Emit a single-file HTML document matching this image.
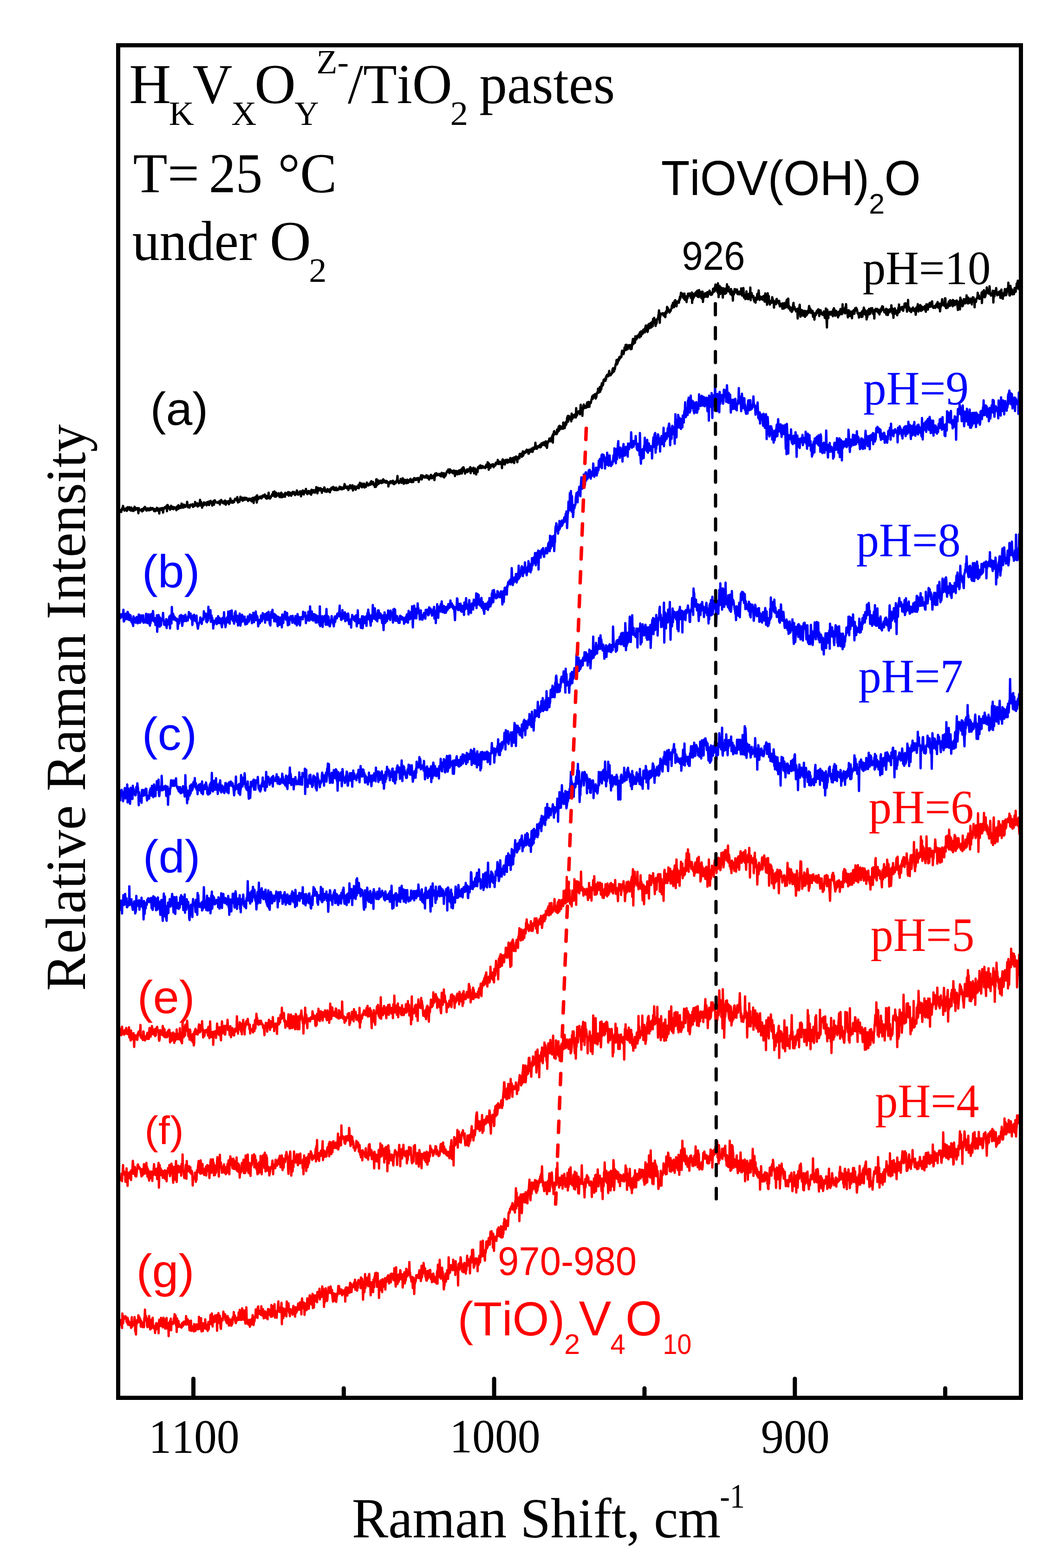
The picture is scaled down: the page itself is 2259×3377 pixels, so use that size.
<!DOCTYPE html>
<html><head><meta charset="utf-8"><title>Raman spectra</title>
<style>html,body{margin:0;padding:0;background:#ffffff;}svg{display:block;}</style></head>
<body>
<svg xmlns="http://www.w3.org/2000/svg" width="2259" height="3377" viewBox="0 0 2259 3377">
<path d="M259.0 1100.6 259.8 1098.5 260.5 1100.3 261.2 1102.7 262.0 1097.6 262.8 1098.5 263.5 1093.7 264.2 1095.1 265.0 1089.6 265.8 1094.1 266.5 1095.1 267.2 1096.4 268.0 1099.8 268.8 1098.0 269.5 1096.2 270.2 1095.8 271.0 1094.9 271.8 1097.0 272.5 1095.1 273.2 1100.3 274.0 1095.1 274.8 1092.3 275.5 1095.1 276.2 1094.0 277.0 1096.9 277.8 1096.5 278.5 1092.2 279.2 1097.9 280.0 1094.9 280.8 1096.8 281.5 1099.5 282.2 1098.2 283.0 1093.0 283.8 1096.1 284.5 1099.9 285.2 1100.0 286.0 1097.0 286.8 1097.0 287.5 1100.6 288.2 1094.7 289.0 1096.4 289.8 1091.5 290.5 1093.2 291.2 1094.6 292.0 1098.2 292.8 1095.7 293.5 1094.3 294.2 1095.8 295.0 1096.3 295.8 1094.7 296.5 1094.6 297.2 1095.4 298.0 1105.4 298.8 1094.2 299.5 1097.7 300.2 1099.0 301.0 1098.8 301.8 1098.8 302.5 1098.4 303.2 1099.4 304.0 1099.1 304.8 1096.7 305.5 1096.3 306.2 1101.4 307.0 1097.5 307.8 1097.1 308.5 1099.8 309.2 1097.2 310.0 1093.8 310.8 1095.1 311.5 1094.8 312.2 1091.8 313.0 1093.8 313.8 1097.2 314.5 1095.3 315.2 1099.7 316.0 1098.7 316.8 1095.5 317.5 1094.9 318.2 1096.0 319.0 1099.0 319.8 1095.4 320.5 1096.3 321.2 1096.8 322.0 1099.0 322.8 1096.6 323.5 1093.9 324.2 1093.8 325.0 1097.7 325.8 1096.1 326.5 1097.0 327.2 1097.0 328.0 1094.2 328.8 1095.7 329.5 1096.9 330.2 1095.2 331.0 1097.3 331.8 1100.7 332.5 1096.3 333.2 1097.0 334.0 1101.1 334.8 1099.5 335.5 1098.9 336.2 1099.1 337.0 1095.6 337.8 1093.7 338.5 1099.7 339.2 1094.9 340.0 1095.0 340.8 1096.3 341.5 1097.0 342.2 1099.3 343.0 1106.0 343.8 1095.6 344.5 1095.3 345.2 1095.9 346.0 1097.9 346.8 1094.9 347.5 1094.5 348.2 1096.2 349.0 1098.7 349.8 1097.2 350.5 1094.1 351.2 1104.0 352.0 1097.8 352.8 1095.6 353.5 1095.2 354.2 1094.0 355.0 1092.2 355.8 1094.0 356.5 1094.6 357.2 1092.7 358.0 1094.3 358.8 1089.0 359.5 1100.9 360.2 1094.2 361.0 1087.4 361.8 1090.3 362.5 1093.7 363.2 1094.4 364.0 1091.9 364.8 1094.1 365.5 1093.4 366.2 1097.9 367.0 1093.9 367.8 1095.3 368.5 1089.2 369.2 1094.9 370.0 1095.5 370.8 1095.7 371.5 1093.8 372.2 1091.7 373.0 1096.3 373.8 1096.6 374.5 1094.9 375.2 1092.4 376.0 1093.7 376.8 1092.8 377.5 1095.0 378.2 1094.1 379.0 1093.5 379.8 1098.9 380.5 1096.9 381.2 1091.0 382.0 1093.7 382.8 1096.3 383.5 1094.1 384.2 1088.1 385.0 1095.6 385.8 1091.4 386.5 1091.3 387.2 1090.2 388.0 1092.1 388.8 1093.1 389.5 1093.9 390.2 1091.7 391.0 1084.5 391.8 1089.0 392.5 1086.6 393.2 1092.2 394.0 1093.4 394.8 1088.5 395.5 1086.7 396.2 1086.9 397.0 1089.1 397.8 1092.1 398.5 1091.3 399.2 1091.3 400.0 1088.2 400.8 1090.7 401.5 1087.9 402.2 1089.0 403.0 1080.7 403.8 1087.5 404.5 1089.8 405.2 1092.6 406.0 1088.2 406.8 1090.4 407.5 1089.1 408.2 1093.3 409.0 1087.7 409.8 1089.0 410.5 1086.9 411.2 1087.7 412.0 1087.1 412.8 1088.6 413.5 1089.1 414.2 1088.8 415.0 1085.8 415.8 1091.8 416.5 1087.1 417.2 1088.0 418.0 1088.1 418.8 1089.7 419.5 1089.1 420.2 1081.0 421.0 1088.8 421.8 1086.8 422.5 1087.2 423.2 1087.2 424.0 1086.3 424.8 1083.9 425.5 1091.0 426.2 1086.9 427.0 1089.6 427.8 1089.3 428.5 1084.9 429.2 1088.3 430.0 1083.2 430.8 1076.6 431.5 1085.6 432.2 1088.7 433.0 1080.9 433.8 1085.0 434.5 1084.6 435.2 1093.4 436.0 1088.6 436.8 1086.6 437.5 1086.5 438.2 1088.9 439.0 1082.1 439.8 1082.8 440.5 1086.8 441.2 1084.0 442.0 1082.8 442.8 1083.3 443.5 1086.3 444.2 1083.3 445.0 1088.5 445.8 1081.7 446.5 1084.2 447.2 1081.1 448.0 1081.3 448.8 1081.3 449.5 1080.5 450.2 1087.7 451.0 1084.0 451.8 1080.1 452.5 1080.4 453.2 1078.7 454.0 1083.1 454.8 1080.2 455.5 1084.4 456.2 1084.3 457.0 1088.9 457.8 1080.4 458.5 1080.9 459.2 1079.8 460.0 1083.3 460.8 1087.0 461.5 1077.8 462.2 1079.5 463.0 1077.7 463.8 1081.8 464.5 1082.1 465.2 1082.1 466.0 1081.5 466.8 1082.3 467.5 1082.2 468.2 1083.0 469.0 1082.9 469.8 1083.0 470.5 1080.3 471.2 1082.1 472.0 1081.1 472.8 1082.7 473.5 1086.6 474.2 1078.6 475.0 1077.8 475.8 1080.4 476.5 1076.8 477.2 1079.9 478.0 1082.2 478.8 1079.8 479.5 1079.9 480.2 1083.4 481.0 1080.8 481.8 1082.9 482.5 1084.6 483.2 1079.4 484.0 1081.6 484.8 1078.1 485.5 1081.5 486.2 1087.1 487.0 1082.1 487.8 1083.6 488.5 1083.3 489.2 1079.9 490.0 1083.1 490.8 1082.1 491.5 1081.4 492.2 1079.4 493.0 1086.0 493.8 1080.2 494.5 1082.4 495.2 1082.4 496.0 1073.4 496.8 1079.2 497.5 1080.8 498.2 1082.3 499.0 1081.7 499.8 1078.6 500.5 1080.4 501.2 1082.9 502.0 1081.4 502.8 1079.5 503.5 1081.2 504.2 1081.3 505.0 1076.5 505.8 1076.0 506.5 1074.0 507.2 1074.2 508.0 1074.9 508.8 1075.9 509.5 1074.3 510.2 1078.3 511.0 1070.6 511.8 1075.4 512.5 1082.3 513.2 1076.9 514.0 1076.7 514.8 1078.8 515.5 1080.7 516.2 1077.2 517.0 1074.8 517.8 1069.8 518.5 1076.1 519.2 1074.3 520.0 1072.0 520.8 1075.6 521.5 1075.6 522.2 1078.4 523.0 1071.9 523.8 1077.7 524.5 1072.4 525.2 1075.3 526.0 1076.7 526.8 1076.1 527.5 1071.7 528.2 1073.1 529.0 1075.1 529.8 1075.9 530.5 1074.4 531.2 1072.6 532.0 1075.3 532.8 1075.3 533.5 1075.9 534.2 1078.9 535.0 1076.2 535.8 1074.4 536.5 1073.9 537.2 1076.7 538.0 1076.7 538.8 1076.2 539.5 1077.4 540.2 1074.1 541.0 1075.0 541.8 1079.8 542.5 1075.5 543.2 1075.2 544.0 1072.4 544.8 1079.9 545.5 1075.0 546.2 1083.2 547.0 1071.8 547.8 1072.7 548.5 1074.6 549.2 1072.7 550.0 1071.3 550.8 1069.5 551.5 1076.9 552.2 1076.8 553.0 1082.4 553.8 1066.7 554.5 1076.7 555.2 1071.1 556.0 1072.5 556.8 1074.5 557.5 1071.1 558.2 1071.3 559.0 1070.2 559.8 1071.0 560.5 1069.3 561.2 1072.5 562.0 1072.0 562.8 1073.5 563.5 1072.5 564.2 1068.5 565.0 1071.0 565.8 1068.2 566.5 1066.9 567.2 1068.2 568.0 1067.2 568.8 1069.6 569.5 1068.2 570.2 1065.0 571.0 1069.8 571.8 1069.8 572.5 1072.9 573.2 1073.3 574.0 1068.1 574.8 1074.1 575.5 1070.5 576.2 1070.1 577.0 1072.0 577.8 1067.4 578.5 1061.1 579.2 1072.9 580.0 1072.2 580.8 1073.5 581.5 1073.7 582.2 1072.9 583.0 1071.2 583.8 1069.4 584.5 1067.7 585.2 1068.1 586.0 1064.5 586.8 1066.6 587.5 1067.3 588.2 1059.7 589.0 1066.0 589.8 1068.0 590.5 1059.9 591.2 1058.5 592.0 1069.7 592.8 1067.4 593.5 1066.1 594.2 1069.8 595.0 1061.2 595.8 1068.0 596.5 1066.5 597.2 1065.5 598.0 1065.7 598.8 1066.9 599.5 1067.0 600.2 1062.3 601.0 1069.1 601.8 1063.8 602.5 1070.5 603.2 1064.6 604.0 1068.4 604.8 1070.6 605.5 1061.1 606.2 1061.7 607.0 1070.9 607.8 1066.4 608.5 1070.3 609.2 1064.9 610.0 1065.3 610.8 1068.7 611.5 1069.2 612.2 1064.3 613.0 1065.9 613.8 1069.9 614.5 1061.2 615.2 1062.2 616.0 1065.3 616.8 1064.0 617.5 1063.4 618.2 1062.3 619.0 1065.0 619.8 1062.5 620.5 1059.7 621.2 1066.7 622.0 1067.5 622.8 1065.7 623.5 1060.5 624.2 1063.9 625.0 1061.3 625.8 1064.5 626.5 1063.0 627.2 1067.8 628.0 1064.5 628.8 1064.6 629.5 1060.3 630.2 1059.5 631.0 1061.3 631.8 1062.6 632.5 1063.2 633.2 1059.6 634.0 1064.9 634.8 1060.7 635.5 1066.2 636.2 1062.8 637.0 1063.7 637.8 1061.0 638.5 1062.0 639.2 1056.2 640.0 1058.2 640.8 1064.9 641.5 1061.7 642.2 1061.2 643.0 1065.2 643.8 1061.1 644.5 1060.2 645.2 1061.6 646.0 1058.3 646.8 1060.0 647.5 1058.0 648.2 1068.9 649.0 1062.4 649.8 1062.5 650.5 1064.0 651.2 1063.5 652.0 1056.2 652.8 1059.5 653.5 1062.0 654.2 1065.0 655.0 1058.8 655.8 1057.7 656.5 1058.3 657.2 1060.1 658.0 1058.3 658.8 1053.0 659.5 1061.2 660.2 1059.9 661.0 1060.6 661.8 1064.2 662.5 1059.4 663.2 1061.2 664.0 1057.6 664.8 1057.5 665.5 1059.9 666.2 1062.8 667.0 1058.7 667.8 1059.9 668.5 1058.0 669.2 1063.1 670.0 1065.5 670.8 1054.7 671.5 1060.6 672.2 1060.6 673.0 1060.5 673.8 1060.9 674.5 1055.5 675.2 1057.6 676.0 1058.4 676.8 1056.2 677.5 1058.7 678.2 1061.2 679.0 1056.1 679.8 1054.8 680.5 1057.8 681.2 1049.1 682.0 1056.3 682.8 1052.0 683.5 1062.5 684.2 1058.6 685.0 1050.7 685.8 1054.8 686.5 1053.6 687.2 1056.3 688.0 1053.7 688.8 1054.1 689.5 1051.3 690.2 1055.9 691.0 1054.5 691.8 1052.6 692.5 1058.4 693.2 1061.3 694.0 1053.5 694.8 1056.4 695.5 1057.2 696.2 1054.7 697.0 1055.3 697.8 1054.2 698.5 1049.6 699.2 1051.3 700.0 1058.4 700.8 1057.0 701.5 1057.0 702.2 1056.3 703.0 1059.2 703.8 1055.6 704.5 1056.3 705.2 1053.3 706.0 1054.6 706.8 1058.4 707.5 1058.1 708.2 1056.4 709.0 1055.0 709.8 1053.8 710.5 1060.3 711.2 1054.9 712.0 1056.2 712.8 1055.0 713.5 1050.9 714.2 1052.6 715.0 1050.0 715.8 1052.3 716.5 1053.0 717.2 1051.9 718.0 1048.6 718.8 1054.7 719.5 1055.1 720.2 1052.1 721.0 1050.9 721.8 1055.6 722.5 1051.8 723.2 1054.4 724.0 1050.1 724.8 1054.5 725.5 1055.6 726.2 1052.8 727.0 1055.5 727.8 1054.8 728.5 1053.3 729.2 1054.1 730.0 1051.2 730.8 1050.4 731.5 1048.1 732.2 1049.2 733.0 1053.2 733.8 1049.4 734.5 1049.4 735.2 1050.2 736.0 1054.0 736.8 1052.4 737.5 1050.0 738.2 1053.0 739.0 1050.9 739.8 1049.7 740.5 1052.7 741.2 1048.6 742.0 1042.6 742.8 1048.1 743.5 1045.7 744.2 1049.3 745.0 1050.5 745.8 1050.7 746.5 1051.5 747.2 1050.2 748.0 1048.2 748.8 1049.4 749.5 1048.0 750.2 1055.5 751.0 1051.2 751.8 1051.4 752.5 1047.3 753.2 1048.3 754.0 1045.0 754.8 1046.1 755.5 1051.6 756.2 1048.6 757.0 1049.2 757.8 1048.2 758.5 1050.5 759.2 1045.1 760.0 1056.4 760.8 1051.9 761.5 1048.5 762.2 1049.9 763.0 1050.2 763.8 1047.3 764.5 1052.7 765.2 1052.5 766.0 1054.6 766.8 1051.5 767.5 1048.0 768.2 1049.1 769.0 1049.2 769.8 1048.9 770.5 1050.9 771.2 1048.5 772.0 1044.5 772.8 1051.4 773.5 1047.0 774.2 1045.0 775.0 1039.8 775.8 1041.5 776.5 1042.3 777.2 1047.2 778.0 1045.3 778.8 1041.3 779.5 1049.6 780.2 1045.6 781.0 1042.2 781.8 1043.1 782.5 1047.3 783.2 1045.5 784.0 1041.6 784.8 1049.9 785.5 1044.7 786.2 1043.9 787.0 1048.4 787.8 1048.7 788.5 1045.9 789.2 1044.5 790.0 1039.3 790.8 1044.2 791.5 1042.6 792.2 1043.1 793.0 1045.7 793.8 1044.5 794.5 1044.8 795.2 1041.9 796.0 1043.8 796.8 1042.9 797.5 1043.9 798.2 1038.2 799.0 1043.3 799.8 1036.3 800.5 1041.9 801.2 1040.6 802.0 1041.5 802.8 1042.4 803.5 1037.9 804.2 1044.3 805.0 1041.8 805.8 1045.2 806.5 1044.0 807.2 1048.9 808.0 1046.2 808.8 1040.7 809.5 1048.5 810.2 1032.6 811.0 1032.2 811.8 1044.9 812.5 1042.3 813.2 1041.8 814.0 1042.7 814.8 1034.7 815.5 1039.6 816.2 1041.4 817.0 1037.9 817.8 1037.9 818.5 1039.6 819.2 1037.5 820.0 1035.0 820.8 1038.4 821.5 1040.4 822.2 1039.7 823.0 1036.4 823.8 1039.5 824.5 1036.0 825.2 1032.2 826.0 1037.2 826.8 1034.2 827.5 1038.4 828.2 1038.6 829.0 1037.6 829.8 1035.9 830.5 1037.7 831.2 1039.6 832.0 1035.8 832.8 1035.9 833.5 1038.2 834.2 1037.7 835.0 1039.7 835.8 1039.8 836.5 1047.8 837.2 1040.6 838.0 1041.8 838.8 1038.3 839.5 1041.0 840.2 1040.2 841.0 1036.2 841.8 1039.1 842.5 1038.6 843.2 1038.4 844.0 1036.8 844.8 1040.8 845.5 1037.9 846.2 1035.3 847.0 1039.4 847.8 1042.2 848.5 1042.7 849.2 1042.2 850.0 1037.7 850.8 1040.8 851.5 1037.9 852.2 1040.6 853.0 1036.4 853.8 1036.0 854.5 1034.6 855.2 1032.9 856.0 1025.1 856.8 1038.1 857.5 1036.8 858.2 1036.1 859.0 1040.6 859.8 1037.7 860.5 1037.8 861.2 1035.7 862.0 1038.7 862.8 1031.6 863.5 1032.3 864.2 1034.2 865.0 1039.8 865.8 1036.8 866.5 1037.5 867.2 1030.0 868.0 1031.9 868.8 1035.0 869.5 1042.0 870.2 1039.4 871.0 1036.1 871.8 1033.2 872.5 1039.9 873.2 1037.1 874.0 1038.1 874.8 1034.6 875.5 1040.8 876.2 1039.2 877.0 1033.0 877.8 1036.4 878.5 1040.0 879.2 1037.4 880.0 1034.4 880.8 1036.2 881.5 1036.5 882.2 1034.5 883.0 1037.6 883.8 1031.3 884.5 1034.8 885.2 1036.0 886.0 1034.9 886.8 1038.5 887.5 1036.3 888.2 1037.0 889.0 1032.5 889.8 1038.1 890.5 1035.5 891.2 1031.8 892.0 1029.5 892.8 1032.4 893.5 1032.3 894.2 1030.9 895.0 1033.8 895.8 1032.5 896.5 1030.2 897.2 1033.4 898.0 1032.2 898.8 1030.7 899.5 1029.7 900.2 1029.6 901.0 1031.4 901.8 1038.1 902.5 1031.2 903.2 1033.0 904.0 1031.6 904.8 1028.9 905.5 1027.2 906.2 1026.5 907.0 1023.6 907.8 1032.6 908.5 1032.0 909.2 1025.5 910.0 1023.9 910.8 1025.5 911.5 1026.5 912.2 1027.8 913.0 1025.5 913.8 1027.1 914.5 1026.5 915.2 1028.7 916.0 1026.6 916.8 1027.0 917.5 1025.0 918.2 1023.6 919.0 1026.8 919.8 1029.1 920.5 1027.6 921.2 1024.6 922.0 1030.0 922.8 1028.7 923.5 1029.9 924.2 1032.8 925.0 1028.4 925.8 1030.2 926.5 1024.7 927.2 1026.8 928.0 1022.7 928.8 1023.8 929.5 1027.6 930.2 1030.1 931.0 1026.2 931.8 1025.2 932.5 1025.3 933.2 1026.3 934.0 1025.6 934.8 1023.2 935.5 1034.1 936.2 1028.3 937.0 1020.1 937.8 1023.8 938.5 1022.4 939.2 1024.2 940.0 1019.1 940.8 1021.5 941.5 1023.1 942.2 1022.5 943.0 1023.3 943.8 1023.0 944.5 1023.1 945.2 1020.9 946.0 1022.7 946.8 1020.8 947.5 1024.5 948.2 1024.0 949.0 1020.9 949.8 1026.0 950.5 1025.3 951.2 1018.3 952.0 1019.6 952.8 1020.8 953.5 1021.6 954.2 1026.3 955.0 1026.5 955.8 1019.0 956.5 1028.2 957.2 1020.7 958.0 1021.9 958.8 1025.2 959.5 1021.6 960.2 1023.1 961.0 1018.9 961.8 1016.8 962.5 1017.3 963.2 1014.3 964.0 1015.9 964.8 1014.9 965.5 1011.0 966.2 1015.3 967.0 1011.5 967.8 1019.1 968.5 1013.5 969.2 1010.9 970.0 1013.2 970.8 1014.8 971.5 1016.3 972.2 1015.2 973.0 1013.8 973.8 1018.0 974.5 1015.4 975.2 1014.6 976.0 1019.3 976.8 1018.6 977.5 1013.3 978.2 1015.7 979.0 1017.6 979.8 1025.3 980.5 1016.3 981.2 1017.2 982.0 1014.3 982.8 1014.9 983.5 1014.7 984.2 1020.1 985.0 1021.7 985.8 1014.9 986.5 1020.4 987.2 1018.9 988.0 1013.5 988.8 1017.3 989.5 1020.9 990.2 1015.8 991.0 1012.2 991.8 1013.8 992.5 1016.7 993.2 1019.4 994.0 1010.7 994.8 1019.6 995.5 1008.4 996.2 1015.3 997.0 1010.8 997.8 1006.2 998.5 1007.1 999.2 1009.9 1000.0 1015.1 1000.8 1014.8 1001.5 1019.9 1002.2 1014.7 1003.0 1013.4 1003.8 1015.8 1004.5 1013.0 1005.2 1016.8 1006.0 1010.7 1006.8 1016.5 1007.5 1011.1 1008.2 1015.4 1009.0 1011.6 1009.8 1013.1 1010.5 1010.9 1011.2 1008.7 1012.0 1009.0 1012.8 1006.1 1013.5 1019.1 1014.2 1007.7 1015.0 1010.7 1015.8 1013.9 1016.5 1012.7 1017.2 1014.4 1018.0 1011.2 1018.8 1012.7 1019.5 1007.3 1020.2 1009.7 1021.0 1019.5 1021.8 1014.9 1022.5 1010.5 1023.2 1009.0 1024.0 1012.6 1024.8 1014.4 1025.5 1021.7 1026.2 1012.1 1027.0 1015.0 1027.8 1014.2 1028.5 1016.7 1029.2 1006.5 1030.0 1008.8 1030.8 1008.6 1031.5 1006.1 1032.2 1003.9 1033.0 1006.2 1033.8 1007.9 1034.5 1002.3 1035.2 1003.6 1036.0 1005.1 1036.8 1008.2 1037.5 1005.2 1038.2 1003.5 1039.0 1004.2 1039.8 1006.7 1040.5 1004.4 1041.2 1007.4 1042.0 1005.7 1042.8 1005.6 1043.5 1006.2 1044.2 1005.7 1045.0 1008.2 1045.8 1004.2 1046.5 1002.9 1047.2 1000.9 1048.0 1005.8 1048.8 1001.1 1049.5 1004.9 1050.2 995.4 1051.0 998.2 1051.8 1002.2 1052.5 1011.7 1053.2 998.5 1054.0 1003.9 1054.8 1002.6 1055.5 1006.5 1056.2 1007.5 1057.0 1002.1 1057.8 1001.4 1058.5 1000.8 1059.2 1003.6 1060.0 1002.1 1060.8 1000.2 1061.5 1001.8 1062.2 999.9 1063.0 1006.2 1063.8 1002.2 1064.5 1003.5 1065.2 1000.9 1066.0 1002.8 1066.8 1002.4 1067.5 996.8 1068.2 998.7 1069.0 998.0 1069.8 996.0 1070.5 998.9 1071.2 997.3 1072.0 990.4 1072.8 998.8 1073.5 994.4 1074.2 999.4 1075.0 995.2 1075.8 996.5 1076.5 994.4 1077.2 998.9 1078.0 997.3 1078.8 995.9 1079.5 998.7 1080.2 997.2 1081.0 1008.1 1081.8 991.0 1082.5 989.4 1083.2 991.6 1084.0 991.0 1084.8 999.6 1085.5 993.1 1086.2 996.3 1087.0 1000.4 1087.8 998.6 1088.5 990.7 1089.2 992.9 1090.0 992.9 1090.8 993.0 1091.5 995.0 1092.2 990.0 1093.0 996.8 1093.8 992.9 1094.5 994.5 1095.2 993.1 1096.0 990.6 1096.8 995.1 1097.5 994.4 1098.2 992.5 1099.0 986.4 1099.8 992.8 1100.5 988.8 1101.2 995.7 1102.0 987.8 1102.8 989.6 1103.5 986.9 1104.2 994.7 1105.0 987.8 1105.8 990.2 1106.5 985.4 1107.2 997.3 1108.0 989.1 1108.8 990.4 1109.5 984.2 1110.2 987.3 1111.0 983.2 1111.8 986.5 1112.5 984.0 1113.2 988.6 1114.0 995.5 1114.8 987.8 1115.5 986.0 1116.2 985.8 1117.0 985.4 1117.8 982.0 1118.5 987.2 1119.2 977.5 1120.0 982.0 1120.8 981.4 1121.5 981.8 1122.2 977.3 1123.0 977.3 1123.8 983.7 1124.5 979.9 1125.2 975.9 1126.0 972.0 1126.8 981.2 1127.5 977.8 1128.2 977.1 1129.0 974.3 1129.8 973.6 1130.5 975.4 1131.2 972.6 1132.0 971.5 1132.8 974.1 1133.5 970.7 1134.2 968.5 1135.0 970.9 1135.8 969.4 1136.5 972.5 1137.2 969.5 1138.0 977.2 1138.8 976.9 1139.5 971.3 1140.2 968.3 1141.0 973.2 1141.8 970.9 1142.5 972.1 1143.2 971.7 1144.0 972.8 1144.8 965.9 1145.5 970.6 1146.2 970.2 1147.0 973.1 1147.8 968.1 1148.5 964.0 1149.2 967.7 1150.0 964.7 1150.8 967.1 1151.5 966.0 1152.2 963.0 1153.0 953.5 1153.8 964.6 1154.5 965.9 1155.2 964.7 1156.0 966.6 1156.8 961.3 1157.5 965.0 1158.2 961.9 1159.0 961.6 1159.8 960.6 1160.5 960.9 1161.2 960.2 1162.0 962.9 1162.8 958.1 1163.5 963.5 1164.2 961.3 1165.0 962.4 1165.8 955.1 1166.5 956.9 1167.2 959.0 1168.0 958.6 1168.8 953.7 1169.5 957.1 1170.2 953.0 1171.0 955.3 1171.8 956.9 1172.5 958.9 1173.2 952.1 1174.0 951.6 1174.8 957.3 1175.5 950.5 1176.2 961.3 1177.0 952.3 1177.8 964.7 1178.5 959.4 1179.2 952.6 1180.0 950.6 1180.8 952.6 1181.5 949.8 1182.2 949.6 1183.0 944.4 1183.8 947.2 1184.5 946.6 1185.2 944.2 1186.0 950.4 1186.8 944.3 1187.5 942.9 1188.2 941.7 1189.0 943.0 1189.8 937.5 1190.5 953.3 1191.2 934.9 1192.0 937.5 1192.8 930.0 1193.5 928.5 1194.2 933.7 1195.0 935.1 1195.8 933.9 1196.5 933.2 1197.2 933.5 1198.0 932.1 1198.8 935.0 1199.5 925.3 1200.2 931.9 1201.0 930.1 1201.8 927.1 1202.5 923.0 1203.2 918.9 1204.0 927.5 1204.8 916.9 1205.5 923.3 1206.2 920.7 1207.0 917.8 1207.8 923.9 1208.5 920.0 1209.2 920.3 1210.0 919.7 1210.8 920.3 1211.5 918.9 1212.2 923.6 1213.0 910.0 1213.8 916.8 1214.5 919.1 1215.2 915.7 1216.0 922.3 1216.8 915.8 1217.5 916.7 1218.2 909.3 1219.0 915.0 1219.8 912.5 1220.5 908.1 1221.2 900.8 1222.0 898.4 1222.8 895.8 1223.5 908.0 1224.2 898.9 1225.0 895.8 1225.8 900.3 1226.5 902.6 1227.2 897.6 1228.0 899.0 1228.8 901.6 1229.5 900.3 1230.2 907.4 1231.0 890.8 1231.8 897.4 1232.5 902.2 1233.2 896.9 1234.0 897.2 1234.8 899.1 1235.5 894.2 1236.2 893.3 1237.0 894.2 1237.8 898.4 1238.5 893.5 1239.2 892.1 1240.0 899.2 1240.8 879.0 1241.5 891.4 1242.2 895.4 1243.0 892.4 1243.8 890.3 1244.5 889.1 1245.2 886.6 1246.0 887.2 1246.8 885.5 1247.5 887.5 1248.2 886.4 1249.0 892.3 1249.8 883.1 1250.5 871.7 1251.2 878.4 1252.0 885.2 1252.8 888.5 1253.5 880.4 1254.2 895.7 1255.0 877.9 1255.8 881.5 1256.5 872.6 1257.2 871.3 1258.0 878.9 1258.8 877.5 1259.5 875.1 1260.2 878.1 1261.0 877.6 1261.8 878.3 1262.5 873.5 1263.2 875.1 1264.0 868.7 1264.8 866.5 1265.5 867.4 1266.2 876.7 1267.0 869.5 1267.8 865.6 1268.5 866.8 1269.2 876.3 1270.0 868.0 1270.8 869.0 1271.5 867.9 1272.2 868.0 1273.0 864.0 1273.8 860.2 1274.5 858.7 1275.2 854.1 1276.0 852.9 1276.8 859.0 1277.5 854.1 1278.2 851.0 1279.0 854.2 1279.8 855.1 1280.5 855.7 1281.2 849.0 1282.0 848.6 1282.8 858.4 1283.5 853.1 1284.2 855.6 1285.0 848.8 1285.8 846.9 1286.5 844.6 1287.2 846.5 1288.0 836.9 1288.8 845.7 1289.5 837.9 1290.2 841.0 1291.0 844.6 1291.8 833.4 1292.5 843.7 1293.2 837.6 1294.0 832.3 1294.8 838.7 1295.5 828.2 1296.2 825.3 1297.0 831.5 1297.8 827.9 1298.5 829.2 1299.2 823.6 1300.0 817.8 1300.8 819.0 1301.5 817.1 1302.2 817.2 1303.0 816.6 1303.8 820.4 1304.5 813.0 1305.2 816.5 1306.0 809.4 1306.8 809.7 1307.5 807.2 1308.2 807.6 1309.0 806.7 1309.8 810.5 1310.5 807.3 1311.2 803.2 1312.0 798.7 1312.8 808.6 1313.5 806.5 1314.2 805.5 1315.0 808.2 1315.8 806.6 1316.5 805.6 1317.2 804.6 1318.0 803.8 1318.8 797.7 1319.5 794.4 1320.2 793.1 1321.0 801.2 1321.8 799.1 1322.5 799.8 1323.2 792.6 1324.0 795.3 1324.8 790.0 1325.5 786.1 1326.2 783.6 1327.0 784.5 1327.8 775.2 1328.5 784.9 1329.2 779.7 1330.0 782.3 1330.8 773.9 1331.5 777.8 1332.2 776.5 1333.0 775.3 1333.8 769.0 1334.5 768.5 1335.2 772.0 1336.0 769.7 1336.8 769.9 1337.5 769.0 1338.2 768.9 1339.0 758.6 1339.8 755.3 1340.5 758.6 1341.2 760.5 1342.0 758.9 1342.8 762.7 1343.5 759.0 1344.2 756.2 1345.0 748.5 1345.8 754.0 1346.5 753.8 1347.2 743.0 1348.0 750.2 1348.8 753.6 1349.5 742.6 1350.2 749.7 1351.0 744.9 1351.8 752.1 1352.5 749.1 1353.2 746.4 1354.0 743.9 1354.8 743.1 1355.5 747.3 1356.2 748.3 1357.0 744.7 1357.8 752.0 1358.5 743.2 1359.2 747.2 1360.0 751.9 1360.8 746.3 1361.5 739.1 1362.2 736.0 1363.0 730.1 1363.8 741.2 1364.5 737.2 1365.2 730.9 1366.0 729.7 1366.8 735.4 1367.5 738.1 1368.2 724.2 1369.0 724.6 1369.8 729.0 1370.5 730.8 1371.2 728.6 1372.0 728.3 1372.8 723.0 1373.5 725.8 1374.2 724.3 1375.0 721.8 1375.8 720.1 1376.5 724.3 1377.2 726.9 1378.0 715.7 1378.8 715.8 1379.5 723.1 1380.2 724.3 1381.0 713.6 1381.8 720.6 1382.5 719.3 1383.2 714.9 1384.0 718.7 1384.8 714.2 1385.5 709.9 1386.2 713.2 1387.0 713.8 1387.8 708.7 1388.5 716.0 1389.2 712.8 1390.0 704.1 1390.8 701.0 1391.5 707.9 1392.2 707.2 1393.0 706.4 1393.8 713.2 1394.5 715.0 1395.2 712.0 1396.0 699.3 1396.8 708.2 1397.5 702.8 1398.2 697.2 1399.0 700.4 1399.8 705.7 1400.5 701.5 1401.2 706.0 1402.0 695.1 1402.8 700.4 1403.5 704.1 1404.2 699.2 1405.0 692.5 1405.8 702.5 1406.5 686.7 1407.2 687.9 1408.0 692.7 1408.8 684.5 1409.5 687.2 1410.2 695.5 1411.0 689.7 1411.8 702.1 1412.5 690.8 1413.2 697.7 1414.0 695.9 1414.8 687.7 1415.5 687.7 1416.2 685.6 1417.0 686.9 1417.8 679.6 1418.5 675.1 1419.2 668.5 1420.0 683.0 1420.8 695.2 1421.5 676.1 1422.2 681.3 1423.0 675.3 1423.8 677.0 1424.5 676.2 1425.2 676.1 1426.0 675.2 1426.8 676.3 1427.5 674.6 1428.2 677.6 1429.0 679.6 1429.8 676.9 1430.5 674.7 1431.2 679.3 1432.0 682.0 1432.8 683.1 1433.5 672.3 1434.2 674.3 1435.0 670.0 1435.8 674.3 1436.5 661.1 1437.2 668.0 1438.0 670.1 1438.8 664.1 1439.5 669.6 1440.2 670.0 1441.0 669.8 1441.8 673.1 1442.5 671.7 1443.2 668.4 1444.0 669.9 1444.8 666.9 1445.5 664.9 1446.2 664.3 1447.0 657.7 1447.8 662.6 1448.5 656.5 1449.2 652.3 1450.0 652.7 1450.8 658.7 1451.5 661.7 1452.2 650.9 1453.0 647.5 1453.8 651.7 1454.5 646.6 1455.2 650.5 1456.0 658.8 1456.8 659.7 1457.5 653.7 1458.2 650.5 1459.0 649.9 1459.8 649.0 1460.5 650.9 1461.2 650.9 1462.0 652.0 1462.8 645.0 1463.5 646.6 1464.2 639.2 1465.0 643.2 1465.8 636.8 1466.5 630.4 1467.2 636.9 1468.0 636.5 1468.8 632.3 1469.5 632.8 1470.2 636.8 1471.0 641.0 1471.8 632.9 1472.5 643.0 1473.2 640.6 1474.0 632.3 1474.8 645.8 1475.5 643.3 1476.2 644.6 1477.0 639.2 1477.8 638.5 1478.5 650.7 1479.2 638.4 1480.0 639.6 1480.8 642.1 1481.5 632.6 1482.2 635.2 1483.0 636.8 1483.8 632.4 1484.5 636.7 1485.2 631.9 1486.0 637.5 1486.8 635.1 1487.5 641.3 1488.2 637.5 1489.0 633.4 1489.8 630.0 1490.5 652.4 1491.2 635.8 1492.0 645.2 1492.8 637.4 1493.5 635.9 1494.2 640.7 1495.0 632.2 1495.8 635.3 1496.5 632.5 1497.2 634.1 1498.0 630.2 1498.8 636.9 1499.5 628.5 1500.2 633.7 1501.0 629.9 1501.8 626.0 1502.5 639.1 1503.2 637.9 1504.0 631.1 1504.8 639.7 1505.5 624.8 1506.2 632.6 1507.0 628.4 1507.8 632.4 1508.5 635.0 1509.2 630.0 1510.0 641.7 1510.8 628.4 1511.5 631.9 1512.2 643.7 1513.0 628.0 1513.8 650.3 1514.5 639.4 1515.2 637.9 1516.0 640.3 1516.8 635.7 1517.5 635.1 1518.2 631.7 1519.0 638.9 1519.8 636.2 1520.5 631.0 1521.2 637.0 1522.0 632.9 1522.8 639.2 1523.5 628.9 1524.2 639.3 1525.0 633.0 1525.8 634.0 1526.5 631.6 1527.2 628.3 1528.0 625.9 1528.8 627.9 1529.5 630.3 1530.2 632.7 1531.0 635.2 1531.8 633.1 1532.5 631.4 1533.2 634.2 1534.0 632.2 1534.8 630.4 1535.5 622.1 1536.2 625.7 1537.0 623.6 1537.8 621.1 1538.5 628.2 1539.2 619.1 1540.0 618.7 1540.8 612.7 1541.5 620.2 1542.2 625.5 1543.0 620.3 1543.8 621.3 1544.5 625.5 1545.2 629.7 1546.0 610.2 1546.8 624.1 1547.5 640.1 1548.2 629.5 1549.0 626.6 1549.8 616.0 1550.5 629.2 1551.2 633.0 1552.0 631.7 1552.8 619.4 1553.5 619.6 1554.2 626.7 1555.0 624.8 1555.8 627.2 1556.5 640.9 1557.2 633.3 1558.0 620.7 1558.8 626.6 1559.5 625.0 1560.2 627.2 1561.0 630.7 1561.8 632.7 1562.5 628.1 1563.2 621.2 1564.0 630.9 1564.8 625.7 1565.5 612.3 1566.2 618.6 1567.0 626.3 1567.8 623.4 1568.5 626.1 1569.2 617.8 1570.0 628.3 1570.8 627.5 1571.5 623.6 1572.2 626.8 1573.0 633.5 1573.8 628.0 1574.5 622.5 1575.2 626.5 1576.0 635.8 1576.8 627.5 1577.5 630.9 1578.2 647.4 1579.0 633.5 1579.8 634.2 1580.5 634.0 1581.2 630.2 1582.0 622.6 1582.8 627.9 1583.5 624.5 1584.2 623.5 1585.0 629.8 1585.8 625.9 1586.5 624.3 1587.2 623.6 1588.0 632.8 1588.8 627.1 1589.5 633.7 1590.2 631.2 1591.0 633.0 1591.8 633.7 1592.5 634.0 1593.2 633.3 1594.0 627.4 1594.8 627.7 1595.5 631.0 1596.2 621.0 1597.0 628.2 1597.8 636.4 1598.5 636.4 1599.2 631.7 1600.0 632.6 1600.8 620.3 1601.5 629.6 1602.2 641.1 1603.0 636.7 1603.8 637.0 1604.5 639.1 1605.2 644.3 1606.0 637.9 1606.8 633.4 1607.5 627.6 1608.2 636.2 1609.0 641.2 1609.8 643.8 1610.5 642.8 1611.2 644.2 1612.0 635.1 1612.8 632.9 1613.5 636.7 1614.2 637.1 1615.0 642.8 1615.8 619.2 1616.5 646.6 1617.2 636.0 1618.0 632.2 1618.8 631.3 1619.5 638.2 1620.2 639.6 1621.0 639.2 1621.8 637.3 1622.5 637.8 1623.2 645.8 1624.0 646.1 1624.8 649.6 1625.5 644.6 1626.2 642.5 1627.0 651.8 1627.8 641.0 1628.5 641.0 1629.2 646.1 1630.0 640.0 1630.8 633.0 1631.5 644.5 1632.2 640.0 1633.0 635.3 1633.8 625.5 1634.5 634.8 1635.2 640.1 1636.0 645.9 1636.8 638.6 1637.5 644.2 1638.2 643.5 1639.0 639.5 1639.8 640.3 1640.5 639.6 1641.2 643.7 1642.0 645.4 1642.8 642.7 1643.5 642.7 1644.2 637.3 1645.0 646.0 1645.8 646.0 1646.5 649.5 1647.2 645.7 1648.0 632.1 1648.8 644.4 1649.5 649.8 1650.2 649.8 1651.0 648.0 1651.8 656.2 1652.5 647.9 1653.2 631.5 1654.0 641.4 1654.8 646.4 1655.5 637.5 1656.2 649.4 1657.0 651.8 1657.8 655.9 1658.5 649.3 1659.2 648.1 1660.0 649.4 1660.8 651.5 1661.5 652.1 1662.2 651.0 1663.0 640.1 1663.8 644.8 1664.5 645.6 1665.2 647.1 1666.0 650.2 1666.8 662.5 1667.5 649.0 1668.2 651.3 1669.0 650.6 1669.8 648.8 1670.5 653.4 1671.2 655.0 1672.0 644.5 1672.8 643.8 1673.5 647.8 1674.2 649.0 1675.0 651.1 1675.8 651.4 1676.5 650.2 1677.2 654.0 1678.0 648.0 1678.8 657.2 1679.5 659.8 1680.2 658.5 1681.0 654.8 1681.8 658.0 1682.5 655.6 1683.2 654.2 1684.0 657.0 1684.8 664.8 1685.5 661.8 1686.2 653.0 1687.0 662.8 1687.8 664.6 1688.5 657.3 1689.2 661.8 1690.0 662.0 1690.8 652.2 1691.5 662.7 1692.2 653.0 1693.0 655.9 1693.8 647.7 1694.5 645.5 1695.2 654.4 1696.0 661.1 1696.8 658.6 1697.5 643.1 1698.2 664.4 1699.0 658.4 1699.8 661.1 1700.5 661.1 1701.2 661.5 1702.0 668.7 1702.8 662.5 1703.5 662.8 1704.2 669.8 1705.0 671.7 1705.8 666.4 1706.5 669.4 1707.2 662.1 1708.0 656.8 1708.8 652.3 1709.5 661.9 1710.2 664.3 1711.0 661.0 1711.8 666.9 1712.5 667.1 1713.2 667.9 1714.0 670.6 1714.8 666.0 1715.5 666.9 1716.2 666.4 1717.0 665.7 1717.8 686.1 1718.5 674.9 1719.2 664.0 1720.0 672.2 1720.8 671.8 1721.5 661.5 1722.2 656.3 1723.0 671.4 1723.8 682.1 1724.5 671.1 1725.2 667.5 1726.0 670.4 1726.8 670.8 1727.5 668.2 1728.2 679.6 1729.0 674.9 1729.8 675.1 1730.5 679.7 1731.2 669.9 1732.0 672.3 1732.8 669.5 1733.5 682.5 1734.2 677.5 1735.0 670.2 1735.8 672.2 1736.5 679.3 1737.2 677.4 1738.0 677.3 1738.8 674.7 1739.5 669.4 1740.2 668.9 1741.0 673.9 1741.8 663.5 1742.5 659.0 1743.2 664.2 1744.0 672.7 1744.8 664.4 1745.5 668.4 1746.2 667.5 1747.0 674.1 1747.8 668.6 1748.5 672.9 1749.2 675.1 1750.0 669.8 1750.8 682.2 1751.5 674.7 1752.2 674.3 1753.0 678.0 1753.8 688.4 1754.5 681.0 1755.2 680.2 1756.0 676.0 1756.8 673.8 1757.5 677.7 1758.2 672.8 1759.0 669.7 1759.8 669.3 1760.5 673.3 1761.2 668.1 1762.0 666.3 1762.8 668.3 1763.5 666.8 1764.2 680.7 1765.0 672.9 1765.8 671.4 1766.5 670.6 1767.2 668.2 1768.0 673.5 1768.8 672.9 1769.5 677.1 1770.2 674.9 1771.0 677.2 1771.8 677.6 1772.5 678.5 1773.2 678.5 1774.0 670.8 1774.8 677.0 1775.5 676.3 1776.2 684.8 1777.0 681.6 1777.8 679.8 1778.5 664.4 1779.2 685.9 1780.0 688.9 1780.8 705.3 1781.5 667.0 1782.2 670.4 1783.0 674.9 1783.8 685.2 1784.5 674.3 1785.2 674.9 1786.0 675.4 1786.8 672.4 1787.5 671.6 1788.2 674.7 1789.0 677.6 1789.8 673.0 1790.5 675.1 1791.2 671.4 1792.0 674.2 1792.8 674.5 1793.5 681.0 1794.2 667.0 1795.0 671.9 1795.8 663.7 1796.5 679.1 1797.2 667.0 1798.0 673.7 1798.8 680.0 1799.5 679.8 1800.2 674.4 1801.0 669.6 1801.8 677.3 1802.5 673.1 1803.2 675.2 1804.0 676.4 1804.8 683.4 1805.5 672.2 1806.2 672.3 1807.0 679.3 1807.8 670.1 1808.5 670.1 1809.2 672.8 1810.0 665.4 1810.8 670.6 1811.5 676.6 1812.2 666.8 1813.0 676.4 1813.8 676.0 1814.5 655.2 1815.2 671.0 1816.0 667.3 1816.8 671.2 1817.5 665.1 1818.2 670.7 1819.0 673.8 1819.8 674.9 1820.5 662.0 1821.2 663.5 1822.0 655.0 1822.8 671.2 1823.5 671.4 1824.2 674.4 1825.0 674.6 1825.8 683.5 1826.5 671.5 1827.2 668.1 1828.0 668.9 1828.8 669.2 1829.5 676.1 1830.2 680.7 1831.0 678.9 1831.8 671.2 1832.5 675.2 1833.2 680.3 1834.0 680.7 1834.8 685.4 1835.5 670.6 1836.2 673.6 1837.0 676.3 1837.8 671.7 1838.5 668.1 1839.2 671.6 1840.0 675.8 1840.8 668.7 1841.5 663.9 1842.2 667.2 1843.0 668.8 1843.8 663.0 1844.5 665.8 1845.2 665.7 1846.0 668.8 1846.8 674.9 1847.5 674.1 1848.2 675.0 1849.0 678.1 1849.8 683.9 1850.5 679.5 1851.2 674.6 1852.0 674.0 1852.8 674.6 1853.5 674.2 1854.2 673.9 1855.0 682.8 1855.8 678.6 1856.5 670.4 1857.2 682.2 1858.0 674.7 1858.8 667.7 1859.5 676.4 1860.2 662.5 1861.0 669.5 1861.8 666.5 1862.5 675.3 1863.2 668.7 1864.0 678.3 1864.8 670.6 1865.5 675.5 1866.2 688.1 1867.0 677.7 1867.8 683.1 1868.5 668.8 1869.2 672.8 1870.0 670.4 1870.8 669.7 1871.5 665.2 1872.2 677.1 1873.0 675.4 1873.8 672.0 1874.5 675.2 1875.2 664.0 1876.0 665.2 1876.8 668.5 1877.5 665.5 1878.2 663.5 1879.0 669.5 1879.8 672.2 1880.5 676.4 1881.2 670.9 1882.0 670.0 1882.8 686.1 1883.5 667.5 1884.2 668.9 1885.0 668.2 1885.8 665.2 1886.5 668.7 1887.2 666.0 1888.0 670.6 1888.8 665.3 1889.5 670.1 1890.2 666.1 1891.0 672.3 1891.8 674.1 1892.5 673.8 1893.2 673.1 1894.0 677.4 1894.8 667.1 1895.5 668.2 1896.2 671.8 1897.0 670.6 1897.8 665.3 1898.5 662.6 1899.2 667.9 1900.0 659.5 1900.8 661.6 1901.5 660.5 1902.2 665.4 1903.0 666.5 1903.8 668.7 1904.5 672.6 1905.2 672.5 1906.0 669.2 1906.8 668.1 1907.5 674.8 1908.2 665.0 1909.0 678.0 1909.8 676.1 1910.5 676.9 1911.2 666.4 1912.0 678.4 1912.8 671.1 1913.5 667.7 1914.2 668.8 1915.0 671.2 1915.8 672.5 1916.5 666.1 1917.2 669.6 1918.0 668.2 1918.8 670.2 1919.5 657.6 1920.2 662.7 1921.0 664.0 1921.8 675.0 1922.5 674.1 1923.2 672.0 1924.0 684.5 1924.8 668.9 1925.5 665.2 1926.2 666.0 1927.0 664.2 1927.8 674.7 1928.5 675.3 1929.2 670.0 1930.0 669.0 1930.8 670.5 1931.5 672.0 1932.2 678.9 1933.0 670.3 1933.8 674.1 1934.5 663.5 1935.2 671.9 1936.0 655.8 1936.8 672.0 1937.5 663.4 1938.2 667.8 1939.0 663.9 1939.8 663.5 1940.5 666.8 1941.2 661.5 1942.0 662.0 1942.8 665.1 1943.5 666.6 1944.2 660.7 1945.0 669.4 1945.8 663.7 1946.5 661.2 1947.2 662.4 1948.0 653.9 1948.8 659.5 1949.5 654.8 1950.2 653.1 1951.0 661.9 1951.8 661.9 1952.5 665.9 1953.2 671.2 1954.0 665.1 1954.8 662.8 1955.5 646.0 1956.2 666.8 1957.0 666.2 1957.8 661.8 1958.5 663.4 1959.2 669.8 1960.0 670.0 1960.8 667.2 1961.5 667.0 1962.2 672.2 1963.0 665.0 1963.8 667.5 1964.5 667.1 1965.2 666.0 1966.0 662.2 1966.8 669.0 1967.5 669.4 1968.2 667.0 1969.0 665.7 1969.8 665.2 1970.5 668.0 1971.2 670.1 1972.0 678.0 1972.8 670.7 1973.5 662.1 1974.2 666.6 1975.0 665.3 1975.8 660.3 1976.5 655.1 1977.2 668.1 1978.0 670.9 1978.8 658.3 1979.5 663.0 1980.2 665.9 1981.0 666.0 1981.8 657.0 1982.5 660.0 1983.2 669.6 1984.0 659.2 1984.8 663.1 1985.5 667.1 1986.2 667.8 1987.0 663.7 1987.8 661.5 1988.5 662.9 1989.2 663.2 1990.0 663.8 1990.8 665.9 1991.5 659.2 1992.2 664.0 1993.0 669.2 1993.8 671.3 1994.5 660.4 1995.2 655.2 1996.0 666.4 1996.8 660.5 1997.5 655.9 1998.2 666.7 1999.0 656.9 1999.8 661.2 2000.5 655.9 2001.2 654.9 2002.0 652.6 2002.8 661.1 2003.5 652.3 2004.2 656.9 2005.0 657.4 2005.8 659.5 2006.5 653.3 2007.2 649.0 2008.0 657.3 2008.8 661.7 2009.5 661.1 2010.2 663.1 2011.0 662.7 2011.8 661.3 2012.5 659.4 2013.2 659.3 2014.0 663.1 2014.8 657.5 2015.5 659.2 2016.2 658.9 2017.0 654.3 2017.8 661.0 2018.5 656.5 2019.2 650.4 2020.0 661.8 2020.8 662.6 2021.5 654.2 2022.2 658.0 2023.0 654.0 2023.8 665.2 2024.5 670.6 2025.2 659.4 2026.0 660.8 2026.8 659.0 2027.5 653.6 2028.2 650.3 2029.0 644.4 2029.8 652.7 2030.5 653.7 2031.2 657.3 2032.0 654.8 2032.8 651.9 2033.5 653.5 2034.2 659.2 2035.0 642.5 2035.8 642.5 2036.5 655.6 2037.2 663.6 2038.0 656.6 2038.8 659.9 2039.5 662.6 2040.2 663.1 2041.0 661.9 2041.8 653.7 2042.5 656.1 2043.2 649.5 2044.0 654.0 2044.8 652.8 2045.5 658.9 2046.2 646.6 2047.0 651.5 2047.8 650.5 2048.5 649.4 2049.2 648.3 2050.0 650.3 2050.8 658.4 2051.5 659.5 2052.2 645.9 2053.0 650.2 2053.8 654.2 2054.5 654.7 2055.2 648.2 2056.0 657.2 2056.8 654.4 2057.5 654.4 2058.2 648.2 2059.0 653.3 2059.8 651.3 2060.5 647.1 2061.2 654.7 2062.0 660.7 2062.8 667.4 2063.5 662.0 2064.2 650.7 2065.0 655.5 2065.8 657.9 2066.5 648.3 2067.2 666.3 2068.0 640.9 2068.8 651.3 2069.5 644.8 2070.2 650.1 2071.0 649.1 2071.8 648.9 2072.5 659.8 2073.2 651.6 2074.0 657.8 2074.8 650.6 2075.5 644.2 2076.2 646.4 2077.0 652.8 2077.8 646.1 2078.5 644.6 2079.2 653.4 2080.0 644.5 2080.8 651.2 2081.5 636.0 2082.2 649.8 2083.0 640.3 2083.8 642.8 2084.5 653.7 2085.2 641.0 2086.0 648.3 2086.8 645.3 2087.5 652.3 2088.2 649.1 2089.0 645.4 2089.8 651.2 2090.5 643.0 2091.2 643.9 2092.0 645.9 2092.8 655.5 2093.5 644.7 2094.2 644.2 2095.0 640.1 2095.8 644.0 2096.5 640.7 2097.2 646.1 2098.0 644.5 2098.8 661.8 2099.5 647.8 2100.2 650.1 2101.0 646.8 2101.8 650.2 2102.5 645.4 2103.2 641.9 2104.0 642.3 2104.8 642.3 2105.5 630.4 2106.2 640.7 2107.0 637.6 2107.8 635.9 2108.5 642.6 2109.2 643.7 2110.0 641.4 2110.8 643.0 2111.5 642.0 2112.2 641.6 2113.0 641.9 2113.8 630.5 2114.5 652.7 2115.2 642.3 2116.0 627.7 2116.8 639.8 2117.5 635.8 2118.2 637.5 2119.0 625.1 2119.8 636.4 2120.5 640.3 2121.2 639.8 2122.0 637.4 2122.8 633.8 2123.5 628.3 2124.2 631.6 2125.0 618.9 2125.8 625.1 2126.5 630.8 2127.2 630.7 2128.0 628.2 2128.8 629.0 2129.5 632.5 2130.2 630.3 2131.0 616.5 2131.8 628.5 2132.5 631.4 2133.2 635.0 2134.0 636.6 2134.8 634.6 2135.5 633.8 2136.2 635.6 2137.0 635.6 2137.8 626.2 2138.5 627.1 2139.2 651.6 2140.0 626.4 2140.8 631.6 2141.5 638.4 2142.2 628.5 2143.0 633.0 2143.8 626.0 2144.5 631.4 2145.2 620.5 2146.0 626.8 2146.8 632.1 2147.5 636.0 2148.2 633.4 2149.0 631.2 2149.8 632.5 2150.5 629.3 2151.2 631.4 2152.0 635.0 2152.8 627.6 2153.5 628.5 2154.2 641.4 2155.0 628.0 2155.8 627.9 2156.5 623.7 2157.2 641.6 2158.0 637.4 2158.8 631.3 2159.5 643.6 2160.2 633.6 2161.0 638.0 2161.8 636.7 2162.5 636.1 2163.2 628.2 2164.0 622.6 2164.8 626.3 2165.5 623.8 2166.2 635.9 2167.0 634.9 2167.8 631.2 2168.5 622.1 2169.2 627.8 2170.0 625.3 2170.8 624.1 2171.5 608.7 2172.2 626.1 2173.0 627.6 2173.8 635.9 2174.5 636.7 2175.2 631.4 2176.0 615.6 2176.8 625.2 2177.5 633.0 2178.2 621.9 2179.0 633.7 2179.8 626.8 2180.5 634.1 2181.2 625.2 2182.0 631.5 2182.8 633.1 2183.5 633.4 2184.2 625.6 2185.0 620.3 2185.8 620.4 2186.5 623.0 2187.2 628.6 2188.0 620.5 2188.8 618.9 2189.5 610.8 2190.2 618.1 2191.0 610.0 2191.8 604.4 2192.5 613.9 2193.2 622.3 2194.0 621.9 2194.8 617.7 2195.5 617.6" stroke="#000000" stroke-width="5.0" fill="none" stroke-linejoin="round"/>
<path d="M259.0 1333.3 259.8 1322.9 260.5 1326.6 261.2 1323.6 262.0 1323.1 262.8 1324.9 263.5 1322.2 264.2 1329.5 265.0 1326.2 265.8 1313.3 266.5 1338.4 267.2 1338.2 268.0 1333.1 268.8 1328.5 269.5 1323.3 270.2 1333.4 271.0 1321.6 271.8 1324.3 272.5 1330.1 273.2 1330.8 274.0 1333.7 274.8 1317.8 275.5 1318.9 276.2 1333.9 277.0 1323.9 277.8 1323.1 278.5 1335.5 279.2 1325.5 280.0 1329.3 280.8 1324.9 281.5 1327.0 282.2 1334.0 283.0 1339.4 283.8 1334.3 284.5 1339.1 285.2 1343.3 286.0 1340.1 286.8 1348.2 287.5 1327.4 288.2 1333.1 289.0 1340.0 289.8 1335.6 290.5 1336.0 291.2 1331.6 292.0 1341.1 292.8 1337.5 293.5 1334.8 294.2 1328.8 295.0 1335.7 295.8 1334.5 296.5 1342.5 297.2 1339.7 298.0 1338.8 298.8 1323.5 299.5 1324.1 300.2 1337.7 301.0 1341.3 301.8 1340.6 302.5 1340.4 303.2 1326.0 304.0 1325.5 304.8 1331.6 305.5 1332.7 306.2 1335.3 307.0 1334.9 307.8 1338.6 308.5 1325.3 309.2 1341.3 310.0 1340.2 310.8 1335.0 311.5 1334.5 312.2 1335.2 313.0 1334.1 313.8 1340.7 314.5 1321.9 315.2 1322.1 316.0 1323.2 316.8 1340.8 317.5 1341.7 318.2 1323.4 319.0 1339.4 319.8 1342.4 320.5 1323.0 321.2 1334.4 322.0 1336.5 322.8 1347.4 323.5 1334.6 324.2 1342.0 325.0 1329.8 325.8 1322.3 326.5 1330.9 327.2 1336.5 328.0 1329.1 328.8 1324.6 329.5 1315.9 330.2 1322.9 331.0 1337.1 331.8 1334.3 332.5 1339.1 333.2 1331.3 334.0 1338.2 334.8 1346.3 335.5 1338.8 336.2 1344.1 337.0 1344.0 337.8 1325.3 338.5 1360.7 339.2 1343.2 340.0 1335.5 340.8 1337.8 341.5 1324.6 342.2 1336.5 343.0 1338.1 343.8 1349.8 344.5 1329.7 345.2 1341.1 346.0 1347.0 346.8 1346.9 347.5 1335.9 348.2 1336.1 349.0 1333.3 349.8 1332.8 350.5 1328.7 351.2 1320.0 352.0 1336.4 352.8 1336.5 353.5 1345.5 354.2 1340.7 355.0 1341.3 355.8 1345.6 356.5 1347.0 357.2 1344.8 358.0 1333.2 358.8 1352.7 359.5 1345.6 360.2 1340.6 361.0 1341.6 361.8 1345.0 362.5 1335.3 363.2 1334.8 364.0 1331.8 364.8 1327.9 365.5 1331.6 366.2 1353.5 367.0 1325.6 367.8 1326.6 368.5 1325.5 369.2 1342.8 370.0 1307.2 370.8 1321.8 371.5 1333.7 372.2 1329.3 373.0 1321.9 373.8 1331.2 374.5 1334.2 375.2 1327.5 376.0 1328.4 376.8 1335.1 377.5 1334.8 378.2 1331.4 379.0 1335.6 379.8 1337.1 380.5 1332.3 381.2 1336.2 382.0 1333.8 382.8 1354.4 383.5 1344.1 384.2 1341.0 385.0 1342.7 385.8 1342.8 386.5 1330.4 387.2 1326.3 388.0 1336.5 388.8 1325.9 389.5 1330.3 390.2 1324.5 391.0 1334.5 391.8 1340.1 392.5 1348.1 393.2 1340.9 394.0 1331.2 394.8 1326.6 395.5 1331.0 396.2 1338.1 397.0 1327.0 397.8 1335.6 398.5 1328.6 399.2 1324.0 400.0 1332.5 400.8 1337.7 401.5 1334.7 402.2 1331.4 403.0 1331.1 403.8 1330.0 404.5 1336.2 405.2 1326.9 406.0 1329.1 406.8 1318.3 407.5 1324.0 408.2 1322.8 409.0 1329.5 409.8 1325.2 410.5 1321.5 411.2 1332.2 412.0 1333.4 412.8 1330.9 413.5 1327.4 414.2 1346.1 415.0 1336.9 415.8 1325.8 416.5 1327.7 417.2 1324.7 418.0 1324.2 418.8 1336.2 419.5 1332.5 420.2 1335.0 421.0 1337.8 421.8 1331.5 422.5 1332.0 423.2 1325.7 424.0 1342.1 424.8 1344.1 425.5 1349.8 426.2 1354.0 427.0 1348.3 427.8 1345.2 428.5 1341.9 429.2 1341.5 430.0 1340.6 430.8 1335.6 431.5 1329.8 432.2 1333.7 433.0 1339.2 433.8 1337.6 434.5 1343.8 435.2 1336.5 436.0 1333.0 436.8 1333.2 437.5 1330.8 438.2 1334.6 439.0 1316.5 439.8 1323.2 440.5 1329.1 441.2 1323.0 442.0 1329.3 442.8 1322.5 443.5 1321.7 444.2 1338.7 445.0 1326.1 445.8 1340.2 446.5 1336.6 447.2 1332.6 448.0 1336.5 448.8 1306.8 449.5 1330.8 450.2 1325.2 451.0 1325.3 451.8 1320.1 452.5 1331.2 453.2 1314.1 454.0 1339.3 454.8 1327.6 455.5 1325.7 456.2 1333.4 457.0 1330.3 457.8 1337.5 458.5 1335.9 459.2 1353.7 460.0 1336.9 460.8 1345.5 461.5 1342.1 462.2 1337.6 463.0 1338.3 463.8 1338.1 464.5 1334.6 465.2 1334.1 466.0 1331.6 466.8 1344.3 467.5 1335.1 468.2 1340.3 469.0 1337.3 469.8 1327.0 470.5 1341.7 471.2 1336.4 472.0 1330.4 472.8 1339.8 473.5 1342.1 474.2 1339.1 475.0 1332.4 475.8 1332.6 476.5 1338.8 477.2 1347.6 478.0 1350.9 478.8 1338.0 479.5 1330.8 480.2 1341.0 481.0 1337.9 481.8 1338.1 482.5 1318.5 483.2 1332.6 484.0 1343.8 484.8 1338.2 485.5 1350.9 486.2 1346.9 487.0 1333.0 487.8 1340.7 488.5 1333.2 489.2 1329.5 490.0 1338.0 490.8 1340.1 491.5 1317.1 492.2 1337.9 493.0 1321.4 493.8 1332.2 494.5 1343.3 495.2 1329.7 496.0 1315.9 496.8 1333.7 497.5 1330.0 498.2 1317.0 499.0 1314.7 499.8 1331.5 500.5 1327.7 501.2 1337.0 502.0 1332.3 502.8 1328.1 503.5 1338.4 504.2 1343.3 505.0 1333.5 505.8 1320.1 506.5 1321.4 507.2 1316.5 508.0 1331.4 508.8 1335.7 509.5 1335.9 510.2 1339.5 511.0 1325.9 511.8 1335.2 512.5 1347.2 513.2 1342.9 514.0 1327.1 514.8 1338.6 515.5 1338.5 516.2 1321.4 517.0 1335.2 517.8 1347.5 518.5 1340.3 519.2 1341.2 520.0 1334.6 520.8 1338.3 521.5 1324.1 522.2 1338.6 523.0 1331.0 523.8 1328.3 524.5 1337.3 525.2 1328.0 526.0 1334.0 526.8 1328.1 527.5 1341.8 528.2 1345.0 529.0 1340.4 529.8 1334.8 530.5 1343.9 531.2 1334.3 532.0 1343.5 532.8 1341.0 533.5 1327.4 534.2 1334.1 535.0 1331.4 535.8 1339.0 536.5 1336.0 537.2 1331.5 538.0 1323.2 538.8 1333.1 539.5 1333.3 540.2 1324.4 541.0 1329.4 541.8 1329.5 542.5 1342.2 543.2 1339.6 544.0 1330.1 544.8 1328.8 545.5 1319.8 546.2 1328.5 547.0 1340.1 547.8 1325.3 548.5 1333.6 549.2 1320.7 550.0 1335.5 550.8 1317.1 551.5 1326.9 552.2 1325.1 553.0 1335.7 553.8 1327.0 554.5 1329.4 555.2 1335.4 556.0 1348.9 556.8 1343.9 557.5 1340.2 558.2 1336.6 559.0 1335.5 559.8 1342.2 560.5 1337.9 561.2 1337.9 562.0 1325.8 562.8 1332.9 563.5 1338.1 564.2 1337.5 565.0 1333.3 565.8 1320.4 566.5 1330.7 567.2 1331.8 568.0 1330.2 568.8 1328.0 569.5 1322.9 570.2 1325.1 571.0 1341.0 571.8 1322.8 572.5 1329.0 573.2 1332.3 574.0 1322.3 574.8 1320.1 575.5 1332.6 576.2 1335.3 577.0 1328.1 577.8 1330.2 578.5 1317.6 579.2 1327.7 580.0 1332.6 580.8 1343.7 581.5 1325.0 582.2 1347.2 583.0 1330.2 583.8 1328.7 584.5 1317.7 585.2 1330.3 586.0 1323.7 586.8 1313.2 587.5 1330.3 588.2 1324.5 589.0 1327.8 589.8 1324.1 590.5 1338.1 591.2 1322.2 592.0 1334.4 592.8 1331.5 593.5 1324.7 594.2 1338.6 595.0 1326.3 595.8 1331.7 596.5 1327.6 597.2 1339.8 598.0 1348.6 598.8 1333.7 599.5 1328.5 600.2 1336.0 601.0 1331.8 601.8 1345.8 602.5 1331.7 603.2 1333.6 604.0 1330.0 604.8 1342.0 605.5 1339.7 606.2 1338.5 607.0 1351.2 607.8 1323.5 608.5 1334.5 609.2 1336.6 610.0 1341.9 610.8 1330.6 611.5 1324.4 612.2 1328.2 613.0 1321.8 613.8 1317.5 614.5 1319.5 615.2 1329.4 616.0 1334.8 616.8 1327.2 617.5 1333.6 618.2 1320.1 619.0 1334.9 619.8 1346.7 620.5 1329.1 621.2 1345.6 622.0 1338.9 622.8 1345.1 623.5 1332.3 624.2 1334.6 625.0 1335.3 625.8 1326.9 626.5 1330.6 627.2 1333.6 628.0 1327.5 628.8 1329.0 629.5 1341.3 630.2 1326.2 631.0 1340.5 631.8 1335.6 632.5 1332.8 633.2 1338.0 634.0 1334.1 634.8 1334.4 635.5 1343.0 636.2 1326.8 637.0 1332.6 637.8 1337.9 638.5 1344.3 639.2 1346.8 640.0 1333.5 640.8 1322.6 641.5 1330.9 642.2 1335.5 643.0 1334.7 643.8 1343.6 644.5 1329.0 645.2 1332.0 646.0 1347.1 646.8 1339.3 647.5 1332.6 648.2 1331.7 649.0 1328.9 649.8 1328.8 650.5 1331.4 651.2 1328.8 652.0 1333.8 652.8 1317.4 653.5 1323.4 654.2 1325.3 655.0 1322.9 655.8 1327.8 656.5 1327.2 657.2 1319.3 658.0 1329.6 658.8 1342.0 659.5 1332.6 660.2 1326.6 661.0 1329.7 661.8 1326.4 662.5 1331.9 663.2 1336.1 664.0 1317.6 664.8 1332.5 665.5 1327.5 666.2 1336.7 667.0 1328.6 667.8 1306.1 668.5 1326.7 669.2 1318.4 670.0 1322.9 670.8 1334.7 671.5 1316.8 672.2 1325.1 673.0 1322.2 673.8 1328.9 674.5 1336.7 675.2 1323.0 676.0 1327.0 676.8 1322.6 677.5 1331.2 678.2 1323.5 679.0 1333.9 679.8 1340.6 680.5 1330.8 681.2 1325.0 682.0 1340.9 682.8 1340.4 683.5 1336.9 684.2 1337.3 685.0 1327.3 685.8 1338.1 686.5 1336.5 687.2 1335.9 688.0 1345.1 688.8 1305.9 689.5 1348.5 690.2 1336.1 691.0 1343.4 691.8 1335.6 692.5 1340.8 693.2 1339.2 694.0 1327.1 694.8 1350.2 695.5 1336.9 696.2 1339.6 697.0 1334.6 697.8 1334.1 698.5 1333.6 699.2 1326.3 700.0 1334.0 700.8 1334.7 701.5 1345.7 702.2 1333.0 703.0 1311.6 703.8 1332.9 704.5 1338.3 705.2 1338.8 706.0 1345.6 706.8 1327.2 707.5 1328.7 708.2 1338.3 709.0 1336.5 709.8 1349.1 710.5 1348.8 711.2 1344.2 712.0 1338.8 712.8 1336.1 713.5 1334.2 714.2 1326.7 715.0 1334.8 715.8 1335.4 716.5 1335.6 717.2 1343.3 718.0 1341.6 718.8 1348.9 719.5 1342.5 720.2 1331.8 721.0 1327.8 721.8 1339.5 722.5 1332.6 723.2 1327.2 724.0 1331.6 724.8 1328.6 725.5 1331.9 726.2 1321.9 727.0 1328.5 727.8 1327.4 728.5 1326.8 729.2 1319.4 730.0 1322.8 730.8 1316.7 731.5 1304.3 732.2 1327.2 733.0 1328.6 733.8 1328.1 734.5 1334.2 735.2 1335.2 736.0 1324.7 736.8 1325.2 737.5 1314.1 738.2 1330.3 739.0 1332.1 739.8 1322.6 740.5 1328.0 741.2 1326.5 742.0 1325.7 742.8 1318.8 743.5 1338.0 744.2 1332.5 745.0 1331.7 745.8 1326.1 746.5 1323.1 747.2 1336.1 748.0 1324.8 748.8 1335.8 749.5 1321.3 750.2 1324.5 751.0 1337.7 751.8 1344.3 752.5 1341.8 753.2 1335.7 754.0 1334.7 754.8 1338.3 755.5 1333.9 756.2 1351.6 757.0 1332.3 757.8 1331.3 758.5 1324.4 759.2 1331.1 760.0 1328.8 760.8 1330.9 761.5 1328.6 762.2 1335.2 763.0 1327.7 763.8 1329.2 764.5 1337.7 765.2 1333.7 766.0 1328.1 766.8 1325.2 767.5 1333.2 768.2 1349.0 769.0 1338.0 769.8 1332.8 770.5 1314.6 771.2 1335.7 772.0 1342.2 772.8 1333.3 773.5 1339.8 774.2 1336.9 775.0 1336.7 775.8 1333.9 776.5 1341.7 777.2 1352.3 778.0 1341.9 778.8 1336.5 779.5 1327.3 780.2 1335.0 781.0 1353.1 781.8 1344.8 782.5 1327.5 783.2 1334.4 784.0 1334.9 784.8 1339.1 785.5 1342.0 786.2 1333.0 787.0 1338.9 787.8 1327.8 788.5 1329.2 789.2 1348.1 790.0 1330.0 790.8 1324.8 791.5 1320.0 792.2 1324.8 793.0 1313.0 793.8 1333.6 794.5 1320.8 795.2 1327.0 796.0 1333.2 796.8 1337.0 797.5 1339.9 798.2 1347.5 799.0 1332.1 799.8 1325.3 800.5 1338.3 801.2 1330.0 802.0 1332.6 802.8 1303.1 803.5 1313.9 804.2 1323.5 805.0 1319.7 805.8 1332.6 806.5 1322.1 807.2 1310.1 808.0 1327.3 808.8 1322.3 809.5 1335.1 810.2 1326.1 811.0 1327.6 811.8 1326.0 812.5 1338.2 813.2 1318.4 814.0 1314.6 814.8 1320.6 815.5 1314.5 816.2 1331.1 817.0 1330.2 817.8 1322.4 818.5 1320.7 819.2 1330.8 820.0 1322.6 820.8 1330.6 821.5 1333.6 822.2 1331.1 823.0 1342.1 823.8 1339.1 824.5 1325.5 825.2 1339.1 826.0 1357.1 826.8 1335.0 827.5 1340.8 828.2 1318.8 829.0 1334.3 829.8 1341.5 830.5 1336.4 831.2 1339.1 832.0 1334.5 832.8 1324.8 833.5 1337.6 834.2 1329.6 835.0 1329.9 835.8 1314.8 836.5 1317.9 837.2 1329.4 838.0 1326.1 838.8 1332.5 839.5 1324.8 840.2 1335.3 841.0 1314.9 841.8 1320.8 842.5 1323.3 843.2 1319.2 844.0 1323.7 844.8 1324.8 845.5 1327.6 846.2 1340.8 847.0 1312.7 847.8 1316.5 848.5 1321.6 849.2 1311.2 850.0 1331.5 850.8 1313.1 851.5 1337.1 852.2 1329.3 853.0 1332.2 853.8 1326.5 854.5 1337.0 855.2 1327.1 856.0 1335.1 856.8 1332.4 857.5 1332.7 858.2 1341.4 859.0 1339.7 859.8 1334.4 860.5 1341.6 861.2 1327.2 862.0 1326.1 862.8 1326.7 863.5 1327.6 864.2 1332.2 865.0 1333.8 865.8 1334.3 866.5 1328.9 867.2 1330.4 868.0 1330.9 868.8 1331.1 869.5 1332.0 870.2 1343.4 871.0 1338.8 871.8 1337.9 872.5 1340.2 873.2 1329.4 874.0 1334.7 874.8 1330.3 875.5 1326.1 876.2 1323.3 877.0 1339.9 877.8 1328.6 878.5 1341.1 879.2 1329.2 880.0 1315.4 880.8 1330.3 881.5 1327.4 882.2 1329.0 883.0 1333.8 883.8 1326.2 884.5 1330.5 885.2 1317.7 886.0 1320.0 886.8 1331.8 887.5 1305.7 888.2 1318.3 889.0 1351.3 889.8 1326.8 890.5 1327.1 891.2 1332.3 892.0 1304.5 892.8 1326.3 893.5 1315.8 894.2 1331.3 895.0 1311.3 895.8 1315.9 896.5 1331.8 897.2 1322.1 898.0 1315.1 898.8 1311.7 899.5 1299.5 900.2 1314.5 901.0 1309.9 901.8 1321.1 902.5 1317.9 903.2 1319.7 904.0 1334.2 904.8 1322.9 905.5 1324.8 906.2 1314.6 907.0 1331.8 907.8 1325.0 908.5 1329.0 909.2 1334.8 910.0 1334.2 910.8 1329.0 911.5 1324.3 912.2 1324.6 913.0 1320.1 913.8 1326.7 914.5 1320.8 915.2 1328.8 916.0 1332.4 916.8 1313.6 917.5 1314.7 918.2 1321.7 919.0 1313.4 919.8 1314.4 920.5 1313.1 921.2 1317.1 922.0 1325.2 922.8 1317.6 923.5 1323.9 924.2 1307.9 925.0 1320.4 925.8 1316.8 926.5 1315.4 927.2 1310.6 928.0 1314.0 928.8 1316.4 929.5 1316.4 930.2 1325.9 931.0 1318.5 931.8 1319.9 932.5 1319.5 933.2 1311.6 934.0 1314.0 934.8 1307.1 935.5 1332.3 936.2 1315.0 937.0 1318.1 937.8 1318.7 938.5 1341.9 939.2 1325.6 940.0 1317.2 940.8 1316.1 941.5 1301.2 942.2 1311.5 943.0 1310.3 943.8 1330.7 944.5 1310.7 945.2 1317.3 946.0 1306.4 946.8 1315.6 947.5 1307.2 948.2 1317.2 949.0 1301.2 949.8 1302.1 950.5 1306.3 951.2 1295.3 952.0 1305.6 952.8 1318.3 953.5 1317.7 954.2 1311.7 955.0 1317.0 955.8 1304.9 956.5 1317.3 957.2 1319.9 958.0 1306.9 958.8 1318.8 959.5 1309.4 960.2 1319.8 961.0 1312.1 961.8 1315.6 962.5 1306.5 963.2 1310.4 964.0 1313.4 964.8 1308.6 965.5 1301.1 966.2 1309.7 967.0 1303.6 967.8 1309.3 968.5 1305.8 969.2 1302.9 970.0 1293.2 970.8 1302.9 971.5 1304.4 972.2 1306.7 973.0 1299.8 973.8 1305.7 974.5 1302.4 975.2 1309.6 976.0 1311.1 976.8 1306.4 977.5 1306.3 978.2 1314.6 979.0 1322.8 979.8 1335.6 980.5 1315.1 981.2 1311.4 982.0 1310.1 982.8 1305.9 983.5 1304.8 984.2 1288.7 985.0 1289.8 985.8 1307.8 986.5 1313.9 987.2 1307.7 988.0 1309.5 988.8 1313.4 989.5 1300.8 990.2 1302.4 991.0 1306.2 991.8 1300.1 992.5 1315.7 993.2 1304.6 994.0 1317.6 994.8 1307.6 995.5 1314.6 996.2 1304.7 997.0 1311.0 997.8 1305.8 998.5 1316.6 999.2 1324.4 1000.0 1297.8 1000.8 1313.1 1001.5 1312.2 1002.2 1302.9 1003.0 1297.2 1003.8 1288.3 1004.5 1308.9 1005.2 1307.2 1006.0 1310.7 1006.8 1301.9 1007.5 1308.2 1008.2 1304.0 1009.0 1323.3 1009.8 1307.3 1010.5 1292.6 1011.2 1299.3 1012.0 1310.9 1012.8 1305.6 1013.5 1312.5 1014.2 1320.0 1015.0 1304.8 1015.8 1310.9 1016.5 1299.6 1017.2 1299.5 1018.0 1311.1 1018.8 1312.7 1019.5 1306.0 1020.2 1291.6 1021.0 1300.8 1021.8 1296.0 1022.5 1299.4 1023.2 1293.0 1024.0 1303.7 1024.8 1299.2 1025.5 1278.0 1026.2 1309.8 1027.0 1283.1 1027.8 1281.5 1028.5 1279.4 1029.2 1287.7 1030.0 1301.9 1030.8 1281.3 1031.5 1298.8 1032.2 1290.9 1033.0 1302.3 1033.8 1302.5 1034.5 1304.9 1035.2 1297.0 1036.0 1292.0 1036.8 1287.7 1037.5 1308.8 1038.2 1296.4 1039.0 1309.9 1039.8 1296.7 1040.5 1302.1 1041.2 1314.9 1042.0 1311.0 1042.8 1322.0 1043.5 1306.6 1044.2 1300.8 1045.0 1302.5 1045.8 1303.3 1046.5 1300.4 1047.2 1311.3 1048.0 1302.7 1048.8 1300.3 1049.5 1300.5 1050.2 1298.4 1051.0 1313.5 1051.8 1295.6 1052.5 1308.2 1053.2 1305.9 1054.0 1288.0 1054.8 1294.8 1055.5 1298.3 1056.2 1306.0 1057.0 1289.6 1057.8 1301.1 1058.5 1295.1 1059.2 1278.2 1060.0 1289.2 1060.8 1272.1 1061.5 1288.5 1062.2 1297.1 1063.0 1286.4 1063.8 1270.8 1064.5 1276.3 1065.2 1282.6 1066.0 1279.8 1066.8 1283.3 1067.5 1282.5 1068.2 1288.5 1069.0 1286.1 1069.8 1286.9 1070.5 1287.3 1071.2 1273.1 1072.0 1276.7 1072.8 1274.9 1073.5 1285.1 1074.2 1282.8 1075.0 1283.8 1075.8 1282.4 1076.5 1286.6 1077.2 1278.3 1078.0 1282.4 1078.8 1273.5 1079.5 1276.0 1080.2 1274.3 1081.0 1283.4 1081.8 1302.0 1082.5 1283.9 1083.2 1279.0 1084.0 1273.3 1084.8 1296.5 1085.5 1284.1 1086.2 1276.3 1087.0 1265.7 1087.8 1280.7 1088.5 1268.0 1089.2 1272.1 1090.0 1279.8 1090.8 1264.9 1091.5 1280.5 1092.2 1262.0 1093.0 1263.7 1093.8 1257.8 1094.5 1253.6 1095.2 1256.9 1096.0 1257.2 1096.8 1253.4 1097.5 1249.8 1098.2 1256.3 1099.0 1258.8 1099.8 1247.4 1100.5 1252.2 1101.2 1253.9 1102.0 1223.5 1102.8 1240.6 1103.5 1246.8 1104.2 1260.0 1105.0 1256.4 1105.8 1248.9 1106.5 1254.4 1107.2 1244.0 1108.0 1252.0 1108.8 1244.1 1109.5 1245.8 1110.2 1247.0 1111.0 1236.3 1111.8 1240.9 1112.5 1254.5 1113.2 1250.3 1114.0 1249.4 1114.8 1248.8 1115.5 1234.3 1116.2 1240.7 1117.0 1218.3 1117.8 1245.8 1118.5 1233.9 1119.2 1230.3 1120.0 1242.0 1120.8 1234.3 1121.5 1235.5 1122.2 1230.8 1123.0 1221.9 1123.8 1219.7 1124.5 1231.9 1125.2 1232.9 1126.0 1240.7 1126.8 1222.7 1127.5 1230.8 1128.2 1234.6 1129.0 1230.8 1129.8 1222.5 1130.5 1211.3 1131.2 1225.9 1132.0 1231.8 1132.8 1224.2 1133.5 1232.5 1134.2 1239.0 1135.0 1229.0 1135.8 1224.0 1136.5 1220.6 1137.2 1231.1 1138.0 1208.5 1138.8 1217.5 1139.5 1213.2 1140.2 1221.1 1141.0 1219.0 1141.8 1222.2 1142.5 1232.7 1143.2 1216.0 1144.0 1228.2 1144.8 1224.3 1145.5 1202.2 1146.2 1207.0 1147.0 1217.8 1147.8 1209.1 1148.5 1204.0 1149.2 1200.6 1150.0 1200.1 1150.8 1212.3 1151.5 1205.8 1152.2 1191.0 1153.0 1214.4 1153.8 1217.3 1154.5 1210.4 1155.2 1196.5 1156.0 1211.5 1156.8 1190.2 1157.5 1211.3 1158.2 1200.3 1159.0 1185.8 1159.8 1226.6 1160.5 1198.3 1161.2 1192.9 1162.0 1187.0 1162.8 1198.3 1163.5 1187.9 1164.2 1201.0 1165.0 1191.4 1165.8 1192.6 1166.5 1183.7 1167.2 1187.5 1168.0 1187.6 1168.8 1183.4 1169.5 1180.5 1170.2 1190.5 1171.0 1197.3 1171.8 1199.3 1172.5 1189.2 1173.2 1190.3 1174.0 1190.1 1174.8 1188.3 1175.5 1180.6 1176.2 1187.1 1177.0 1191.8 1177.8 1189.2 1178.5 1191.3 1179.2 1184.7 1180.0 1176.9 1180.8 1170.5 1181.5 1181.9 1182.2 1167.9 1183.0 1172.0 1183.8 1187.1 1184.5 1153.8 1185.2 1165.1 1186.0 1181.0 1186.8 1160.2 1187.5 1167.5 1188.2 1158.6 1189.0 1155.4 1189.8 1175.7 1190.5 1162.7 1191.2 1161.2 1192.0 1159.2 1192.8 1154.1 1193.5 1187.0 1194.2 1168.6 1195.0 1168.4 1195.8 1144.8 1196.5 1133.9 1197.2 1139.7 1198.0 1126.9 1198.8 1129.4 1199.5 1143.4 1200.2 1134.3 1201.0 1139.8 1201.8 1149.3 1202.5 1136.3 1203.2 1141.7 1204.0 1141.0 1204.8 1122.0 1205.5 1139.0 1206.2 1133.1 1207.0 1132.2 1207.8 1133.1 1208.5 1129.9 1209.2 1133.3 1210.0 1121.0 1210.8 1131.4 1211.5 1128.6 1212.2 1124.0 1213.0 1126.2 1213.8 1120.2 1214.5 1117.4 1215.2 1114.4 1216.0 1123.9 1216.8 1118.7 1217.5 1114.3 1218.2 1106.6 1219.0 1116.6 1219.8 1101.4 1220.5 1110.5 1221.2 1137.3 1222.0 1120.3 1222.8 1103.5 1223.5 1104.4 1224.2 1080.5 1225.0 1090.2 1225.8 1082.4 1226.5 1099.1 1227.2 1062.1 1228.0 1093.8 1228.8 1075.9 1229.5 1057.5 1230.2 1081.6 1231.0 1102.0 1231.8 1068.5 1232.5 1093.2 1233.2 1093.2 1234.0 1113.5 1234.8 1105.6 1235.5 1088.1 1236.2 1092.8 1237.0 1094.7 1237.8 1087.3 1238.5 1088.6 1239.2 1086.1 1240.0 1071.2 1240.8 1066.6 1241.5 1061.8 1242.2 1070.7 1243.0 1068.6 1243.8 1081.8 1244.5 1059.7 1245.2 1062.7 1246.0 1058.2 1246.8 1056.1 1247.5 1048.4 1248.2 1057.8 1249.0 1063.4 1249.8 1068.8 1250.5 1050.1 1251.2 1039.7 1252.0 1027.9 1252.8 1043.9 1253.5 1041.2 1254.2 1052.5 1255.0 1030.9 1255.8 1038.3 1256.5 1034.7 1257.2 1021.9 1258.0 1047.5 1258.8 1032.4 1259.5 1045.2 1260.2 1036.7 1261.0 1018.0 1261.8 1017.1 1262.5 1034.9 1263.2 1023.1 1264.0 1020.9 1264.8 1021.5 1265.5 1031.0 1266.2 1023.9 1267.0 1020.6 1267.8 1013.4 1268.5 1012.6 1269.2 1023.8 1270.0 1011.8 1270.8 1028.4 1271.5 1019.8 1272.2 1030.9 1273.0 1016.0 1273.8 1019.5 1274.5 1025.4 1275.2 1017.3 1276.0 1017.1 1276.8 1017.3 1277.5 998.3 1278.2 1010.1 1279.0 1020.1 1279.8 1027.0 1280.5 1019.1 1281.2 1014.9 1282.0 1016.5 1282.8 1014.2 1283.5 1007.3 1284.2 1023.0 1285.0 1024.0 1285.8 1012.1 1286.5 1018.8 1287.2 1007.1 1288.0 1011.5 1288.8 1012.8 1289.5 992.2 1290.2 1001.1 1291.0 1006.6 1291.8 988.6 1292.5 996.5 1293.2 996.1 1294.0 996.8 1294.8 989.9 1295.5 980.1 1296.2 1008.3 1297.0 978.5 1297.8 986.2 1298.5 985.4 1299.2 983.6 1300.0 979.7 1300.8 984.9 1301.5 993.8 1302.2 994.1 1303.0 1009.0 1303.8 985.7 1304.5 992.0 1305.2 990.9 1306.0 994.5 1306.8 1000.7 1307.5 975.0 1308.2 981.4 1309.0 987.1 1309.8 983.8 1310.5 1003.2 1311.2 983.9 1312.0 983.1 1312.8 980.9 1313.5 990.6 1314.2 994.8 1315.0 999.8 1315.8 1003.8 1316.5 1002.3 1317.2 1001.1 1318.0 997.8 1318.8 999.6 1319.5 992.5 1320.2 993.6 1321.0 981.0 1321.8 993.5 1322.5 988.5 1323.2 965.4 1324.0 980.5 1324.8 972.8 1325.5 984.7 1326.2 997.8 1327.0 967.1 1327.8 973.5 1328.5 989.4 1329.2 978.8 1330.0 966.2 1330.8 956.4 1331.5 950.0 1332.2 979.4 1333.0 972.7 1333.8 967.9 1334.5 986.2 1335.2 975.6 1336.0 963.9 1336.8 978.6 1337.5 980.7 1338.2 981.8 1339.0 978.2 1339.8 978.8 1340.5 994.2 1341.2 967.4 1342.0 961.8 1342.8 956.3 1343.5 976.3 1344.2 981.5 1345.0 975.6 1345.8 965.7 1346.5 980.6 1347.2 966.0 1348.0 962.4 1348.8 966.8 1349.5 964.0 1350.2 965.9 1351.0 963.7 1351.8 983.5 1352.5 955.3 1353.2 961.1 1354.0 957.2 1354.8 967.5 1355.5 958.3 1356.2 962.1 1357.0 954.5 1357.8 954.2 1358.5 962.3 1359.2 931.1 1360.0 953.6 1360.8 964.3 1361.5 961.3 1362.2 963.2 1363.0 960.9 1363.8 949.7 1364.5 961.7 1365.2 952.4 1366.0 950.2 1366.8 949.8 1367.5 953.8 1368.2 956.0 1369.0 939.1 1369.8 951.8 1370.5 954.8 1371.2 964.7 1372.0 968.3 1372.8 960.0 1373.5 970.0 1374.2 956.0 1375.0 964.6 1375.8 969.2 1376.5 961.2 1377.2 980.3 1378.0 932.5 1378.8 962.0 1379.5 988.2 1380.2 998.7 1381.0 972.3 1381.8 973.0 1382.5 988.5 1383.2 971.3 1384.0 967.3 1384.8 979.4 1385.5 981.8 1386.2 986.6 1387.0 960.5 1387.8 969.5 1388.5 942.8 1389.2 966.7 1390.0 956.2 1390.8 961.4 1391.5 968.2 1392.2 964.1 1393.0 972.1 1393.8 947.3 1394.5 968.1 1395.2 975.0 1396.0 970.9 1396.8 969.9 1397.5 955.1 1398.2 960.2 1399.0 962.3 1399.8 970.5 1400.5 963.3 1401.2 961.5 1402.0 960.9 1402.8 968.4 1403.5 964.2 1404.2 987.3 1405.0 964.8 1405.8 963.8 1406.5 949.4 1407.2 942.0 1408.0 954.3 1408.8 951.3 1409.5 935.3 1410.2 963.0 1411.0 932.4 1411.8 975.0 1412.5 949.1 1413.2 966.6 1414.0 944.8 1414.8 954.3 1415.5 958.0 1416.2 940.6 1417.0 935.4 1417.8 938.5 1418.5 952.8 1419.2 942.7 1420.0 951.5 1420.8 951.6 1421.5 972.4 1422.2 946.6 1423.0 956.1 1423.8 949.8 1424.5 939.1 1425.2 956.7 1426.0 941.0 1426.8 951.3 1427.5 946.8 1428.2 950.4 1429.0 921.3 1429.8 961.0 1430.5 936.4 1431.2 936.5 1432.0 950.1 1432.8 933.7 1433.5 947.2 1434.2 944.6 1435.0 932.7 1435.8 944.8 1436.5 936.9 1437.2 933.1 1438.0 922.5 1438.8 939.7 1439.5 921.7 1440.2 916.2 1441.0 912.2 1441.8 919.0 1442.5 933.8 1443.2 959.0 1444.0 936.9 1444.8 929.5 1445.5 925.1 1446.2 945.1 1447.0 923.3 1447.8 916.9 1448.5 934.7 1449.2 920.8 1450.0 935.0 1450.8 930.8 1451.5 920.0 1452.2 925.3 1453.0 955.8 1453.8 921.6 1454.5 892.0 1455.2 914.2 1456.0 904.0 1456.8 942.0 1457.5 908.2 1458.2 909.3 1459.0 918.5 1459.8 917.2 1460.5 893.5 1461.2 907.7 1462.0 921.1 1462.8 910.0 1463.5 899.7 1464.2 906.0 1465.0 914.0 1465.8 911.2 1466.5 923.8 1467.2 902.6 1468.0 908.2 1468.8 909.1 1469.5 920.4 1470.2 894.9 1471.0 901.6 1471.8 896.6 1472.5 910.0 1473.2 893.0 1474.0 884.8 1474.8 887.6 1475.5 866.6 1476.2 885.5 1477.0 898.3 1477.8 888.9 1478.5 882.7 1479.2 892.7 1480.0 879.2 1480.8 893.9 1481.5 862.2 1482.2 880.5 1483.0 856.6 1483.8 867.5 1484.5 881.7 1485.2 888.4 1486.0 884.5 1486.8 885.5 1487.5 852.1 1488.2 876.5 1489.0 861.6 1489.8 878.7 1490.5 869.3 1491.2 869.9 1492.0 879.2 1492.8 864.5 1493.5 885.2 1494.2 885.1 1495.0 890.1 1495.8 885.6 1496.5 888.4 1497.2 867.8 1498.0 878.3 1498.8 876.6 1499.5 865.9 1500.2 875.8 1501.0 889.1 1501.8 885.0 1502.5 880.0 1503.2 877.5 1504.0 881.0 1504.8 869.8 1505.5 849.2 1506.2 860.3 1507.0 866.7 1507.8 856.4 1508.5 866.5 1509.2 874.4 1510.0 868.3 1510.8 852.5 1511.5 866.8 1512.2 853.2 1513.0 854.6 1513.8 873.5 1514.5 866.5 1515.2 859.4 1516.0 855.2 1516.8 857.3 1517.5 875.1 1518.2 866.5 1519.0 859.3 1519.8 863.6 1520.5 867.6 1521.2 856.4 1522.0 868.6 1522.8 874.6 1523.5 885.7 1524.2 869.9 1525.0 868.2 1525.8 856.6 1526.5 906.0 1527.2 852.1 1528.0 857.1 1528.8 864.8 1529.5 856.8 1530.2 861.4 1531.0 871.1 1531.8 876.9 1532.5 846.5 1533.2 870.5 1534.0 900.2 1534.8 852.2 1535.5 856.3 1536.2 874.4 1537.0 851.0 1537.8 856.2 1538.5 859.4 1539.2 852.8 1540.0 829.9 1540.8 858.4 1541.5 850.4 1542.2 865.5 1543.0 868.6 1543.8 885.4 1544.5 870.9 1545.2 848.5 1546.0 868.6 1546.8 879.8 1547.5 874.9 1548.2 884.8 1549.0 887.9 1549.8 843.9 1550.5 865.3 1551.2 869.6 1552.0 852.5 1552.8 860.0 1553.5 853.1 1554.2 850.7 1555.0 863.7 1555.8 862.9 1556.5 859.5 1557.2 869.5 1558.0 863.3 1558.8 839.3 1559.5 839.7 1560.2 854.8 1561.0 846.4 1561.8 850.0 1562.5 840.2 1563.2 842.2 1564.0 865.6 1564.8 847.9 1565.5 829.7 1566.2 844.2 1567.0 852.6 1567.8 854.6 1568.5 867.6 1569.2 845.9 1570.0 861.3 1570.8 856.7 1571.5 859.6 1572.2 849.8 1573.0 863.7 1573.8 888.6 1574.5 871.6 1575.2 867.2 1576.0 862.0 1576.8 881.0 1577.5 861.1 1578.2 874.0 1579.0 880.6 1579.8 875.2 1580.5 869.3 1581.2 860.6 1582.0 879.8 1582.8 860.3 1583.5 859.0 1584.2 881.4 1585.0 871.2 1585.8 872.8 1586.5 883.8 1587.2 869.1 1588.0 871.2 1588.8 869.1 1589.5 861.3 1590.2 869.5 1591.0 835.8 1591.8 867.1 1592.5 865.7 1593.2 854.3 1594.0 866.6 1594.8 862.3 1595.5 873.0 1596.2 885.6 1597.0 857.2 1597.8 848.1 1598.5 866.2 1599.2 878.9 1600.0 864.0 1600.8 857.5 1601.5 868.4 1602.2 861.2 1603.0 857.8 1603.8 882.5 1604.5 871.5 1605.2 880.5 1606.0 888.7 1606.8 891.1 1607.5 887.9 1608.2 877.0 1609.0 885.9 1609.8 890.6 1610.5 869.3 1611.2 862.5 1612.0 862.1 1612.8 869.8 1613.5 883.6 1614.2 868.6 1615.0 879.3 1615.8 861.8 1616.5 882.2 1617.2 874.7 1618.0 876.2 1618.8 872.7 1619.5 880.2 1620.2 875.8 1621.0 877.0 1621.8 866.5 1622.5 853.8 1623.2 868.5 1624.0 874.8 1624.8 871.9 1625.5 873.7 1626.2 877.4 1627.0 893.2 1627.8 888.1 1628.5 883.9 1629.2 884.5 1630.0 879.3 1630.8 872.6 1631.5 866.8 1632.2 884.5 1633.0 900.4 1633.8 892.2 1634.5 899.5 1635.2 903.5 1636.0 887.9 1636.8 912.2 1637.5 891.8 1638.2 901.5 1639.0 902.6 1639.8 899.6 1640.5 903.4 1641.2 893.0 1642.0 898.6 1642.8 912.0 1643.5 917.0 1644.2 890.9 1645.0 904.3 1645.8 895.3 1646.5 913.4 1647.2 921.6 1648.0 902.5 1648.8 920.6 1649.5 892.0 1650.2 899.3 1651.0 945.7 1651.8 909.1 1652.5 901.9 1653.2 898.3 1654.0 911.5 1654.8 925.8 1655.5 935.3 1656.2 930.6 1657.0 940.0 1657.8 935.3 1658.5 931.9 1659.2 917.9 1660.0 925.7 1660.8 918.2 1661.5 929.8 1662.2 923.2 1663.0 946.6 1663.8 936.6 1664.5 941.6 1665.2 934.0 1666.0 953.4 1666.8 947.0 1667.5 927.7 1668.2 948.0 1669.0 936.4 1669.8 933.0 1670.5 941.0 1671.2 927.4 1672.0 921.9 1672.8 914.4 1673.5 921.4 1674.2 939.2 1675.0 915.0 1675.8 902.7 1676.5 919.1 1677.2 929.2 1678.0 920.4 1678.8 920.2 1679.5 925.5 1680.2 920.1 1681.0 913.7 1681.8 933.7 1682.5 921.4 1683.2 940.9 1684.0 928.3 1684.8 918.3 1685.5 916.2 1686.2 918.4 1687.0 935.0 1687.8 921.5 1688.5 934.7 1689.2 930.6 1690.0 927.0 1690.8 915.1 1691.5 941.5 1692.2 966.8 1693.0 927.5 1693.8 978.3 1694.5 913.0 1695.2 927.7 1696.0 940.3 1696.8 943.5 1697.5 976.8 1698.2 937.4 1699.0 937.2 1699.8 940.6 1700.5 945.1 1701.2 938.4 1702.0 937.0 1702.8 946.3 1703.5 924.7 1704.2 943.7 1705.0 953.1 1705.8 954.0 1706.5 945.6 1707.2 956.6 1708.0 939.6 1708.8 948.4 1709.5 938.2 1710.2 949.2 1711.0 954.5 1711.8 941.8 1712.5 953.7 1713.2 930.8 1714.0 946.6 1714.8 950.1 1715.5 983.9 1716.2 956.8 1717.0 938.0 1717.8 951.2 1718.5 949.1 1719.2 961.7 1720.0 950.3 1720.8 954.1 1721.5 945.0 1722.2 965.0 1723.0 946.6 1723.8 950.6 1724.5 953.2 1725.2 948.5 1726.0 943.0 1726.8 949.5 1727.5 950.1 1728.2 936.6 1729.0 958.7 1729.8 951.0 1730.5 952.8 1731.2 943.6 1732.0 949.1 1732.8 943.1 1733.5 948.0 1734.2 952.7 1735.0 929.8 1735.8 946.9 1736.5 956.3 1737.2 947.6 1738.0 966.4 1738.8 956.1 1739.5 934.0 1740.2 950.8 1741.0 959.5 1741.8 941.7 1742.5 939.9 1743.2 937.1 1744.0 956.2 1744.8 960.5 1745.5 949.9 1746.2 970.5 1747.0 957.3 1747.8 965.8 1748.5 983.3 1749.2 975.6 1750.0 979.1 1750.8 968.1 1751.5 957.7 1752.2 951.3 1753.0 958.1 1753.8 974.4 1754.5 944.4 1755.2 946.0 1756.0 944.0 1756.8 947.0 1757.5 954.8 1758.2 946.5 1759.0 940.5 1759.8 952.1 1760.5 955.3 1761.2 946.6 1762.0 958.0 1762.8 937.6 1763.5 959.8 1764.2 947.1 1765.0 947.9 1765.8 940.1 1766.5 972.9 1767.2 935.6 1768.0 940.9 1768.8 968.8 1769.5 970.7 1770.2 970.9 1771.0 975.9 1771.8 965.0 1772.5 965.1 1773.2 954.4 1774.0 953.6 1774.8 961.1 1775.5 975.2 1776.2 969.1 1777.0 957.1 1777.8 959.1 1778.5 963.5 1779.2 927.3 1780.0 960.5 1780.8 969.6 1781.5 957.5 1782.2 973.6 1783.0 985.3 1783.8 966.6 1784.5 958.1 1785.2 972.7 1786.0 969.2 1786.8 954.1 1787.5 972.9 1788.2 972.8 1789.0 964.5 1789.8 964.6 1790.5 962.1 1791.2 972.4 1792.0 967.1 1792.8 969.3 1793.5 965.2 1794.2 987.7 1795.0 981.5 1795.8 983.9 1796.5 956.3 1797.2 953.6 1798.0 969.2 1798.8 953.9 1799.5 954.8 1800.2 964.0 1801.0 968.6 1801.8 957.3 1802.5 943.6 1803.2 961.3 1804.0 958.4 1804.8 948.0 1805.5 975.2 1806.2 965.7 1807.0 958.3 1807.8 943.9 1808.5 984.5 1809.2 956.4 1810.0 949.9 1810.8 947.3 1811.5 957.9 1812.2 951.7 1813.0 991.6 1813.8 953.7 1814.5 950.8 1815.2 964.7 1816.0 954.9 1816.8 951.1 1817.5 961.8 1818.2 951.5 1819.0 953.4 1819.8 952.8 1820.5 949.9 1821.2 961.3 1822.0 945.6 1822.8 956.9 1823.5 962.9 1824.2 952.9 1825.0 947.7 1825.8 949.1 1826.5 958.8 1827.2 925.5 1828.0 936.0 1828.8 950.6 1829.5 961.2 1830.2 973.4 1831.0 946.6 1831.8 952.0 1832.5 960.7 1833.2 961.3 1834.0 956.0 1834.8 954.9 1835.5 950.8 1836.2 943.4 1837.0 936.3 1837.8 950.6 1838.5 958.5 1839.2 952.7 1840.0 946.8 1840.8 937.6 1841.5 957.5 1842.2 950.2 1843.0 949.3 1843.8 956.3 1844.5 945.2 1845.2 928.7 1846.0 942.8 1846.8 951.9 1847.5 940.0 1848.2 941.8 1849.0 942.8 1849.8 951.6 1850.5 957.0 1851.2 958.4 1852.0 967.2 1852.8 965.6 1853.5 952.7 1854.2 949.0 1855.0 943.9 1855.8 959.7 1856.5 959.5 1857.2 945.3 1858.0 966.9 1858.8 958.3 1859.5 949.7 1860.2 963.5 1861.0 948.1 1861.8 954.7 1862.5 965.8 1863.2 941.9 1864.0 927.8 1864.8 957.2 1865.5 937.5 1866.2 939.6 1867.0 943.3 1867.8 940.7 1868.5 960.8 1869.2 949.4 1870.0 939.8 1870.8 944.2 1871.5 939.5 1872.2 954.9 1873.0 967.6 1873.8 938.8 1874.5 937.8 1875.2 945.5 1876.0 941.7 1876.8 940.1 1877.5 936.1 1878.2 948.0 1879.0 938.0 1879.8 932.8 1880.5 956.7 1881.2 933.2 1882.0 946.1 1882.8 947.3 1883.5 940.5 1884.2 951.0 1885.0 944.8 1885.8 946.1 1886.5 932.8 1887.2 921.9 1888.0 926.6 1888.8 930.2 1889.5 919.3 1890.2 925.0 1891.0 925.2 1891.8 922.3 1892.5 931.8 1893.2 930.2 1894.0 923.6 1894.8 933.2 1895.5 941.4 1896.2 925.6 1897.0 947.3 1897.8 940.2 1898.5 933.2 1899.2 942.7 1900.0 941.1 1900.8 945.4 1901.5 936.1 1902.2 935.0 1903.0 941.6 1903.8 932.0 1904.5 933.6 1905.2 953.7 1906.0 946.5 1906.8 939.0 1907.5 939.5 1908.2 949.2 1909.0 945.7 1909.8 943.5 1910.5 953.5 1911.2 940.5 1912.0 946.7 1912.8 928.6 1913.5 936.6 1914.2 927.1 1915.0 931.0 1915.8 930.6 1916.5 921.0 1917.2 922.0 1918.0 947.0 1918.8 912.6 1919.5 931.3 1920.2 932.5 1921.0 932.8 1921.8 927.2 1922.5 937.0 1923.2 927.4 1924.0 939.5 1924.8 927.1 1925.5 933.1 1926.2 927.3 1927.0 927.5 1927.8 924.4 1928.5 931.0 1929.2 931.4 1930.0 928.9 1930.8 930.4 1931.5 931.7 1932.2 927.6 1933.0 952.8 1933.8 921.3 1934.5 930.3 1935.2 933.1 1936.0 935.0 1936.8 920.3 1937.5 917.8 1938.2 930.7 1939.0 921.3 1939.8 929.0 1940.5 926.0 1941.2 933.0 1942.0 938.7 1942.8 926.0 1943.5 944.5 1944.2 930.2 1945.0 927.8 1945.8 933.8 1946.5 920.7 1947.2 929.2 1948.0 920.6 1948.8 918.6 1949.5 927.4 1950.2 939.3 1951.0 917.7 1951.8 928.9 1952.5 921.5 1953.2 922.5 1954.0 934.5 1954.8 930.6 1955.5 927.0 1956.2 908.3 1957.0 921.3 1957.8 926.3 1958.5 931.2 1959.2 915.1 1960.0 924.2 1960.8 935.9 1961.5 945.4 1962.2 924.4 1963.0 917.2 1963.8 934.5 1964.5 937.5 1965.2 923.9 1966.0 930.3 1966.8 935.7 1967.5 914.7 1968.2 924.0 1969.0 908.8 1969.8 930.9 1970.5 933.9 1971.2 938.6 1972.0 928.7 1972.8 919.8 1973.5 920.6 1974.2 929.6 1975.0 919.4 1975.8 915.7 1976.5 934.2 1977.2 935.5 1978.0 914.5 1978.8 929.6 1979.5 918.4 1980.2 922.4 1981.0 926.0 1981.8 928.7 1982.5 932.5 1983.2 921.9 1984.0 937.0 1984.8 940.0 1985.5 900.3 1986.2 917.0 1987.0 946.5 1987.8 922.4 1988.5 911.9 1989.2 926.8 1990.0 918.7 1990.8 925.0 1991.5 919.2 1992.2 914.5 1993.0 908.6 1993.8 915.6 1994.5 930.2 1995.2 923.9 1996.0 905.7 1996.8 918.6 1997.5 909.2 1998.2 902.3 1999.0 915.7 1999.8 918.0 2000.5 926.1 2001.2 901.7 2002.0 897.9 2002.8 903.6 2003.5 904.5 2004.2 932.7 2005.0 931.3 2005.8 919.1 2006.5 931.7 2007.2 913.0 2008.0 906.1 2008.8 919.3 2009.5 906.1 2010.2 938.3 2011.0 918.1 2011.8 916.2 2012.5 931.0 2013.2 922.4 2014.0 924.6 2014.8 916.4 2015.5 926.0 2016.2 920.1 2017.0 932.3 2017.8 933.8 2018.5 921.0 2019.2 923.7 2020.0 930.5 2020.8 918.9 2021.5 912.9 2022.2 922.6 2023.0 922.0 2023.8 903.2 2024.5 909.0 2025.2 920.4 2026.0 901.9 2026.8 909.4 2027.5 922.3 2028.2 925.5 2029.0 921.0 2029.8 898.3 2030.5 920.3 2031.2 919.6 2032.0 923.7 2032.8 916.5 2033.5 915.2 2034.2 938.0 2035.0 915.3 2035.8 939.4 2036.5 920.0 2037.2 912.9 2038.0 915.8 2038.8 927.3 2039.5 885.8 2040.2 898.3 2041.0 903.6 2041.8 892.1 2042.5 888.3 2043.2 895.5 2044.0 909.3 2044.8 909.8 2045.5 898.8 2046.2 899.9 2047.0 899.0 2047.8 884.9 2048.5 908.6 2049.2 912.4 2050.0 913.3 2050.8 904.5 2051.5 922.6 2052.2 907.4 2053.0 915.7 2053.8 919.6 2054.5 918.9 2055.2 906.2 2056.0 896.4 2056.8 903.3 2057.5 903.7 2058.2 906.9 2059.0 947.1 2059.8 902.2 2060.5 905.8 2061.2 897.4 2062.0 907.4 2062.8 881.1 2063.5 888.4 2064.2 891.7 2065.0 888.8 2065.8 881.8 2066.5 871.6 2067.2 873.6 2068.0 878.8 2068.8 893.0 2069.5 889.3 2070.2 887.2 2071.0 907.2 2071.8 877.6 2072.5 897.8 2073.2 873.3 2074.0 896.2 2074.8 884.9 2075.5 898.8 2076.2 917.9 2077.0 908.5 2077.8 894.4 2078.5 886.8 2079.2 903.0 2080.0 904.9 2080.8 907.1 2081.5 898.6 2082.2 880.5 2083.0 887.2 2083.8 907.9 2084.5 900.9 2085.2 915.1 2086.0 891.8 2086.8 890.0 2087.5 900.5 2088.2 882.1 2089.0 921.1 2089.8 889.4 2090.5 911.9 2091.2 921.4 2092.0 916.1 2092.8 890.1 2093.5 916.7 2094.2 892.8 2095.0 889.3 2095.8 906.1 2096.5 912.1 2097.2 898.7 2098.0 901.7 2098.8 888.9 2099.5 898.1 2100.2 907.3 2101.0 908.3 2101.8 919.7 2102.5 888.8 2103.2 892.8 2104.0 911.4 2104.8 892.0 2105.5 896.4 2106.2 905.6 2107.0 901.1 2107.8 894.0 2108.5 907.0 2109.2 911.1 2110.0 914.7 2110.8 910.9 2111.5 886.5 2112.2 894.5 2113.0 885.0 2113.8 898.2 2114.5 902.8 2115.2 894.5 2116.0 895.6 2116.8 877.8 2117.5 883.9 2118.2 862.3 2119.0 893.9 2119.8 894.1 2120.5 884.1 2121.2 889.0 2122.0 873.2 2122.8 882.4 2123.5 873.5 2124.2 893.8 2125.0 875.7 2125.8 897.6 2126.5 881.6 2127.2 881.0 2128.0 883.0 2128.8 892.2 2129.5 907.3 2130.2 883.3 2131.0 878.4 2131.8 886.2 2132.5 901.8 2133.2 895.7 2134.0 884.7 2134.8 888.0 2135.5 872.9 2136.2 885.9 2137.0 887.9 2137.8 861.2 2138.5 888.5 2139.2 864.8 2140.0 862.5 2140.8 884.6 2141.5 897.5 2142.2 888.5 2143.0 881.3 2143.8 877.6 2144.5 874.9 2145.2 885.0 2146.0 884.6 2146.8 881.5 2147.5 878.7 2148.2 881.2 2149.0 888.3 2149.8 901.1 2150.5 862.6 2151.2 887.8 2152.0 879.6 2152.8 874.3 2153.5 873.4 2154.2 886.3 2155.0 895.1 2155.8 855.7 2156.5 881.8 2157.2 876.2 2158.0 878.5 2158.8 884.9 2159.5 878.4 2160.2 862.6 2161.0 871.7 2161.8 867.1 2162.5 892.4 2163.2 870.9 2164.0 866.9 2164.8 863.7 2165.5 874.8 2166.2 874.1 2167.0 880.8 2167.8 884.6 2168.5 875.9 2169.2 878.0 2170.0 873.5 2170.8 853.3 2171.5 848.5 2172.2 869.9 2173.0 844.4 2173.8 841.1 2174.5 860.5 2175.2 847.8 2176.0 860.4 2176.8 847.0 2177.5 871.0 2178.2 856.9 2179.0 848.5 2179.8 862.3 2180.5 879.6 2181.2 870.7 2182.0 866.4 2182.8 866.2 2183.5 873.1 2184.2 856.5 2185.0 856.2 2185.8 885.3 2186.5 862.9 2187.2 858.0 2188.0 870.6 2188.8 861.3 2189.5 866.2 2190.2 868.3 2191.0 866.8 2191.8 863.7 2192.5 861.7 2193.2 891.5 2194.0 845.4 2194.8 849.7 2195.5 847.8" stroke="#0000ff" stroke-width="5.0" fill="none" stroke-linejoin="round"/>
<path d="M259.0 1725.7 259.8 1704.2 260.5 1704.1 261.2 1703.0 262.0 1701.0 262.8 1711.5 263.5 1707.9 264.2 1706.2 265.0 1725.5 265.8 1719.1 266.5 1709.4 267.2 1711.2 268.0 1703.2 268.8 1697.2 269.5 1713.8 270.2 1719.4 271.0 1712.8 271.8 1705.4 272.5 1713.1 273.2 1711.3 274.0 1689.5 274.8 1728.3 275.5 1706.9 276.2 1698.0 277.0 1715.6 277.8 1705.0 278.5 1716.5 279.2 1705.9 280.0 1731.2 280.8 1714.8 281.5 1696.7 282.2 1720.5 283.0 1710.4 283.8 1718.4 284.5 1710.3 285.2 1720.8 286.0 1692.2 286.8 1711.4 287.5 1698.2 288.2 1703.6 289.0 1705.0 289.8 1707.9 290.5 1704.3 291.2 1712.9 292.0 1712.7 292.8 1707.3 293.5 1695.1 294.2 1700.1 295.0 1700.9 295.8 1686.9 296.5 1694.2 297.2 1697.6 298.0 1706.6 298.8 1734.2 299.5 1706.0 300.2 1712.7 301.0 1723.2 301.8 1723.2 302.5 1724.5 303.2 1720.9 304.0 1719.0 304.8 1729.0 305.5 1702.3 306.2 1701.3 307.0 1712.2 307.8 1707.9 308.5 1701.4 309.2 1713.8 310.0 1704.7 310.8 1702.1 311.5 1712.4 312.2 1706.9 313.0 1704.9 313.8 1698.5 314.5 1703.0 315.2 1699.0 316.0 1716.9 316.8 1723.9 317.5 1718.8 318.2 1720.0 319.0 1718.3 319.8 1713.8 320.5 1716.6 321.2 1720.1 322.0 1705.7 322.8 1701.9 323.5 1704.4 324.2 1697.9 325.0 1700.5 325.8 1705.5 326.5 1713.9 327.2 1692.5 328.0 1698.0 328.8 1701.5 329.5 1699.3 330.2 1716.9 331.0 1700.9 331.8 1689.5 332.5 1696.1 333.2 1698.7 334.0 1712.0 334.8 1714.6 335.5 1696.2 336.2 1701.6 337.0 1701.5 337.8 1682.6 338.5 1683.8 339.2 1690.6 340.0 1690.0 340.8 1686.3 341.5 1679.1 342.2 1710.1 343.0 1714.6 343.8 1706.2 344.5 1694.4 345.2 1698.8 346.0 1694.1 346.8 1698.5 347.5 1702.0 348.2 1670.8 349.0 1692.1 349.8 1699.9 350.5 1702.0 351.2 1693.7 352.0 1694.2 352.8 1697.4 353.5 1697.4 354.2 1694.8 355.0 1700.2 355.8 1692.4 356.5 1692.2 357.2 1695.9 358.0 1714.3 358.8 1711.9 359.5 1705.7 360.2 1704.4 361.0 1694.1 361.8 1733.3 362.5 1712.3 363.2 1706.6 364.0 1700.6 364.8 1699.4 365.5 1710.6 366.2 1698.3 367.0 1698.1 367.8 1689.4 368.5 1680.4 369.2 1684.6 370.0 1685.1 370.8 1689.2 371.5 1681.1 372.2 1692.6 373.0 1686.8 373.8 1684.1 374.5 1681.0 375.2 1692.6 376.0 1685.8 376.8 1690.0 377.5 1681.0 378.2 1688.8 379.0 1676.2 379.8 1691.8 380.5 1692.8 381.2 1695.6 382.0 1695.8 382.8 1699.2 383.5 1694.6 384.2 1701.1 385.0 1704.3 385.8 1698.7 386.5 1704.4 387.2 1705.5 388.0 1694.9 388.8 1708.4 389.5 1698.9 390.2 1707.9 391.0 1700.5 391.8 1705.7 392.5 1706.6 393.2 1701.2 394.0 1693.2 394.8 1706.0 395.5 1698.3 396.2 1700.4 397.0 1708.4 397.8 1715.5 398.5 1712.7 399.2 1669.4 400.0 1698.4 400.8 1695.4 401.5 1705.6 402.2 1712.3 403.0 1730.0 403.8 1702.5 404.5 1717.6 405.2 1721.8 406.0 1703.7 406.8 1710.8 407.5 1706.6 408.2 1713.6 409.0 1692.6 409.8 1701.5 410.5 1709.0 411.2 1694.7 412.0 1689.4 412.8 1698.5 413.5 1702.7 414.2 1691.7 415.0 1699.5 415.8 1689.7 416.5 1684.7 417.2 1683.5 418.0 1684.1 418.8 1693.3 419.5 1675.7 420.2 1692.6 421.0 1696.0 421.8 1686.7 422.5 1693.0 423.2 1700.2 424.0 1696.0 424.8 1695.9 425.5 1710.4 426.2 1695.1 427.0 1696.6 427.8 1690.9 428.5 1689.8 429.2 1698.6 430.0 1689.7 430.8 1702.5 431.5 1688.5 432.2 1692.2 433.0 1696.6 433.8 1707.9 434.5 1698.9 435.2 1683.1 436.0 1703.9 436.8 1710.6 437.5 1704.9 438.2 1693.1 439.0 1695.6 439.8 1696.7 440.5 1697.5 441.2 1690.1 442.0 1699.6 442.8 1693.0 443.5 1685.2 444.2 1688.5 445.0 1692.1 445.8 1694.9 446.5 1709.2 447.2 1706.3 448.0 1711.2 448.8 1707.6 449.5 1703.1 450.2 1710.3 451.0 1698.2 451.8 1689.6 452.5 1708.3 453.2 1692.0 454.0 1685.4 454.8 1697.9 455.5 1694.1 456.2 1664.5 457.0 1689.1 457.8 1703.4 458.5 1704.4 459.2 1696.9 460.0 1690.2 460.8 1685.9 461.5 1681.5 462.2 1691.2 463.0 1701.1 463.8 1693.7 464.5 1689.9 465.2 1676.0 466.0 1700.2 466.8 1688.0 467.5 1696.6 468.2 1697.2 469.0 1709.9 469.8 1691.6 470.5 1699.4 471.2 1693.1 472.0 1689.8 472.8 1685.9 473.5 1700.8 474.2 1680.5 475.0 1704.1 475.8 1694.5 476.5 1706.7 477.2 1691.7 478.0 1691.7 478.8 1699.6 479.5 1693.7 480.2 1696.5 481.0 1700.0 481.8 1706.0 482.5 1698.4 483.2 1708.0 484.0 1702.9 484.8 1692.4 485.5 1686.5 486.2 1686.3 487.0 1701.1 487.8 1701.2 488.5 1699.7 489.2 1706.1 490.0 1688.5 490.8 1690.4 491.5 1691.1 492.2 1708.5 493.0 1684.9 493.8 1692.0 494.5 1692.5 495.2 1689.4 496.0 1689.8 496.8 1682.9 497.5 1684.7 498.2 1691.3 499.0 1685.5 499.8 1692.9 500.5 1690.2 501.2 1687.4 502.0 1695.0 502.8 1697.5 503.5 1704.9 504.2 1712.9 505.0 1700.6 505.8 1693.3 506.5 1701.2 507.2 1696.7 508.0 1672.5 508.8 1698.8 509.5 1697.5 510.2 1698.6 511.0 1699.1 511.8 1691.5 512.5 1699.6 513.2 1697.0 514.0 1708.6 514.8 1688.4 515.5 1697.5 516.2 1697.2 517.0 1711.9 517.8 1701.6 518.5 1699.4 519.2 1669.2 520.0 1693.9 520.8 1683.2 521.5 1674.5 522.2 1694.1 523.0 1686.6 523.8 1677.6 524.5 1677.6 525.2 1688.3 526.0 1675.3 526.8 1665.2 527.5 1674.7 528.2 1686.4 529.0 1695.5 529.8 1697.5 530.5 1691.1 531.2 1701.1 532.0 1701.2 532.8 1696.4 533.5 1683.0 534.2 1699.5 535.0 1706.1 535.8 1720.3 536.5 1707.8 537.2 1695.2 538.0 1710.0 538.8 1718.6 539.5 1704.5 540.2 1683.9 541.0 1695.5 541.8 1692.0 542.5 1685.5 543.2 1689.9 544.0 1682.4 544.8 1690.9 545.5 1692.2 546.2 1679.1 547.0 1700.7 547.8 1687.7 548.5 1680.2 549.2 1696.7 550.0 1700.8 550.8 1687.8 551.5 1683.1 552.2 1684.4 553.0 1680.4 553.8 1685.1 554.5 1682.9 555.2 1673.3 556.0 1686.2 556.8 1697.1 557.5 1699.1 558.2 1694.0 559.0 1702.4 559.8 1692.2 560.5 1704.6 561.2 1701.5 562.0 1700.0 562.8 1693.0 563.5 1688.8 564.2 1686.4 565.0 1687.0 565.8 1674.4 566.5 1693.4 567.2 1688.2 568.0 1687.8 568.8 1683.3 569.5 1683.5 570.2 1700.3 571.0 1702.8 571.8 1694.2 572.5 1688.2 573.2 1662.5 574.0 1680.2 574.8 1694.7 575.5 1680.5 576.2 1683.6 577.0 1684.2 577.8 1672.9 578.5 1676.2 579.2 1680.8 580.0 1678.7 580.8 1690.3 581.5 1682.9 582.2 1686.7 583.0 1681.2 583.8 1676.3 584.5 1679.6 585.2 1674.0 586.0 1684.2 586.8 1684.4 587.5 1693.9 588.2 1671.2 589.0 1679.2 589.8 1679.8 590.5 1681.0 591.2 1680.6 592.0 1681.0 592.8 1682.2 593.5 1681.8 594.2 1674.0 595.0 1680.4 595.8 1667.4 596.5 1681.2 597.2 1683.0 598.0 1687.6 598.8 1683.6 599.5 1673.8 600.2 1678.7 601.0 1678.7 601.8 1688.8 602.5 1684.4 603.2 1682.3 604.0 1687.8 604.8 1677.7 605.5 1685.4 606.2 1684.6 607.0 1679.0 607.8 1666.3 608.5 1677.8 609.2 1672.7 610.0 1686.6 610.8 1678.8 611.5 1686.0 612.2 1681.3 613.0 1689.1 613.8 1686.3 614.5 1691.4 615.2 1678.1 616.0 1670.6 616.8 1675.0 617.5 1694.9 618.2 1682.4 619.0 1699.4 619.8 1678.4 620.5 1672.6 621.2 1679.7 622.0 1670.3 622.8 1686.5 623.5 1669.3 624.2 1653.0 625.0 1673.6 625.8 1666.3 626.5 1672.8 627.2 1690.7 628.0 1684.4 628.8 1679.8 629.5 1685.1 630.2 1685.0 631.0 1677.7 631.8 1679.3 632.5 1700.1 633.2 1678.2 634.0 1691.4 634.8 1677.2 635.5 1687.1 636.2 1673.5 637.0 1683.5 637.8 1681.5 638.5 1683.9 639.2 1688.9 640.0 1688.1 640.8 1684.4 641.5 1687.1 642.2 1688.6 643.0 1677.9 643.8 1688.5 644.5 1663.6 645.2 1689.2 646.0 1677.6 646.8 1689.2 647.5 1680.8 648.2 1682.0 649.0 1675.8 649.8 1672.8 650.5 1690.1 651.2 1664.7 652.0 1666.1 652.8 1670.5 653.5 1668.8 654.2 1667.3 655.0 1670.5 655.8 1673.6 656.5 1655.5 657.2 1710.0 658.0 1662.5 658.8 1668.3 659.5 1657.9 660.2 1688.9 661.0 1685.7 661.8 1679.4 662.5 1694.9 663.2 1683.0 664.0 1681.7 664.8 1683.6 665.5 1684.9 666.2 1670.1 667.0 1671.8 667.8 1687.7 668.5 1668.6 669.2 1680.2 670.0 1678.2 670.8 1684.6 671.5 1685.7 672.2 1694.8 673.0 1683.7 673.8 1692.1 674.5 1673.4 675.2 1670.2 676.0 1675.6 676.8 1674.2 677.5 1672.8 678.2 1674.1 679.0 1681.9 679.8 1696.2 680.5 1698.2 681.2 1695.5 682.0 1702.3 682.8 1691.0 683.5 1665.8 684.2 1673.4 685.0 1676.1 685.8 1678.4 686.5 1684.1 687.2 1682.2 688.0 1686.6 688.8 1695.6 689.5 1688.5 690.2 1685.0 691.0 1687.0 691.8 1680.6 692.5 1683.9 693.2 1669.5 694.0 1663.9 694.8 1673.8 695.5 1672.8 696.2 1669.5 697.0 1676.2 697.8 1692.1 698.5 1670.7 699.2 1671.4 700.0 1672.3 700.8 1673.9 701.5 1667.7 702.2 1664.0 703.0 1683.5 703.8 1674.7 704.5 1655.7 705.2 1662.5 706.0 1644.6 706.8 1660.9 707.5 1663.0 708.2 1645.5 709.0 1668.5 709.8 1676.0 710.5 1686.2 711.2 1684.7 712.0 1675.2 712.8 1679.6 713.5 1673.1 714.2 1664.6 715.0 1673.1 715.8 1686.0 716.5 1686.0 717.2 1671.3 718.0 1669.2 718.8 1658.4 719.5 1674.6 720.2 1664.9 721.0 1667.4 721.8 1662.8 722.5 1676.6 723.2 1656.8 724.0 1666.5 724.8 1659.2 725.5 1681.7 726.2 1664.0 727.0 1703.0 727.8 1680.0 728.5 1663.0 729.2 1673.2 730.0 1666.3 730.8 1680.8 731.5 1680.5 732.2 1674.4 733.0 1680.6 733.8 1673.4 734.5 1663.4 735.2 1670.7 736.0 1693.5 736.8 1682.9 737.5 1656.3 738.2 1661.2 739.0 1673.2 739.8 1680.2 740.5 1677.9 741.2 1674.8 742.0 1677.5 742.8 1686.2 743.5 1678.2 744.2 1681.5 745.0 1670.8 745.8 1673.5 746.5 1661.7 747.2 1662.7 748.0 1680.5 748.8 1692.0 749.5 1691.8 750.2 1681.7 751.0 1672.0 751.8 1678.3 752.5 1673.9 753.2 1665.4 754.0 1669.6 754.8 1681.3 755.5 1666.4 756.2 1665.0 757.0 1668.7 757.8 1668.3 758.5 1694.3 759.2 1675.2 760.0 1675.8 760.8 1659.5 761.5 1675.5 762.2 1677.7 763.0 1666.3 763.8 1670.4 764.5 1670.6 765.2 1673.6 766.0 1672.5 766.8 1676.9 767.5 1680.5 768.2 1672.5 769.0 1670.9 769.8 1666.6 770.5 1674.5 771.2 1670.7 772.0 1658.0 772.8 1673.8 773.5 1675.5 774.2 1684.8 775.0 1666.4 775.8 1667.0 776.5 1649.7 777.2 1659.5 778.0 1661.4 778.8 1667.0 779.5 1672.5 780.2 1656.9 781.0 1669.8 781.8 1671.3 782.5 1657.6 783.2 1662.2 784.0 1667.1 784.8 1665.6 785.5 1676.9 786.2 1685.6 787.0 1669.9 787.8 1672.7 788.5 1675.0 789.2 1684.3 790.0 1675.0 790.8 1674.7 791.5 1679.9 792.2 1689.3 793.0 1679.5 793.8 1681.9 794.5 1663.9 795.2 1677.7 796.0 1674.7 796.8 1670.0 797.5 1683.6 798.2 1675.8 799.0 1682.0 799.8 1693.2 800.5 1683.2 801.2 1670.2 802.0 1670.0 802.8 1682.1 803.5 1671.4 804.2 1676.5 805.0 1677.6 805.8 1665.4 806.5 1680.2 807.2 1679.2 808.0 1678.2 808.8 1682.9 809.5 1653.3 810.2 1663.3 811.0 1661.3 811.8 1667.4 812.5 1662.5 813.2 1663.8 814.0 1669.5 814.8 1684.2 815.5 1661.4 816.2 1674.1 817.0 1665.2 817.8 1679.9 818.5 1677.7 819.2 1664.7 820.0 1678.8 820.8 1675.4 821.5 1669.4 822.2 1661.0 823.0 1668.0 823.8 1679.7 824.5 1686.5 825.2 1672.4 826.0 1676.9 826.8 1698.6 827.5 1687.2 828.2 1668.8 829.0 1677.4 829.8 1684.0 830.5 1662.4 831.2 1669.3 832.0 1677.1 832.8 1663.7 833.5 1651.5 834.2 1663.4 835.0 1657.3 835.8 1663.6 836.5 1657.3 837.2 1660.1 838.0 1672.1 838.8 1660.3 839.5 1680.6 840.2 1667.5 841.0 1674.2 841.8 1671.0 842.5 1665.2 843.2 1665.2 844.0 1664.5 844.8 1655.6 845.5 1655.4 846.2 1681.8 847.0 1668.3 847.8 1673.6 848.5 1671.9 849.2 1684.1 850.0 1662.1 850.8 1687.3 851.5 1676.3 852.2 1678.0 853.0 1679.6 853.8 1664.3 854.5 1653.8 855.2 1660.0 856.0 1648.5 856.8 1661.0 857.5 1661.6 858.2 1663.3 859.0 1654.1 859.8 1652.9 860.5 1666.5 861.2 1677.4 862.0 1674.2 862.8 1664.0 863.5 1665.5 864.2 1657.2 865.0 1637.7 865.8 1665.3 866.5 1682.3 867.2 1659.1 868.0 1668.4 868.8 1649.7 869.5 1662.3 870.2 1651.9 871.0 1660.0 871.8 1659.2 872.5 1668.6 873.2 1664.3 874.0 1672.7 874.8 1675.5 875.5 1673.1 876.2 1675.1 877.0 1667.3 877.8 1656.7 878.5 1658.8 879.2 1660.4 880.0 1646.7 880.8 1664.4 881.5 1660.4 882.2 1649.4 883.0 1668.5 883.8 1648.8 884.5 1668.3 885.2 1648.7 886.0 1664.4 886.8 1648.3 887.5 1662.4 888.2 1670.1 889.0 1683.6 889.8 1677.7 890.5 1676.6 891.2 1664.5 892.0 1665.4 892.8 1660.7 893.5 1660.6 894.2 1665.4 895.0 1675.1 895.8 1655.3 896.5 1664.2 897.2 1640.6 898.0 1651.5 898.8 1650.5 899.5 1652.5 900.2 1652.2 901.0 1653.1 901.8 1647.2 902.5 1644.3 903.2 1630.5 904.0 1650.6 904.8 1634.2 905.5 1639.3 906.2 1657.0 907.0 1650.1 907.8 1649.2 908.5 1654.6 909.2 1651.7 910.0 1651.9 910.8 1651.1 911.5 1647.1 912.2 1659.6 913.0 1638.7 913.8 1654.7 914.5 1660.5 915.2 1678.5 916.0 1653.1 916.8 1655.5 917.5 1670.6 918.2 1668.1 919.0 1656.9 919.8 1650.4 920.5 1664.9 921.2 1675.6 922.0 1663.0 922.8 1655.6 923.5 1665.4 924.2 1658.3 925.0 1662.0 925.8 1671.8 926.5 1655.6 927.2 1668.4 928.0 1650.5 928.8 1684.5 929.5 1662.4 930.2 1671.7 931.0 1676.4 931.8 1669.5 932.5 1646.1 933.2 1642.4 934.0 1650.9 934.8 1670.1 935.5 1649.2 936.2 1658.4 937.0 1650.2 937.8 1664.5 938.5 1670.8 939.2 1664.3 940.0 1671.4 940.8 1665.9 941.5 1668.3 942.2 1655.6 943.0 1657.4 943.8 1663.8 944.5 1660.2 945.2 1676.7 946.0 1650.0 946.8 1654.6 947.5 1654.6 948.2 1656.3 949.0 1634.2 949.8 1646.7 950.5 1651.8 951.2 1660.9 952.0 1661.1 952.8 1646.2 953.5 1651.7 954.2 1641.9 955.0 1647.4 955.8 1635.0 956.5 1645.2 957.2 1637.1 958.0 1662.8 958.8 1663.3 959.5 1643.4 960.2 1637.4 961.0 1639.4 961.8 1632.5 962.5 1628.1 963.2 1642.5 964.0 1662.0 964.8 1658.4 965.5 1652.6 966.2 1645.4 967.0 1627.8 967.8 1627.6 968.5 1653.2 969.2 1627.2 970.0 1648.9 970.8 1642.8 971.5 1646.8 972.2 1647.2 973.0 1648.7 973.8 1643.4 974.5 1639.8 975.2 1666.3 976.0 1637.9 976.8 1650.3 977.5 1666.6 978.2 1652.3 979.0 1640.0 979.8 1637.4 980.5 1647.0 981.2 1640.3 982.0 1647.5 982.8 1632.9 983.5 1628.8 984.2 1637.9 985.0 1647.1 985.8 1639.6 986.5 1636.6 987.2 1650.2 988.0 1639.5 988.8 1650.9 989.5 1647.2 990.2 1649.9 991.0 1635.6 991.8 1643.1 992.5 1629.9 993.2 1647.8 994.0 1640.6 994.8 1637.6 995.5 1632.9 996.2 1624.7 997.0 1644.3 997.8 1629.4 998.5 1625.2 999.2 1637.6 1000.0 1636.8 1000.8 1630.6 1001.5 1627.5 1002.2 1640.0 1003.0 1637.0 1003.8 1645.5 1004.5 1630.4 1005.2 1621.6 1006.0 1637.5 1006.8 1641.8 1007.5 1635.0 1008.2 1631.4 1009.0 1623.8 1009.8 1626.8 1010.5 1626.4 1011.2 1635.0 1012.0 1631.6 1012.8 1634.8 1013.5 1618.3 1014.2 1614.9 1015.0 1624.8 1015.8 1647.4 1016.5 1625.9 1017.2 1617.7 1018.0 1640.0 1018.8 1632.8 1019.5 1643.5 1020.2 1629.2 1021.0 1612.7 1021.8 1621.9 1022.5 1645.0 1023.2 1622.7 1024.0 1630.7 1024.8 1631.2 1025.5 1627.8 1026.2 1631.2 1027.0 1652.8 1027.8 1618.0 1028.5 1627.7 1029.2 1642.6 1030.0 1631.7 1030.8 1647.3 1031.5 1634.6 1032.2 1635.0 1033.0 1624.4 1033.8 1635.0 1034.5 1659.2 1035.2 1620.2 1036.0 1654.8 1036.8 1641.2 1037.5 1635.8 1038.2 1619.6 1039.0 1619.3 1039.8 1624.4 1040.5 1628.2 1041.2 1631.3 1042.0 1635.5 1042.8 1628.4 1043.5 1635.5 1044.2 1620.6 1045.0 1631.1 1045.8 1625.2 1046.5 1634.7 1047.2 1621.8 1048.0 1628.0 1048.8 1618.7 1049.5 1628.5 1050.2 1641.5 1051.0 1620.6 1051.8 1630.1 1052.5 1626.1 1053.2 1625.7 1054.0 1623.4 1054.8 1627.2 1055.5 1646.0 1056.2 1622.3 1057.0 1623.9 1057.8 1621.7 1058.5 1613.5 1059.2 1600.2 1060.0 1617.5 1060.8 1617.4 1061.5 1621.4 1062.2 1620.8 1063.0 1619.1 1063.8 1611.8 1064.5 1642.5 1065.2 1625.0 1066.0 1615.9 1066.8 1626.8 1067.5 1612.8 1068.2 1620.9 1069.0 1615.6 1069.8 1615.2 1070.5 1615.0 1071.2 1607.1 1072.0 1609.8 1072.8 1592.2 1073.5 1618.5 1074.2 1625.8 1075.0 1605.1 1075.8 1602.6 1076.5 1626.3 1077.2 1612.8 1078.0 1607.8 1078.8 1616.8 1079.5 1605.3 1080.2 1598.8 1081.0 1606.4 1081.8 1612.0 1082.5 1606.4 1083.2 1601.6 1084.0 1596.9 1084.8 1600.9 1085.5 1600.9 1086.2 1578.4 1087.0 1580.2 1087.8 1579.2 1088.5 1614.2 1089.2 1572.4 1090.0 1593.7 1090.8 1594.4 1091.5 1598.6 1092.2 1594.0 1093.0 1583.9 1093.8 1574.8 1094.5 1598.9 1095.2 1602.5 1096.0 1595.7 1096.8 1589.8 1097.5 1583.1 1098.2 1585.1 1099.0 1587.9 1099.8 1577.5 1100.5 1586.1 1101.2 1593.4 1102.0 1606.8 1102.8 1589.1 1103.5 1576.9 1104.2 1591.5 1105.0 1596.4 1105.8 1584.2 1106.5 1599.4 1107.2 1575.3 1108.0 1557.1 1108.8 1582.3 1109.5 1560.9 1110.2 1569.7 1111.0 1606.8 1111.8 1579.7 1112.5 1563.0 1113.2 1578.1 1114.0 1564.7 1114.8 1563.1 1115.5 1568.3 1116.2 1572.5 1117.0 1571.0 1117.8 1567.4 1118.5 1581.8 1119.2 1579.2 1120.0 1572.5 1120.8 1584.0 1121.5 1572.7 1122.2 1570.5 1123.0 1578.9 1123.8 1560.3 1124.5 1588.6 1125.2 1566.3 1126.0 1574.0 1126.8 1565.4 1127.5 1553.6 1128.2 1569.7 1129.0 1550.3 1129.8 1573.8 1130.5 1564.2 1131.2 1583.5 1132.0 1563.8 1132.8 1553.0 1133.5 1562.1 1134.2 1564.2 1135.0 1568.7 1135.8 1564.7 1136.5 1558.1 1137.2 1561.7 1138.0 1550.3 1138.8 1550.7 1139.5 1554.8 1140.2 1537.8 1141.0 1560.8 1141.8 1544.6 1142.5 1553.3 1143.2 1560.1 1144.0 1563.0 1144.8 1565.7 1145.5 1532.7 1146.2 1552.5 1147.0 1549.0 1147.8 1563.1 1148.5 1554.6 1149.2 1573.5 1150.0 1551.4 1150.8 1553.1 1151.5 1529.4 1152.2 1545.2 1153.0 1530.0 1153.8 1542.9 1154.5 1532.1 1155.2 1538.3 1156.0 1542.3 1156.8 1537.9 1157.5 1529.8 1158.2 1511.4 1159.0 1535.6 1159.8 1525.0 1160.5 1544.4 1161.2 1528.2 1162.0 1524.1 1162.8 1526.5 1163.5 1533.5 1164.2 1520.0 1165.0 1530.8 1165.8 1510.1 1166.5 1520.9 1167.2 1511.1 1168.0 1519.1 1168.8 1503.4 1169.5 1531.5 1170.2 1522.7 1171.0 1523.4 1171.8 1512.3 1172.5 1524.8 1173.2 1519.3 1174.0 1528.7 1174.8 1507.5 1175.5 1518.1 1176.2 1524.1 1177.0 1488.6 1177.8 1529.4 1178.5 1528.3 1179.2 1521.4 1180.0 1512.2 1180.8 1503.4 1181.5 1510.5 1182.2 1512.6 1183.0 1523.1 1183.8 1513.4 1184.5 1513.7 1185.2 1501.3 1186.0 1486.0 1186.8 1490.7 1187.5 1487.3 1188.2 1483.9 1189.0 1501.5 1189.8 1476.8 1190.5 1491.0 1191.2 1501.1 1192.0 1499.2 1192.8 1494.7 1193.5 1480.1 1194.2 1501.7 1195.0 1493.3 1195.8 1470.2 1196.5 1483.6 1197.2 1458.4 1198.0 1455.1 1198.8 1467.6 1199.5 1476.3 1200.2 1490.9 1201.0 1477.6 1201.8 1477.8 1202.5 1474.3 1203.2 1488.3 1204.0 1490.0 1204.8 1484.0 1205.5 1489.1 1206.2 1475.0 1207.0 1480.5 1207.8 1462.5 1208.5 1471.5 1209.2 1457.6 1210.0 1467.7 1210.8 1468.4 1211.5 1461.7 1212.2 1467.0 1213.0 1458.6 1213.8 1445.9 1214.5 1455.7 1215.2 1470.2 1216.0 1465.6 1216.8 1466.1 1217.5 1491.6 1218.2 1440.2 1219.0 1466.5 1219.8 1451.5 1220.5 1467.8 1221.2 1476.3 1222.0 1468.0 1222.8 1471.6 1223.5 1468.6 1224.2 1471.0 1225.0 1477.0 1225.8 1492.1 1226.5 1472.8 1227.2 1462.6 1228.0 1475.7 1228.8 1450.8 1229.5 1465.6 1230.2 1463.8 1231.0 1451.7 1231.8 1447.0 1232.5 1471.4 1233.2 1459.0 1234.0 1452.7 1234.8 1461.4 1235.5 1456.0 1236.2 1449.7 1237.0 1439.1 1237.8 1450.8 1238.5 1439.6 1239.2 1439.6 1240.0 1440.7 1240.8 1435.8 1241.5 1408.8 1242.2 1427.9 1243.0 1438.2 1243.8 1441.3 1244.5 1416.8 1245.2 1420.8 1246.0 1416.4 1246.8 1444.9 1247.5 1426.2 1248.2 1422.2 1249.0 1436.8 1249.8 1440.8 1250.5 1423.2 1251.2 1436.6 1252.0 1429.9 1252.8 1427.3 1253.5 1422.2 1254.2 1420.5 1255.0 1432.9 1255.8 1416.5 1256.5 1416.9 1257.2 1422.4 1258.0 1422.8 1258.8 1404.7 1259.5 1409.0 1260.2 1423.0 1261.0 1419.6 1261.8 1404.9 1262.5 1408.9 1263.2 1411.0 1264.0 1422.5 1264.8 1409.1 1265.5 1433.4 1266.2 1415.2 1267.0 1413.7 1267.8 1424.0 1268.5 1425.3 1269.2 1399.0 1270.0 1421.1 1270.8 1419.5 1271.5 1439.6 1272.2 1429.4 1273.0 1405.1 1273.8 1401.9 1274.5 1418.9 1275.2 1410.8 1276.0 1410.6 1276.8 1408.5 1277.5 1371.0 1278.2 1416.7 1279.0 1410.9 1279.8 1407.4 1280.5 1403.0 1281.2 1410.6 1282.0 1402.2 1282.8 1394.0 1283.5 1384.6 1284.2 1393.7 1285.0 1400.1 1285.8 1407.4 1286.5 1393.4 1287.2 1397.1 1288.0 1398.5 1288.8 1389.1 1289.5 1390.3 1290.2 1373.9 1291.0 1374.6 1291.8 1382.4 1292.5 1397.6 1293.2 1368.2 1294.0 1391.8 1294.8 1377.2 1295.5 1384.4 1296.2 1396.8 1297.0 1388.1 1297.8 1401.1 1298.5 1391.9 1299.2 1388.5 1300.0 1394.4 1300.8 1396.8 1301.5 1418.8 1302.2 1404.0 1303.0 1396.2 1303.8 1401.8 1304.5 1409.1 1305.2 1389.8 1306.0 1414.9 1306.8 1399.5 1307.5 1400.8 1308.2 1394.8 1309.0 1398.3 1309.8 1394.4 1310.5 1391.1 1311.2 1403.1 1312.0 1397.3 1312.8 1387.6 1313.5 1398.8 1314.2 1392.1 1315.0 1390.9 1315.8 1404.5 1316.5 1403.5 1317.2 1389.2 1318.0 1393.8 1318.8 1398.2 1319.5 1400.1 1320.2 1349.5 1321.0 1372.9 1321.8 1390.0 1322.5 1388.8 1323.2 1393.1 1324.0 1390.7 1324.8 1388.3 1325.5 1389.0 1326.2 1403.6 1327.0 1384.7 1327.8 1380.4 1328.5 1401.2 1329.2 1389.2 1330.0 1378.3 1330.8 1380.8 1331.5 1384.0 1332.2 1386.7 1333.0 1378.4 1333.8 1375.9 1334.5 1371.9 1335.2 1375.4 1336.0 1370.4 1336.8 1387.8 1337.5 1364.9 1338.2 1387.6 1339.0 1363.6 1339.8 1376.0 1340.5 1386.6 1341.2 1362.7 1342.0 1383.7 1342.8 1379.1 1343.5 1391.2 1344.2 1383.7 1345.0 1387.7 1345.8 1391.2 1346.5 1342.0 1347.2 1356.8 1348.0 1400.3 1348.8 1369.5 1349.5 1391.4 1350.2 1364.0 1351.0 1386.6 1351.8 1362.7 1352.5 1378.4 1353.2 1362.3 1354.0 1382.4 1354.8 1374.9 1355.5 1347.9 1356.2 1328.0 1357.0 1356.2 1357.8 1364.3 1358.5 1382.8 1359.2 1347.2 1360.0 1330.7 1360.8 1365.1 1361.5 1325.0 1362.2 1366.3 1363.0 1359.9 1363.8 1366.3 1364.5 1352.2 1365.2 1367.8 1366.0 1365.3 1366.8 1368.7 1367.5 1365.0 1368.2 1365.0 1369.0 1371.9 1369.8 1370.7 1370.5 1353.7 1371.2 1365.8 1372.0 1358.5 1372.8 1394.5 1373.5 1355.5 1374.2 1353.8 1375.0 1359.5 1375.8 1359.1 1376.5 1355.7 1377.2 1356.2 1378.0 1358.4 1378.8 1342.8 1379.5 1387.9 1380.2 1363.4 1381.0 1367.5 1381.8 1383.5 1382.5 1357.4 1383.2 1366.4 1384.0 1344.6 1384.8 1356.4 1385.5 1366.4 1386.2 1353.7 1387.0 1368.4 1387.8 1354.9 1388.5 1353.1 1389.2 1350.3 1390.0 1345.4 1390.8 1349.6 1391.5 1357.3 1392.2 1374.2 1393.0 1365.6 1393.8 1378.1 1394.5 1376.5 1395.2 1368.9 1396.0 1350.8 1396.8 1375.5 1397.5 1357.1 1398.2 1377.6 1399.0 1374.4 1399.8 1377.9 1400.5 1345.9 1401.2 1395.5 1402.0 1375.4 1402.8 1348.0 1403.5 1361.3 1404.2 1341.7 1405.0 1334.5 1405.8 1342.9 1406.5 1331.0 1407.2 1365.9 1408.0 1332.1 1408.8 1357.5 1409.5 1344.5 1410.2 1357.3 1411.0 1355.9 1411.8 1340.7 1412.5 1346.5 1413.2 1324.6 1414.0 1335.3 1414.8 1333.1 1415.5 1335.6 1416.2 1368.8 1417.0 1340.1 1417.8 1336.4 1418.5 1330.0 1419.2 1331.0 1420.0 1313.7 1420.8 1306.7 1421.5 1334.0 1422.2 1334.4 1423.0 1323.8 1423.8 1350.6 1424.5 1339.4 1425.2 1334.5 1426.0 1340.0 1426.8 1345.0 1427.5 1330.7 1428.2 1349.7 1429.0 1328.1 1429.8 1298.1 1430.5 1384.0 1431.2 1332.8 1432.0 1320.7 1432.8 1319.5 1433.5 1323.5 1434.2 1353.5 1435.0 1330.3 1435.8 1327.5 1436.5 1324.5 1437.2 1333.8 1438.0 1340.5 1438.8 1312.9 1439.5 1325.2 1440.2 1327.3 1441.0 1322.8 1441.8 1316.4 1442.5 1296.4 1443.2 1343.0 1444.0 1378.0 1444.8 1337.5 1445.5 1334.0 1446.2 1340.1 1447.0 1349.0 1447.8 1338.0 1448.5 1310.6 1449.2 1340.1 1450.0 1321.3 1450.8 1325.3 1451.5 1330.3 1452.2 1317.2 1453.0 1325.4 1453.8 1325.8 1454.5 1321.0 1455.2 1321.4 1456.0 1334.2 1456.8 1320.1 1457.5 1318.4 1458.2 1337.4 1459.0 1355.2 1459.8 1317.5 1460.5 1338.5 1461.2 1359.6 1462.0 1331.7 1462.8 1313.1 1463.5 1315.7 1464.2 1307.1 1465.0 1333.5 1465.8 1324.5 1466.5 1322.0 1467.2 1325.4 1468.0 1315.2 1468.8 1319.2 1469.5 1362.3 1470.2 1316.4 1471.0 1323.8 1471.8 1326.0 1472.5 1320.1 1473.2 1333.7 1474.0 1326.4 1474.8 1323.2 1475.5 1315.7 1476.2 1335.7 1477.0 1314.1 1477.8 1321.5 1478.5 1321.1 1479.2 1313.8 1480.0 1314.7 1480.8 1309.5 1481.5 1304.0 1482.2 1310.4 1483.0 1314.6 1483.8 1318.4 1484.5 1321.8 1485.2 1339.5 1486.0 1339.5 1486.8 1315.9 1487.5 1316.2 1488.2 1312.5 1489.0 1316.6 1489.8 1304.1 1490.5 1288.2 1491.2 1289.2 1492.0 1299.9 1492.8 1324.5 1493.5 1267.6 1494.2 1275.2 1495.0 1278.7 1495.8 1306.3 1496.5 1289.9 1497.2 1290.6 1498.0 1297.9 1498.8 1291.7 1499.5 1307.0 1500.2 1308.7 1501.0 1314.6 1501.8 1313.7 1502.5 1301.5 1503.2 1301.7 1504.0 1324.0 1504.8 1337.5 1505.5 1316.0 1506.2 1315.1 1507.0 1308.0 1507.8 1302.3 1508.5 1324.6 1509.2 1310.4 1510.0 1315.5 1510.8 1300.1 1511.5 1312.9 1512.2 1296.5 1513.0 1310.3 1513.8 1305.4 1514.5 1307.3 1515.2 1314.2 1516.0 1328.8 1516.8 1310.7 1517.5 1312.5 1518.2 1315.0 1519.0 1307.3 1519.8 1319.4 1520.5 1304.0 1521.2 1298.3 1522.0 1307.8 1522.8 1325.0 1523.5 1312.1 1524.2 1315.2 1525.0 1310.7 1525.8 1342.8 1526.5 1313.5 1527.2 1334.3 1528.0 1303.8 1528.8 1300.3 1529.5 1306.7 1530.2 1313.7 1531.0 1292.6 1531.8 1325.3 1532.5 1294.6 1533.2 1304.9 1534.0 1285.3 1534.8 1323.1 1535.5 1315.5 1536.2 1302.0 1537.0 1294.3 1537.8 1307.1 1538.5 1305.0 1539.2 1301.1 1540.0 1305.4 1540.8 1312.3 1541.5 1297.6 1542.2 1342.9 1543.0 1325.5 1543.8 1293.5 1544.5 1313.6 1545.2 1302.2 1546.0 1308.9 1546.8 1322.1 1547.5 1306.2 1548.2 1300.7 1549.0 1270.7 1549.8 1303.2 1550.5 1295.4 1551.2 1256.3 1552.0 1292.2 1552.8 1287.6 1553.5 1301.7 1554.2 1283.7 1555.0 1313.1 1555.8 1292.0 1556.5 1267.0 1557.2 1298.5 1558.0 1297.6 1558.8 1269.4 1559.5 1307.1 1560.2 1300.8 1561.0 1301.3 1561.8 1287.8 1562.5 1254.8 1563.2 1285.7 1564.0 1300.9 1564.8 1296.4 1565.5 1290.0 1566.2 1300.5 1567.0 1305.4 1567.8 1307.6 1568.5 1281.9 1569.2 1291.9 1570.0 1310.8 1570.8 1302.2 1571.5 1314.6 1572.2 1280.7 1573.0 1280.9 1573.8 1317.8 1574.5 1314.1 1575.2 1306.1 1576.0 1273.1 1576.8 1289.8 1577.5 1301.3 1578.2 1291.6 1579.0 1292.9 1579.8 1295.8 1580.5 1302.1 1581.2 1304.6 1582.0 1312.9 1582.8 1314.0 1583.5 1321.7 1584.2 1308.1 1585.0 1335.6 1585.8 1311.5 1586.5 1305.8 1587.2 1314.0 1588.0 1324.4 1588.8 1323.0 1589.5 1323.1 1590.2 1326.1 1591.0 1313.3 1591.8 1298.2 1592.5 1301.9 1593.2 1329.5 1594.0 1304.7 1594.8 1296.4 1595.5 1278.5 1596.2 1293.1 1597.0 1285.1 1597.8 1274.7 1598.5 1274.7 1599.2 1291.5 1600.0 1275.5 1600.8 1276.3 1601.5 1286.0 1602.2 1298.4 1603.0 1294.5 1603.8 1279.6 1604.5 1294.4 1605.2 1312.0 1606.0 1294.8 1606.8 1303.6 1607.5 1311.3 1608.2 1306.2 1609.0 1301.6 1609.8 1304.2 1610.5 1308.7 1611.2 1306.4 1612.0 1316.0 1612.8 1295.9 1613.5 1315.0 1614.2 1308.0 1615.0 1326.0 1615.8 1300.7 1616.5 1329.8 1617.2 1304.5 1618.0 1309.8 1618.8 1305.9 1619.5 1314.0 1620.2 1302.3 1621.0 1307.3 1621.8 1316.3 1622.5 1322.9 1623.2 1337.1 1624.0 1328.9 1624.8 1320.5 1625.5 1317.9 1626.2 1302.4 1627.0 1305.3 1627.8 1321.0 1628.5 1319.1 1629.2 1324.2 1630.0 1327.1 1630.8 1312.3 1631.5 1311.2 1632.2 1311.8 1633.0 1326.1 1633.8 1311.3 1634.5 1309.7 1635.2 1339.3 1636.0 1319.6 1636.8 1321.8 1637.5 1332.8 1638.2 1323.9 1639.0 1337.7 1639.8 1337.5 1640.5 1339.3 1641.2 1340.8 1642.0 1321.3 1642.8 1318.8 1643.5 1318.3 1644.2 1320.6 1645.0 1318.8 1645.8 1336.6 1646.5 1324.4 1647.2 1318.2 1648.0 1309.4 1648.8 1320.3 1649.5 1345.5 1650.2 1325.2 1651.0 1316.8 1651.8 1341.7 1652.5 1331.9 1653.2 1348.4 1654.0 1331.4 1654.8 1347.6 1655.5 1335.0 1656.2 1342.8 1657.0 1334.1 1657.8 1335.5 1658.5 1311.3 1659.2 1333.0 1660.0 1286.8 1660.8 1329.2 1661.5 1309.4 1662.2 1308.9 1663.0 1302.9 1663.8 1301.3 1664.5 1313.8 1665.2 1296.0 1666.0 1299.2 1666.8 1317.7 1667.5 1291.2 1668.2 1306.6 1669.0 1319.7 1669.8 1308.3 1670.5 1315.0 1671.2 1318.5 1672.0 1317.5 1672.8 1328.8 1673.5 1318.8 1674.2 1328.2 1675.0 1325.8 1675.8 1323.6 1676.5 1325.9 1677.2 1314.3 1678.0 1338.9 1678.8 1339.7 1679.5 1341.1 1680.2 1324.3 1681.0 1317.0 1681.8 1301.7 1682.5 1316.3 1683.2 1334.2 1684.0 1331.4 1684.8 1337.0 1685.5 1325.7 1686.2 1333.3 1687.0 1317.7 1687.8 1326.5 1688.5 1334.3 1689.2 1345.9 1690.0 1352.3 1690.8 1342.7 1691.5 1341.5 1692.2 1337.9 1693.0 1352.1 1693.8 1334.3 1694.5 1346.5 1695.2 1337.9 1696.0 1356.6 1696.8 1348.5 1697.5 1345.8 1698.2 1365.3 1699.0 1359.8 1699.8 1344.9 1700.5 1338.5 1701.2 1349.4 1702.0 1362.5 1702.8 1358.9 1703.5 1357.0 1704.2 1357.1 1705.0 1353.6 1705.8 1346.9 1706.5 1334.0 1707.2 1354.0 1708.0 1343.4 1708.8 1375.3 1709.5 1386.8 1710.2 1341.7 1711.0 1375.1 1711.8 1373.8 1712.5 1382.7 1713.2 1373.4 1714.0 1360.0 1714.8 1350.3 1715.5 1357.1 1716.2 1366.1 1717.0 1358.1 1717.8 1348.0 1718.5 1345.5 1719.2 1372.0 1720.0 1344.3 1720.8 1359.0 1721.5 1356.9 1722.2 1347.1 1723.0 1359.7 1723.8 1377.1 1724.5 1365.0 1725.2 1364.0 1726.0 1353.3 1726.8 1364.4 1727.5 1348.8 1728.2 1370.5 1729.0 1379.6 1729.8 1356.8 1730.5 1343.3 1731.2 1342.1 1732.0 1351.1 1732.8 1341.0 1733.5 1354.2 1734.2 1353.5 1735.0 1346.8 1735.8 1360.9 1736.5 1377.0 1737.2 1347.9 1738.0 1348.1 1738.8 1346.7 1739.5 1378.1 1740.2 1383.9 1741.0 1375.2 1741.8 1387.1 1742.5 1386.9 1743.2 1369.3 1744.0 1375.9 1744.8 1387.2 1745.5 1377.2 1746.2 1345.7 1747.0 1360.0 1747.8 1358.2 1748.5 1367.8 1749.2 1381.7 1750.0 1389.2 1750.8 1379.0 1751.5 1373.5 1752.2 1360.2 1753.0 1367.6 1753.8 1361.0 1754.5 1340.6 1755.2 1347.9 1756.0 1356.7 1756.8 1376.8 1757.5 1366.1 1758.2 1371.2 1759.0 1339.5 1759.8 1359.6 1760.5 1364.4 1761.2 1369.9 1762.0 1340.9 1762.8 1377.6 1763.5 1370.5 1764.2 1361.9 1765.0 1383.3 1765.8 1375.1 1766.5 1366.1 1767.2 1381.7 1768.0 1367.1 1768.8 1372.2 1769.5 1372.2 1770.2 1397.1 1771.0 1399.3 1771.8 1373.6 1772.5 1386.7 1773.2 1375.3 1774.0 1409.5 1774.8 1378.3 1775.5 1386.7 1776.2 1384.2 1777.0 1376.3 1777.8 1363.9 1778.5 1387.5 1779.2 1396.0 1780.0 1364.1 1780.8 1366.6 1781.5 1384.4 1782.2 1368.3 1783.0 1365.6 1783.8 1363.1 1784.5 1370.8 1785.2 1385.2 1786.0 1357.7 1786.8 1397.3 1787.5 1343.3 1788.2 1371.6 1789.0 1361.0 1789.8 1350.7 1790.5 1357.9 1791.2 1359.2 1792.0 1350.9 1792.8 1371.3 1793.5 1363.0 1794.2 1360.3 1795.0 1359.8 1795.8 1381.9 1796.5 1389.3 1797.2 1367.8 1798.0 1370.7 1798.8 1354.2 1799.5 1346.6 1800.2 1349.5 1801.0 1361.2 1801.8 1349.4 1802.5 1364.5 1803.2 1384.6 1804.0 1381.4 1804.8 1391.4 1805.5 1365.8 1806.2 1356.0 1807.0 1348.8 1807.8 1373.6 1808.5 1379.7 1809.2 1377.1 1810.0 1391.9 1810.8 1364.8 1811.5 1373.0 1812.2 1386.0 1813.0 1380.7 1813.8 1365.5 1814.5 1398.3 1815.2 1364.6 1816.0 1386.7 1816.8 1377.1 1817.5 1393.0 1818.2 1389.5 1819.0 1372.2 1819.8 1382.0 1820.5 1370.3 1821.2 1369.6 1822.0 1366.5 1822.8 1351.8 1823.5 1358.7 1824.2 1353.7 1825.0 1360.6 1825.8 1349.5 1826.5 1362.6 1827.2 1328.3 1828.0 1340.7 1828.8 1368.2 1829.5 1328.0 1830.2 1349.9 1831.0 1355.3 1831.8 1347.1 1832.5 1330.4 1833.2 1345.1 1834.0 1344.5 1834.8 1347.6 1835.5 1347.5 1836.2 1344.5 1837.0 1323.3 1837.8 1347.1 1838.5 1339.5 1839.2 1349.3 1840.0 1379.3 1840.8 1339.4 1841.5 1357.4 1842.2 1355.8 1843.0 1348.6 1843.8 1367.7 1844.5 1359.3 1845.2 1354.7 1846.0 1358.7 1846.8 1352.5 1847.5 1360.8 1848.2 1356.4 1849.0 1353.6 1849.8 1353.7 1850.5 1332.4 1851.2 1362.4 1852.0 1340.2 1852.8 1346.5 1853.5 1361.8 1854.2 1354.4 1855.0 1350.9 1855.8 1355.7 1856.5 1346.7 1857.2 1331.5 1858.0 1344.0 1858.8 1338.9 1859.5 1340.6 1860.2 1324.8 1861.0 1326.9 1861.8 1325.8 1862.5 1340.7 1863.2 1318.5 1864.0 1328.7 1864.8 1332.4 1865.5 1317.2 1866.2 1326.2 1867.0 1301.9 1867.8 1319.2 1868.5 1324.3 1869.2 1304.4 1870.0 1311.9 1870.8 1298.6 1871.5 1307.8 1872.2 1319.4 1873.0 1315.7 1873.8 1343.7 1874.5 1332.0 1875.2 1342.8 1876.0 1324.9 1876.8 1339.3 1877.5 1325.3 1878.2 1347.8 1879.0 1331.0 1879.8 1327.0 1880.5 1337.7 1881.2 1326.5 1882.0 1317.6 1882.8 1328.3 1883.5 1345.3 1884.2 1303.3 1885.0 1344.8 1885.8 1334.6 1886.5 1347.7 1887.2 1338.7 1888.0 1342.3 1888.8 1347.2 1889.5 1310.2 1890.2 1338.1 1891.0 1336.7 1891.8 1331.8 1892.5 1344.3 1893.2 1352.3 1894.0 1331.7 1894.8 1350.7 1895.5 1352.8 1896.2 1327.8 1897.0 1341.8 1897.8 1354.9 1898.5 1350.6 1899.2 1357.8 1900.0 1351.1 1900.8 1345.1 1901.5 1346.6 1902.2 1343.0 1903.0 1338.9 1903.8 1351.3 1904.5 1345.9 1905.2 1336.4 1906.0 1331.9 1906.8 1344.8 1907.5 1337.6 1908.2 1330.0 1909.0 1342.0 1909.8 1343.8 1910.5 1347.1 1911.2 1343.6 1912.0 1339.3 1912.8 1334.3 1913.5 1354.6 1914.2 1358.0 1915.0 1328.5 1915.8 1303.7 1916.5 1322.2 1917.2 1320.9 1918.0 1352.6 1918.8 1322.1 1919.5 1317.5 1920.2 1322.4 1921.0 1336.6 1921.8 1329.5 1922.5 1333.3 1923.2 1321.7 1924.0 1319.3 1924.8 1309.7 1925.5 1324.6 1926.2 1325.4 1927.0 1313.4 1927.8 1339.0 1928.5 1320.0 1929.2 1298.9 1930.0 1320.9 1930.8 1365.6 1931.5 1322.7 1932.2 1324.2 1933.0 1325.2 1933.8 1328.5 1934.5 1303.5 1935.2 1299.5 1936.0 1295.6 1936.8 1287.9 1937.5 1305.4 1938.2 1302.7 1939.0 1305.7 1939.8 1301.4 1940.5 1296.7 1941.2 1300.6 1942.0 1303.5 1942.8 1316.9 1943.5 1314.2 1944.2 1303.9 1945.0 1302.3 1945.8 1318.1 1946.5 1308.1 1947.2 1307.4 1948.0 1292.6 1948.8 1324.7 1949.5 1320.1 1950.2 1318.1 1951.0 1288.4 1951.8 1316.2 1952.5 1304.7 1953.2 1310.7 1954.0 1314.3 1954.8 1299.8 1955.5 1306.0 1956.2 1304.2 1957.0 1295.6 1957.8 1310.3 1958.5 1317.8 1959.2 1321.8 1960.0 1307.4 1960.8 1319.6 1961.5 1308.6 1962.2 1306.7 1963.0 1308.2 1963.8 1308.2 1964.5 1315.4 1965.2 1318.4 1966.0 1309.4 1966.8 1299.5 1967.5 1316.3 1968.2 1302.4 1969.0 1304.7 1969.8 1297.3 1970.5 1311.7 1971.2 1317.4 1972.0 1304.8 1972.8 1303.3 1973.5 1296.5 1974.2 1283.3 1975.0 1317.7 1975.8 1284.4 1976.5 1313.5 1977.2 1289.0 1978.0 1296.7 1978.8 1292.6 1979.5 1287.4 1980.2 1304.9 1981.0 1298.5 1981.8 1287.5 1982.5 1277.4 1983.2 1304.8 1984.0 1294.9 1984.8 1298.2 1985.5 1296.5 1986.2 1286.5 1987.0 1294.9 1987.8 1304.2 1988.5 1301.8 1989.2 1298.4 1990.0 1297.6 1990.8 1304.6 1991.5 1306.2 1992.2 1312.7 1993.0 1313.0 1993.8 1274.4 1994.5 1294.3 1995.2 1290.3 1996.0 1298.1 1996.8 1289.7 1997.5 1299.6 1998.2 1293.7 1999.0 1287.7 1999.8 1266.3 2000.5 1269.0 2001.2 1273.0 2002.0 1268.9 2002.8 1278.5 2003.5 1283.4 2004.2 1275.7 2005.0 1290.9 2005.8 1279.6 2006.5 1287.7 2007.2 1295.2 2008.0 1313.1 2008.8 1289.4 2009.5 1302.3 2010.2 1290.8 2011.0 1297.2 2011.8 1276.7 2012.5 1291.1 2013.2 1300.8 2014.0 1276.8 2014.8 1303.0 2015.5 1293.1 2016.2 1289.7 2017.0 1286.9 2017.8 1293.9 2018.5 1302.6 2019.2 1260.7 2020.0 1279.9 2020.8 1266.3 2021.5 1276.9 2022.2 1262.7 2023.0 1253.1 2023.8 1288.6 2024.5 1287.7 2025.2 1297.2 2026.0 1292.2 2026.8 1293.6 2027.5 1290.9 2028.2 1282.3 2029.0 1263.2 2029.8 1246.0 2030.5 1257.9 2031.2 1275.4 2032.0 1263.7 2032.8 1272.9 2033.5 1269.6 2034.2 1249.5 2035.0 1254.0 2035.8 1245.4 2036.5 1275.0 2037.2 1243.5 2038.0 1250.4 2038.8 1269.3 2039.5 1285.2 2040.2 1266.7 2041.0 1278.5 2041.8 1263.2 2042.5 1269.7 2043.2 1270.1 2044.0 1274.6 2044.8 1276.4 2045.5 1256.0 2046.2 1259.6 2047.0 1282.3 2047.8 1260.3 2048.5 1275.5 2049.2 1287.9 2050.0 1264.8 2050.8 1261.8 2051.5 1271.0 2052.2 1275.1 2053.0 1262.5 2053.8 1272.1 2054.5 1273.4 2055.2 1263.5 2056.0 1255.5 2056.8 1261.7 2057.5 1269.0 2058.2 1277.2 2059.0 1252.4 2059.8 1239.7 2060.5 1261.3 2061.2 1243.1 2062.0 1233.0 2062.8 1250.1 2063.5 1263.3 2064.2 1247.2 2065.0 1248.8 2065.8 1268.9 2066.5 1265.2 2067.2 1248.4 2068.0 1218.6 2068.8 1247.3 2069.5 1239.6 2070.2 1238.9 2071.0 1248.2 2071.8 1241.7 2072.5 1254.0 2073.2 1252.0 2074.0 1241.9 2074.8 1262.9 2075.5 1266.6 2076.2 1240.2 2077.0 1234.7 2077.8 1234.1 2078.5 1226.8 2079.2 1230.1 2080.0 1213.8 2080.8 1219.0 2081.5 1198.1 2082.2 1213.1 2083.0 1224.5 2083.8 1234.2 2084.5 1234.4 2085.2 1241.1 2086.0 1243.2 2086.8 1220.2 2087.5 1239.1 2088.2 1220.1 2089.0 1218.5 2089.8 1230.8 2090.5 1242.7 2091.2 1222.4 2092.0 1248.4 2092.8 1224.1 2093.5 1250.9 2094.2 1250.7 2095.0 1212.7 2095.8 1226.3 2096.5 1251.1 2097.2 1231.2 2098.0 1251.5 2098.8 1212.8 2099.5 1229.1 2100.2 1218.4 2101.0 1228.4 2101.8 1244.0 2102.5 1236.7 2103.2 1223.8 2104.0 1209.5 2104.8 1225.9 2105.5 1217.8 2106.2 1247.0 2107.0 1226.2 2107.8 1234.4 2108.5 1231.1 2109.2 1243.6 2110.0 1228.1 2110.8 1229.3 2111.5 1227.7 2112.2 1237.7 2113.0 1227.9 2113.8 1214.5 2114.5 1225.2 2115.2 1235.2 2116.0 1222.9 2116.8 1232.4 2117.5 1222.1 2118.2 1213.5 2119.0 1212.2 2119.8 1217.2 2120.5 1220.8 2121.2 1211.2 2122.0 1215.7 2122.8 1213.0 2123.5 1209.2 2124.2 1245.6 2125.0 1220.5 2125.8 1223.5 2126.5 1216.5 2127.2 1211.3 2128.0 1214.5 2128.8 1218.6 2129.5 1218.3 2130.2 1208.5 2131.0 1210.5 2131.8 1189.3 2132.5 1220.1 2133.2 1213.4 2134.0 1220.3 2134.8 1218.7 2135.5 1206.7 2136.2 1217.1 2137.0 1225.1 2137.8 1229.9 2138.5 1219.6 2139.2 1217.4 2140.0 1208.2 2140.8 1214.1 2141.5 1225.1 2142.2 1215.8 2143.0 1219.2 2143.8 1200.8 2144.5 1210.2 2145.2 1258.8 2146.0 1220.2 2146.8 1217.2 2147.5 1244.5 2148.2 1238.4 2149.0 1223.0 2149.8 1224.4 2150.5 1211.4 2151.2 1217.5 2152.0 1203.3 2152.8 1197.9 2153.5 1226.6 2154.2 1239.5 2155.0 1228.8 2155.8 1228.5 2156.5 1205.6 2157.2 1217.0 2158.0 1193.0 2158.8 1181.5 2159.5 1210.9 2160.2 1216.9 2161.0 1200.6 2161.8 1181.7 2162.5 1179.0 2163.2 1188.8 2164.0 1202.5 2164.8 1207.9 2165.5 1201.2 2166.2 1213.7 2167.0 1209.0 2167.8 1207.7 2168.5 1208.3 2169.2 1200.2 2170.0 1185.7 2170.8 1213.2 2171.5 1217.6 2172.2 1212.6 2173.0 1205.2 2173.8 1169.5 2174.5 1179.2 2175.2 1193.6 2176.0 1185.1 2176.8 1195.7 2177.5 1193.7 2178.2 1183.1 2179.0 1166.4 2179.8 1179.9 2180.5 1195.1 2181.2 1193.5 2182.0 1199.7 2182.8 1198.6 2183.5 1207.6 2184.2 1202.3 2185.0 1194.9 2185.8 1185.2 2186.5 1202.7 2187.2 1191.9 2188.0 1151.6 2188.8 1206.2 2189.5 1187.5 2190.2 1206.5 2191.0 1183.1 2191.8 1196.2 2192.5 1193.9 2193.2 1181.0 2194.0 1188.5 2194.8 1150.5 2195.5 1208.5" stroke="#0000ff" stroke-width="5.0" fill="none" stroke-linejoin="round"/>
<path d="M259.0 1940.5 259.8 1959.5 260.5 1939.4 261.2 1947.2 262.0 1944.5 262.8 1967.5 263.5 1940.4 264.2 1946.6 265.0 1943.3 265.8 1927.8 266.5 1940.3 267.2 1949.0 268.0 1936.9 268.8 1947.4 269.5 1925.2 270.2 1934.3 271.0 1935.9 271.8 1936.6 272.5 1934.8 273.2 1953.6 274.0 1953.9 274.8 1950.6 275.5 1949.6 276.2 1944.4 277.0 1941.9 277.8 1949.7 278.5 1908.8 279.2 1942.9 280.0 1941.0 280.8 1948.1 281.5 1938.2 282.2 1943.7 283.0 1936.7 283.8 1950.4 284.5 1946.0 285.2 1954.4 286.0 1959.5 286.8 1952.2 287.5 1947.4 288.2 1948.9 289.0 1941.3 289.8 1948.5 290.5 1949.6 291.2 1967.3 292.0 1964.5 292.8 1960.4 293.5 1929.4 294.2 1942.4 295.0 1945.5 295.8 1941.3 296.5 1948.9 297.2 1950.9 298.0 1940.9 298.8 1939.6 299.5 1939.0 300.2 1959.2 301.0 1948.7 301.8 1947.0 302.5 1951.8 303.2 1945.5 304.0 1951.9 304.8 1933.3 305.5 1945.1 306.2 1942.7 307.0 1945.7 307.8 1956.4 308.5 1949.6 309.2 1980.2 310.0 1940.4 310.8 1942.7 311.5 1968.3 312.2 1953.7 313.0 1955.3 313.8 1956.3 314.5 1945.3 315.2 1946.2 316.0 1948.8 316.8 1940.0 317.5 1937.2 318.2 1938.8 319.0 1934.8 319.8 1937.3 320.5 1935.1 321.2 1942.9 322.0 1940.5 322.8 1940.6 323.5 1942.8 324.2 1941.6 325.0 1934.0 325.8 1938.8 326.5 1955.5 327.2 1956.6 328.0 1933.8 328.8 1959.8 329.5 1952.5 330.2 1930.2 331.0 1939.7 331.8 1945.5 332.5 1939.2 333.2 1932.4 334.0 1949.5 334.8 1952.2 335.5 1947.2 336.2 1960.4 337.0 1935.6 337.8 1957.5 338.5 1959.2 339.2 1947.5 340.0 1932.8 340.8 1944.1 341.5 1945.0 342.2 1949.9 343.0 1942.1 343.8 1958.6 344.5 1956.6 345.2 1970.2 346.0 1968.2 346.8 1962.5 347.5 1938.3 348.2 1944.4 349.0 1943.5 349.8 1974.1 350.5 1983.2 351.2 1957.8 352.0 1942.1 352.8 1924.6 353.5 1960.2 354.2 1960.6 355.0 1930.4 355.8 1974.3 356.5 1950.3 357.2 1972.2 358.0 1979.0 358.8 1983.1 359.5 1961.8 360.2 1964.6 361.0 1967.1 361.8 1943.9 362.5 1966.6 363.2 1944.3 364.0 1947.1 364.8 1948.9 365.5 1936.5 366.2 1937.7 367.0 1952.6 367.8 1940.7 368.5 1946.1 369.2 1944.4 370.0 1932.3 370.8 1925.3 371.5 1939.9 372.2 1950.2 373.0 1954.4 373.8 1965.3 374.5 1939.2 375.2 1932.0 376.0 1937.5 376.8 1945.4 377.5 1968.5 378.2 1937.0 379.0 1936.5 379.8 1931.7 380.5 1943.0 381.2 1944.8 382.0 1955.9 382.8 1945.6 383.5 1950.2 384.2 1956.4 385.0 1957.4 385.8 1943.9 386.5 1949.6 387.2 1954.2 388.0 1933.0 388.8 1946.7 389.5 1930.6 390.2 1928.0 391.0 1946.9 391.8 1935.3 392.5 1930.9 393.2 1943.3 394.0 1939.8 394.8 1960.1 395.5 1957.8 396.2 1950.0 397.0 1943.3 397.8 1926.4 398.5 1965.8 399.2 1950.4 400.0 1949.1 400.8 1949.5 401.5 1958.7 402.2 1936.8 403.0 1946.7 403.8 1942.6 404.5 1946.3 405.2 1942.5 406.0 1953.2 406.8 1951.1 407.5 1977.0 408.2 1981.7 409.0 1969.6 409.8 1962.6 410.5 1959.7 411.2 1948.4 412.0 1961.2 412.8 1948.5 413.5 1951.9 414.2 1975.1 415.0 1946.1 415.8 1936.3 416.5 1946.7 417.2 1944.6 418.0 1946.9 418.8 1943.7 419.5 1949.6 420.2 1952.7 421.0 1964.2 421.8 1938.1 422.5 1949.7 423.2 1944.6 424.0 1956.0 424.8 1970.3 425.5 1923.2 426.2 1940.9 427.0 1927.8 427.8 1947.5 428.5 1952.5 429.2 1944.7 430.0 1950.9 430.8 1953.4 431.5 1950.5 432.2 1952.2 433.0 1949.5 433.8 1947.3 434.5 1943.1 435.2 1960.9 436.0 1959.8 436.8 1941.5 437.5 1956.3 438.2 1943.1 439.0 1910.8 439.8 1934.0 440.5 1942.5 441.2 1946.6 442.0 1952.7 442.8 1955.1 443.5 1946.5 444.2 1960.0 445.0 1951.2 445.8 1929.1 446.5 1960.4 447.2 1956.1 448.0 1961.0 448.8 1954.9 449.5 1934.5 450.2 1944.9 451.0 1959.4 451.8 1958.9 452.5 1939.6 453.2 1967.0 454.0 1958.2 454.8 1929.1 455.5 1942.7 456.2 1920.3 457.0 1956.7 457.8 1945.8 458.5 1929.5 459.2 1932.2 460.0 1939.1 460.8 1932.7 461.5 1943.0 462.2 1947.7 463.0 1943.4 463.8 1946.5 464.5 1946.2 465.2 1943.6 466.0 1938.1 466.8 1942.9 467.5 1942.6 468.2 1938.9 469.0 1940.2 469.8 1953.9 470.5 1932.5 471.2 1935.1 472.0 1943.1 472.8 1957.0 473.5 1948.9 474.2 1953.4 475.0 1952.0 475.8 1938.6 476.5 1923.7 477.2 1939.5 478.0 1955.5 478.8 1930.1 479.5 1931.9 480.2 1936.8 481.0 1925.2 481.8 1943.8 482.5 1937.3 483.2 1942.4 484.0 1942.3 484.8 1945.0 485.5 1933.9 486.2 1938.1 487.0 1942.5 487.8 1935.9 488.5 1947.8 489.2 1947.2 490.0 1944.2 490.8 1945.8 491.5 1929.6 492.2 1953.4 493.0 1944.4 493.8 1970.3 494.5 1936.8 495.2 1952.2 496.0 1958.4 496.8 1953.0 497.5 1948.3 498.2 1962.9 499.0 1937.0 499.8 1945.0 500.5 1944.0 501.2 1924.8 502.0 1936.2 502.8 1941.3 503.5 1929.5 504.2 1943.4 505.0 1954.6 505.8 1923.9 506.5 1947.0 507.2 1919.6 508.0 1924.5 508.8 1937.7 509.5 1941.4 510.2 1957.6 511.0 1942.7 511.8 1940.1 512.5 1944.8 513.2 1935.2 514.0 1947.1 514.8 1944.3 515.5 1943.4 516.2 1927.8 517.0 1957.0 517.8 1953.4 518.5 1964.8 519.2 1936.6 520.0 1949.7 520.8 1942.0 521.5 1944.7 522.2 1945.1 523.0 1940.4 523.8 1926.7 524.5 1937.9 525.2 1943.6 526.0 1951.9 526.8 1952.7 527.5 1941.6 528.2 1948.9 529.0 1943.2 529.8 1956.1 530.5 1938.0 531.2 1933.2 532.0 1939.9 532.8 1926.0 533.5 1897.7 534.2 1923.8 535.0 1927.7 535.8 1922.1 536.5 1936.3 537.2 1941.4 538.0 1931.7 538.8 1946.0 539.5 1936.3 540.2 1926.3 541.0 1920.4 541.8 1919.3 542.5 1941.6 543.2 1936.3 544.0 1920.9 544.8 1910.0 545.5 1928.6 546.2 1923.9 547.0 1931.8 547.8 1916.1 548.5 1920.0 549.2 1934.9 550.0 1940.1 550.8 1940.2 551.5 1942.6 552.2 1958.7 553.0 1941.4 553.8 1929.9 554.5 1921.0 555.2 1946.0 556.0 1926.5 556.8 1923.5 557.5 1901.0 558.2 1932.1 559.0 1916.1 559.8 1935.2 560.5 1944.5 561.2 1930.4 562.0 1918.6 562.8 1927.2 563.5 1912.9 564.2 1918.5 565.0 1927.7 565.8 1934.0 566.5 1927.7 567.2 1936.4 568.0 1934.2 568.8 1920.6 569.5 1927.0 570.2 1934.3 571.0 1936.5 571.8 1915.9 572.5 1931.4 573.2 1942.9 574.0 1926.0 574.8 1947.6 575.5 1937.0 576.2 1951.6 577.0 1938.4 577.8 1917.6 578.5 1953.7 579.2 1955.6 580.0 1945.8 580.8 1959.5 581.5 1941.9 582.2 1931.3 583.0 1921.0 583.8 1925.2 584.5 1925.2 585.2 1938.1 586.0 1945.5 586.8 1934.9 587.5 1936.1 588.2 1929.0 589.0 1930.2 589.8 1932.0 590.5 1940.7 591.2 1940.6 592.0 1938.9 592.8 1927.9 593.5 1928.4 594.2 1933.8 595.0 1920.0 595.8 1932.7 596.5 1926.3 597.2 1922.2 598.0 1954.3 598.8 1934.5 599.5 1931.4 600.2 1921.8 601.0 1941.3 601.8 1932.2 602.5 1931.3 603.2 1926.9 604.0 1921.0 604.8 1932.0 605.5 1933.2 606.2 1928.6 607.0 1928.5 607.8 1935.9 608.5 1946.8 609.2 1935.2 610.0 1943.3 610.8 1929.6 611.5 1926.0 612.2 1936.0 613.0 1921.6 613.8 1929.5 614.5 1938.8 615.2 1948.4 616.0 1938.5 616.8 1928.9 617.5 1944.8 618.2 1935.1 619.0 1926.2 619.8 1935.1 620.5 1943.1 621.2 1938.3 622.0 1940.6 622.8 1947.0 623.5 1942.1 624.2 1929.5 625.0 1947.2 625.8 1942.1 626.5 1932.7 627.2 1939.8 628.0 1924.3 628.8 1932.6 629.5 1919.8 630.2 1923.5 631.0 1934.2 631.8 1943.0 632.5 1937.3 633.2 1929.9 634.0 1923.3 634.8 1936.3 635.5 1953.6 636.2 1916.4 637.0 1927.1 637.8 1934.8 638.5 1946.5 639.2 1950.7 640.0 1936.4 640.8 1938.6 641.5 1932.1 642.2 1928.7 643.0 1937.0 643.8 1933.4 644.5 1922.9 645.2 1940.2 646.0 1932.5 646.8 1935.1 647.5 1928.5 648.2 1923.7 649.0 1933.9 649.8 1927.5 650.5 1927.3 651.2 1928.7 652.0 1910.7 652.8 1945.7 653.5 1934.9 654.2 1946.3 655.0 1933.0 655.8 1926.5 656.5 1936.2 657.2 1939.0 658.0 1949.8 658.8 1925.5 659.5 1930.9 660.2 1944.2 661.0 1935.1 661.8 1934.8 662.5 1930.3 663.2 1938.9 664.0 1937.8 664.8 1925.5 665.5 1945.4 666.2 1923.9 667.0 1935.4 667.8 1936.2 668.5 1944.5 669.2 1955.1 670.0 1956.6 670.8 1942.2 671.5 1938.7 672.2 1930.0 673.0 1948.9 673.8 1927.3 674.5 1925.3 675.2 1910.5 676.0 1929.3 676.8 1923.7 677.5 1913.9 678.2 1916.8 679.0 1928.5 679.8 1927.8 680.5 1920.6 681.2 1929.4 682.0 1921.6 682.8 1926.3 683.5 1944.6 684.2 1937.6 685.0 1948.4 685.8 1928.1 686.5 1928.0 687.2 1933.6 688.0 1928.1 688.8 1931.6 689.5 1934.4 690.2 1937.2 691.0 1910.2 691.8 1929.7 692.5 1941.4 693.2 1940.0 694.0 1943.0 694.8 1914.3 695.5 1939.7 696.2 1924.4 697.0 1927.8 697.8 1938.4 698.5 1934.9 699.2 1928.9 700.0 1925.4 700.8 1933.1 701.5 1928.7 702.2 1933.6 703.0 1920.1 703.8 1939.7 704.5 1927.8 705.2 1933.6 706.0 1936.4 706.8 1963.7 707.5 1950.4 708.2 1926.6 709.0 1939.1 709.8 1931.7 710.5 1917.2 711.2 1919.3 712.0 1935.6 712.8 1935.4 713.5 1932.8 714.2 1940.9 715.0 1929.1 715.8 1948.7 716.5 1928.4 717.2 1935.5 718.0 1925.6 718.8 1923.5 719.5 1920.8 720.2 1924.7 721.0 1916.9 721.8 1945.1 722.5 1929.8 723.2 1924.6 724.0 1939.7 724.8 1928.5 725.5 1926.9 726.2 1926.8 727.0 1946.2 727.8 1930.1 728.5 1949.1 729.2 1945.6 730.0 1943.8 730.8 1937.5 731.5 1936.1 732.2 1928.2 733.0 1933.7 733.8 1930.6 734.5 1946.1 735.2 1923.0 736.0 1930.0 736.8 1934.8 737.5 1929.1 738.2 1917.1 739.0 1931.5 739.8 1911.8 740.5 1924.9 741.2 1942.4 742.0 1946.5 742.8 1933.3 743.5 1930.7 744.2 1928.9 745.0 1939.1 745.8 1941.4 746.5 1949.2 747.2 1926.2 748.0 1940.7 748.8 1934.9 749.5 1924.3 750.2 1939.6 751.0 1943.5 751.8 1938.8 752.5 1902.6 753.2 1919.4 754.0 1928.7 754.8 1918.8 755.5 1933.7 756.2 1934.3 757.0 1914.8 757.8 1919.4 758.5 1949.3 759.2 1924.0 760.0 1935.8 760.8 1922.2 761.5 1920.0 762.2 1908.3 763.0 1918.1 763.8 1930.4 764.5 1918.7 765.2 1935.1 766.0 1935.9 766.8 1920.3 767.5 1894.6 768.2 1928.4 769.0 1891.6 769.8 1923.3 770.5 1906.9 771.2 1902.7 772.0 1912.8 772.8 1901.5 773.5 1913.4 774.2 1924.1 775.0 1916.9 775.8 1914.2 776.5 1930.3 777.2 1915.1 778.0 1927.7 778.8 1927.5 779.5 1925.3 780.2 1917.2 781.0 1923.4 781.8 1925.9 782.5 1936.3 783.2 1952.4 784.0 1959.3 784.8 1939.9 785.5 1939.9 786.2 1917.6 787.0 1954.2 787.8 1936.9 788.5 1935.5 789.2 1938.6 790.0 1929.3 790.8 1911.7 791.5 1919.9 792.2 1932.8 793.0 1934.0 793.8 1942.1 794.5 1932.8 795.2 1942.3 796.0 1921.4 796.8 1930.5 797.5 1918.8 798.2 1934.7 799.0 1944.9 799.8 1928.5 800.5 1943.6 801.2 1930.0 802.0 1926.3 802.8 1926.9 803.5 1921.1 804.2 1957.4 805.0 1915.0 805.8 1929.8 806.5 1920.2 807.2 1929.6 808.0 1925.1 808.8 1930.5 809.5 1930.5 810.2 1936.0 811.0 1931.1 811.8 1925.1 812.5 1920.4 813.2 1936.0 814.0 1930.7 814.8 1928.3 815.5 1936.4 816.2 1927.6 817.0 1913.4 817.8 1926.2 818.5 1931.4 819.2 1932.3 820.0 1925.5 820.8 1930.8 821.5 1922.1 822.2 1924.6 823.0 1918.3 823.8 1924.1 824.5 1926.6 825.2 1927.9 826.0 1924.4 826.8 1935.3 827.5 1937.1 828.2 1923.0 829.0 1939.2 829.8 1919.7 830.5 1924.4 831.2 1927.0 832.0 1936.2 832.8 1934.8 833.5 1934.7 834.2 1927.0 835.0 1930.6 835.8 1936.3 836.5 1926.8 837.2 1926.7 838.0 1923.2 838.8 1928.0 839.5 1942.3 840.2 1919.4 841.0 1923.1 841.8 1936.2 842.5 1932.6 843.2 1907.5 844.0 1933.3 844.8 1956.9 845.5 1938.8 846.2 1942.9 847.0 1955.7 847.8 1952.5 848.5 1927.9 849.2 1938.2 850.0 1931.4 850.8 1927.6 851.5 1924.3 852.2 1929.9 853.0 1923.7 853.8 1932.8 854.5 1950.6 855.2 1927.2 856.0 1936.0 856.8 1937.4 857.5 1941.1 858.2 1931.2 859.0 1925.9 859.8 1930.3 860.5 1911.9 861.2 1923.0 862.0 1942.6 862.8 1916.4 863.5 1921.4 864.2 1917.4 865.0 1907.8 865.8 1924.6 866.5 1935.0 867.2 1929.5 868.0 1920.7 868.8 1915.5 869.5 1941.8 870.2 1921.2 871.0 1934.6 871.8 1917.9 872.5 1937.0 873.2 1917.1 874.0 1944.1 874.8 1921.4 875.5 1919.9 876.2 1930.1 877.0 1917.1 877.8 1938.0 878.5 1936.6 879.2 1936.1 880.0 1941.6 880.8 1932.9 881.5 1939.6 882.2 1939.4 883.0 1933.4 883.8 1939.5 884.5 1933.7 885.2 1918.2 886.0 1918.1 886.8 1935.7 887.5 1925.9 888.2 1930.3 889.0 1928.0 889.8 1927.0 890.5 1923.3 891.2 1919.0 892.0 1939.1 892.8 1921.5 893.5 1932.0 894.2 1919.4 895.0 1923.1 895.8 1919.9 896.5 1934.4 897.2 1918.2 898.0 1926.9 898.8 1919.8 899.5 1922.2 900.2 1929.7 901.0 1905.0 901.8 1914.2 902.5 1921.3 903.2 1929.6 904.0 1924.6 904.8 1923.6 905.5 1937.8 906.2 1929.3 907.0 1937.2 907.8 1916.6 908.5 1915.4 909.2 1941.8 910.0 1941.2 910.8 1927.4 911.5 1943.6 912.2 1941.5 913.0 1945.4 913.8 1929.3 914.5 1923.5 915.2 1956.5 916.0 1921.8 916.8 1911.8 917.5 1919.3 918.2 1926.8 919.0 1923.5 919.8 1934.2 920.5 1924.6 921.2 1919.9 922.0 1922.7 922.8 1933.2 923.5 1925.0 924.2 1922.7 925.0 1915.9 925.8 1929.2 926.5 1943.7 927.2 1963.3 928.0 1909.5 928.8 1937.0 929.5 1946.6 930.2 1951.6 931.0 1929.7 931.8 1902.5 932.5 1929.1 933.2 1926.4 934.0 1917.5 934.8 1918.5 935.5 1921.0 936.2 1922.2 937.0 1928.7 937.8 1944.7 938.5 1909.4 939.2 1935.9 940.0 1937.6 940.8 1932.4 941.5 1925.3 942.2 1929.8 943.0 1927.0 943.8 1918.8 944.5 1919.9 945.2 1909.7 946.0 1921.3 946.8 1930.4 947.5 1909.1 948.2 1911.6 949.0 1923.0 949.8 1913.0 950.5 1924.0 951.2 1929.4 952.0 1918.0 952.8 1915.5 953.5 1920.9 954.2 1925.8 955.0 1918.2 955.8 1946.8 956.5 1931.5 957.2 1927.4 958.0 1924.3 958.8 1924.5 959.5 1927.2 960.2 1925.8 961.0 1914.7 961.8 1928.4 962.5 1926.1 963.2 1960.9 964.0 1912.3 964.8 1911.3 965.5 1912.5 966.2 1924.9 967.0 1940.8 967.8 1932.1 968.5 1929.2 969.2 1939.8 970.0 1943.8 970.8 1920.8 971.5 1915.9 972.2 1954.7 973.0 1924.1 973.8 1930.8 974.5 1935.4 975.2 1956.3 976.0 1945.4 976.8 1937.9 977.5 1935.7 978.2 1932.4 979.0 1934.4 979.8 1943.8 980.5 1923.8 981.2 1909.5 982.0 1916.0 982.8 1933.7 983.5 1926.8 984.2 1927.8 985.0 1928.6 985.8 1933.9 986.5 1924.2 987.2 1906.0 988.0 1914.0 988.8 1919.7 989.5 1930.7 990.2 1929.8 991.0 1919.3 991.8 1922.7 992.5 1930.0 993.2 1925.4 994.0 1915.1 994.8 1914.5 995.5 1921.6 996.2 1932.7 997.0 1921.4 997.8 1921.7 998.5 1910.7 999.2 1912.1 1000.0 1910.2 1000.8 1921.0 1001.5 1917.2 1002.2 1912.0 1003.0 1901.4 1003.8 1912.9 1004.5 1919.5 1005.2 1916.5 1006.0 1915.6 1006.8 1907.6 1007.5 1932.4 1008.2 1934.1 1009.0 1919.2 1009.8 1910.1 1010.5 1921.6 1011.2 1922.0 1012.0 1909.4 1012.8 1915.4 1013.5 1912.3 1014.2 1878.6 1015.0 1880.0 1015.8 1901.7 1016.5 1898.0 1017.2 1902.7 1018.0 1914.8 1018.8 1904.7 1019.5 1900.0 1020.2 1910.4 1021.0 1907.4 1021.8 1908.8 1022.5 1897.4 1023.2 1891.7 1024.0 1902.2 1024.8 1907.9 1025.5 1888.7 1026.2 1888.7 1027.0 1879.7 1027.8 1908.7 1028.5 1885.4 1029.2 1900.2 1030.0 1893.1 1030.8 1892.4 1031.5 1872.5 1032.2 1893.5 1033.0 1895.7 1033.8 1896.9 1034.5 1893.4 1035.2 1913.8 1036.0 1900.7 1036.8 1905.9 1037.5 1910.5 1038.2 1907.7 1039.0 1906.2 1039.8 1895.7 1040.5 1882.8 1041.2 1916.9 1042.0 1901.0 1042.8 1911.0 1043.5 1902.8 1044.2 1894.0 1045.0 1879.8 1045.8 1899.4 1046.5 1906.0 1047.2 1908.3 1048.0 1878.8 1048.8 1911.3 1049.5 1898.9 1050.2 1884.2 1051.0 1858.1 1051.8 1892.6 1052.5 1886.1 1053.2 1893.4 1054.0 1885.6 1054.8 1910.4 1055.5 1890.0 1056.2 1897.0 1057.0 1899.2 1057.8 1876.9 1058.5 1878.8 1059.2 1879.4 1060.0 1898.2 1060.8 1881.5 1061.5 1886.4 1062.2 1901.6 1063.0 1894.0 1063.8 1891.7 1064.5 1892.6 1065.2 1910.5 1066.0 1888.5 1066.8 1897.4 1067.5 1876.9 1068.2 1885.4 1069.0 1884.2 1069.8 1873.6 1070.5 1874.3 1071.2 1856.7 1072.0 1862.1 1072.8 1887.0 1073.5 1884.3 1074.2 1897.6 1075.0 1893.4 1075.8 1884.7 1076.5 1882.0 1077.2 1852.8 1078.0 1874.3 1078.8 1883.2 1079.5 1872.5 1080.2 1888.1 1081.0 1880.9 1081.8 1871.6 1082.5 1874.0 1083.2 1874.6 1084.0 1866.5 1084.8 1864.1 1085.5 1870.9 1086.2 1884.1 1087.0 1864.2 1087.8 1872.4 1088.5 1868.7 1089.2 1856.5 1090.0 1848.0 1090.8 1843.7 1091.5 1877.9 1092.2 1845.3 1093.0 1850.3 1093.8 1856.7 1094.5 1837.7 1095.2 1863.1 1096.0 1845.7 1096.8 1841.8 1097.5 1848.5 1098.2 1846.8 1099.0 1848.4 1099.8 1873.5 1100.5 1845.6 1101.2 1864.0 1102.0 1828.4 1102.8 1847.9 1103.5 1830.7 1104.2 1861.5 1105.0 1861.2 1105.8 1843.7 1106.5 1836.1 1107.2 1844.3 1108.0 1834.9 1108.8 1820.9 1109.5 1809.4 1110.2 1822.3 1111.0 1830.1 1111.8 1829.2 1112.5 1817.9 1113.2 1835.9 1114.0 1833.5 1114.8 1828.6 1115.5 1831.5 1116.2 1815.5 1117.0 1815.9 1117.8 1825.3 1118.5 1828.0 1119.2 1809.5 1120.0 1814.3 1120.8 1820.5 1121.5 1820.1 1122.2 1806.6 1123.0 1807.8 1123.8 1799.6 1124.5 1811.1 1125.2 1833.3 1126.0 1819.3 1126.8 1812.4 1127.5 1825.1 1128.2 1821.8 1129.0 1813.3 1129.8 1812.0 1130.5 1806.4 1131.2 1797.8 1132.0 1801.7 1132.8 1820.8 1133.5 1812.7 1134.2 1819.4 1135.0 1794.3 1135.8 1795.6 1136.5 1796.6 1137.2 1810.2 1138.0 1808.8 1138.8 1809.9 1139.5 1821.4 1140.2 1821.6 1141.0 1810.3 1141.8 1808.2 1142.5 1807.1 1143.2 1834.7 1144.0 1806.3 1144.8 1789.8 1145.5 1794.5 1146.2 1820.2 1147.0 1805.0 1147.8 1787.5 1148.5 1807.2 1149.2 1816.3 1150.0 1785.1 1150.8 1807.0 1151.5 1789.8 1152.2 1788.4 1153.0 1802.2 1153.8 1795.2 1154.5 1794.6 1155.2 1795.6 1156.0 1793.7 1156.8 1775.5 1157.5 1803.2 1158.2 1778.5 1159.0 1798.3 1159.8 1782.9 1160.5 1777.6 1161.2 1773.6 1162.0 1782.9 1162.8 1771.8 1163.5 1780.4 1164.2 1770.5 1165.0 1763.3 1165.8 1790.1 1166.5 1756.9 1167.2 1779.1 1168.0 1773.1 1168.8 1763.4 1169.5 1770.6 1170.2 1773.1 1171.0 1761.2 1171.8 1758.2 1172.5 1774.1 1173.2 1768.7 1174.0 1776.8 1174.8 1739.7 1175.5 1760.1 1176.2 1765.8 1177.0 1758.0 1177.8 1759.6 1178.5 1731.6 1179.2 1760.1 1180.0 1749.0 1180.8 1740.3 1181.5 1761.3 1182.2 1740.7 1183.0 1740.5 1183.8 1754.7 1184.5 1741.8 1185.2 1745.9 1186.0 1756.0 1186.8 1750.6 1187.5 1743.6 1188.2 1742.2 1189.0 1741.7 1189.8 1738.7 1190.5 1732.2 1191.2 1744.5 1192.0 1741.2 1192.8 1761.1 1193.5 1738.1 1194.2 1740.4 1195.0 1751.2 1195.8 1746.7 1196.5 1747.7 1197.2 1740.5 1198.0 1739.1 1198.8 1746.5 1199.5 1735.5 1200.2 1719.9 1201.0 1728.6 1201.8 1769.7 1202.5 1734.6 1203.2 1729.0 1204.0 1740.9 1204.8 1705.9 1205.5 1738.3 1206.2 1725.4 1207.0 1725.7 1207.8 1739.8 1208.5 1731.6 1209.2 1717.6 1210.0 1691.1 1210.8 1711.3 1211.5 1717.9 1212.2 1708.4 1213.0 1729.4 1213.8 1731.3 1214.5 1721.4 1215.2 1720.9 1216.0 1725.3 1216.8 1731.0 1217.5 1703.6 1218.2 1725.3 1219.0 1726.1 1219.8 1740.9 1220.5 1737.1 1221.2 1730.8 1222.0 1705.4 1222.8 1726.4 1223.5 1721.9 1224.2 1720.2 1225.0 1706.1 1225.8 1718.5 1226.5 1699.6 1227.2 1704.4 1228.0 1694.3 1228.8 1682.0 1229.5 1662.5 1230.2 1689.1 1231.0 1682.7 1231.8 1688.3 1232.5 1698.3 1233.2 1689.7 1234.0 1688.6 1234.8 1693.4 1235.5 1715.9 1236.2 1697.5 1237.0 1698.0 1237.8 1693.3 1238.5 1686.8 1239.2 1695.0 1240.0 1684.3 1240.8 1672.4 1241.5 1681.3 1242.2 1688.1 1243.0 1659.3 1243.8 1669.7 1244.5 1645.3 1245.2 1675.0 1246.0 1688.0 1246.8 1660.5 1247.5 1690.2 1248.2 1727.3 1249.0 1702.5 1249.8 1712.4 1250.5 1684.3 1251.2 1694.5 1252.0 1682.1 1252.8 1679.3 1253.5 1665.8 1254.2 1663.3 1255.0 1666.7 1255.8 1681.0 1256.5 1672.4 1257.2 1691.6 1258.0 1684.0 1258.8 1662.6 1259.5 1663.7 1260.2 1680.0 1261.0 1668.1 1261.8 1669.3 1262.5 1671.6 1263.2 1668.5 1264.0 1708.6 1264.8 1674.5 1265.5 1685.3 1266.2 1683.4 1267.0 1691.3 1267.8 1697.2 1268.5 1683.0 1269.2 1690.3 1270.0 1677.9 1270.8 1707.0 1271.5 1699.1 1272.2 1707.6 1273.0 1691.8 1273.8 1693.3 1274.5 1681.4 1275.2 1689.2 1276.0 1685.1 1276.8 1680.7 1277.5 1685.3 1278.2 1718.9 1279.0 1694.1 1279.8 1702.9 1280.5 1703.8 1281.2 1702.4 1282.0 1698.6 1282.8 1689.0 1283.5 1694.4 1284.2 1704.4 1285.0 1706.0 1285.8 1694.1 1286.5 1708.9 1287.2 1703.6 1288.0 1694.7 1288.8 1687.7 1289.5 1662.6 1290.2 1690.8 1291.0 1676.8 1291.8 1684.0 1292.5 1674.2 1293.2 1680.7 1294.0 1663.1 1294.8 1673.3 1295.5 1672.7 1296.2 1687.2 1297.0 1676.1 1297.8 1670.5 1298.5 1659.9 1299.2 1671.8 1300.0 1657.7 1300.8 1661.7 1301.5 1674.0 1302.2 1680.8 1303.0 1640.2 1303.8 1666.5 1304.5 1661.9 1305.2 1693.5 1306.0 1671.0 1306.8 1683.3 1307.5 1677.1 1308.2 1670.6 1309.0 1673.8 1309.8 1640.5 1310.5 1674.2 1311.2 1655.8 1312.0 1659.2 1312.8 1647.8 1313.5 1676.8 1314.2 1686.8 1315.0 1675.5 1315.8 1702.5 1316.5 1679.8 1317.2 1687.3 1318.0 1670.1 1318.8 1693.9 1319.5 1680.4 1320.2 1690.1 1321.0 1677.7 1321.8 1674.4 1322.5 1678.9 1323.2 1681.5 1324.0 1673.6 1324.8 1685.6 1325.5 1689.7 1326.2 1684.7 1327.0 1689.3 1327.8 1668.7 1328.5 1673.4 1329.2 1672.9 1330.0 1690.4 1330.8 1688.7 1331.5 1722.1 1332.2 1698.6 1333.0 1681.6 1333.8 1692.1 1334.5 1693.2 1335.2 1685.4 1336.0 1722.0 1336.8 1671.7 1337.5 1674.8 1338.2 1668.2 1339.0 1677.2 1339.8 1681.4 1340.5 1685.7 1341.2 1677.5 1342.0 1682.4 1342.8 1681.7 1343.5 1681.0 1344.2 1653.5 1345.0 1682.7 1345.8 1677.3 1346.5 1677.9 1347.2 1674.4 1348.0 1664.0 1348.8 1673.9 1349.5 1679.8 1350.2 1666.2 1351.0 1656.6 1351.8 1670.4 1352.5 1653.6 1353.2 1670.4 1354.0 1662.0 1354.8 1674.1 1355.5 1665.9 1356.2 1678.6 1357.0 1684.5 1357.8 1672.9 1358.5 1693.2 1359.2 1680.7 1360.0 1667.8 1360.8 1699.5 1361.5 1660.5 1362.2 1682.2 1363.0 1669.3 1363.8 1689.4 1364.5 1671.7 1365.2 1675.2 1366.0 1682.3 1366.8 1675.7 1367.5 1686.0 1368.2 1688.1 1369.0 1674.5 1369.8 1688.3 1370.5 1668.1 1371.2 1663.5 1372.0 1677.8 1372.8 1667.2 1373.5 1682.2 1374.2 1679.0 1375.0 1667.7 1375.8 1675.7 1376.5 1676.4 1377.2 1688.6 1378.0 1655.9 1378.8 1678.7 1379.5 1673.5 1380.2 1683.1 1381.0 1691.1 1381.8 1689.7 1382.5 1678.8 1383.2 1687.0 1384.0 1698.8 1384.8 1672.4 1385.5 1660.0 1386.2 1667.6 1387.0 1659.4 1387.8 1676.6 1388.5 1661.7 1389.2 1660.8 1390.0 1667.0 1390.8 1649.7 1391.5 1663.8 1392.2 1685.1 1393.0 1658.6 1393.8 1684.8 1394.5 1672.5 1395.2 1670.6 1396.0 1698.6 1396.8 1663.5 1397.5 1678.6 1398.2 1662.2 1399.0 1660.6 1399.8 1674.9 1400.5 1675.3 1401.2 1668.9 1402.0 1674.0 1402.8 1659.8 1403.5 1662.9 1404.2 1671.0 1405.0 1657.0 1405.8 1644.3 1406.5 1646.1 1407.2 1649.6 1408.0 1650.5 1408.8 1670.6 1409.5 1686.0 1410.2 1672.7 1411.0 1667.5 1411.8 1657.8 1412.5 1659.1 1413.2 1670.3 1414.0 1662.7 1414.8 1652.6 1415.5 1651.4 1416.2 1660.0 1417.0 1652.5 1417.8 1666.0 1418.5 1670.5 1419.2 1648.7 1420.0 1667.7 1420.8 1649.8 1421.5 1643.8 1422.2 1633.9 1423.0 1635.0 1423.8 1639.6 1424.5 1642.9 1425.2 1650.0 1426.0 1660.1 1426.8 1661.7 1427.5 1647.8 1428.2 1639.6 1429.0 1630.5 1429.8 1629.5 1430.5 1633.8 1431.2 1619.2 1432.0 1630.3 1432.8 1645.9 1433.5 1642.3 1434.2 1636.4 1435.0 1645.3 1435.8 1646.9 1436.5 1616.7 1437.2 1625.9 1438.0 1647.3 1438.8 1660.7 1439.5 1641.9 1440.2 1615.0 1441.0 1628.8 1441.8 1628.9 1442.5 1635.5 1443.2 1622.0 1444.0 1634.3 1444.8 1620.8 1445.5 1620.7 1446.2 1649.6 1447.0 1629.8 1447.8 1620.1 1448.5 1614.8 1449.2 1617.4 1450.0 1620.8 1450.8 1609.3 1451.5 1602.6 1452.2 1619.2 1453.0 1618.2 1453.8 1614.0 1454.5 1643.1 1455.2 1634.1 1456.0 1640.4 1456.8 1624.7 1457.5 1635.4 1458.2 1639.1 1459.0 1630.8 1459.8 1635.7 1460.5 1640.7 1461.2 1634.9 1462.0 1636.8 1462.8 1640.2 1463.5 1634.0 1464.2 1644.3 1465.0 1637.0 1465.8 1633.8 1466.5 1634.2 1467.2 1660.1 1468.0 1647.3 1468.8 1642.2 1469.5 1631.0 1470.2 1632.9 1471.0 1614.7 1471.8 1633.0 1472.5 1618.8 1473.2 1647.7 1474.0 1601.3 1474.8 1648.8 1475.5 1624.3 1476.2 1632.1 1477.0 1639.6 1477.8 1635.1 1478.5 1629.9 1479.2 1634.4 1480.0 1632.3 1480.8 1630.1 1481.5 1645.7 1482.2 1634.4 1483.0 1633.9 1483.8 1649.6 1484.5 1629.1 1485.2 1649.3 1486.0 1622.8 1486.8 1626.9 1487.5 1618.3 1488.2 1606.9 1489.0 1616.3 1489.8 1622.6 1490.5 1631.4 1491.2 1615.7 1492.0 1607.0 1492.8 1631.0 1493.5 1609.8 1494.2 1623.2 1495.0 1599.5 1495.8 1625.8 1496.5 1609.2 1497.2 1628.0 1498.0 1614.7 1498.8 1611.3 1499.5 1604.7 1500.2 1607.0 1501.0 1612.8 1501.8 1610.7 1502.5 1613.0 1503.2 1626.6 1504.0 1625.6 1504.8 1620.6 1505.5 1622.8 1506.2 1629.5 1507.0 1622.1 1507.8 1597.2 1508.5 1622.0 1509.2 1606.1 1510.0 1633.6 1510.8 1611.0 1511.5 1594.6 1512.2 1627.6 1513.0 1610.5 1513.8 1606.7 1514.5 1604.9 1515.2 1626.9 1516.0 1593.1 1516.8 1601.0 1517.5 1600.3 1518.2 1605.1 1519.0 1590.1 1519.8 1593.8 1520.5 1597.0 1521.2 1597.2 1522.0 1615.3 1522.8 1614.5 1523.5 1600.7 1524.2 1605.8 1525.0 1625.2 1525.8 1638.0 1526.5 1612.6 1527.2 1615.8 1528.0 1610.3 1528.8 1642.7 1529.5 1632.8 1530.2 1640.5 1531.0 1605.5 1531.8 1637.5 1532.5 1618.9 1533.2 1626.6 1534.0 1625.6 1534.8 1618.5 1535.5 1627.5 1536.2 1606.4 1537.0 1609.1 1537.8 1620.7 1538.5 1613.2 1539.2 1611.5 1540.0 1596.0 1540.8 1608.9 1541.5 1618.4 1542.2 1614.6 1543.0 1636.4 1543.8 1613.9 1544.5 1610.8 1545.2 1620.0 1546.0 1626.1 1546.8 1601.6 1547.5 1607.2 1548.2 1609.2 1549.0 1579.2 1549.8 1591.9 1550.5 1597.8 1551.2 1590.2 1552.0 1588.3 1552.8 1614.0 1553.5 1607.3 1554.2 1605.5 1555.0 1567.2 1555.8 1619.9 1556.5 1627.3 1557.2 1611.0 1558.0 1601.6 1558.8 1607.4 1559.5 1605.6 1560.2 1616.5 1561.0 1593.5 1561.8 1605.0 1562.5 1602.3 1563.2 1615.0 1564.0 1581.4 1564.8 1602.1 1565.5 1607.3 1566.2 1612.1 1567.0 1626.5 1567.8 1601.4 1568.5 1610.6 1569.2 1594.0 1570.0 1594.9 1570.8 1605.9 1571.5 1593.7 1572.2 1602.9 1573.0 1593.2 1573.8 1604.4 1574.5 1586.3 1575.2 1617.7 1576.0 1611.6 1576.8 1599.4 1577.5 1599.9 1578.2 1618.5 1579.0 1624.4 1579.8 1620.1 1580.5 1605.6 1581.2 1616.1 1582.0 1617.9 1582.8 1614.6 1583.5 1620.9 1584.2 1622.3 1585.0 1619.1 1585.8 1609.6 1586.5 1622.4 1587.2 1593.3 1588.0 1610.9 1588.8 1604.2 1589.5 1593.1 1590.2 1614.6 1591.0 1597.3 1591.8 1606.1 1592.5 1608.7 1593.2 1593.2 1594.0 1593.3 1594.8 1617.5 1595.5 1624.4 1596.2 1611.0 1597.0 1609.3 1597.8 1600.1 1598.5 1616.9 1599.2 1582.9 1600.0 1624.7 1600.8 1616.4 1601.5 1609.0 1602.2 1618.4 1603.0 1596.3 1603.8 1564.1 1604.5 1626.3 1605.2 1568.1 1606.0 1579.0 1606.8 1609.0 1607.5 1632.3 1608.2 1624.8 1609.0 1601.2 1609.8 1617.0 1610.5 1603.7 1611.2 1611.6 1612.0 1614.5 1612.8 1611.3 1613.5 1604.2 1614.2 1620.2 1615.0 1614.3 1615.8 1621.4 1616.5 1631.6 1617.2 1624.8 1618.0 1610.7 1618.8 1608.6 1619.5 1624.4 1620.2 1623.6 1621.0 1621.2 1621.8 1616.7 1622.5 1614.6 1623.2 1617.0 1624.0 1622.5 1624.8 1608.6 1625.5 1629.7 1626.2 1589.7 1627.0 1608.4 1627.8 1616.9 1628.5 1618.3 1629.2 1629.0 1630.0 1614.6 1630.8 1657.6 1631.5 1612.3 1632.2 1635.8 1633.0 1604.8 1633.8 1610.0 1634.5 1613.7 1635.2 1636.5 1636.0 1617.9 1636.8 1626.0 1637.5 1613.9 1638.2 1613.8 1639.0 1618.4 1639.8 1612.0 1640.5 1627.1 1641.2 1617.3 1642.0 1619.0 1642.8 1621.0 1643.5 1617.4 1644.2 1629.0 1645.0 1626.1 1645.8 1623.0 1646.5 1606.7 1647.2 1613.6 1648.0 1612.6 1648.8 1606.4 1649.5 1601.8 1650.2 1598.7 1651.0 1604.1 1651.8 1623.8 1652.5 1602.9 1653.2 1602.2 1654.0 1611.5 1654.8 1618.2 1655.5 1608.9 1656.2 1630.4 1657.0 1602.0 1657.8 1620.1 1658.5 1629.7 1659.2 1639.1 1660.0 1628.2 1660.8 1637.9 1661.5 1623.3 1662.2 1633.7 1663.0 1640.2 1663.8 1640.7 1664.5 1636.0 1665.2 1627.0 1666.0 1613.8 1666.8 1622.2 1667.5 1649.9 1668.2 1627.9 1669.0 1657.0 1669.8 1629.1 1670.5 1631.3 1671.2 1647.9 1672.0 1635.3 1672.8 1644.1 1673.5 1659.2 1674.2 1630.9 1675.0 1640.6 1675.8 1667.4 1676.5 1651.5 1677.2 1644.0 1678.0 1659.5 1678.8 1643.7 1679.5 1652.1 1680.2 1648.9 1681.0 1692.0 1681.8 1645.2 1682.5 1651.1 1683.2 1629.9 1684.0 1643.3 1684.8 1646.0 1685.5 1637.7 1686.2 1632.1 1687.0 1659.3 1687.8 1651.7 1688.5 1646.8 1689.2 1640.2 1690.0 1662.3 1690.8 1653.4 1691.5 1674.3 1692.2 1659.8 1693.0 1657.7 1693.8 1653.4 1694.5 1644.7 1695.2 1649.8 1696.0 1644.5 1696.8 1646.7 1697.5 1665.3 1698.2 1655.1 1699.0 1665.6 1699.8 1655.0 1700.5 1650.0 1701.2 1653.8 1702.0 1649.1 1702.8 1658.4 1703.5 1639.0 1704.2 1660.6 1705.0 1653.8 1705.8 1659.7 1706.5 1645.1 1707.2 1636.0 1708.0 1639.8 1708.8 1637.2 1709.5 1658.9 1710.2 1643.2 1711.0 1626.3 1711.8 1624.7 1712.5 1646.6 1713.2 1649.7 1714.0 1678.2 1714.8 1647.8 1715.5 1670.9 1716.2 1657.5 1717.0 1675.0 1717.8 1672.0 1718.5 1701.8 1719.2 1668.4 1720.0 1674.3 1720.8 1654.3 1721.5 1646.6 1722.2 1658.0 1723.0 1674.8 1723.8 1664.7 1724.5 1671.2 1725.2 1658.1 1726.0 1653.3 1726.8 1661.7 1727.5 1657.4 1728.2 1655.7 1729.0 1663.5 1729.8 1673.7 1730.5 1656.6 1731.2 1642.7 1732.0 1664.6 1732.8 1694.6 1733.5 1671.1 1734.2 1662.0 1735.0 1664.2 1735.8 1653.8 1736.5 1662.6 1737.2 1673.5 1738.0 1673.6 1738.8 1665.5 1739.5 1684.1 1740.2 1670.8 1741.0 1682.0 1741.8 1661.3 1742.5 1691.0 1743.2 1671.0 1744.0 1663.3 1744.8 1689.0 1745.5 1670.8 1746.2 1691.8 1747.0 1688.4 1747.8 1689.6 1748.5 1685.7 1749.2 1683.9 1750.0 1681.6 1750.8 1677.9 1751.5 1679.1 1752.2 1677.0 1753.0 1691.0 1753.8 1681.9 1754.5 1674.5 1755.2 1655.6 1756.0 1647.2 1756.8 1684.6 1757.5 1668.5 1758.2 1666.6 1759.0 1665.3 1759.8 1677.5 1760.5 1660.7 1761.2 1663.4 1762.0 1659.0 1762.8 1662.5 1763.5 1677.9 1764.2 1672.6 1765.0 1657.9 1765.8 1690.2 1766.5 1655.7 1767.2 1665.1 1768.0 1680.2 1768.8 1666.5 1769.5 1672.8 1770.2 1660.2 1771.0 1661.6 1771.8 1682.1 1772.5 1663.5 1773.2 1681.4 1774.0 1673.8 1774.8 1697.0 1775.5 1664.9 1776.2 1683.4 1777.0 1713.1 1777.8 1683.6 1778.5 1661.0 1779.2 1674.4 1780.0 1697.3 1780.8 1692.1 1781.5 1670.7 1782.2 1685.4 1783.0 1672.1 1783.8 1668.8 1784.5 1665.4 1785.2 1654.8 1786.0 1653.5 1786.8 1651.2 1787.5 1666.0 1788.2 1671.9 1789.0 1666.0 1789.8 1677.9 1790.5 1670.2 1791.2 1684.6 1792.0 1668.5 1792.8 1680.5 1793.5 1685.1 1794.2 1657.4 1795.0 1666.0 1795.8 1650.0 1796.5 1672.4 1797.2 1645.5 1798.0 1680.2 1798.8 1667.7 1799.5 1673.9 1800.2 1649.1 1801.0 1675.1 1801.8 1664.4 1802.5 1682.2 1803.2 1661.7 1804.0 1673.0 1804.8 1662.6 1805.5 1670.8 1806.2 1671.3 1807.0 1665.4 1807.8 1673.0 1808.5 1672.1 1809.2 1675.5 1810.0 1658.2 1810.8 1664.6 1811.5 1692.1 1812.2 1675.8 1813.0 1667.5 1813.8 1682.3 1814.5 1670.3 1815.2 1675.1 1816.0 1665.2 1816.8 1660.9 1817.5 1675.5 1818.2 1666.5 1819.0 1674.0 1819.8 1690.2 1820.5 1665.5 1821.2 1662.2 1822.0 1666.2 1822.8 1675.9 1823.5 1674.7 1824.2 1664.3 1825.0 1659.9 1825.8 1663.0 1826.5 1656.1 1827.2 1671.3 1828.0 1643.2 1828.8 1661.5 1829.5 1661.9 1830.2 1673.2 1831.0 1678.2 1831.8 1646.2 1832.5 1655.2 1833.2 1677.4 1834.0 1669.3 1834.8 1662.0 1835.5 1662.0 1836.2 1661.6 1837.0 1656.8 1837.8 1659.3 1838.5 1652.8 1839.2 1656.9 1840.0 1626.8 1840.8 1634.3 1841.5 1659.0 1842.2 1634.1 1843.0 1653.6 1843.8 1645.9 1844.5 1657.5 1845.2 1645.3 1846.0 1666.6 1846.8 1665.7 1847.5 1654.0 1848.2 1654.3 1849.0 1667.0 1849.8 1703.6 1850.5 1659.3 1851.2 1640.4 1852.0 1647.2 1852.8 1643.7 1853.5 1642.0 1854.2 1635.7 1855.0 1641.5 1855.8 1653.2 1856.5 1657.3 1857.2 1644.8 1858.0 1641.8 1858.8 1659.8 1859.5 1660.3 1860.2 1644.9 1861.0 1643.6 1861.8 1650.3 1862.5 1651.2 1863.2 1650.7 1864.0 1657.8 1864.8 1648.2 1865.5 1632.5 1866.2 1633.8 1867.0 1644.7 1867.8 1642.5 1868.5 1645.3 1869.2 1656.4 1870.0 1649.8 1870.8 1621.2 1871.5 1635.0 1872.2 1633.7 1873.0 1651.1 1873.8 1639.9 1874.5 1626.8 1875.2 1646.0 1876.0 1629.1 1876.8 1641.0 1877.5 1645.8 1878.2 1648.1 1879.0 1643.7 1879.8 1639.9 1880.5 1642.4 1881.2 1642.9 1882.0 1646.8 1882.8 1632.0 1883.5 1657.5 1884.2 1623.8 1885.0 1654.2 1885.8 1642.3 1886.5 1627.1 1887.2 1643.0 1888.0 1650.7 1888.8 1636.5 1889.5 1650.3 1890.2 1648.9 1891.0 1639.6 1891.8 1657.1 1892.5 1643.9 1893.2 1643.5 1894.0 1649.0 1894.8 1649.5 1895.5 1669.7 1896.2 1629.8 1897.0 1624.5 1897.8 1662.5 1898.5 1640.6 1899.2 1652.0 1900.0 1667.0 1900.8 1635.6 1901.5 1633.3 1902.2 1650.1 1903.0 1640.4 1903.8 1632.3 1904.5 1647.7 1905.2 1635.6 1906.0 1634.5 1906.8 1621.5 1907.5 1650.7 1908.2 1657.8 1909.0 1644.0 1909.8 1637.4 1910.5 1620.2 1911.2 1631.1 1912.0 1623.2 1912.8 1625.6 1913.5 1638.0 1914.2 1631.0 1915.0 1636.2 1915.8 1639.8 1916.5 1639.5 1917.2 1628.6 1918.0 1638.5 1918.8 1647.9 1919.5 1620.7 1920.2 1627.6 1921.0 1630.5 1921.8 1621.6 1922.5 1611.9 1923.2 1610.3 1924.0 1633.4 1924.8 1617.1 1925.5 1627.3 1926.2 1674.3 1927.0 1625.8 1927.8 1649.6 1928.5 1617.5 1929.2 1653.2 1930.0 1650.5 1930.8 1656.0 1931.5 1639.6 1932.2 1648.9 1933.0 1641.6 1933.8 1632.5 1934.5 1628.3 1935.2 1629.8 1936.0 1628.7 1936.8 1620.7 1937.5 1634.9 1938.2 1628.4 1939.0 1624.6 1939.8 1638.0 1940.5 1623.9 1941.2 1627.7 1942.0 1623.4 1942.8 1612.1 1943.5 1620.8 1944.2 1629.6 1945.0 1645.0 1945.8 1646.1 1946.5 1638.0 1947.2 1649.3 1948.0 1643.5 1948.8 1621.8 1949.5 1628.9 1950.2 1644.3 1951.0 1641.1 1951.8 1638.7 1952.5 1629.0 1953.2 1633.7 1954.0 1601.5 1954.8 1608.0 1955.5 1632.5 1956.2 1614.9 1957.0 1610.6 1957.8 1650.0 1958.5 1630.6 1959.2 1622.0 1960.0 1615.2 1960.8 1641.1 1961.5 1621.1 1962.2 1610.1 1963.0 1605.3 1963.8 1618.6 1964.5 1608.7 1965.2 1595.0 1966.0 1609.1 1966.8 1615.3 1967.5 1615.3 1968.2 1616.2 1969.0 1603.4 1969.8 1600.7 1970.5 1608.7 1971.2 1603.5 1972.0 1614.4 1972.8 1601.5 1973.5 1615.1 1974.2 1621.4 1975.0 1613.4 1975.8 1606.2 1976.5 1576.0 1977.2 1593.6 1978.0 1601.9 1978.8 1588.0 1979.5 1600.2 1980.2 1606.5 1981.0 1604.3 1981.8 1606.0 1982.5 1654.7 1983.2 1613.9 1984.0 1617.9 1984.8 1609.0 1985.5 1613.3 1986.2 1614.0 1987.0 1588.6 1987.8 1587.5 1988.5 1602.8 1989.2 1605.2 1990.0 1621.6 1990.8 1608.8 1991.5 1621.3 1992.2 1616.4 1993.0 1622.9 1993.8 1620.8 1994.5 1607.0 1995.2 1604.6 1996.0 1606.2 1996.8 1606.7 1997.5 1584.6 1998.2 1588.7 1999.0 1606.9 1999.8 1603.4 2000.5 1605.8 2001.2 1610.0 2002.0 1590.1 2002.8 1604.8 2003.5 1612.7 2004.2 1622.2 2005.0 1618.1 2005.8 1620.5 2006.5 1655.8 2007.2 1613.4 2008.0 1578.9 2008.8 1605.8 2009.5 1591.6 2010.2 1611.4 2011.0 1590.2 2011.8 1610.5 2012.5 1597.2 2013.2 1590.9 2014.0 1605.1 2014.8 1601.1 2015.5 1614.2 2016.2 1608.0 2017.0 1602.4 2017.8 1624.1 2018.5 1595.9 2019.2 1603.2 2020.0 1582.7 2020.8 1592.1 2021.5 1600.9 2022.2 1587.1 2023.0 1594.9 2023.8 1597.7 2024.5 1599.7 2025.2 1613.9 2026.0 1620.0 2026.8 1596.8 2027.5 1610.8 2028.2 1609.2 2029.0 1602.5 2029.8 1595.2 2030.5 1583.5 2031.2 1590.9 2032.0 1615.8 2032.8 1606.4 2033.5 1611.8 2034.2 1581.4 2035.0 1582.6 2035.8 1609.6 2036.5 1590.3 2037.2 1599.8 2038.0 1555.3 2038.8 1592.4 2039.5 1609.0 2040.2 1597.0 2041.0 1593.2 2041.8 1590.3 2042.5 1606.7 2043.2 1567.7 2044.0 1610.6 2044.8 1586.7 2045.5 1601.9 2046.2 1600.4 2047.0 1581.6 2047.8 1607.6 2048.5 1623.3 2049.2 1597.0 2050.0 1611.7 2050.8 1607.5 2051.5 1613.0 2052.2 1609.4 2053.0 1601.9 2053.8 1611.5 2054.5 1594.6 2055.2 1612.1 2056.0 1596.4 2056.8 1576.7 2057.5 1587.0 2058.2 1609.9 2059.0 1587.8 2059.8 1567.6 2060.5 1542.5 2061.2 1586.4 2062.0 1596.9 2062.8 1580.8 2063.5 1579.1 2064.2 1555.4 2065.0 1554.9 2065.8 1568.5 2066.5 1568.7 2067.2 1556.2 2068.0 1565.3 2068.8 1568.8 2069.5 1573.7 2070.2 1567.8 2071.0 1551.2 2071.8 1557.6 2072.5 1582.2 2073.2 1553.1 2074.0 1572.2 2074.8 1556.8 2075.5 1568.9 2076.2 1590.2 2077.0 1607.4 2077.8 1572.3 2078.5 1582.0 2079.2 1548.9 2080.0 1568.5 2080.8 1544.8 2081.5 1553.6 2082.2 1555.4 2083.0 1555.3 2083.8 1518.5 2084.5 1561.5 2085.2 1540.8 2086.0 1553.1 2086.8 1567.0 2087.5 1576.3 2088.2 1559.1 2089.0 1550.5 2089.8 1555.5 2090.5 1554.0 2091.2 1554.7 2092.0 1576.0 2092.8 1571.3 2093.5 1572.6 2094.2 1570.9 2095.0 1558.8 2095.8 1568.7 2096.5 1569.8 2097.2 1566.2 2098.0 1565.0 2098.8 1554.9 2099.5 1548.8 2100.2 1539.1 2101.0 1555.0 2101.8 1555.8 2102.5 1571.0 2103.2 1591.3 2104.0 1559.3 2104.8 1587.8 2105.5 1581.3 2106.2 1591.6 2107.0 1573.3 2107.8 1570.5 2108.5 1542.8 2109.2 1581.1 2110.0 1548.8 2110.8 1564.0 2111.5 1571.1 2112.2 1552.2 2113.0 1548.2 2113.8 1569.4 2114.5 1549.5 2115.2 1553.8 2116.0 1551.9 2116.8 1549.8 2117.5 1542.2 2118.2 1546.8 2119.0 1557.6 2119.8 1549.3 2120.5 1534.7 2121.2 1549.0 2122.0 1540.9 2122.8 1548.7 2123.5 1558.7 2124.2 1545.2 2125.0 1555.9 2125.8 1556.5 2126.5 1560.4 2127.2 1546.0 2128.0 1555.2 2128.8 1539.2 2129.5 1544.7 2130.2 1573.3 2131.0 1548.1 2131.8 1560.1 2132.5 1562.3 2133.2 1570.5 2134.0 1558.7 2134.8 1544.6 2135.5 1552.9 2136.2 1520.5 2137.0 1530.1 2137.8 1511.3 2138.5 1572.3 2139.2 1523.0 2140.0 1550.4 2140.8 1563.7 2141.5 1521.8 2142.2 1520.8 2143.0 1547.8 2143.8 1533.8 2144.5 1551.5 2145.2 1545.7 2146.0 1554.0 2146.8 1542.4 2147.5 1522.8 2148.2 1544.0 2149.0 1526.5 2149.8 1547.2 2150.5 1558.8 2151.2 1538.2 2152.0 1527.7 2152.8 1509.2 2153.5 1527.2 2154.2 1547.3 2155.0 1544.8 2155.8 1543.8 2156.5 1550.4 2157.2 1535.5 2158.0 1558.7 2158.8 1523.1 2159.5 1534.2 2160.2 1540.5 2161.0 1526.1 2161.8 1526.2 2162.5 1548.1 2163.2 1544.8 2164.0 1531.3 2164.8 1539.9 2165.5 1544.8 2166.2 1528.5 2167.0 1529.6 2167.8 1534.8 2168.5 1527.6 2169.2 1521.7 2170.0 1544.8 2170.8 1515.4 2171.5 1531.1 2172.2 1534.7 2173.0 1521.4 2173.8 1508.8 2174.5 1514.8 2175.2 1462.4 2176.0 1500.6 2176.8 1493.7 2177.5 1506.1 2178.2 1500.4 2179.0 1515.6 2179.8 1504.0 2180.5 1507.2 2181.2 1526.6 2182.0 1492.6 2182.8 1527.9 2183.5 1506.2 2184.2 1500.4 2185.0 1513.5 2185.8 1512.3 2186.5 1529.6 2187.2 1518.0 2188.0 1531.2 2188.8 1521.0 2189.5 1510.8 2190.2 1526.8 2191.0 1518.7 2191.8 1505.4 2192.5 1517.5 2193.2 1505.2 2194.0 1503.4 2194.8 1494.7 2195.5 1517.7" stroke="#0000ff" stroke-width="5.0" fill="none" stroke-linejoin="round"/>
<path d="M259.0 2220.3 259.8 2225.6 260.5 2216.3 261.2 2229.7 262.0 2215.9 262.8 2211.2 263.5 2221.1 264.2 2226.7 265.0 2222.9 265.8 2221.8 266.5 2219.8 267.2 2228.4 268.0 2220.1 268.8 2225.2 269.5 2217.9 270.2 2226.2 271.0 2221.4 271.8 2214.1 272.5 2218.4 273.2 2224.8 274.0 2226.8 274.8 2223.5 275.5 2227.1 276.2 2224.8 277.0 2226.8 277.8 2212.5 278.5 2234.3 279.2 2222.7 280.0 2225.4 280.8 2238.7 281.5 2240.9 282.2 2219.3 283.0 2236.2 283.8 2232.2 284.5 2233.7 285.2 2238.3 286.0 2236.7 286.8 2230.5 287.5 2224.9 288.2 2237.3 289.0 2254.8 289.8 2229.3 290.5 2231.3 291.2 2229.9 292.0 2232.1 292.8 2238.2 293.5 2237.2 294.2 2233.8 295.0 2229.3 295.8 2239.5 296.5 2229.9 297.2 2225.4 298.0 2223.2 298.8 2221.8 299.5 2229.4 300.2 2227.9 301.0 2219.8 301.8 2222.1 302.5 2207.3 303.2 2234.4 304.0 2230.0 304.8 2230.7 305.5 2236.5 306.2 2230.7 307.0 2237.0 307.8 2239.8 308.5 2221.6 309.2 2221.6 310.0 2232.6 310.8 2234.7 311.5 2233.0 312.2 2240.7 313.0 2233.1 313.8 2232.0 314.5 2231.9 315.2 2234.5 316.0 2236.9 316.8 2226.9 317.5 2224.2 318.2 2237.7 319.0 2231.0 319.8 2230.0 320.5 2237.4 321.2 2223.9 322.0 2214.1 322.8 2228.7 323.5 2231.6 324.2 2232.9 325.0 2227.5 325.8 2226.2 326.5 2215.2 327.2 2209.7 328.0 2215.3 328.8 2218.2 329.5 2227.7 330.2 2223.4 331.0 2221.9 331.8 2219.0 332.5 2227.9 333.2 2216.5 334.0 2231.4 334.8 2222.4 335.5 2230.3 336.2 2224.4 337.0 2213.7 337.8 2218.4 338.5 2211.4 339.2 2219.4 340.0 2221.0 340.8 2218.6 341.5 2220.3 342.2 2238.2 343.0 2241.5 343.8 2237.3 344.5 2220.5 345.2 2218.7 346.0 2221.4 346.8 2220.8 347.5 2227.4 348.2 2226.6 349.0 2225.6 349.8 2229.5 350.5 2209.6 351.2 2224.0 352.0 2214.1 352.8 2224.5 353.5 2232.6 354.2 2216.8 355.0 2226.2 355.8 2234.1 356.5 2232.4 357.2 2231.1 358.0 2229.1 358.8 2223.8 359.5 2234.0 360.2 2230.8 361.0 2231.7 361.8 2220.7 362.5 2219.6 363.2 2226.8 364.0 2217.8 364.8 2217.7 365.5 2230.2 366.2 2245.0 367.0 2233.5 367.8 2225.1 368.5 2230.0 369.2 2242.0 370.0 2236.5 370.8 2239.6 371.5 2225.6 372.2 2225.4 373.0 2223.8 373.8 2234.5 374.5 2234.2 375.2 2246.1 376.0 2226.4 376.8 2242.3 377.5 2234.6 378.2 2237.9 379.0 2237.6 379.8 2238.5 380.5 2217.1 381.2 2237.5 382.0 2237.9 382.8 2237.9 383.5 2229.2 384.2 2226.9 385.0 2232.0 385.8 2238.2 386.5 2235.2 387.2 2214.5 388.0 2237.2 388.8 2224.0 389.5 2241.9 390.2 2231.6 391.0 2243.5 391.8 2246.9 392.5 2236.0 393.2 2201.8 394.0 2229.7 394.8 2213.3 395.5 2233.8 396.2 2218.6 397.0 2217.6 397.8 2210.9 398.5 2230.2 399.2 2207.0 400.0 2220.7 400.8 2216.1 401.5 2217.8 402.2 2209.8 403.0 2198.2 403.8 2211.9 404.5 2217.2 405.2 2229.1 406.0 2232.3 406.8 2223.1 407.5 2225.8 408.2 2239.1 409.0 2217.2 409.8 2220.9 410.5 2229.9 411.2 2229.3 412.0 2240.7 412.8 2235.1 413.5 2228.5 414.2 2237.2 415.0 2244.4 415.8 2242.2 416.5 2225.7 417.2 2251.6 418.0 2248.4 418.8 2221.5 419.5 2227.7 420.2 2218.1 421.0 2215.8 421.8 2222.4 422.5 2224.8 423.2 2226.8 424.0 2219.5 424.8 2226.4 425.5 2228.2 426.2 2225.2 427.0 2219.7 427.8 2212.8 428.5 2206.2 429.2 2220.0 430.0 2223.5 430.8 2209.7 431.5 2222.2 432.2 2217.8 433.0 2207.4 433.8 2208.9 434.5 2212.1 435.2 2199.3 436.0 2216.6 436.8 2216.4 437.5 2234.3 438.2 2229.7 439.0 2232.6 439.8 2223.3 440.5 2230.5 441.2 2223.4 442.0 2218.7 442.8 2222.7 443.5 2221.0 444.2 2222.3 445.0 2221.5 445.8 2217.4 446.5 2220.9 447.2 2226.3 448.0 2230.6 448.8 2211.6 449.5 2227.9 450.2 2223.3 451.0 2236.0 451.8 2227.9 452.5 2199.8 453.2 2221.0 454.0 2229.8 454.8 2233.5 455.5 2232.8 456.2 2225.1 457.0 2224.6 457.8 2222.3 458.5 2222.9 459.2 2250.3 460.0 2226.6 460.8 2227.1 461.5 2221.4 462.2 2227.4 463.0 2227.1 463.8 2224.8 464.5 2220.9 465.2 2235.3 466.0 2223.7 466.8 2224.3 467.5 2204.5 468.2 2216.0 469.0 2217.1 469.8 2219.8 470.5 2225.0 471.2 2228.7 472.0 2218.5 472.8 2212.3 473.5 2227.2 474.2 2215.4 475.0 2232.1 475.8 2240.6 476.5 2224.0 477.2 2216.0 478.0 2199.7 478.8 2218.2 479.5 2223.3 480.2 2216.5 481.0 2225.5 481.8 2214.6 482.5 2210.0 483.2 2209.3 484.0 2220.6 484.8 2228.2 485.5 2221.8 486.2 2210.1 487.0 2212.2 487.8 2208.6 488.5 2208.2 489.2 2216.5 490.0 2196.3 490.8 2209.3 491.5 2218.7 492.2 2211.4 493.0 2218.8 493.8 2212.4 494.5 2229.0 495.2 2215.4 496.0 2210.0 496.8 2220.3 497.5 2233.8 498.2 2214.9 499.0 2220.1 499.8 2223.3 500.5 2214.0 501.2 2223.2 502.0 2225.8 502.8 2229.8 503.5 2222.7 504.2 2230.1 505.0 2217.4 505.8 2222.3 506.5 2215.6 507.2 2221.9 508.0 2220.3 508.8 2215.2 509.5 2213.6 510.2 2188.8 511.0 2211.2 511.8 2211.1 512.5 2226.2 513.2 2212.9 514.0 2216.9 514.8 2217.2 515.5 2212.3 516.2 2201.4 517.0 2211.1 517.8 2203.6 518.5 2205.9 519.2 2222.0 520.0 2215.7 520.8 2227.5 521.5 2214.8 522.2 2209.8 523.0 2205.2 523.8 2196.4 524.5 2215.9 525.2 2207.8 526.0 2206.4 526.8 2228.0 527.5 2205.4 528.2 2212.2 529.0 2208.4 529.8 2201.7 530.5 2199.2 531.2 2198.4 532.0 2205.9 532.8 2203.4 533.5 2194.2 534.2 2200.8 535.0 2207.1 535.8 2207.3 536.5 2205.9 537.2 2216.5 538.0 2206.8 538.8 2225.8 539.5 2214.8 540.2 2218.2 541.0 2216.2 541.8 2218.3 542.5 2217.0 543.2 2219.1 544.0 2218.0 544.8 2223.5 545.5 2207.8 546.2 2211.8 547.0 2209.7 547.8 2220.6 548.5 2206.3 549.2 2196.9 550.0 2215.0 550.8 2200.3 551.5 2197.5 552.2 2183.3 553.0 2197.8 553.8 2191.9 554.5 2205.1 555.2 2197.4 556.0 2206.4 556.8 2207.1 557.5 2200.9 558.2 2203.5 559.0 2199.6 559.8 2198.4 560.5 2205.4 561.2 2202.1 562.0 2198.2 562.8 2202.3 563.5 2203.1 564.2 2205.6 565.0 2207.1 565.8 2206.2 566.5 2213.6 567.2 2210.0 568.0 2209.1 568.8 2219.4 569.5 2229.4 570.2 2213.3 571.0 2212.5 571.8 2209.8 572.5 2203.0 573.2 2208.8 574.0 2211.4 574.8 2204.3 575.5 2221.8 576.2 2203.6 577.0 2209.3 577.8 2202.3 578.5 2203.8 579.2 2196.2 580.0 2212.8 580.8 2204.6 581.5 2218.0 582.2 2205.4 583.0 2199.5 583.8 2212.7 584.5 2200.5 585.2 2206.8 586.0 2204.5 586.8 2210.7 587.5 2190.6 588.2 2202.3 589.0 2206.8 589.8 2204.3 590.5 2220.7 591.2 2208.4 592.0 2209.3 592.8 2213.6 593.5 2206.5 594.2 2204.2 595.0 2214.0 595.8 2210.8 596.5 2226.7 597.2 2204.3 598.0 2207.5 598.8 2207.2 599.5 2192.5 600.2 2201.8 601.0 2205.7 601.8 2195.4 602.5 2197.5 603.2 2202.4 604.0 2185.7 604.8 2189.8 605.5 2192.1 606.2 2194.3 607.0 2170.2 607.8 2189.3 608.5 2192.3 609.2 2188.3 610.0 2191.1 610.8 2192.9 611.5 2181.7 612.2 2199.7 613.0 2199.0 613.8 2197.2 614.5 2213.4 615.2 2203.1 616.0 2200.2 616.8 2203.8 617.5 2203.6 618.2 2201.3 619.0 2200.0 619.8 2210.2 620.5 2193.9 621.2 2184.6 622.0 2210.6 622.8 2202.1 623.5 2214.9 624.2 2199.4 625.0 2214.8 625.8 2199.0 626.5 2184.9 627.2 2197.8 628.0 2189.5 628.8 2210.2 629.5 2214.0 630.2 2213.9 631.0 2197.6 631.8 2188.2 632.5 2196.9 633.2 2207.8 634.0 2203.9 634.8 2199.5 635.5 2216.8 636.2 2192.8 637.0 2184.0 637.8 2186.4 638.5 2192.6 639.2 2207.8 640.0 2197.2 640.8 2216.8 641.5 2190.9 642.2 2192.8 643.0 2188.8 643.8 2209.8 644.5 2216.6 645.2 2195.3 646.0 2197.1 646.8 2192.2 647.5 2184.3 648.2 2188.8 649.0 2176.3 649.8 2188.9 650.5 2188.0 651.2 2192.0 652.0 2203.6 652.8 2195.1 653.5 2226.0 654.2 2194.3 655.0 2205.2 655.8 2202.6 656.5 2192.1 657.2 2170.2 658.0 2198.6 658.8 2194.8 659.5 2185.3 660.2 2193.2 661.0 2202.5 661.8 2214.4 662.5 2195.5 663.2 2197.1 664.0 2198.3 664.8 2193.3 665.5 2194.7 666.2 2198.0 667.0 2195.7 667.8 2199.9 668.5 2192.0 669.2 2193.9 670.0 2190.9 670.8 2193.1 671.5 2193.3 672.2 2194.5 673.0 2178.1 673.8 2184.8 674.5 2184.8 675.2 2188.9 676.0 2191.8 676.8 2194.7 677.5 2190.4 678.2 2187.9 679.0 2207.2 679.8 2209.8 680.5 2200.3 681.2 2187.3 682.0 2207.3 682.8 2183.5 683.5 2189.5 684.2 2195.9 685.0 2196.7 685.8 2172.4 686.5 2186.4 687.2 2194.5 688.0 2178.3 688.8 2199.1 689.5 2188.8 690.2 2193.4 691.0 2178.2 691.8 2178.7 692.5 2181.2 693.2 2194.1 694.0 2184.3 694.8 2198.1 695.5 2189.6 696.2 2180.1 697.0 2186.9 697.8 2186.9 698.5 2189.8 699.2 2188.4 700.0 2175.9 700.8 2188.3 701.5 2187.2 702.2 2181.3 703.0 2194.0 703.8 2197.0 704.5 2183.7 705.2 2176.1 706.0 2191.9 706.8 2184.5 707.5 2183.6 708.2 2180.4 709.0 2203.0 709.8 2183.9 710.5 2186.5 711.2 2161.6 712.0 2193.9 712.8 2194.8 713.5 2194.1 714.2 2183.3 715.0 2169.6 715.8 2170.6 716.5 2185.0 717.2 2184.4 718.0 2187.6 718.8 2185.5 719.5 2180.1 720.2 2180.6 721.0 2183.6 721.8 2178.1 722.5 2189.4 723.2 2171.9 724.0 2172.8 724.8 2186.2 725.5 2188.1 726.2 2191.4 727.0 2186.4 727.8 2188.2 728.5 2182.9 729.2 2193.8 730.0 2175.6 730.8 2189.2 731.5 2184.6 732.2 2182.9 733.0 2179.9 733.8 2192.3 734.5 2182.3 735.2 2178.3 736.0 2186.5 736.8 2157.1 737.5 2182.1 738.2 2187.4 739.0 2194.0 739.8 2190.9 740.5 2189.8 741.2 2189.3 742.0 2202.7 742.8 2193.8 743.5 2194.6 744.2 2194.0 745.0 2198.8 745.8 2191.0 746.5 2193.5 747.2 2191.4 748.0 2192.7 748.8 2183.8 749.5 2189.1 750.2 2187.8 751.0 2190.5 751.8 2181.8 752.5 2207.4 753.2 2196.1 754.0 2203.3 754.8 2189.4 755.5 2197.7 756.2 2195.9 757.0 2194.9 757.8 2179.3 758.5 2187.0 759.2 2182.9 760.0 2188.5 760.8 2190.9 761.5 2199.6 762.2 2173.5 763.0 2178.9 763.8 2188.7 764.5 2190.7 765.2 2189.6 766.0 2179.2 766.8 2188.8 767.5 2196.2 768.2 2192.2 769.0 2192.4 769.8 2186.7 770.5 2188.7 771.2 2191.0 772.0 2198.3 772.8 2198.3 773.5 2201.2 774.2 2170.6 775.0 2213.3 775.8 2194.5 776.5 2202.6 777.2 2194.6 778.0 2189.0 778.8 2186.7 779.5 2193.8 780.2 2184.5 781.0 2187.4 781.8 2186.6 782.5 2181.2 783.2 2180.1 784.0 2176.1 784.8 2184.7 785.5 2179.6 786.2 2183.1 787.0 2177.7 787.8 2186.6 788.5 2181.3 789.2 2171.2 790.0 2179.5 790.8 2178.6 791.5 2166.2 792.2 2189.4 793.0 2172.8 793.8 2179.8 794.5 2188.5 795.2 2188.1 796.0 2182.1 796.8 2171.3 797.5 2185.9 798.2 2189.2 799.0 2176.3 799.8 2202.5 800.5 2214.4 801.2 2183.1 802.0 2199.7 802.8 2184.5 803.5 2190.1 804.2 2190.4 805.0 2175.5 805.8 2185.4 806.5 2202.3 807.2 2190.7 808.0 2207.1 808.8 2182.6 809.5 2183.3 810.2 2183.1 811.0 2174.5 811.8 2167.5 812.5 2167.2 813.2 2176.5 814.0 2164.2 814.8 2177.1 815.5 2188.2 816.2 2186.9 817.0 2187.7 817.8 2192.2 818.5 2172.4 819.2 2179.9 820.0 2147.8 820.8 2194.1 821.5 2176.0 822.2 2182.2 823.0 2175.5 823.8 2171.8 824.5 2186.4 825.2 2172.1 826.0 2183.3 826.8 2166.7 827.5 2166.9 828.2 2179.9 829.0 2182.3 829.8 2173.5 830.5 2180.6 831.2 2185.2 832.0 2192.9 832.8 2169.5 833.5 2184.9 834.2 2180.8 835.0 2179.0 835.8 2164.6 836.5 2178.7 837.2 2185.6 838.0 2166.1 838.8 2163.7 839.5 2171.6 840.2 2172.9 841.0 2175.2 841.8 2179.0 842.5 2182.6 843.2 2176.4 844.0 2170.4 844.8 2181.1 845.5 2176.9 846.2 2192.8 847.0 2163.1 847.8 2177.0 848.5 2181.1 849.2 2144.2 850.0 2178.4 850.8 2169.7 851.5 2179.9 852.2 2166.1 853.0 2173.0 853.8 2176.9 854.5 2185.4 855.2 2176.1 856.0 2163.9 856.8 2161.2 857.5 2190.9 858.2 2180.3 859.0 2169.0 859.8 2180.5 860.5 2178.2 861.2 2170.5 862.0 2179.3 862.8 2171.0 863.5 2184.7 864.2 2183.2 865.0 2186.4 865.8 2165.0 866.5 2179.6 867.2 2178.8 868.0 2180.4 868.8 2176.4 869.5 2186.2 870.2 2173.2 871.0 2172.8 871.8 2173.5 872.5 2181.2 873.2 2179.3 874.0 2163.0 874.8 2180.2 875.5 2180.6 876.2 2162.6 877.0 2161.9 877.8 2177.1 878.5 2156.1 879.2 2174.8 880.0 2171.7 880.8 2164.1 881.5 2187.1 882.2 2174.8 883.0 2178.6 883.8 2179.4 884.5 2175.1 885.2 2205.9 886.0 2174.8 886.8 2146.0 887.5 2196.0 888.2 2171.5 889.0 2173.7 889.8 2182.2 890.5 2182.3 891.2 2182.4 892.0 2175.9 892.8 2179.9 893.5 2166.1 894.2 2171.0 895.0 2178.3 895.8 2163.8 896.5 2189.1 897.2 2166.6 898.0 2171.8 898.8 2171.7 899.5 2198.8 900.2 2167.2 901.0 2152.6 901.8 2170.0 902.5 2170.0 903.2 2169.1 904.0 2163.1 904.8 2166.0 905.5 2166.8 906.2 2171.0 907.0 2149.3 907.8 2171.2 908.5 2155.8 909.2 2163.6 910.0 2165.4 910.8 2177.2 911.5 2187.6 912.2 2182.3 913.0 2178.5 913.8 2185.4 914.5 2186.6 915.2 2189.5 916.0 2176.2 916.8 2174.4 917.5 2195.0 918.2 2188.6 919.0 2168.5 919.8 2180.5 920.5 2166.0 921.2 2168.8 922.0 2169.5 922.8 2178.3 923.5 2200.3 924.2 2178.5 925.0 2181.1 925.8 2179.7 926.5 2170.6 927.2 2167.4 928.0 2153.0 928.8 2165.8 929.5 2165.8 930.2 2168.9 931.0 2164.1 931.8 2166.5 932.5 2158.4 933.2 2137.2 934.0 2158.0 934.8 2159.8 935.5 2154.9 936.2 2156.6 937.0 2145.4 937.8 2156.3 938.5 2141.0 939.2 2150.6 940.0 2152.2 940.8 2147.2 941.5 2170.6 942.2 2159.2 943.0 2156.9 943.8 2157.4 944.5 2152.1 945.2 2161.3 946.0 2153.7 946.8 2169.3 947.5 2160.8 948.2 2163.9 949.0 2177.4 949.8 2182.2 950.5 2166.0 951.2 2138.0 952.0 2155.8 952.8 2157.8 953.5 2163.8 954.2 2152.5 955.0 2143.8 955.8 2130.9 956.5 2154.3 957.2 2157.4 958.0 2144.1 958.8 2158.4 959.5 2155.2 960.2 2158.6 961.0 2159.0 961.8 2180.0 962.5 2162.4 963.2 2170.2 964.0 2164.2 964.8 2165.8 965.5 2169.4 966.2 2168.4 967.0 2159.2 967.8 2155.1 968.5 2165.3 969.2 2160.9 970.0 2159.2 970.8 2147.7 971.5 2142.4 972.2 2168.9 973.0 2158.0 973.8 2141.7 974.5 2148.5 975.2 2155.0 976.0 2149.5 976.8 2153.5 977.5 2145.6 978.2 2148.9 979.0 2170.7 979.8 2150.5 980.5 2154.6 981.2 2159.3 982.0 2157.1 982.8 2154.8 983.5 2143.9 984.2 2144.2 985.0 2140.1 985.8 2150.4 986.5 2154.5 987.2 2147.2 988.0 2141.3 988.8 2163.1 989.5 2136.0 990.2 2138.9 991.0 2155.7 991.8 2144.4 992.5 2156.3 993.2 2154.2 994.0 2142.0 994.8 2156.1 995.5 2154.3 996.2 2166.7 997.0 2138.2 997.8 2160.6 998.5 2134.5 999.2 2150.6 1000.0 2151.3 1000.8 2144.5 1001.5 2143.1 1002.2 2142.6 1003.0 2152.0 1003.8 2143.7 1004.5 2146.0 1005.2 2136.4 1006.0 2138.4 1006.8 2136.4 1007.5 2138.8 1008.2 2148.6 1009.0 2134.2 1009.8 2119.2 1010.5 2123.3 1011.2 2124.2 1012.0 2133.4 1012.8 2131.5 1013.5 2158.9 1014.2 2144.8 1015.0 2152.6 1015.8 2144.5 1016.5 2141.7 1017.2 2139.1 1018.0 2140.6 1018.8 2127.2 1019.5 2151.8 1020.2 2131.6 1021.0 2146.8 1021.8 2142.1 1022.5 2139.1 1023.2 2147.9 1024.0 2143.7 1024.8 2142.0 1025.5 2144.7 1026.2 2147.3 1027.0 2140.6 1027.8 2147.3 1028.5 2147.1 1029.2 2135.7 1030.0 2140.2 1030.8 2148.9 1031.5 2129.5 1032.2 2132.5 1033.0 2127.2 1033.8 2141.5 1034.5 2134.1 1035.2 2118.4 1036.0 2128.7 1036.8 2145.4 1037.5 2128.9 1038.2 2126.2 1039.0 2120.2 1039.8 2115.9 1040.5 2113.4 1041.2 2118.6 1042.0 2121.9 1042.8 2107.1 1043.5 2120.4 1044.2 2107.3 1045.0 2101.3 1045.8 2103.1 1046.5 2097.9 1047.2 2094.3 1048.0 2117.0 1048.8 2119.1 1049.5 2124.8 1050.2 2113.4 1051.0 2109.6 1051.8 2106.6 1052.5 2103.5 1053.2 2107.2 1054.0 2116.0 1054.8 2113.0 1055.5 2105.9 1056.2 2082.0 1057.0 2101.0 1057.8 2107.6 1058.5 2103.4 1059.2 2095.9 1060.0 2107.2 1060.8 2094.6 1061.5 2110.5 1062.2 2100.9 1063.0 2103.4 1063.8 2115.8 1064.5 2086.7 1065.2 2091.8 1066.0 2101.3 1066.8 2098.3 1067.5 2081.9 1068.2 2069.2 1069.0 2085.7 1069.8 2082.7 1070.5 2091.6 1071.2 2081.1 1072.0 2083.2 1072.8 2109.2 1073.5 2081.3 1074.2 2065.1 1075.0 2070.3 1075.8 2063.5 1076.5 2059.4 1077.2 2082.4 1078.0 2055.1 1078.8 2070.5 1079.5 2056.3 1080.2 2070.6 1081.0 2079.8 1081.8 2058.1 1082.5 2060.7 1083.2 2063.7 1084.0 2057.6 1084.8 2060.1 1085.5 2072.3 1086.2 2058.8 1087.0 2055.7 1087.8 2054.9 1088.5 2060.7 1089.2 2041.1 1090.0 2052.7 1090.8 2062.1 1091.5 2062.5 1092.2 2046.3 1093.0 2050.5 1093.8 2040.7 1094.5 2040.4 1095.2 2030.0 1096.0 2052.6 1096.8 2063.3 1097.5 2047.6 1098.2 2061.3 1099.0 2082.6 1099.8 2031.5 1100.5 2038.1 1101.2 2080.2 1102.0 2028.2 1102.8 2043.7 1103.5 2030.9 1104.2 2023.6 1105.0 2027.4 1105.8 2041.0 1106.5 2048.0 1107.2 2036.9 1108.0 2038.0 1108.8 2037.4 1109.5 2042.2 1110.2 2048.3 1111.0 2030.6 1111.8 2029.6 1112.5 2024.2 1113.2 2028.3 1114.0 2027.4 1114.8 2029.5 1115.5 2041.5 1116.2 2018.4 1117.0 2016.0 1117.8 2012.1 1118.5 1998.9 1119.2 2017.8 1120.0 2017.9 1120.8 2021.1 1121.5 2025.6 1122.2 2016.3 1123.0 2001.7 1123.8 2011.0 1124.5 2017.4 1125.2 2024.1 1126.0 2023.5 1126.8 2010.7 1127.5 2017.1 1128.2 2003.1 1129.0 2019.8 1129.8 2001.7 1130.5 2006.6 1131.2 2009.3 1132.0 2010.2 1132.8 1987.8 1133.5 1998.3 1134.2 1980.1 1135.0 1992.7 1135.8 1999.6 1136.5 1995.2 1137.2 1991.3 1138.0 2003.5 1138.8 2005.1 1139.5 1995.0 1140.2 1997.5 1141.0 2000.4 1141.8 2001.2 1142.5 1994.4 1143.2 1984.0 1144.0 2004.4 1144.8 1989.0 1145.5 2004.9 1146.2 2002.8 1147.0 2004.7 1147.8 2001.2 1148.5 1988.4 1149.2 1991.8 1150.0 1989.8 1150.8 1985.2 1151.5 1978.1 1152.2 1994.2 1153.0 1988.3 1153.8 1986.9 1154.5 2000.0 1155.2 1977.8 1156.0 1984.1 1156.8 2006.8 1157.5 2009.4 1158.2 1990.8 1159.0 1993.8 1159.8 1986.5 1160.5 1987.4 1161.2 1980.4 1162.0 1990.1 1162.8 1979.8 1163.5 1977.9 1164.2 1990.1 1165.0 1972.6 1165.8 1989.9 1166.5 1990.5 1167.2 1998.5 1168.0 1990.7 1168.8 1982.4 1169.5 1986.0 1170.2 1970.9 1171.0 1975.8 1171.8 1978.1 1172.5 1983.8 1173.2 1969.6 1174.0 1980.4 1174.8 1977.0 1175.5 1961.9 1176.2 1967.2 1177.0 1971.1 1177.8 1968.7 1178.5 1965.4 1179.2 1956.9 1180.0 1965.9 1180.8 1952.3 1181.5 1956.0 1182.2 1971.4 1183.0 1954.4 1183.8 1945.6 1184.5 1966.3 1185.2 1954.3 1186.0 1969.6 1186.8 1961.2 1187.5 1944.7 1188.2 1961.5 1189.0 1965.3 1189.8 1963.1 1190.5 1963.6 1191.2 1960.3 1192.0 1955.8 1192.8 1955.3 1193.5 1945.8 1194.2 1936.3 1195.0 1954.3 1195.8 1959.0 1196.5 1963.2 1197.2 1951.7 1198.0 1951.4 1198.8 1963.3 1199.5 1951.0 1200.2 1966.2 1201.0 1943.5 1201.8 1965.8 1202.5 1947.1 1203.2 1939.8 1204.0 1938.4 1204.8 1962.7 1205.5 1952.5 1206.2 1945.6 1207.0 1943.5 1207.8 1943.8 1208.5 1957.7 1209.2 1938.4 1210.0 1939.4 1210.8 1938.6 1211.5 1943.0 1212.2 1948.1 1213.0 1951.3 1213.8 1918.8 1214.5 1942.4 1215.2 1932.1 1216.0 1943.7 1216.8 1931.7 1217.5 1945.8 1218.2 1916.4 1219.0 1944.0 1219.8 1927.9 1220.5 1888.6 1221.2 1921.9 1222.0 1942.0 1222.8 1906.4 1223.5 1923.1 1224.2 1914.8 1225.0 1915.4 1225.8 1924.4 1226.5 1916.8 1227.2 1944.5 1228.0 1946.6 1228.8 1947.4 1229.5 1937.8 1230.2 1935.3 1231.0 1952.2 1231.8 1937.2 1232.5 1918.1 1233.2 1935.4 1234.0 1924.4 1234.8 1923.5 1235.5 1940.0 1236.2 1927.8 1237.0 1893.4 1237.8 1920.6 1238.5 1916.1 1239.2 1921.8 1240.0 1904.7 1240.8 1948.8 1241.5 1898.1 1242.2 1922.6 1243.0 1918.6 1243.8 1898.4 1244.5 1920.3 1245.2 1899.3 1246.0 1909.1 1246.8 1901.0 1247.5 1924.2 1248.2 1904.4 1249.0 1909.0 1249.8 1910.6 1250.5 1917.8 1251.2 1877.3 1252.0 1910.8 1252.8 1917.4 1253.5 1914.6 1254.2 1910.8 1255.0 1917.7 1255.8 1919.9 1256.5 1929.0 1257.2 1922.5 1258.0 1914.5 1258.8 1922.8 1259.5 1917.9 1260.2 1920.5 1261.0 1920.5 1261.8 1926.7 1262.5 1925.5 1263.2 1914.3 1264.0 1918.6 1264.8 1925.1 1265.5 1929.7 1266.2 1938.3 1267.0 1920.6 1267.8 1922.0 1268.5 1901.8 1269.2 1911.2 1270.0 1933.0 1270.8 1910.5 1271.5 1920.5 1272.2 1925.3 1273.0 1923.1 1273.8 1939.7 1274.5 1913.6 1275.2 1911.1 1276.0 1917.6 1276.8 1907.6 1277.5 1895.5 1278.2 1911.1 1279.0 1909.8 1279.8 1887.0 1280.5 1927.0 1281.2 1922.9 1282.0 1919.7 1282.8 1924.4 1283.5 1926.6 1284.2 1904.6 1285.0 1925.5 1285.8 1920.4 1286.5 1906.5 1287.2 1900.4 1288.0 1908.6 1288.8 1903.0 1289.5 1907.9 1290.2 1916.5 1291.0 1901.2 1291.8 1901.0 1292.5 1901.3 1293.2 1913.3 1294.0 1926.7 1294.8 1912.3 1295.5 1908.2 1296.2 1903.4 1297.0 1927.4 1297.8 1933.3 1298.5 1928.4 1299.2 1926.0 1300.0 1934.1 1300.8 1929.6 1301.5 1917.1 1302.2 1914.1 1303.0 1927.4 1303.8 1904.5 1304.5 1918.6 1305.2 1905.9 1306.0 1923.3 1306.8 1910.5 1307.5 1930.5 1308.2 1902.7 1309.0 1926.6 1309.8 1927.5 1310.5 1925.2 1311.2 1912.6 1312.0 1923.6 1312.8 1912.1 1313.5 1906.8 1314.2 1903.0 1315.0 1906.3 1315.8 1901.8 1316.5 1910.5 1317.2 1919.5 1318.0 1920.8 1318.8 1921.9 1319.5 1904.6 1320.2 1924.2 1321.0 1916.0 1321.8 1906.3 1322.5 1908.7 1323.2 1915.6 1324.0 1915.3 1324.8 1895.2 1325.5 1910.9 1326.2 1925.1 1327.0 1922.4 1327.8 1916.0 1328.5 1912.8 1329.2 1917.1 1330.0 1927.2 1330.8 1940.8 1331.5 1914.3 1332.2 1918.9 1333.0 1904.0 1333.8 1915.1 1334.5 1904.2 1335.2 1911.7 1336.0 1909.8 1336.8 1904.8 1337.5 1927.5 1338.2 1919.2 1339.0 1913.0 1339.8 1906.5 1340.5 1910.2 1341.2 1904.1 1342.0 1906.8 1342.8 1897.8 1343.5 1908.5 1344.2 1919.6 1345.0 1909.9 1345.8 1940.7 1346.5 1930.6 1347.2 1911.6 1348.0 1923.9 1348.8 1907.3 1349.5 1899.7 1350.2 1912.3 1351.0 1920.7 1351.8 1903.6 1352.5 1899.4 1353.2 1898.7 1354.0 1908.4 1354.8 1904.8 1355.5 1908.1 1356.2 1920.1 1357.0 1907.1 1357.8 1902.3 1358.5 1900.0 1359.2 1895.3 1360.0 1893.2 1360.8 1888.0 1361.5 1931.4 1362.2 1892.9 1363.0 1872.1 1363.8 1950.2 1364.5 1909.6 1365.2 1882.9 1366.0 1908.9 1366.8 1877.3 1367.5 1891.2 1368.2 1896.1 1369.0 1902.8 1369.8 1898.5 1370.5 1899.1 1371.2 1896.8 1372.0 1907.2 1372.8 1877.5 1373.5 1905.5 1374.2 1902.2 1375.0 1915.3 1375.8 1910.7 1376.5 1901.9 1377.2 1902.9 1378.0 1902.2 1378.8 1904.7 1379.5 1884.9 1380.2 1914.3 1381.0 1898.5 1381.8 1903.2 1382.5 1907.2 1383.2 1921.6 1384.0 1939.3 1384.8 1927.0 1385.5 1905.5 1386.2 1914.7 1387.0 1947.4 1387.8 1910.1 1388.5 1909.0 1389.2 1923.8 1390.0 1914.4 1390.8 1916.1 1391.5 1920.2 1392.2 1923.6 1393.0 1914.5 1393.8 1898.3 1394.5 1907.9 1395.2 1904.7 1396.0 1919.7 1396.8 1915.7 1397.5 1935.2 1398.2 1899.6 1399.0 1884.7 1399.8 1898.0 1400.5 1896.3 1401.2 1900.8 1402.0 1906.0 1402.8 1895.0 1403.5 1886.4 1404.2 1890.6 1405.0 1892.9 1405.8 1895.2 1406.5 1880.5 1407.2 1895.1 1408.0 1902.5 1408.8 1893.2 1409.5 1911.9 1410.2 1925.7 1411.0 1898.6 1411.8 1892.9 1412.5 1890.7 1413.2 1910.5 1414.0 1916.1 1414.8 1894.1 1415.5 1892.1 1416.2 1898.3 1417.0 1883.7 1417.8 1882.7 1418.5 1888.5 1419.2 1886.7 1420.0 1883.2 1420.8 1920.3 1421.5 1908.9 1422.2 1882.7 1423.0 1921.2 1423.8 1902.6 1424.5 1893.0 1425.2 1926.0 1426.0 1904.2 1426.8 1904.5 1427.5 1909.8 1428.2 1906.5 1429.0 1940.2 1429.8 1896.3 1430.5 1877.3 1431.2 1873.2 1432.0 1902.3 1432.8 1880.9 1433.5 1900.6 1434.2 1885.7 1435.0 1897.1 1435.8 1901.4 1436.5 1882.4 1437.2 1901.7 1438.0 1892.6 1438.8 1888.1 1439.5 1867.9 1440.2 1894.5 1441.0 1896.3 1441.8 1874.9 1442.5 1883.9 1443.2 1871.0 1444.0 1902.9 1444.8 1881.3 1445.5 1876.3 1446.2 1882.6 1447.0 1879.5 1447.8 1876.6 1448.5 1903.8 1449.2 1886.7 1450.0 1908.4 1450.8 1899.4 1451.5 1872.8 1452.2 1888.3 1453.0 1864.0 1453.8 1873.8 1454.5 1872.4 1455.2 1912.8 1456.0 1873.5 1456.8 1850.9 1457.5 1877.0 1458.2 1870.3 1459.0 1900.2 1459.8 1874.0 1460.5 1888.6 1461.2 1882.3 1462.0 1889.1 1462.8 1881.4 1463.5 1908.0 1464.2 1888.6 1465.0 1875.0 1465.8 1877.9 1466.5 1856.0 1467.2 1873.0 1468.0 1861.7 1468.8 1883.9 1469.5 1859.7 1470.2 1891.4 1471.0 1870.2 1471.8 1879.8 1472.5 1886.0 1473.2 1880.1 1474.0 1869.7 1474.8 1883.4 1475.5 1875.2 1476.2 1875.2 1477.0 1851.8 1477.8 1876.0 1478.5 1837.8 1479.2 1843.1 1480.0 1868.5 1480.8 1862.1 1481.5 1829.2 1482.2 1856.6 1483.0 1877.6 1483.8 1839.1 1484.5 1855.0 1485.2 1854.4 1486.0 1862.8 1486.8 1863.3 1487.5 1857.0 1488.2 1865.5 1489.0 1871.5 1489.8 1856.6 1490.5 1860.6 1491.2 1868.6 1492.0 1867.9 1492.8 1876.3 1493.5 1875.3 1494.2 1876.4 1495.0 1886.3 1495.8 1879.4 1496.5 1863.3 1497.2 1857.8 1498.0 1859.0 1498.8 1879.1 1499.5 1866.6 1500.2 1872.7 1501.0 1854.9 1501.8 1848.4 1502.5 1855.9 1503.2 1879.3 1504.0 1879.1 1504.8 1845.3 1505.5 1871.9 1506.2 1874.4 1507.0 1867.3 1507.8 1866.3 1508.5 1898.6 1509.2 1894.6 1510.0 1860.6 1510.8 1857.2 1511.5 1867.1 1512.2 1865.2 1513.0 1873.4 1513.8 1887.3 1514.5 1869.9 1515.2 1887.0 1516.0 1880.8 1516.8 1879.4 1517.5 1870.8 1518.2 1882.5 1519.0 1893.0 1519.8 1880.1 1520.5 1869.0 1521.2 1866.9 1522.0 1878.1 1522.8 1873.9 1523.5 1909.6 1524.2 1877.9 1525.0 1875.2 1525.8 1883.3 1526.5 1851.1 1527.2 1883.8 1528.0 1883.6 1528.8 1907.5 1529.5 1895.0 1530.2 1892.1 1531.0 1892.4 1531.8 1873.1 1532.5 1882.7 1533.2 1864.5 1534.0 1874.1 1534.8 1879.7 1535.5 1876.8 1536.2 1883.1 1537.0 1888.2 1537.8 1871.9 1538.5 1860.0 1539.2 1852.7 1540.0 1873.0 1540.8 1861.6 1541.5 1860.6 1542.2 1855.5 1543.0 1880.2 1543.8 1862.6 1544.5 1868.1 1545.2 1863.0 1546.0 1871.1 1546.8 1865.2 1547.5 1847.5 1548.2 1854.6 1549.0 1849.1 1549.8 1853.7 1550.5 1868.2 1551.2 1874.1 1552.0 1870.9 1552.8 1858.6 1553.5 1837.0 1554.2 1861.1 1555.0 1840.8 1555.8 1849.7 1556.5 1844.4 1557.2 1835.7 1558.0 1868.1 1558.8 1860.8 1559.5 1848.7 1560.2 1834.9 1561.0 1834.4 1561.8 1830.8 1562.5 1831.8 1563.2 1841.7 1564.0 1844.0 1564.8 1853.2 1565.5 1851.7 1566.2 1853.8 1567.0 1829.2 1567.8 1820.9 1568.5 1857.5 1569.2 1850.2 1570.0 1840.8 1570.8 1848.2 1571.5 1865.8 1572.2 1865.1 1573.0 1866.4 1573.8 1872.4 1574.5 1868.3 1575.2 1880.5 1576.0 1853.5 1576.8 1861.8 1577.5 1855.5 1578.2 1864.8 1579.0 1869.6 1579.8 1863.7 1580.5 1858.9 1581.2 1875.3 1582.0 1864.2 1582.8 1861.5 1583.5 1848.5 1584.2 1862.5 1585.0 1877.3 1585.8 1864.6 1586.5 1859.9 1587.2 1868.2 1588.0 1852.8 1588.8 1846.9 1589.5 1846.9 1590.2 1844.2 1591.0 1853.2 1591.8 1873.4 1592.5 1852.4 1593.2 1848.3 1594.0 1842.1 1594.8 1833.2 1595.5 1852.9 1596.2 1847.9 1597.0 1858.3 1597.8 1837.1 1598.5 1845.0 1599.2 1855.6 1600.0 1852.9 1600.8 1846.2 1601.5 1835.3 1602.2 1840.6 1603.0 1846.9 1603.8 1852.2 1604.5 1858.4 1605.2 1831.0 1606.0 1855.9 1606.8 1873.3 1607.5 1852.1 1608.2 1855.5 1609.0 1857.3 1609.8 1851.9 1610.5 1844.1 1611.2 1840.3 1612.0 1845.0 1612.8 1837.6 1613.5 1825.9 1614.2 1855.6 1615.0 1890.0 1615.8 1853.7 1616.5 1842.8 1617.2 1843.2 1618.0 1856.1 1618.8 1853.4 1619.5 1850.3 1620.2 1850.4 1621.0 1859.5 1621.8 1852.0 1622.5 1847.7 1623.2 1880.8 1624.0 1861.0 1624.8 1848.7 1625.5 1836.4 1626.2 1865.3 1627.0 1867.6 1627.8 1851.5 1628.5 1864.0 1629.2 1865.7 1630.0 1867.6 1630.8 1905.3 1631.5 1881.9 1632.2 1876.9 1633.0 1863.3 1633.8 1882.7 1634.5 1858.0 1635.2 1864.9 1636.0 1865.7 1636.8 1874.3 1637.5 1864.9 1638.2 1870.9 1639.0 1867.6 1639.8 1867.2 1640.5 1855.8 1641.2 1846.7 1642.0 1872.7 1642.8 1866.4 1643.5 1853.3 1644.2 1846.4 1645.0 1845.4 1645.8 1842.4 1646.5 1861.1 1647.2 1863.3 1648.0 1855.6 1648.8 1869.7 1649.5 1878.6 1650.2 1871.0 1651.0 1849.3 1651.8 1880.0 1652.5 1853.1 1653.2 1878.8 1654.0 1847.9 1654.8 1867.4 1655.5 1864.3 1656.2 1907.5 1657.0 1861.8 1657.8 1863.0 1658.5 1867.6 1659.2 1862.1 1660.0 1881.4 1660.8 1864.8 1661.5 1868.8 1662.2 1902.7 1663.0 1889.6 1663.8 1873.6 1664.5 1892.6 1665.2 1884.8 1666.0 1907.8 1666.8 1913.0 1667.5 1889.6 1668.2 1883.9 1669.0 1881.2 1669.8 1900.9 1670.5 1884.4 1671.2 1892.2 1672.0 1878.3 1672.8 1888.0 1673.5 1897.4 1674.2 1872.8 1675.0 1894.6 1675.8 1896.2 1676.5 1897.4 1677.2 1923.8 1678.0 1897.7 1678.8 1882.8 1679.5 1873.7 1680.2 1880.1 1681.0 1885.0 1681.8 1877.2 1682.5 1888.5 1683.2 1886.2 1684.0 1886.3 1684.8 1900.7 1685.5 1890.7 1686.2 1896.5 1687.0 1894.9 1687.8 1888.6 1688.5 1885.0 1689.2 1885.1 1690.0 1887.1 1690.8 1908.2 1691.5 1890.9 1692.2 1888.6 1693.0 1888.8 1693.8 1904.1 1694.5 1907.2 1695.2 1878.2 1696.0 1858.2 1696.8 1895.0 1697.5 1888.0 1698.2 1887.2 1699.0 1870.6 1699.8 1873.0 1700.5 1902.8 1701.2 1882.4 1702.0 1888.0 1702.8 1884.5 1703.5 1872.2 1704.2 1889.0 1705.0 1899.0 1705.8 1879.1 1706.5 1904.3 1707.2 1882.4 1708.0 1891.5 1708.8 1901.8 1709.5 1899.1 1710.2 1889.4 1711.0 1904.1 1711.8 1882.9 1712.5 1909.3 1713.2 1890.7 1714.0 1929.1 1714.8 1909.8 1715.5 1918.5 1716.2 1875.1 1717.0 1907.2 1717.8 1909.4 1718.5 1912.3 1719.2 1891.9 1720.0 1909.5 1720.8 1917.5 1721.5 1911.4 1722.2 1879.7 1723.0 1883.3 1723.8 1855.1 1724.5 1889.0 1725.2 1855.6 1726.0 1888.7 1726.8 1888.4 1727.5 1914.2 1728.2 1898.0 1729.0 1891.9 1729.8 1886.7 1730.5 1908.6 1731.2 1886.3 1732.0 1879.1 1732.8 1881.7 1733.5 1887.9 1734.2 1907.5 1735.0 1898.4 1735.8 1884.9 1736.5 1903.5 1737.2 1888.7 1738.0 1879.9 1738.8 1871.2 1739.5 1878.6 1740.2 1882.3 1741.0 1899.8 1741.8 1918.4 1742.5 1902.4 1743.2 1911.7 1744.0 1900.4 1744.8 1885.3 1745.5 1900.4 1746.2 1893.3 1747.0 1891.2 1747.8 1885.2 1748.5 1901.8 1749.2 1887.4 1750.0 1884.4 1750.8 1887.3 1751.5 1882.9 1752.2 1894.4 1753.0 1896.2 1753.8 1888.1 1754.5 1894.0 1755.2 1894.9 1756.0 1891.0 1756.8 1899.3 1757.5 1885.9 1758.2 1888.8 1759.0 1900.2 1759.8 1893.0 1760.5 1901.6 1761.2 1887.9 1762.0 1890.0 1762.8 1884.4 1763.5 1897.9 1764.2 1889.9 1765.0 1891.2 1765.8 1906.7 1766.5 1913.7 1767.2 1895.1 1768.0 1907.0 1768.8 1892.8 1769.5 1892.0 1770.2 1909.7 1771.0 1907.4 1771.8 1921.1 1772.5 1906.0 1773.2 1904.5 1774.0 1917.9 1774.8 1905.7 1775.5 1895.3 1776.2 1886.2 1777.0 1900.3 1777.8 1902.7 1778.5 1892.3 1779.2 1895.0 1780.0 1884.6 1780.8 1908.7 1781.5 1897.4 1782.2 1885.9 1783.0 1908.3 1783.8 1894.3 1784.5 1897.1 1785.2 1894.3 1786.0 1917.5 1786.8 1923.6 1787.5 1940.1 1788.2 1917.1 1789.0 1895.8 1789.8 1894.0 1790.5 1894.4 1791.2 1895.1 1792.0 1884.5 1792.8 1883.6 1793.5 1880.2 1794.2 1879.8 1795.0 1897.8 1795.8 1885.8 1796.5 1902.9 1797.2 1906.3 1798.0 1912.1 1798.8 1919.9 1799.5 1912.8 1800.2 1915.6 1801.0 1907.8 1801.8 1898.7 1802.5 1911.6 1803.2 1909.0 1804.0 1904.5 1804.8 1897.0 1805.5 1904.4 1806.2 1900.1 1807.0 1895.9 1807.8 1901.9 1808.5 1920.7 1809.2 1912.2 1810.0 1903.2 1810.8 1903.5 1811.5 1899.8 1812.2 1899.2 1813.0 1910.3 1813.8 1903.2 1814.5 1899.0 1815.2 1910.8 1816.0 1879.4 1816.8 1875.9 1817.5 1901.0 1818.2 1871.6 1819.0 1880.3 1819.8 1880.9 1820.5 1873.8 1821.2 1897.6 1822.0 1880.1 1822.8 1887.3 1823.5 1900.6 1824.2 1882.3 1825.0 1890.0 1825.8 1883.7 1826.5 1909.1 1827.2 1882.2 1828.0 1901.9 1828.8 1883.6 1829.5 1884.5 1830.2 1905.9 1831.0 1897.2 1831.8 1899.3 1832.5 1880.9 1833.2 1881.6 1834.0 1904.1 1834.8 1905.4 1835.5 1880.7 1836.2 1892.7 1837.0 1874.3 1837.8 1898.3 1838.5 1901.5 1839.2 1873.3 1840.0 1895.9 1840.8 1888.9 1841.5 1892.0 1842.2 1863.7 1843.0 1883.8 1843.8 1897.7 1844.5 1893.6 1845.2 1890.7 1846.0 1897.6 1846.8 1880.0 1847.5 1863.2 1848.2 1900.5 1849.0 1896.3 1849.8 1870.8 1850.5 1881.1 1851.2 1881.9 1852.0 1873.2 1852.8 1868.2 1853.5 1875.1 1854.2 1895.4 1855.0 1876.8 1855.8 1889.4 1856.5 1872.7 1857.2 1873.8 1858.0 1869.6 1858.8 1879.0 1859.5 1880.1 1860.2 1896.7 1861.0 1879.1 1861.8 1870.4 1862.5 1881.0 1863.2 1875.0 1864.0 1877.6 1864.8 1876.3 1865.5 1903.7 1866.2 1897.4 1867.0 1894.6 1867.8 1882.2 1868.5 1884.2 1869.2 1892.4 1870.0 1875.0 1870.8 1895.5 1871.5 1895.2 1872.2 1895.7 1873.0 1903.7 1873.8 1888.5 1874.5 1916.0 1875.2 1895.4 1876.0 1907.1 1876.8 1889.5 1877.5 1898.7 1878.2 1869.9 1879.0 1885.3 1879.8 1905.7 1880.5 1868.0 1881.2 1891.8 1882.0 1886.5 1882.8 1888.0 1883.5 1874.3 1884.2 1888.4 1885.0 1853.5 1885.8 1848.0 1886.5 1881.8 1887.2 1894.3 1888.0 1896.2 1888.8 1880.4 1889.5 1880.4 1890.2 1867.2 1891.0 1885.1 1891.8 1879.4 1892.5 1882.2 1893.2 1874.3 1894.0 1882.6 1894.8 1875.5 1895.5 1892.2 1896.2 1882.0 1897.0 1892.8 1897.8 1888.0 1898.5 1903.0 1899.2 1911.0 1900.0 1880.5 1900.8 1873.3 1901.5 1894.0 1902.2 1881.8 1903.0 1871.0 1903.8 1860.9 1904.5 1884.6 1905.2 1870.5 1906.0 1889.7 1906.8 1876.1 1907.5 1887.3 1908.2 1867.6 1909.0 1879.7 1909.8 1886.8 1910.5 1851.4 1911.2 1860.9 1912.0 1861.7 1912.8 1869.8 1913.5 1861.1 1914.2 1877.0 1915.0 1909.5 1915.8 1883.6 1916.5 1875.3 1917.2 1870.9 1918.0 1872.9 1918.8 1907.9 1919.5 1895.3 1920.2 1879.4 1921.0 1868.1 1921.8 1879.9 1922.5 1878.0 1923.2 1858.7 1924.0 1882.6 1924.8 1870.2 1925.5 1867.8 1926.2 1876.4 1927.0 1878.7 1927.8 1869.6 1928.5 1874.8 1929.2 1869.5 1930.0 1855.5 1930.8 1847.9 1931.5 1848.1 1932.2 1865.6 1933.0 1845.0 1933.8 1873.9 1934.5 1864.3 1935.2 1872.1 1936.0 1882.8 1936.8 1879.7 1937.5 1890.4 1938.2 1878.6 1939.0 1868.4 1939.8 1863.7 1940.5 1880.0 1941.2 1860.4 1942.0 1867.4 1942.8 1853.9 1943.5 1860.1 1944.2 1850.6 1945.0 1858.9 1945.8 1846.0 1946.5 1864.7 1947.2 1846.3 1948.0 1867.4 1948.8 1851.2 1949.5 1855.1 1950.2 1860.3 1951.0 1860.1 1951.8 1859.2 1952.5 1837.9 1953.2 1850.8 1954.0 1852.8 1954.8 1883.1 1955.5 1885.8 1956.2 1874.8 1957.0 1858.6 1957.8 1858.7 1958.5 1862.7 1959.2 1887.0 1960.0 1851.1 1960.8 1846.2 1961.5 1841.7 1962.2 1852.5 1963.0 1871.3 1963.8 1857.7 1964.5 1854.4 1965.2 1841.5 1966.0 1850.2 1966.8 1839.9 1967.5 1849.9 1968.2 1813.5 1969.0 1859.7 1969.8 1868.2 1970.5 1876.2 1971.2 1859.4 1972.0 1866.4 1972.8 1851.6 1973.5 1853.7 1974.2 1829.9 1975.0 1845.2 1975.8 1849.6 1976.5 1857.6 1977.2 1842.3 1978.0 1847.1 1978.8 1848.8 1979.5 1836.8 1980.2 1836.2 1981.0 1837.3 1981.8 1845.4 1982.5 1833.7 1983.2 1801.4 1984.0 1838.1 1984.8 1824.8 1985.5 1810.1 1986.2 1854.2 1987.0 1822.0 1987.8 1847.9 1988.5 1834.0 1989.2 1826.1 1990.0 1840.5 1990.8 1839.3 1991.5 1851.4 1992.2 1853.0 1993.0 1858.9 1993.8 1840.6 1994.5 1837.3 1995.2 1801.3 1996.0 1836.1 1996.8 1843.8 1997.5 1850.0 1998.2 1834.8 1999.0 1859.5 1999.8 1827.0 2000.5 1842.8 2001.2 1858.1 2002.0 1841.2 2002.8 1826.8 2003.5 1828.2 2004.2 1838.5 2005.0 1843.5 2005.8 1844.8 2006.5 1842.4 2007.2 1845.4 2008.0 1832.3 2008.8 1863.4 2009.5 1845.6 2010.2 1849.5 2011.0 1833.9 2011.8 1833.4 2012.5 1835.6 2013.2 1824.8 2014.0 1808.0 2014.8 1819.4 2015.5 1829.4 2016.2 1824.2 2017.0 1831.9 2017.8 1835.9 2018.5 1860.1 2019.2 1855.3 2020.0 1826.7 2020.8 1834.6 2021.5 1841.4 2022.2 1854.2 2023.0 1832.9 2023.8 1827.3 2024.5 1858.0 2025.2 1829.9 2026.0 1837.5 2026.8 1844.5 2027.5 1856.2 2028.2 1855.9 2029.0 1825.3 2029.8 1840.8 2030.5 1844.4 2031.2 1843.1 2032.0 1837.5 2032.8 1842.3 2033.5 1846.5 2034.2 1824.5 2035.0 1823.7 2035.8 1831.3 2036.5 1834.1 2037.2 1801.8 2038.0 1817.2 2038.8 1825.1 2039.5 1814.8 2040.2 1799.7 2041.0 1815.3 2041.8 1803.6 2042.5 1811.2 2043.2 1829.4 2044.0 1786.8 2044.8 1819.3 2045.5 1800.8 2046.2 1813.4 2047.0 1803.3 2047.8 1830.1 2048.5 1805.7 2049.2 1829.1 2050.0 1831.5 2050.8 1831.6 2051.5 1811.6 2052.2 1835.5 2053.0 1832.8 2053.8 1810.6 2054.5 1824.0 2055.2 1806.6 2056.0 1798.3 2056.8 1811.2 2057.5 1801.2 2058.2 1832.6 2059.0 1821.9 2059.8 1809.1 2060.5 1816.5 2061.2 1827.5 2062.0 1806.1 2062.8 1808.2 2063.5 1804.9 2064.2 1805.6 2065.0 1814.7 2065.8 1823.9 2066.5 1819.4 2067.2 1822.2 2068.0 1827.4 2068.8 1823.9 2069.5 1830.2 2070.2 1817.1 2071.0 1829.9 2071.8 1829.0 2072.5 1833.2 2073.2 1799.6 2074.0 1820.6 2074.8 1826.8 2075.5 1822.1 2076.2 1829.7 2077.0 1818.0 2077.8 1814.8 2078.5 1819.7 2079.2 1808.3 2080.0 1825.8 2080.8 1817.2 2081.5 1813.0 2082.2 1823.3 2083.0 1806.5 2083.8 1800.7 2084.5 1810.2 2085.2 1795.2 2086.0 1803.2 2086.8 1816.5 2087.5 1814.2 2088.2 1813.5 2089.0 1829.5 2089.8 1778.4 2090.5 1798.7 2091.2 1819.3 2092.0 1791.0 2092.8 1792.7 2093.5 1795.5 2094.2 1805.3 2095.0 1797.4 2095.8 1788.1 2096.5 1774.6 2097.2 1791.9 2098.0 1796.2 2098.8 1792.3 2099.5 1797.3 2100.2 1799.7 2101.0 1805.0 2101.8 1777.6 2102.5 1791.1 2103.2 1792.9 2104.0 1785.0 2104.8 1800.8 2105.5 1798.7 2106.2 1751.5 2107.0 1834.8 2107.8 1792.9 2108.5 1803.0 2109.2 1797.7 2110.0 1804.7 2110.8 1793.5 2111.5 1774.5 2112.2 1795.5 2113.0 1778.5 2113.8 1781.0 2114.5 1792.9 2115.2 1794.3 2116.0 1774.3 2116.8 1780.5 2117.5 1773.1 2118.2 1788.5 2119.0 1750.7 2119.8 1775.9 2120.5 1774.2 2121.2 1777.1 2122.0 1777.3 2122.8 1760.5 2123.5 1788.2 2124.2 1788.6 2125.0 1776.8 2125.8 1791.9 2126.5 1781.0 2127.2 1796.4 2128.0 1786.6 2128.8 1788.2 2129.5 1802.2 2130.2 1805.9 2131.0 1797.4 2131.8 1784.0 2132.5 1767.7 2133.2 1794.3 2134.0 1793.8 2134.8 1795.8 2135.5 1815.3 2136.2 1803.5 2137.0 1815.6 2137.8 1810.2 2138.5 1819.9 2139.2 1776.4 2140.0 1760.5 2140.8 1787.4 2141.5 1787.4 2142.2 1803.6 2143.0 1816.1 2143.8 1805.7 2144.5 1799.3 2145.2 1798.3 2146.0 1782.0 2146.8 1790.1 2147.5 1793.9 2148.2 1812.7 2149.0 1800.0 2149.8 1781.6 2150.5 1768.5 2151.2 1768.8 2152.0 1799.7 2152.8 1780.5 2153.5 1775.2 2154.2 1794.3 2155.0 1788.4 2155.8 1792.8 2156.5 1792.7 2157.2 1804.8 2158.0 1778.9 2158.8 1777.1 2159.5 1768.6 2160.2 1787.3 2161.0 1773.1 2161.8 1799.7 2162.5 1779.0 2163.2 1798.1 2164.0 1767.4 2164.8 1785.1 2165.5 1764.8 2166.2 1783.6 2167.0 1778.9 2167.8 1767.7 2168.5 1765.6 2169.2 1766.7 2170.0 1767.9 2170.8 1762.6 2171.5 1770.4 2172.2 1770.2 2173.0 1769.6 2173.8 1752.2 2174.5 1760.3 2175.2 1779.4 2176.0 1756.9 2176.8 1781.1 2177.5 1772.8 2178.2 1779.7 2179.0 1763.8 2179.8 1770.1 2180.5 1784.8 2181.2 1769.7 2182.0 1766.4 2182.8 1782.7 2183.5 1773.2 2184.2 1762.9 2185.0 1756.0 2185.8 1777.4 2186.5 1770.3 2187.2 1746.0 2188.0 1774.5 2188.8 1768.3 2189.5 1775.9 2190.2 1767.9 2191.0 1764.6 2191.8 1778.2 2192.5 1766.8 2193.2 1761.1 2194.0 1766.1 2194.8 1789.7 2195.5 1797.5" stroke="#ff0000" stroke-width="5.0" fill="none" stroke-linejoin="round"/>
<path d="M259.0 2533.4 259.8 2536.7 260.5 2541.3 261.2 2540.0 262.0 2527.5 262.8 2544.0 263.5 2527.8 264.2 2525.9 265.0 2509.2 265.8 2527.2 266.5 2529.2 267.2 2526.7 268.0 2523.6 268.8 2528.3 269.5 2527.7 270.2 2545.2 271.0 2536.3 271.8 2541.2 272.5 2516.3 273.2 2543.7 274.0 2542.8 274.8 2554.0 275.5 2526.0 276.2 2531.7 277.0 2532.1 277.8 2537.6 278.5 2526.4 279.2 2525.0 280.0 2523.9 280.8 2535.1 281.5 2528.9 282.2 2541.4 283.0 2520.1 283.8 2528.1 284.5 2527.8 285.2 2516.9 286.0 2500.1 286.8 2506.8 287.5 2527.8 288.2 2515.6 289.0 2528.4 289.8 2528.3 290.5 2513.3 291.2 2532.1 292.0 2533.3 292.8 2524.1 293.5 2533.7 294.2 2526.0 295.0 2518.2 295.8 2515.3 296.5 2508.6 297.2 2507.9 298.0 2516.0 298.8 2513.2 299.5 2512.9 300.2 2514.1 301.0 2518.3 301.8 2516.3 302.5 2518.1 303.2 2524.9 304.0 2527.9 304.8 2533.7 305.5 2519.5 306.2 2518.1 307.0 2531.4 307.8 2527.9 308.5 2517.3 309.2 2522.7 310.0 2507.3 310.8 2526.0 311.5 2527.8 312.2 2511.3 313.0 2518.7 313.8 2524.7 314.5 2521.2 315.2 2504.5 316.0 2527.4 316.8 2513.4 317.5 2533.8 318.2 2532.1 319.0 2518.2 319.8 2536.9 320.5 2536.0 321.2 2542.4 322.0 2537.1 322.8 2524.1 323.5 2523.2 324.2 2532.9 325.0 2523.0 325.8 2537.4 326.5 2536.6 327.2 2527.2 328.0 2543.4 328.8 2523.6 329.5 2526.2 330.2 2530.3 331.0 2515.9 331.8 2507.3 332.5 2519.4 333.2 2525.0 334.0 2521.0 334.8 2530.6 335.5 2528.7 336.2 2517.2 337.0 2525.9 337.8 2528.1 338.5 2539.5 339.2 2517.3 340.0 2515.4 340.8 2512.2 341.5 2504.5 342.2 2557.8 343.0 2530.6 343.8 2509.0 344.5 2518.3 345.2 2528.6 346.0 2516.4 346.8 2530.8 347.5 2523.7 348.2 2525.2 349.0 2520.9 349.8 2529.4 350.5 2536.5 351.2 2522.6 352.0 2531.8 352.8 2525.3 353.5 2536.6 354.2 2532.6 355.0 2520.6 355.8 2539.0 356.5 2537.1 357.2 2521.6 358.0 2532.5 358.8 2544.2 359.5 2529.4 360.2 2527.9 361.0 2525.8 361.8 2515.7 362.5 2517.7 363.2 2525.6 364.0 2524.4 364.8 2509.0 365.5 2519.7 366.2 2533.0 367.0 2527.6 367.8 2525.8 368.5 2515.1 369.2 2506.0 370.0 2513.8 370.8 2519.7 371.5 2512.2 372.2 2534.6 373.0 2547.3 373.8 2532.9 374.5 2531.6 375.2 2513.5 376.0 2528.5 376.8 2540.7 377.5 2528.8 378.2 2512.9 379.0 2500.6 379.8 2521.6 380.5 2545.6 381.2 2527.6 382.0 2516.4 382.8 2519.6 383.5 2510.4 384.2 2519.6 385.0 2511.7 385.8 2524.7 386.5 2515.6 387.2 2515.4 388.0 2512.6 388.8 2516.1 389.5 2519.6 390.2 2532.0 391.0 2506.8 391.8 2508.7 392.5 2519.5 393.2 2486.3 394.0 2523.2 394.8 2521.1 395.5 2523.3 396.2 2530.8 397.0 2537.3 397.8 2523.8 398.5 2529.3 399.2 2519.2 400.0 2508.9 400.8 2527.4 401.5 2538.7 402.2 2500.5 403.0 2523.2 403.8 2515.5 404.5 2519.6 405.2 2514.3 406.0 2516.3 406.8 2511.5 407.5 2522.7 408.2 2517.2 409.0 2525.0 409.8 2513.4 410.5 2523.5 411.2 2524.7 412.0 2528.5 412.8 2521.4 413.5 2524.3 414.2 2525.2 415.0 2553.3 415.8 2537.4 416.5 2538.6 417.2 2538.9 418.0 2534.8 418.8 2537.0 419.5 2538.7 420.2 2525.6 421.0 2536.6 421.8 2545.3 422.5 2531.6 423.2 2540.8 424.0 2520.6 424.8 2520.6 425.5 2525.1 426.2 2513.8 427.0 2507.6 427.8 2500.6 428.5 2513.4 429.2 2518.5 430.0 2525.2 430.8 2518.1 431.5 2527.9 432.2 2499.1 433.0 2524.5 433.8 2515.8 434.5 2517.1 435.2 2526.9 436.0 2506.7 436.8 2520.5 437.5 2519.7 438.2 2518.0 439.0 2519.8 439.8 2530.5 440.5 2517.8 441.2 2526.4 442.0 2525.8 442.8 2516.5 443.5 2512.5 444.2 2531.7 445.0 2513.9 445.8 2514.2 446.5 2509.3 447.2 2518.9 448.0 2515.5 448.8 2510.8 449.5 2523.1 450.2 2523.5 451.0 2537.2 451.8 2521.1 452.5 2525.9 453.2 2504.3 454.0 2496.9 454.8 2498.7 455.5 2525.9 456.2 2516.5 457.0 2506.2 457.8 2512.2 458.5 2496.8 459.2 2516.6 460.0 2504.0 460.8 2531.4 461.5 2513.4 462.2 2509.6 463.0 2530.4 463.8 2526.8 464.5 2515.2 465.2 2525.5 466.0 2511.4 466.8 2511.9 467.5 2500.9 468.2 2492.1 469.0 2498.7 469.8 2510.4 470.5 2517.8 471.2 2534.0 472.0 2513.1 472.8 2513.8 473.5 2487.1 474.2 2512.7 475.0 2504.1 475.8 2504.0 476.5 2514.7 477.2 2517.0 478.0 2525.7 478.8 2518.2 479.5 2512.4 480.2 2515.7 481.0 2524.5 481.8 2522.8 482.5 2507.8 483.2 2519.6 484.0 2525.7 484.8 2523.0 485.5 2513.7 486.2 2529.0 487.0 2522.0 487.8 2526.2 488.5 2526.0 489.2 2513.2 490.0 2506.6 490.8 2514.5 491.5 2508.4 492.2 2498.9 493.0 2508.2 493.8 2529.1 494.5 2508.1 495.2 2506.4 496.0 2490.3 496.8 2505.4 497.5 2508.1 498.2 2509.0 499.0 2495.7 499.8 2505.8 500.5 2515.9 501.2 2514.7 502.0 2508.1 502.8 2495.6 503.5 2517.4 504.2 2499.5 505.0 2510.5 505.8 2501.4 506.5 2517.8 507.2 2513.5 508.0 2511.4 508.8 2517.9 509.5 2492.7 510.2 2521.2 511.0 2507.6 511.8 2512.0 512.5 2523.3 513.2 2506.1 514.0 2511.5 514.8 2508.4 515.5 2516.5 516.2 2536.3 517.0 2527.2 517.8 2518.2 518.5 2517.3 519.2 2524.8 520.0 2521.6 520.8 2504.8 521.5 2508.3 522.2 2519.7 523.0 2510.7 523.8 2503.7 524.5 2497.6 525.2 2526.4 526.0 2518.1 526.8 2512.2 527.5 2523.9 528.2 2526.3 529.0 2488.4 529.8 2520.6 530.5 2510.6 531.2 2515.6 532.0 2517.5 532.8 2521.2 533.5 2486.6 534.2 2509.9 535.0 2526.0 535.8 2503.8 536.5 2509.5 537.2 2510.6 538.0 2528.0 538.8 2512.5 539.5 2532.6 540.2 2505.2 541.0 2507.1 541.8 2510.3 542.5 2505.5 543.2 2488.3 544.0 2503.9 544.8 2498.8 545.5 2499.4 546.2 2498.8 547.0 2486.1 547.8 2514.2 548.5 2503.7 549.2 2489.0 550.0 2502.3 550.8 2498.6 551.5 2498.3 552.2 2518.0 553.0 2505.7 553.8 2522.4 554.5 2529.1 555.2 2525.2 556.0 2518.5 556.8 2527.1 557.5 2508.2 558.2 2502.9 559.0 2513.4 559.8 2510.5 560.5 2524.4 561.2 2489.4 562.0 2500.4 562.8 2510.7 563.5 2528.9 564.2 2514.6 565.0 2505.2 565.8 2500.7 566.5 2488.2 567.2 2495.7 568.0 2487.2 568.8 2500.1 569.5 2515.7 570.2 2482.5 571.0 2489.9 571.8 2523.1 572.5 2492.8 573.2 2488.0 574.0 2491.9 574.8 2493.3 575.5 2516.9 576.2 2521.2 577.0 2519.6 577.8 2512.7 578.5 2514.6 579.2 2516.3 580.0 2531.5 580.8 2527.0 581.5 2523.3 582.2 2518.6 583.0 2513.6 583.8 2515.3 584.5 2514.0 585.2 2515.1 586.0 2507.0 586.8 2499.6 587.5 2516.4 588.2 2528.9 589.0 2507.8 589.8 2512.0 590.5 2512.3 591.2 2509.3 592.0 2512.9 592.8 2515.9 593.5 2497.8 594.2 2505.5 595.0 2499.0 595.8 2501.2 596.5 2510.7 597.2 2508.3 598.0 2507.2 598.8 2505.6 599.5 2499.7 600.2 2495.6 601.0 2507.1 601.8 2496.1 602.5 2489.3 603.2 2498.9 604.0 2513.7 604.8 2513.9 605.5 2493.4 606.2 2498.7 607.0 2488.5 607.8 2510.5 608.5 2520.1 609.2 2509.0 610.0 2495.1 610.8 2515.0 611.5 2498.6 612.2 2502.7 613.0 2499.6 613.8 2503.0 614.5 2499.0 615.2 2487.8 616.0 2495.4 616.8 2481.1 617.5 2484.9 618.2 2493.6 619.0 2495.5 619.8 2497.7 620.5 2518.9 621.2 2528.2 622.0 2511.7 622.8 2490.4 623.5 2499.1 624.2 2486.4 625.0 2480.0 625.8 2496.9 626.5 2506.7 627.2 2532.0 628.0 2519.9 628.8 2516.5 629.5 2502.3 630.2 2522.9 631.0 2499.5 631.8 2513.5 632.5 2500.3 633.2 2480.0 634.0 2494.4 634.8 2494.1 635.5 2490.9 636.2 2491.2 637.0 2503.8 637.8 2498.4 638.5 2500.1 639.2 2486.1 640.0 2497.8 640.8 2499.2 641.5 2509.5 642.2 2496.4 643.0 2491.3 643.8 2486.3 644.5 2493.4 645.2 2505.8 646.0 2489.6 646.8 2484.4 647.5 2500.1 648.2 2504.4 649.0 2503.3 649.8 2504.6 650.5 2501.5 651.2 2505.7 652.0 2516.2 652.8 2497.2 653.5 2528.9 654.2 2511.3 655.0 2488.5 655.8 2503.5 656.5 2504.4 657.2 2511.7 658.0 2508.5 658.8 2494.6 659.5 2522.1 660.2 2510.5 661.0 2497.3 661.8 2491.9 662.5 2513.8 663.2 2500.9 664.0 2508.5 664.8 2485.4 665.5 2504.5 666.2 2492.9 667.0 2493.1 667.8 2488.3 668.5 2492.6 669.2 2479.5 670.0 2491.5 670.8 2483.4 671.5 2495.8 672.2 2498.0 673.0 2496.5 673.8 2488.7 674.5 2492.0 675.2 2494.9 676.0 2494.7 676.8 2489.5 677.5 2488.6 678.2 2490.2 679.0 2485.1 679.8 2474.1 680.5 2501.2 681.2 2468.5 682.0 2493.0 682.8 2455.3 683.5 2496.1 684.2 2495.2 685.0 2493.1 685.8 2483.2 686.5 2492.8 687.2 2500.3 688.0 2488.5 688.8 2483.2 689.5 2489.7 690.2 2481.6 691.0 2478.5 691.8 2489.3 692.5 2487.1 693.2 2477.8 694.0 2472.5 694.8 2457.8 695.5 2498.5 696.2 2493.1 697.0 2481.7 697.8 2485.9 698.5 2478.5 699.2 2483.4 700.0 2491.3 700.8 2486.6 701.5 2489.5 702.2 2484.4 703.0 2490.9 703.8 2480.3 704.5 2474.3 705.2 2471.6 706.0 2470.3 706.8 2479.3 707.5 2476.3 708.2 2463.4 709.0 2490.4 709.8 2459.2 710.5 2468.7 711.2 2471.6 712.0 2478.5 712.8 2460.4 713.5 2485.7 714.2 2467.9 715.0 2467.7 715.8 2481.8 716.5 2472.4 717.2 2459.0 718.0 2457.8 718.8 2463.1 719.5 2472.5 720.2 2465.1 721.0 2465.5 721.8 2469.0 722.5 2471.4 723.2 2460.8 724.0 2472.9 724.8 2471.3 725.5 2469.9 726.2 2466.2 727.0 2461.2 727.8 2441.6 728.5 2475.6 729.2 2469.9 730.0 2469.3 730.8 2456.0 731.5 2467.2 732.2 2449.4 733.0 2467.1 733.8 2460.7 734.5 2466.5 735.2 2423.7 736.0 2453.6 736.8 2446.2 737.5 2447.2 738.2 2448.9 739.0 2447.7 739.8 2450.8 740.5 2452.6 741.2 2453.8 742.0 2462.1 742.8 2455.6 743.5 2463.5 744.2 2447.5 745.0 2456.2 745.8 2457.9 746.5 2452.3 747.2 2446.9 748.0 2450.4 748.8 2452.1 749.5 2446.6 750.2 2455.6 751.0 2453.8 751.8 2429.2 752.5 2434.4 753.2 2458.4 754.0 2460.2 754.8 2468.2 755.5 2464.8 756.2 2446.5 757.0 2457.6 757.8 2464.2 758.5 2448.2 759.2 2457.5 760.0 2457.4 760.8 2460.8 761.5 2472.2 762.2 2472.2 763.0 2470.3 763.8 2472.5 764.5 2478.2 765.2 2471.9 766.0 2474.2 766.8 2464.8 767.5 2456.9 768.2 2470.1 769.0 2459.3 769.8 2467.1 770.5 2462.1 771.2 2460.8 772.0 2467.6 772.8 2480.3 773.5 2479.0 774.2 2465.7 775.0 2475.9 775.8 2487.1 776.5 2480.7 777.2 2492.3 778.0 2491.5 778.8 2480.1 779.5 2478.3 780.2 2499.2 781.0 2477.3 781.8 2484.6 782.5 2483.8 783.2 2482.1 784.0 2484.3 784.8 2484.1 785.5 2483.8 786.2 2491.4 787.0 2478.9 787.8 2473.0 788.5 2488.0 789.2 2493.5 790.0 2489.3 790.8 2491.5 791.5 2489.1 792.2 2483.5 793.0 2497.5 793.8 2469.8 794.5 2465.6 795.2 2483.1 796.0 2464.1 796.8 2477.8 797.5 2475.7 798.2 2488.7 799.0 2482.7 799.8 2477.0 800.5 2496.5 801.2 2481.0 802.0 2484.8 802.8 2490.7 803.5 2483.3 804.2 2484.2 805.0 2497.4 805.8 2516.5 806.5 2480.5 807.2 2502.2 808.0 2491.8 808.8 2486.2 809.5 2489.0 810.2 2491.2 811.0 2500.3 811.8 2494.5 812.5 2501.8 813.2 2486.9 814.0 2489.9 814.8 2499.5 815.5 2476.7 816.2 2516.8 817.0 2490.9 817.8 2492.8 818.5 2488.4 819.2 2462.4 820.0 2483.2 820.8 2474.9 821.5 2490.4 822.2 2487.5 823.0 2466.8 823.8 2481.5 824.5 2485.8 825.2 2487.0 826.0 2482.7 826.8 2480.3 827.5 2503.8 828.2 2473.5 829.0 2480.7 829.8 2495.8 830.5 2470.4 831.2 2478.0 832.0 2487.4 832.8 2480.3 833.5 2478.4 834.2 2522.6 835.0 2468.4 835.8 2488.4 836.5 2466.8 837.2 2505.8 838.0 2477.3 838.8 2495.1 839.5 2486.7 840.2 2493.0 841.0 2494.0 841.8 2499.1 842.5 2494.8 843.2 2486.6 844.0 2488.7 844.8 2495.8 845.5 2487.8 846.2 2502.9 847.0 2509.9 847.8 2495.5 848.5 2493.0 849.2 2487.7 850.0 2481.7 850.8 2477.1 851.5 2482.3 852.2 2479.8 853.0 2480.2 853.8 2486.1 854.5 2487.5 855.2 2509.0 856.0 2487.1 856.8 2483.0 857.5 2487.3 858.2 2489.3 859.0 2477.8 859.8 2465.7 860.5 2478.8 861.2 2476.9 862.0 2511.8 862.8 2475.5 863.5 2485.6 864.2 2487.6 865.0 2492.5 865.8 2495.2 866.5 2489.1 867.2 2472.4 868.0 2487.6 868.8 2465.6 869.5 2483.6 870.2 2480.3 871.0 2479.8 871.8 2486.0 872.5 2490.3 873.2 2486.7 874.0 2489.4 874.8 2484.5 875.5 2478.6 876.2 2505.6 877.0 2484.5 877.8 2498.4 878.5 2492.2 879.2 2478.5 880.0 2481.1 880.8 2470.6 881.5 2486.4 882.2 2470.9 883.0 2478.5 883.8 2478.6 884.5 2471.7 885.2 2484.3 886.0 2495.2 886.8 2502.8 887.5 2505.2 888.2 2491.8 889.0 2492.8 889.8 2493.7 890.5 2501.9 891.2 2468.6 892.0 2481.9 892.8 2481.6 893.5 2465.9 894.2 2481.9 895.0 2485.2 895.8 2485.0 896.5 2506.5 897.2 2496.9 898.0 2493.9 898.8 2489.5 899.5 2483.0 900.2 2490.4 901.0 2492.9 901.8 2512.5 902.5 2505.0 903.2 2476.7 904.0 2487.3 904.8 2485.3 905.5 2484.9 906.2 2499.1 907.0 2497.9 907.8 2516.0 908.5 2485.3 909.2 2495.7 910.0 2488.1 910.8 2485.9 911.5 2485.1 912.2 2488.3 913.0 2485.8 913.8 2482.4 914.5 2498.6 915.2 2490.5 916.0 2491.8 916.8 2502.5 917.5 2496.2 918.2 2481.6 919.0 2480.3 919.8 2505.8 920.5 2508.3 921.2 2499.2 922.0 2496.2 922.8 2491.0 923.5 2500.7 924.2 2481.8 925.0 2490.9 925.8 2490.8 926.5 2467.5 927.2 2473.0 928.0 2473.3 928.8 2474.7 929.5 2475.2 930.2 2481.6 931.0 2480.2 931.8 2479.7 932.5 2489.2 933.2 2485.5 934.0 2485.9 934.8 2477.4 935.5 2480.7 936.2 2481.2 937.0 2481.4 937.8 2468.4 938.5 2479.4 939.2 2468.9 940.0 2486.3 940.8 2482.5 941.5 2476.7 942.2 2485.7 943.0 2484.9 943.8 2481.7 944.5 2490.0 945.2 2485.3 946.0 2488.7 946.8 2487.0 947.5 2481.3 948.2 2471.3 949.0 2463.9 949.8 2478.4 950.5 2473.3 951.2 2478.0 952.0 2463.2 952.8 2480.5 953.5 2467.7 954.2 2460.6 955.0 2480.9 955.8 2483.7 956.5 2469.2 957.2 2481.9 958.0 2478.2 958.8 2478.6 959.5 2475.5 960.2 2485.8 961.0 2481.8 961.8 2479.7 962.5 2488.3 963.2 2485.0 964.0 2489.5 964.8 2480.9 965.5 2483.9 966.2 2488.0 967.0 2483.8 967.8 2494.5 968.5 2479.7 969.2 2489.8 970.0 2469.0 970.8 2485.6 971.5 2461.0 972.2 2455.5 973.0 2496.2 973.8 2478.5 974.5 2493.4 975.2 2471.9 976.0 2470.2 976.8 2510.1 977.5 2468.4 978.2 2449.1 979.0 2456.8 979.8 2467.2 980.5 2462.6 981.2 2458.5 982.0 2453.0 982.8 2463.5 983.5 2450.6 984.2 2463.6 985.0 2433.5 985.8 2471.7 986.5 2445.2 987.2 2450.4 988.0 2437.0 988.8 2459.0 989.5 2447.3 990.2 2444.4 991.0 2449.9 991.8 2460.6 992.5 2460.7 993.2 2452.0 994.0 2443.9 994.8 2439.3 995.5 2444.9 996.2 2441.8 997.0 2434.3 997.8 2444.8 998.5 2445.8 999.2 2445.2 1000.0 2452.7 1000.8 2441.2 1001.5 2461.3 1002.2 2466.6 1003.0 2460.7 1003.8 2459.9 1004.5 2459.0 1005.2 2461.3 1006.0 2465.9 1006.8 2445.5 1007.5 2450.0 1008.2 2455.6 1009.0 2468.2 1009.8 2456.4 1010.5 2463.5 1011.2 2444.5 1012.0 2449.0 1012.8 2457.4 1013.5 2451.4 1014.2 2449.3 1015.0 2434.3 1015.8 2425.5 1016.5 2441.0 1017.2 2442.8 1018.0 2449.0 1018.8 2439.5 1019.5 2456.2 1020.2 2448.1 1021.0 2434.6 1021.8 2438.8 1022.5 2445.6 1023.2 2438.4 1024.0 2431.2 1024.8 2415.2 1025.5 2403.4 1026.2 2398.3 1027.0 2395.7 1027.8 2408.6 1028.5 2431.3 1029.2 2423.1 1030.0 2414.3 1030.8 2426.6 1031.5 2419.2 1032.2 2421.2 1033.0 2435.6 1033.8 2433.5 1034.5 2415.1 1035.2 2426.9 1036.0 2415.1 1036.8 2425.4 1037.5 2423.4 1038.2 2401.6 1039.0 2440.0 1039.8 2414.3 1040.5 2413.2 1041.2 2435.6 1042.0 2412.5 1042.8 2422.6 1043.5 2422.5 1044.2 2417.0 1045.0 2415.2 1045.8 2409.4 1046.5 2413.7 1047.2 2419.4 1048.0 2404.7 1048.8 2403.8 1049.5 2416.4 1050.2 2415.1 1051.0 2414.4 1051.8 2414.4 1052.5 2417.7 1053.2 2409.0 1054.0 2391.5 1054.8 2395.3 1055.5 2424.0 1056.2 2421.7 1057.0 2441.4 1057.8 2420.7 1058.5 2410.0 1059.2 2406.2 1060.0 2401.9 1060.8 2411.7 1061.5 2400.7 1062.2 2415.6 1063.0 2410.0 1063.8 2425.2 1064.5 2422.9 1065.2 2390.5 1066.0 2398.6 1066.8 2382.5 1067.5 2403.9 1068.2 2383.8 1069.0 2388.4 1069.8 2379.8 1070.5 2401.1 1071.2 2396.8 1072.0 2388.5 1072.8 2375.9 1073.5 2386.7 1074.2 2378.9 1075.0 2383.0 1075.8 2384.6 1076.5 2385.5 1077.2 2381.4 1078.0 2382.1 1078.8 2375.9 1079.5 2369.8 1080.2 2383.9 1081.0 2386.3 1081.8 2377.3 1082.5 2381.2 1083.2 2363.9 1084.0 2355.1 1084.8 2347.6 1085.5 2330.9 1086.2 2330.9 1087.0 2343.4 1087.8 2363.2 1088.5 2347.7 1089.2 2346.1 1090.0 2363.5 1090.8 2367.6 1091.5 2362.1 1092.2 2366.9 1093.0 2342.8 1093.8 2354.4 1094.5 2334.4 1095.2 2353.8 1096.0 2346.8 1096.8 2365.1 1097.5 2361.3 1098.2 2345.4 1099.0 2340.5 1099.8 2323.7 1100.5 2346.9 1101.2 2347.0 1102.0 2333.5 1102.8 2348.4 1103.5 2362.2 1104.2 2340.7 1105.0 2338.9 1105.8 2344.0 1106.5 2345.4 1107.2 2340.7 1108.0 2345.7 1108.8 2344.8 1109.5 2339.4 1110.2 2343.5 1111.0 2331.2 1111.8 2340.2 1112.5 2337.7 1113.2 2356.2 1114.0 2345.4 1114.8 2338.9 1115.5 2348.5 1116.2 2348.0 1117.0 2330.7 1117.8 2329.1 1118.5 2322.6 1119.2 2315.4 1120.0 2317.9 1120.8 2318.1 1121.5 2325.8 1122.2 2337.7 1123.0 2318.2 1123.8 2329.5 1124.5 2334.1 1125.2 2311.4 1126.0 2306.9 1126.8 2294.3 1127.5 2315.0 1128.2 2316.3 1129.0 2330.7 1129.8 2311.5 1130.5 2319.1 1131.2 2294.8 1132.0 2330.9 1132.8 2321.8 1133.5 2301.5 1134.2 2306.6 1135.0 2314.4 1135.8 2308.0 1136.5 2295.3 1137.2 2312.6 1138.0 2292.4 1138.8 2278.4 1139.5 2297.2 1140.2 2278.1 1141.0 2306.4 1141.8 2290.4 1142.5 2295.7 1143.2 2303.0 1144.0 2319.1 1144.8 2299.1 1145.5 2293.7 1146.2 2285.9 1147.0 2295.9 1147.8 2275.3 1148.5 2283.9 1149.2 2293.6 1150.0 2291.2 1150.8 2280.5 1151.5 2287.9 1152.2 2280.9 1153.0 2280.4 1153.8 2265.0 1154.5 2290.3 1155.2 2309.9 1156.0 2294.2 1156.8 2278.1 1157.5 2260.4 1158.2 2281.5 1159.0 2297.6 1159.8 2280.2 1160.5 2273.4 1161.2 2320.1 1162.0 2281.7 1162.8 2282.0 1163.5 2279.6 1164.2 2285.6 1165.0 2270.0 1165.8 2265.4 1166.5 2272.5 1167.2 2255.9 1168.0 2259.8 1168.8 2289.9 1169.5 2281.5 1170.2 2259.2 1171.0 2272.3 1171.8 2267.0 1172.5 2245.2 1173.2 2273.9 1174.0 2260.7 1174.8 2250.7 1175.5 2259.4 1176.2 2276.0 1177.0 2285.3 1177.8 2273.9 1178.5 2302.0 1179.2 2278.7 1180.0 2263.7 1180.8 2247.3 1181.5 2251.2 1182.2 2262.8 1183.0 2246.5 1183.8 2261.7 1184.5 2268.4 1185.2 2239.7 1186.0 2249.4 1186.8 2250.2 1187.5 2253.4 1188.2 2267.1 1189.0 2270.9 1189.8 2258.6 1190.5 2245.2 1191.2 2230.6 1192.0 2270.9 1192.8 2267.3 1193.5 2278.3 1194.2 2269.9 1195.0 2278.2 1195.8 2267.3 1196.5 2280.3 1197.2 2240.8 1198.0 2256.7 1198.8 2257.0 1199.5 2252.2 1200.2 2260.2 1201.0 2271.6 1201.8 2264.4 1202.5 2242.6 1203.2 2275.6 1204.0 2258.1 1204.8 2253.5 1205.5 2284.3 1206.2 2256.8 1207.0 2273.9 1207.8 2256.9 1208.5 2254.3 1209.2 2248.0 1210.0 2251.7 1210.8 2254.7 1211.5 2255.8 1212.2 2249.6 1213.0 2228.3 1213.8 2259.5 1214.5 2243.5 1215.2 2244.6 1216.0 2228.8 1216.8 2240.9 1217.5 2253.5 1218.2 2257.4 1219.0 2253.1 1219.8 2240.0 1220.5 2254.5 1221.2 2238.7 1222.0 2252.8 1222.8 2241.4 1223.5 2251.5 1224.2 2259.1 1225.0 2245.9 1225.8 2248.7 1226.5 2238.6 1227.2 2250.5 1228.0 2240.5 1228.8 2268.8 1229.5 2238.5 1230.2 2266.1 1231.0 2255.9 1231.8 2229.5 1232.5 2245.7 1233.2 2221.3 1234.0 2244.5 1234.8 2234.5 1235.5 2221.5 1236.2 2244.7 1237.0 2254.8 1237.8 2268.2 1238.5 2236.1 1239.2 2242.2 1240.0 2280.0 1240.8 2251.3 1241.5 2254.7 1242.2 2237.7 1243.0 2211.4 1243.8 2242.3 1244.5 2245.0 1245.2 2221.2 1246.0 2231.1 1246.8 2222.7 1247.5 2209.6 1248.2 2227.4 1249.0 2231.2 1249.8 2217.8 1250.5 2238.2 1251.2 2244.6 1252.0 2260.9 1252.8 2232.3 1253.5 2210.4 1254.2 2235.4 1255.0 2213.5 1255.8 2200.8 1256.5 2230.7 1257.2 2242.5 1258.0 2229.0 1258.8 2250.7 1259.5 2231.3 1260.2 2202.7 1261.0 2214.9 1261.8 2218.7 1262.5 2217.2 1263.2 2225.0 1264.0 2231.7 1264.8 2235.4 1265.5 2268.8 1266.2 2241.3 1267.0 2241.7 1267.8 2233.4 1268.5 2237.8 1269.2 2238.2 1270.0 2221.3 1270.8 2231.6 1271.5 2233.0 1272.2 2264.2 1273.0 2230.7 1273.8 2248.1 1274.5 2246.9 1275.2 2234.2 1276.0 2269.9 1276.8 2245.3 1277.5 2187.1 1278.2 2196.2 1279.0 2230.4 1279.8 2245.0 1280.5 2227.1 1281.2 2220.1 1282.0 2247.0 1282.8 2192.7 1283.5 2233.1 1284.2 2234.9 1285.0 2236.0 1285.8 2234.1 1286.5 2249.5 1287.2 2248.8 1288.0 2226.0 1288.8 2234.8 1289.5 2237.1 1290.2 2236.5 1291.0 2234.6 1291.8 2241.9 1292.5 2201.4 1293.2 2221.1 1294.0 2255.6 1294.8 2240.5 1295.5 2199.9 1296.2 2232.1 1297.0 2218.6 1297.8 2213.1 1298.5 2221.1 1299.2 2214.5 1300.0 2205.5 1300.8 2228.7 1301.5 2229.6 1302.2 2226.3 1303.0 2227.0 1303.8 2203.2 1304.5 2219.7 1305.2 2220.4 1306.0 2200.5 1306.8 2203.3 1307.5 2202.0 1308.2 2211.6 1309.0 2219.4 1309.8 2245.4 1310.5 2237.8 1311.2 2234.6 1312.0 2216.1 1312.8 2216.5 1313.5 2240.3 1314.2 2230.6 1315.0 2223.1 1315.8 2231.4 1316.5 2229.4 1317.2 2215.9 1318.0 2231.4 1318.8 2228.0 1319.5 2274.9 1320.2 2243.3 1321.0 2267.5 1321.8 2232.8 1322.5 2242.1 1323.2 2245.5 1324.0 2227.9 1324.8 2245.0 1325.5 2204.8 1326.2 2245.4 1327.0 2236.3 1327.8 2232.7 1328.5 2213.9 1329.2 2242.4 1330.0 2241.5 1330.8 2227.9 1331.5 2259.0 1332.2 2248.4 1333.0 2240.2 1333.8 2235.1 1334.5 2259.1 1335.2 2234.7 1336.0 2228.4 1336.8 2229.2 1337.5 2228.1 1338.2 2237.6 1339.0 2244.0 1339.8 2234.7 1340.5 2240.3 1341.2 2247.0 1342.0 2236.5 1342.8 2233.5 1343.5 2245.2 1344.2 2282.1 1345.0 2234.9 1345.8 2215.9 1346.5 2231.7 1347.2 2205.9 1348.0 2237.0 1348.8 2218.8 1349.5 2236.4 1350.2 2227.6 1351.0 2240.1 1351.8 2232.3 1352.5 2236.4 1353.2 2228.3 1354.0 2213.1 1354.8 2224.6 1355.5 2243.5 1356.2 2242.4 1357.0 2245.9 1357.8 2228.8 1358.5 2235.1 1359.2 2217.9 1360.0 2236.0 1360.8 2226.9 1361.5 2251.3 1362.2 2250.1 1363.0 2247.2 1363.8 2263.1 1364.5 2239.3 1365.2 2253.9 1366.0 2244.1 1366.8 2233.5 1367.5 2246.4 1368.2 2256.5 1369.0 2246.9 1369.8 2240.7 1370.5 2240.8 1371.2 2225.3 1372.0 2223.3 1372.8 2247.6 1373.5 2230.5 1374.2 2241.1 1375.0 2188.0 1375.8 2229.6 1376.5 2211.1 1377.2 2226.3 1378.0 2235.7 1378.8 2232.4 1379.5 2224.3 1380.2 2225.6 1381.0 2219.9 1381.8 2226.6 1382.5 2217.4 1383.2 2187.2 1384.0 2230.2 1384.8 2206.2 1385.5 2239.9 1386.2 2228.0 1387.0 2217.9 1387.8 2207.6 1388.5 2226.6 1389.2 2228.9 1390.0 2248.2 1390.8 2242.9 1391.5 2238.0 1392.2 2212.6 1393.0 2226.6 1393.8 2202.6 1394.5 2208.2 1395.2 2191.3 1396.0 2192.9 1396.8 2188.0 1397.5 2206.5 1398.2 2226.1 1399.0 2201.3 1399.8 2214.9 1400.5 2220.1 1401.2 2200.0 1402.0 2209.5 1402.8 2216.2 1403.5 2199.1 1404.2 2199.3 1405.0 2196.4 1405.8 2216.8 1406.5 2186.7 1407.2 2195.2 1408.0 2189.9 1408.8 2167.3 1409.5 2193.4 1410.2 2206.3 1411.0 2203.7 1411.8 2201.4 1412.5 2194.0 1413.2 2191.8 1414.0 2201.5 1414.8 2203.6 1415.5 2168.4 1416.2 2208.3 1417.0 2234.8 1417.8 2215.9 1418.5 2201.3 1419.2 2214.6 1420.0 2194.9 1420.8 2217.0 1421.5 2224.8 1422.2 2228.8 1423.0 2240.3 1423.8 2188.4 1424.5 2205.8 1425.2 2216.5 1426.0 2216.3 1426.8 2233.6 1427.5 2230.7 1428.2 2219.0 1429.0 2213.5 1429.8 2203.0 1430.5 2241.4 1431.2 2209.1 1432.0 2221.5 1432.8 2195.4 1433.5 2212.2 1434.2 2240.7 1435.0 2210.6 1435.8 2222.9 1436.5 2233.6 1437.2 2212.1 1438.0 2209.1 1438.8 2208.2 1439.5 2227.1 1440.2 2220.7 1441.0 2178.0 1441.8 2198.8 1442.5 2217.3 1443.2 2198.2 1444.0 2213.4 1444.8 2204.6 1445.5 2167.5 1446.2 2197.8 1447.0 2221.5 1447.8 2219.9 1448.5 2193.1 1449.2 2203.5 1450.0 2225.2 1450.8 2213.5 1451.5 2211.1 1452.2 2181.8 1453.0 2201.7 1453.8 2202.6 1454.5 2209.7 1455.2 2179.8 1456.0 2191.3 1456.8 2194.6 1457.5 2195.1 1458.2 2202.5 1459.0 2180.2 1459.8 2216.6 1460.5 2195.0 1461.2 2223.6 1462.0 2196.6 1462.8 2209.6 1463.5 2199.0 1464.2 2186.2 1465.0 2207.3 1465.8 2210.7 1466.5 2222.4 1467.2 2201.3 1468.0 2218.7 1468.8 2206.2 1469.5 2208.8 1470.2 2211.4 1471.0 2202.3 1471.8 2212.8 1472.5 2182.3 1473.2 2172.6 1474.0 2182.1 1474.8 2186.8 1475.5 2188.8 1476.2 2203.4 1477.0 2181.8 1477.8 2173.7 1478.5 2171.3 1479.2 2191.5 1480.0 2182.6 1480.8 2177.7 1481.5 2181.7 1482.2 2220.7 1483.0 2182.7 1483.8 2213.2 1484.5 2208.1 1485.2 2227.5 1486.0 2223.7 1486.8 2207.5 1487.5 2186.3 1488.2 2209.9 1489.0 2197.6 1489.8 2192.2 1490.5 2199.2 1491.2 2178.7 1492.0 2206.8 1492.8 2176.1 1493.5 2171.0 1494.2 2196.8 1495.0 2199.3 1495.8 2191.7 1496.5 2182.4 1497.2 2170.3 1498.0 2176.9 1498.8 2179.7 1499.5 2169.1 1500.2 2184.4 1501.0 2208.5 1501.8 2189.8 1502.5 2167.0 1503.2 2177.9 1504.0 2189.9 1504.8 2209.9 1505.5 2189.9 1506.2 2189.8 1507.0 2192.7 1507.8 2199.7 1508.5 2178.5 1509.2 2178.5 1510.0 2183.0 1510.8 2191.7 1511.5 2186.5 1512.2 2188.6 1513.0 2181.0 1513.8 2178.7 1514.5 2201.2 1515.2 2185.3 1516.0 2189.3 1516.8 2181.6 1517.5 2183.4 1518.2 2167.2 1519.0 2151.7 1519.8 2192.0 1520.5 2183.2 1521.2 2165.2 1522.0 2175.6 1522.8 2191.0 1523.5 2187.7 1524.2 2214.2 1525.0 2190.3 1525.8 2193.4 1526.5 2181.8 1527.2 2170.2 1528.0 2195.3 1528.8 2170.4 1529.5 2193.1 1530.2 2192.0 1531.0 2188.8 1531.8 2158.8 1532.5 2178.8 1533.2 2166.3 1534.0 2174.6 1534.8 2158.7 1535.5 2167.7 1536.2 2171.5 1537.0 2173.5 1537.8 2171.8 1538.5 2176.7 1539.2 2164.2 1540.0 2179.3 1540.8 2197.5 1541.5 2180.0 1542.2 2194.4 1543.0 2214.0 1543.8 2190.8 1544.5 2197.6 1545.2 2190.5 1546.0 2164.3 1546.8 2179.1 1547.5 2186.8 1548.2 2173.4 1549.0 2132.9 1549.8 2166.3 1550.5 2173.8 1551.2 2153.4 1552.0 2176.6 1552.8 2176.5 1553.5 2190.3 1554.2 2183.0 1555.0 2164.0 1555.8 2215.2 1556.5 2130.5 1557.2 2158.7 1558.0 2163.9 1558.8 2171.0 1559.5 2234.9 1560.2 2205.0 1561.0 2182.8 1561.8 2189.8 1562.5 2179.0 1563.2 2156.0 1564.0 2164.4 1564.8 2176.9 1565.5 2154.6 1566.2 2174.3 1567.0 2177.8 1567.8 2162.3 1568.5 2178.7 1569.2 2186.4 1570.0 2193.5 1570.8 2164.9 1571.5 2197.9 1572.2 2172.0 1573.0 2191.5 1573.8 2167.7 1574.5 2174.5 1575.2 2208.6 1576.0 2196.6 1576.8 2200.4 1577.5 2179.8 1578.2 2179.4 1579.0 2195.7 1579.8 2193.1 1580.5 2172.6 1581.2 2165.7 1582.0 2165.6 1582.8 2191.0 1583.5 2186.6 1584.2 2174.4 1585.0 2184.4 1585.8 2191.8 1586.5 2174.5 1587.2 2171.8 1588.0 2164.9 1588.8 2171.7 1589.5 2181.0 1590.2 2165.6 1591.0 2164.2 1591.8 2162.8 1592.5 2158.2 1593.2 2138.9 1594.0 2162.5 1594.8 2176.3 1595.5 2191.6 1596.2 2182.6 1597.0 2200.1 1597.8 2188.8 1598.5 2194.5 1599.2 2199.2 1600.0 2200.3 1600.8 2200.6 1601.5 2188.3 1602.2 2194.0 1603.0 2183.7 1603.8 2177.3 1604.5 2145.9 1605.2 2190.9 1606.0 2176.9 1606.8 2179.9 1607.5 2182.2 1608.2 2181.5 1609.0 2234.5 1609.8 2195.7 1610.5 2190.6 1611.2 2201.9 1612.0 2198.2 1612.8 2210.2 1613.5 2160.7 1614.2 2201.2 1615.0 2199.4 1615.8 2177.8 1616.5 2210.6 1617.2 2197.3 1618.0 2201.4 1618.8 2192.3 1619.5 2202.7 1620.2 2202.9 1621.0 2195.8 1621.8 2170.0 1622.5 2218.0 1623.2 2185.3 1624.0 2209.9 1624.8 2200.4 1625.5 2200.7 1626.2 2175.9 1627.0 2182.0 1627.8 2187.4 1628.5 2208.6 1629.2 2214.9 1630.0 2211.2 1630.8 2182.8 1631.5 2188.7 1632.2 2206.6 1633.0 2222.3 1633.8 2193.6 1634.5 2220.5 1635.2 2196.1 1636.0 2187.8 1636.8 2182.2 1637.5 2203.9 1638.2 2214.6 1639.0 2230.1 1639.8 2211.0 1640.5 2215.1 1641.2 2202.1 1642.0 2211.1 1642.8 2216.5 1643.5 2223.0 1644.2 2241.0 1645.0 2222.4 1645.8 2223.0 1646.5 2209.1 1647.2 2223.0 1648.0 2232.7 1648.8 2219.7 1649.5 2261.6 1650.2 2197.6 1651.0 2210.1 1651.8 2226.2 1652.5 2231.3 1653.2 2221.3 1654.0 2195.5 1654.8 2191.4 1655.5 2236.5 1656.2 2211.2 1657.0 2199.0 1657.8 2201.6 1658.5 2194.7 1659.2 2206.8 1660.0 2184.8 1660.8 2197.2 1661.5 2219.8 1662.2 2221.4 1663.0 2197.0 1663.8 2220.8 1664.5 2222.0 1665.2 2236.4 1666.0 2207.7 1666.8 2227.1 1667.5 2261.8 1668.2 2236.9 1669.0 2241.5 1669.8 2253.8 1670.5 2253.1 1671.2 2237.9 1672.0 2228.4 1672.8 2230.2 1673.5 2237.9 1674.2 2224.6 1675.0 2244.3 1675.8 2224.4 1676.5 2213.8 1677.2 2209.3 1678.0 2278.6 1678.8 2219.7 1679.5 2220.0 1680.2 2226.8 1681.0 2228.7 1681.8 2242.6 1682.5 2221.8 1683.2 2231.5 1684.0 2225.9 1684.8 2233.4 1685.5 2256.0 1686.2 2229.9 1687.0 2258.0 1687.8 2238.0 1688.5 2243.0 1689.2 2197.4 1690.0 2249.5 1690.8 2264.1 1691.5 2231.5 1692.2 2225.8 1693.0 2251.5 1693.8 2229.7 1694.5 2212.5 1695.2 2230.4 1696.0 2252.8 1696.8 2243.5 1697.5 2243.1 1698.2 2238.2 1699.0 2251.4 1699.8 2251.6 1700.5 2258.3 1701.2 2230.1 1702.0 2234.0 1702.8 2238.6 1703.5 2228.3 1704.2 2216.2 1705.0 2186.2 1705.8 2237.3 1706.5 2220.9 1707.2 2237.1 1708.0 2257.5 1708.8 2247.5 1709.5 2250.3 1710.2 2241.4 1711.0 2257.8 1711.8 2232.4 1712.5 2251.2 1713.2 2251.0 1714.0 2244.7 1714.8 2230.3 1715.5 2236.6 1716.2 2227.7 1717.0 2239.5 1717.8 2218.8 1718.5 2220.3 1719.2 2224.6 1720.0 2217.6 1720.8 2255.4 1721.5 2218.5 1722.2 2220.9 1723.0 2202.9 1723.8 2214.6 1724.5 2218.1 1725.2 2202.3 1726.0 2234.3 1726.8 2204.7 1727.5 2224.9 1728.2 2221.2 1729.0 2223.8 1729.8 2223.0 1730.5 2224.7 1731.2 2218.0 1732.0 2243.9 1732.8 2237.6 1733.5 2225.8 1734.2 2219.4 1735.0 2229.7 1735.8 2217.4 1736.5 2235.0 1737.2 2251.4 1738.0 2234.3 1738.8 2241.3 1739.5 2175.5 1740.2 2211.2 1741.0 2186.6 1741.8 2216.9 1742.5 2241.4 1743.2 2211.8 1744.0 2204.5 1744.8 2234.4 1745.5 2259.8 1746.2 2229.9 1747.0 2236.3 1747.8 2218.3 1748.5 2242.8 1749.2 2232.4 1750.0 2233.8 1750.8 2241.1 1751.5 2211.4 1752.2 2239.2 1753.0 2246.3 1753.8 2218.1 1754.5 2215.0 1755.2 2213.3 1756.0 2190.3 1756.8 2218.2 1757.5 2186.6 1758.2 2211.7 1759.0 2243.7 1759.8 2230.9 1760.5 2236.2 1761.2 2228.1 1762.0 2224.6 1762.8 2226.8 1763.5 2235.9 1764.2 2233.6 1765.0 2221.5 1765.8 2174.8 1766.5 2228.9 1767.2 2226.1 1768.0 2198.1 1768.8 2195.7 1769.5 2199.0 1770.2 2193.5 1771.0 2195.7 1771.8 2201.7 1772.5 2195.5 1773.2 2190.5 1774.0 2214.7 1774.8 2203.3 1775.5 2214.6 1776.2 2209.3 1777.0 2189.0 1777.8 2216.5 1778.5 2226.3 1779.2 2224.4 1780.0 2206.0 1780.8 2224.7 1781.5 2242.6 1782.2 2217.8 1783.0 2227.3 1783.8 2214.1 1784.5 2235.5 1785.2 2222.7 1786.0 2233.9 1786.8 2215.6 1787.5 2222.7 1788.2 2220.0 1789.0 2243.6 1789.8 2192.2 1790.5 2267.9 1791.2 2244.0 1792.0 2223.5 1792.8 2232.4 1793.5 2213.5 1794.2 2216.7 1795.0 2238.9 1795.8 2198.1 1796.5 2234.0 1797.2 2230.7 1798.0 2222.0 1798.8 2208.7 1799.5 2209.7 1800.2 2220.1 1801.0 2225.2 1801.8 2213.0 1802.5 2216.1 1803.2 2229.5 1804.0 2209.9 1804.8 2226.0 1805.5 2204.8 1806.2 2195.9 1807.0 2182.4 1807.8 2218.2 1808.5 2204.0 1809.2 2237.0 1810.0 2179.4 1810.8 2212.1 1811.5 2211.1 1812.2 2216.1 1813.0 2211.3 1813.8 2225.0 1814.5 2233.2 1815.2 2220.0 1816.0 2237.5 1816.8 2236.8 1817.5 2244.6 1818.2 2245.7 1819.0 2224.4 1819.8 2225.8 1820.5 2179.4 1821.2 2207.8 1822.0 2211.0 1822.8 2203.1 1823.5 2191.8 1824.2 2180.5 1825.0 2214.2 1825.8 2222.8 1826.5 2222.8 1827.2 2210.1 1828.0 2240.9 1828.8 2234.9 1829.5 2245.5 1830.2 2171.4 1831.0 2220.4 1831.8 2230.2 1832.5 2225.7 1833.2 2216.2 1834.0 2227.1 1834.8 2215.1 1835.5 2223.2 1836.2 2227.0 1837.0 2203.2 1837.8 2203.1 1838.5 2211.9 1839.2 2214.3 1840.0 2220.4 1840.8 2204.5 1841.5 2190.8 1842.2 2191.7 1843.0 2208.7 1843.8 2221.5 1844.5 2221.3 1845.2 2210.0 1846.0 2210.3 1846.8 2244.1 1847.5 2199.5 1848.2 2195.9 1849.0 2217.2 1849.8 2220.2 1850.5 2203.1 1851.2 2213.5 1852.0 2202.6 1852.8 2225.4 1853.5 2211.6 1854.2 2216.1 1855.0 2222.0 1855.8 2214.7 1856.5 2212.8 1857.2 2236.8 1858.0 2244.3 1858.8 2241.4 1859.5 2219.1 1860.2 2237.9 1861.0 2217.1 1861.8 2231.3 1862.5 2260.9 1863.2 2213.9 1864.0 2240.4 1864.8 2227.8 1865.5 2260.1 1866.2 2224.5 1867.0 2239.4 1867.8 2223.3 1868.5 2247.7 1869.2 2223.4 1870.0 2257.2 1870.8 2225.4 1871.5 2238.1 1872.2 2230.2 1873.0 2218.1 1873.8 2250.8 1874.5 2248.6 1875.2 2240.3 1876.0 2216.4 1876.8 2232.8 1877.5 2221.9 1878.2 2232.8 1879.0 2238.7 1879.8 2228.8 1880.5 2242.3 1881.2 2245.9 1882.0 2223.7 1882.8 2221.2 1883.5 2206.2 1884.2 2203.3 1885.0 2186.3 1885.8 2196.6 1886.5 2205.8 1887.2 2158.7 1888.0 2199.2 1888.8 2210.6 1889.5 2208.7 1890.2 2229.5 1891.0 2175.2 1891.8 2208.9 1892.5 2232.9 1893.2 2217.1 1894.0 2217.7 1894.8 2224.1 1895.5 2214.2 1896.2 2212.8 1897.0 2187.6 1897.8 2220.1 1898.5 2197.9 1899.2 2218.2 1900.0 2232.2 1900.8 2214.4 1901.5 2214.2 1902.2 2210.3 1903.0 2206.3 1903.8 2212.7 1904.5 2209.5 1905.2 2240.9 1906.0 2218.0 1906.8 2219.1 1907.5 2212.5 1908.2 2171.0 1909.0 2203.7 1909.8 2214.7 1910.5 2186.4 1911.2 2195.7 1912.0 2211.0 1912.8 2231.2 1913.5 2170.1 1914.2 2169.9 1915.0 2229.2 1915.8 2212.9 1916.5 2205.4 1917.2 2222.7 1918.0 2238.7 1918.8 2221.1 1919.5 2216.3 1920.2 2231.1 1921.0 2224.5 1921.8 2227.6 1922.5 2214.0 1923.2 2192.6 1924.0 2187.6 1924.8 2193.9 1925.5 2187.4 1926.2 2187.7 1927.0 2196.4 1927.8 2174.3 1928.5 2191.3 1929.2 2185.2 1930.0 2199.7 1930.8 2190.5 1931.5 2222.3 1932.2 2255.2 1933.0 2191.4 1933.8 2233.0 1934.5 2237.3 1935.2 2213.6 1936.0 2232.2 1936.8 2188.6 1937.5 2174.5 1938.2 2207.3 1939.0 2187.1 1939.8 2207.3 1940.5 2180.8 1941.2 2182.7 1942.0 2224.3 1942.8 2213.4 1943.5 2199.5 1944.2 2182.9 1945.0 2189.0 1945.8 2142.3 1946.5 2172.8 1947.2 2204.2 1948.0 2204.0 1948.8 2203.3 1949.5 2185.6 1950.2 2194.9 1951.0 2201.9 1951.8 2190.9 1952.5 2161.5 1953.2 2183.3 1954.0 2177.3 1954.8 2177.0 1955.5 2160.7 1956.2 2176.5 1957.0 2191.6 1957.8 2168.5 1958.5 2185.0 1959.2 2168.3 1960.0 2199.2 1960.8 2227.5 1961.5 2210.1 1962.2 2199.7 1963.0 2220.0 1963.8 2216.2 1964.5 2213.5 1965.2 2192.0 1966.0 2198.8 1966.8 2209.4 1967.5 2155.7 1968.2 2213.0 1969.0 2203.8 1969.8 2211.4 1970.5 2198.8 1971.2 2198.3 1972.0 2196.9 1972.8 2200.5 1973.5 2204.6 1974.2 2169.9 1975.0 2189.6 1975.8 2193.0 1976.5 2163.5 1977.2 2190.1 1978.0 2134.0 1978.8 2159.5 1979.5 2180.6 1980.2 2157.8 1981.0 2181.7 1981.8 2176.6 1982.5 2174.1 1983.2 2173.4 1984.0 2167.0 1984.8 2160.2 1985.5 2186.9 1986.2 2200.9 1987.0 2176.8 1987.8 2179.1 1988.5 2167.9 1989.2 2163.3 1990.0 2167.2 1990.8 2150.3 1991.5 2186.1 1992.2 2190.8 1993.0 2191.0 1993.8 2158.3 1994.5 2170.9 1995.2 2156.1 1996.0 2166.6 1996.8 2175.9 1997.5 2184.6 1998.2 2192.1 1999.0 2150.6 1999.8 2192.0 2000.5 2173.9 2001.2 2167.4 2002.0 2150.7 2002.8 2211.2 2003.5 2161.1 2004.2 2186.5 2005.0 2166.2 2005.8 2170.0 2006.5 2185.2 2007.2 2172.9 2008.0 2169.3 2008.8 2161.2 2009.5 2161.6 2010.2 2137.3 2011.0 2162.7 2011.8 2161.8 2012.5 2159.3 2013.2 2143.0 2014.0 2162.3 2014.8 2162.8 2015.5 2172.9 2016.2 2166.5 2017.0 2161.3 2017.8 2153.1 2018.5 2126.9 2019.2 2152.6 2020.0 2151.2 2020.8 2149.8 2021.5 2147.5 2022.2 2167.5 2023.0 2164.1 2023.8 2171.4 2024.5 2163.2 2025.2 2157.9 2026.0 2143.7 2026.8 2159.8 2027.5 2156.2 2028.2 2157.5 2029.0 2165.3 2029.8 2154.9 2030.5 2154.6 2031.2 2185.8 2032.0 2148.9 2032.8 2127.5 2033.5 2144.4 2034.2 2171.7 2035.0 2162.0 2035.8 2177.6 2036.5 2165.4 2037.2 2152.5 2038.0 2163.1 2038.8 2146.6 2039.5 2164.9 2040.2 2143.5 2041.0 2132.0 2041.8 2200.2 2042.5 2161.3 2043.2 2174.6 2044.0 2167.4 2044.8 2163.7 2045.5 2169.4 2046.2 2151.6 2047.0 2165.4 2047.8 2154.3 2048.5 2138.8 2049.2 2166.7 2050.0 2132.0 2050.8 2142.6 2051.5 2138.3 2052.2 2148.4 2053.0 2113.0 2053.8 2139.1 2054.5 2151.1 2055.2 2159.6 2056.0 2131.2 2056.8 2156.9 2057.5 2177.3 2058.2 2160.7 2059.0 2147.0 2059.8 2143.3 2060.5 2138.1 2061.2 2154.2 2062.0 2156.1 2062.8 2143.5 2063.5 2172.3 2064.2 2163.5 2065.0 2153.2 2065.8 2147.2 2066.5 2134.8 2067.2 2120.0 2068.0 2127.8 2068.8 2126.4 2069.5 2124.5 2070.2 2140.7 2071.0 2130.5 2071.8 2142.4 2072.5 2136.5 2073.2 2146.4 2074.0 2155.7 2074.8 2159.6 2075.5 2170.0 2076.2 2155.7 2077.0 2142.8 2077.8 2119.3 2078.5 2146.1 2079.2 2137.0 2080.0 2131.6 2080.8 2134.6 2081.5 2128.4 2082.2 2105.4 2083.0 2145.9 2083.8 2106.6 2084.5 2089.3 2085.2 2114.7 2086.0 2100.7 2086.8 2138.5 2087.5 2122.3 2088.2 2155.8 2089.0 2133.9 2089.8 2115.2 2090.5 2127.2 2091.2 2156.4 2092.0 2147.5 2092.8 2152.4 2093.5 2140.8 2094.2 2141.6 2095.0 2113.1 2095.8 2139.9 2096.5 2133.4 2097.2 2148.2 2098.0 2146.8 2098.8 2140.6 2099.5 2118.0 2100.2 2164.1 2101.0 2107.8 2101.8 2129.4 2102.5 2139.7 2103.2 2138.6 2104.0 2133.6 2104.8 2130.2 2105.5 2137.2 2106.2 2117.3 2107.0 2111.2 2107.8 2133.5 2108.5 2123.9 2109.2 2091.1 2110.0 2127.6 2110.8 2121.5 2111.5 2119.3 2112.2 2131.4 2113.0 2139.9 2113.8 2114.8 2114.5 2097.0 2115.2 2087.2 2116.0 2103.5 2116.8 2093.0 2117.5 2101.3 2118.2 2091.6 2119.0 2126.1 2119.8 2082.3 2120.5 2108.9 2121.2 2093.5 2122.0 2123.6 2122.8 2131.8 2123.5 2145.1 2124.2 2093.9 2125.0 2104.6 2125.8 2126.0 2126.5 2116.2 2127.2 2115.8 2128.0 2103.9 2128.8 2085.3 2129.5 2113.0 2130.2 2111.2 2131.0 2128.1 2131.8 2101.9 2132.5 2097.0 2133.2 2134.7 2134.0 2108.1 2134.8 2109.8 2135.5 2120.9 2136.2 2109.3 2137.0 2107.3 2137.8 2119.4 2138.5 2097.0 2139.2 2085.0 2140.0 2091.8 2140.8 2124.9 2141.5 2108.3 2142.2 2157.8 2143.0 2117.3 2143.8 2124.9 2144.5 2092.5 2145.2 2112.6 2146.0 2073.3 2146.8 2095.3 2147.5 2092.2 2148.2 2104.1 2149.0 2104.0 2149.8 2116.8 2150.5 2108.2 2151.2 2129.3 2152.0 2124.4 2152.8 2115.6 2153.5 2140.1 2154.2 2126.2 2155.0 2119.7 2155.8 2106.7 2156.5 2128.1 2157.2 2143.8 2158.0 2104.4 2158.8 2091.9 2159.5 2121.9 2160.2 2122.2 2161.0 2125.4 2161.8 2118.4 2162.5 2103.5 2163.2 2104.6 2164.0 2089.6 2164.8 2099.6 2165.5 2094.3 2166.2 2095.9 2167.0 2111.9 2167.8 2091.8 2168.5 2086.1 2169.2 2071.7 2170.0 2097.1 2170.8 2128.8 2171.5 2065.4 2172.2 2074.8 2173.0 2121.3 2173.8 2093.0 2174.5 2074.3 2175.2 2072.8 2176.0 2079.7 2176.8 2083.2 2177.5 2043.3 2178.2 2070.5 2179.0 2077.8 2179.8 2076.3 2180.5 2055.9 2181.2 2053.4 2182.0 2062.3 2182.8 2057.1 2183.5 2054.3 2184.2 2081.6 2185.0 2059.0 2185.8 2073.7 2186.5 2079.0 2187.2 2068.7 2188.0 2073.2 2188.8 2082.5 2189.5 2068.5 2190.2 2126.4 2191.0 2106.3 2191.8 2076.0 2192.5 2099.2 2193.2 2073.7 2194.0 2078.2 2194.8 2056.1 2195.5 2083.7" stroke="#ff0000" stroke-width="5.0" fill="none" stroke-linejoin="round"/>
<path d="M259.0 2851.0 259.8 2843.1 260.5 2851.7 261.2 2853.0 262.0 2854.7 262.8 2860.2 263.5 2828.7 264.2 2846.3 265.0 2850.0 265.8 2844.6 266.5 2834.9 267.2 2838.8 268.0 2839.8 268.8 2838.2 269.5 2835.0 270.2 2834.8 271.0 2838.9 271.8 2837.1 272.5 2846.2 273.2 2848.3 274.0 2846.1 274.8 2838.2 275.5 2853.0 276.2 2842.8 277.0 2845.2 277.8 2853.4 278.5 2851.1 279.2 2847.7 280.0 2850.3 280.8 2851.3 281.5 2849.9 282.2 2859.9 283.0 2848.2 283.8 2836.7 284.5 2857.3 285.2 2848.9 286.0 2848.5 286.8 2853.9 287.5 2851.8 288.2 2849.0 289.0 2853.2 289.8 2836.5 290.5 2846.2 291.2 2866.3 292.0 2868.1 292.8 2874.1 293.5 2853.8 294.2 2849.8 295.0 2843.3 295.8 2849.6 296.5 2845.8 297.2 2847.3 298.0 2832.7 298.8 2838.3 299.5 2841.9 300.2 2836.8 301.0 2847.8 301.8 2840.3 302.5 2844.0 303.2 2857.2 304.0 2844.4 304.8 2849.9 305.5 2849.4 306.2 2855.7 307.0 2858.2 307.8 2855.2 308.5 2856.8 309.2 2847.9 310.0 2858.3 310.8 2838.3 311.5 2840.1 312.2 2820.6 313.0 2840.3 313.8 2835.1 314.5 2834.3 315.2 2844.8 316.0 2839.1 316.8 2855.3 317.5 2858.1 318.2 2857.8 319.0 2840.7 319.8 2847.3 320.5 2850.6 321.2 2834.3 322.0 2847.7 322.8 2857.7 323.5 2863.2 324.2 2854.2 325.0 2857.8 325.8 2861.2 326.5 2843.4 327.2 2841.1 328.0 2850.2 328.8 2837.9 329.5 2858.3 330.2 2856.4 331.0 2860.6 331.8 2855.6 332.5 2862.0 333.2 2859.7 334.0 2870.9 334.8 2855.1 335.5 2864.2 336.2 2850.4 337.0 2849.7 337.8 2855.1 338.5 2853.4 339.2 2861.4 340.0 2858.8 340.8 2856.2 341.5 2871.4 342.2 2849.2 343.0 2842.3 343.8 2855.1 344.5 2855.4 345.2 2848.0 346.0 2855.8 346.8 2838.2 347.5 2847.5 348.2 2849.5 349.0 2852.4 349.8 2855.5 350.5 2858.7 351.2 2855.3 352.0 2837.7 352.8 2849.7 353.5 2841.0 354.2 2846.2 355.0 2846.0 355.8 2861.5 356.5 2849.6 357.2 2841.2 358.0 2850.8 358.8 2838.5 359.5 2858.9 360.2 2861.3 361.0 2855.7 361.8 2861.3 362.5 2854.7 363.2 2877.8 364.0 2848.7 364.8 2848.5 365.5 2856.2 366.2 2845.1 367.0 2848.6 367.8 2839.9 368.5 2865.1 369.2 2849.7 370.0 2848.4 370.8 2850.3 371.5 2850.6 372.2 2847.2 373.0 2851.3 373.8 2850.0 374.5 2838.2 375.2 2848.6 376.0 2830.3 376.8 2843.4 377.5 2848.0 378.2 2833.2 379.0 2854.4 379.8 2843.8 380.5 2868.8 381.2 2839.5 382.0 2855.8 382.8 2844.7 383.5 2857.8 384.2 2844.8 385.0 2849.8 385.8 2853.6 386.5 2856.9 387.2 2854.4 388.0 2857.3 388.8 2857.8 389.5 2854.1 390.2 2855.5 391.0 2859.4 391.8 2849.9 392.5 2855.5 393.2 2856.5 394.0 2848.2 394.8 2854.8 395.5 2846.6 396.2 2846.4 397.0 2850.2 397.8 2846.4 398.5 2852.1 399.2 2852.1 400.0 2852.1 400.8 2834.6 401.5 2853.0 402.2 2852.0 403.0 2850.1 403.8 2841.2 404.5 2848.9 405.2 2844.9 406.0 2844.0 406.8 2852.2 407.5 2856.2 408.2 2865.1 409.0 2863.0 409.8 2858.4 410.5 2845.7 411.2 2844.3 412.0 2866.4 412.8 2862.0 413.5 2859.9 414.2 2865.1 415.0 2861.1 415.8 2861.9 416.5 2856.2 417.2 2867.5 418.0 2851.8 418.8 2863.4 419.5 2854.0 420.2 2854.2 421.0 2866.3 421.8 2862.3 422.5 2852.3 423.2 2862.7 424.0 2858.1 424.8 2854.2 425.5 2852.9 426.2 2862.4 427.0 2862.9 427.8 2858.1 428.5 2836.0 429.2 2851.9 430.0 2861.7 430.8 2851.7 431.5 2860.1 432.2 2851.8 433.0 2838.9 433.8 2867.5 434.5 2857.3 435.2 2855.6 436.0 2862.0 436.8 2866.9 437.5 2850.1 438.2 2861.7 439.0 2851.4 439.8 2857.2 440.5 2849.5 441.2 2860.5 442.0 2841.6 442.8 2856.8 443.5 2862.0 444.2 2858.1 445.0 2854.2 445.8 2853.5 446.5 2860.5 447.2 2866.2 448.0 2852.2 448.8 2846.9 449.5 2863.1 450.2 2848.8 451.0 2850.9 451.8 2851.5 452.5 2851.0 453.2 2832.0 454.0 2851.9 454.8 2838.4 455.5 2840.0 456.2 2828.7 457.0 2838.0 457.8 2857.0 458.5 2835.7 459.2 2846.3 460.0 2840.2 460.8 2836.9 461.5 2847.5 462.2 2839.9 463.0 2833.0 463.8 2841.2 464.5 2841.0 465.2 2845.5 466.0 2841.2 466.8 2832.2 467.5 2866.1 468.2 2838.5 469.0 2838.0 469.8 2834.2 470.5 2828.1 471.2 2837.3 472.0 2849.1 472.8 2838.8 473.5 2833.7 474.2 2848.3 475.0 2860.0 475.8 2861.9 476.5 2848.8 477.2 2839.9 478.0 2844.2 478.8 2844.2 479.5 2843.8 480.2 2837.4 481.0 2824.7 481.8 2835.9 482.5 2830.8 483.2 2830.2 484.0 2829.9 484.8 2830.5 485.5 2843.5 486.2 2841.1 487.0 2842.2 487.8 2848.5 488.5 2848.7 489.2 2850.0 490.0 2834.3 490.8 2842.4 491.5 2847.7 492.2 2838.5 493.0 2855.0 493.8 2852.0 494.5 2843.9 495.2 2845.3 496.0 2847.9 496.8 2842.0 497.5 2850.2 498.2 2855.3 499.0 2853.5 499.8 2841.0 500.5 2850.6 501.2 2836.7 502.0 2839.4 502.8 2841.2 503.5 2825.7 504.2 2841.8 505.0 2839.0 505.8 2832.9 506.5 2843.0 507.2 2848.7 508.0 2849.4 508.8 2841.6 509.5 2838.0 510.2 2844.2 511.0 2842.2 511.8 2842.8 512.5 2837.9 513.2 2840.4 514.0 2826.8 514.8 2842.7 515.5 2836.9 516.2 2821.0 517.0 2832.0 517.8 2841.4 518.5 2832.7 519.2 2842.8 520.0 2829.0 520.8 2839.6 521.5 2817.7 522.2 2827.8 523.0 2821.8 523.8 2842.3 524.5 2830.2 525.2 2828.8 526.0 2826.5 526.8 2822.5 527.5 2834.8 528.2 2850.2 529.0 2850.7 529.8 2839.6 530.5 2815.4 531.2 2837.7 532.0 2845.5 532.8 2847.8 533.5 2851.0 534.2 2850.2 535.0 2852.8 535.8 2851.9 536.5 2842.5 537.2 2846.8 538.0 2857.4 538.8 2843.1 539.5 2852.3 540.2 2853.8 541.0 2848.8 541.8 2840.6 542.5 2845.6 543.2 2850.9 544.0 2832.3 544.8 2836.0 545.5 2852.5 546.2 2853.7 547.0 2836.8 547.8 2846.2 548.5 2841.0 549.2 2837.4 550.0 2836.0 550.8 2819.9 551.5 2831.0 552.2 2827.1 553.0 2824.7 553.8 2825.1 554.5 2838.4 555.2 2815.4 556.0 2813.8 556.8 2828.1 557.5 2827.3 558.2 2826.9 559.0 2829.7 559.8 2824.4 560.5 2829.6 561.2 2822.3 562.0 2831.9 562.8 2813.2 563.5 2832.7 564.2 2829.6 565.0 2830.7 565.8 2833.3 566.5 2819.6 567.2 2834.2 568.0 2839.4 568.8 2830.0 569.5 2835.9 570.2 2837.8 571.0 2824.2 571.8 2828.0 572.5 2826.3 573.2 2830.7 574.0 2838.7 574.8 2826.6 575.5 2837.9 576.2 2841.3 577.0 2819.6 577.8 2828.5 578.5 2819.3 579.2 2820.4 580.0 2821.1 580.8 2822.4 581.5 2832.7 582.2 2821.5 583.0 2834.6 583.8 2835.8 584.5 2810.5 585.2 2824.7 586.0 2835.4 586.8 2821.2 587.5 2818.2 588.2 2813.3 589.0 2821.2 589.8 2833.0 590.5 2822.1 591.2 2808.8 592.0 2837.5 592.8 2823.2 593.5 2823.5 594.2 2824.7 595.0 2829.2 595.8 2837.9 596.5 2824.4 597.2 2825.9 598.0 2821.1 598.8 2809.3 599.5 2802.7 600.2 2823.8 601.0 2820.6 601.8 2825.2 602.5 2816.2 603.2 2826.0 604.0 2823.5 604.8 2823.5 605.5 2816.3 606.2 2805.8 607.0 2851.9 607.8 2817.0 608.5 2828.6 609.2 2831.2 610.0 2838.7 610.8 2818.1 611.5 2834.7 612.2 2821.5 613.0 2829.1 613.8 2827.4 614.5 2828.4 615.2 2823.7 616.0 2818.2 616.8 2835.2 617.5 2802.9 618.2 2819.4 619.0 2813.8 619.8 2822.7 620.5 2822.0 621.2 2806.8 622.0 2818.2 622.8 2827.5 623.5 2822.9 624.2 2834.7 625.0 2822.8 625.8 2819.6 626.5 2821.1 627.2 2827.9 628.0 2828.0 628.8 2827.2 629.5 2824.3 630.2 2831.4 631.0 2819.4 631.8 2812.6 632.5 2821.4 633.2 2815.6 634.0 2828.7 634.8 2815.9 635.5 2835.6 636.2 2818.6 637.0 2815.4 637.8 2827.6 638.5 2822.6 639.2 2824.9 640.0 2819.4 640.8 2818.8 641.5 2813.2 642.2 2807.4 643.0 2818.9 643.8 2820.8 644.5 2816.3 645.2 2808.0 646.0 2804.9 646.8 2814.3 647.5 2818.6 648.2 2813.6 649.0 2830.8 649.8 2804.1 650.5 2796.5 651.2 2810.2 652.0 2804.7 652.8 2817.6 653.5 2805.2 654.2 2805.3 655.0 2807.3 655.8 2831.9 656.5 2819.7 657.2 2814.4 658.0 2807.5 658.8 2816.7 659.5 2818.4 660.2 2821.6 661.0 2810.9 661.8 2796.2 662.5 2805.1 663.2 2809.3 664.0 2813.1 664.8 2818.7 665.5 2812.7 666.2 2798.3 667.0 2789.6 667.8 2791.2 668.5 2796.1 669.2 2800.2 670.0 2808.2 670.8 2795.3 671.5 2810.1 672.2 2806.1 673.0 2786.5 673.8 2817.2 674.5 2798.2 675.2 2809.1 676.0 2815.8 676.8 2790.0 677.5 2798.3 678.2 2802.4 679.0 2799.6 679.8 2789.9 680.5 2793.5 681.2 2798.8 682.0 2803.5 682.8 2804.6 683.5 2782.6 684.2 2786.4 685.0 2792.9 685.8 2784.3 686.5 2781.8 687.2 2793.4 688.0 2775.4 688.8 2798.6 689.5 2788.2 690.2 2794.3 691.0 2793.8 691.8 2788.6 692.5 2782.2 693.2 2789.6 694.0 2770.4 694.8 2785.0 695.5 2793.0 696.2 2775.7 697.0 2794.1 697.8 2814.7 698.5 2785.9 699.2 2805.5 700.0 2793.9 700.8 2800.6 701.5 2774.6 702.2 2789.4 703.0 2789.0 703.8 2798.4 704.5 2801.9 705.2 2796.3 706.0 2780.8 706.8 2784.3 707.5 2772.5 708.2 2784.3 709.0 2780.2 709.8 2775.6 710.5 2784.4 711.2 2782.2 712.0 2770.4 712.8 2778.8 713.5 2778.5 714.2 2786.2 715.0 2778.2 715.8 2793.2 716.5 2798.6 717.2 2803.4 718.0 2791.9 718.8 2785.5 719.5 2785.9 720.2 2792.5 721.0 2801.4 721.8 2794.4 722.5 2786.8 723.2 2793.1 724.0 2803.9 724.8 2795.1 725.5 2789.9 726.2 2790.5 727.0 2784.3 727.8 2781.3 728.5 2769.7 729.2 2779.4 730.0 2769.7 730.8 2775.4 731.5 2786.6 732.2 2779.6 733.0 2782.3 733.8 2778.9 734.5 2780.1 735.2 2777.0 736.0 2785.5 736.8 2789.6 737.5 2787.6 738.2 2785.4 739.0 2786.9 739.8 2779.4 740.5 2780.2 741.2 2783.8 742.0 2778.6 742.8 2781.8 743.5 2803.3 744.2 2774.3 745.0 2781.5 745.8 2772.4 746.5 2790.0 747.2 2786.7 748.0 2790.2 748.8 2783.9 749.5 2773.3 750.2 2784.5 751.0 2781.8 751.8 2784.3 752.5 2784.4 753.2 2770.3 754.0 2762.7 754.8 2768.9 755.5 2764.3 756.2 2772.4 757.0 2782.7 757.8 2771.4 758.5 2766.7 759.2 2770.6 760.0 2767.9 760.8 2771.3 761.5 2772.1 762.2 2763.5 763.0 2761.9 763.8 2764.5 764.5 2756.1 765.2 2777.6 766.0 2776.0 766.8 2762.4 767.5 2766.5 768.2 2771.9 769.0 2779.8 769.8 2770.7 770.5 2774.1 771.2 2758.3 772.0 2756.8 772.8 2764.8 773.5 2764.7 774.2 2759.4 775.0 2759.8 775.8 2762.9 776.5 2774.2 777.2 2751.3 778.0 2754.3 778.8 2755.4 779.5 2753.5 780.2 2757.9 781.0 2768.5 781.8 2799.2 782.5 2781.9 783.2 2774.1 784.0 2764.7 784.8 2782.8 785.5 2759.8 786.2 2744.0 787.0 2773.8 787.8 2759.4 788.5 2767.9 789.2 2764.1 790.0 2752.1 790.8 2755.4 791.5 2762.9 792.2 2764.4 793.0 2770.1 793.8 2747.5 794.5 2757.7 795.2 2743.8 796.0 2769.0 796.8 2767.2 797.5 2770.6 798.2 2789.8 799.0 2779.6 799.8 2761.4 800.5 2777.3 801.2 2769.6 802.0 2778.4 802.8 2773.3 803.5 2782.7 804.2 2755.9 805.0 2761.5 805.8 2772.5 806.5 2750.4 807.2 2753.0 808.0 2742.2 808.8 2755.9 809.5 2751.3 810.2 2740.9 811.0 2755.3 811.8 2771.5 812.5 2750.1 813.2 2741.9 814.0 2761.2 814.8 2765.3 815.5 2760.1 816.2 2795.4 817.0 2769.2 817.8 2772.3 818.5 2777.7 819.2 2778.4 820.0 2757.6 820.8 2764.8 821.5 2763.3 822.2 2763.1 823.0 2782.9 823.8 2755.0 824.5 2763.1 825.2 2771.6 826.0 2770.4 826.8 2763.9 827.5 2770.8 828.2 2766.9 829.0 2752.7 829.8 2777.5 830.5 2762.6 831.2 2752.9 832.0 2759.9 832.8 2760.6 833.5 2757.5 834.2 2749.5 835.0 2750.7 835.8 2746.6 836.5 2751.3 837.2 2754.8 838.0 2764.2 838.8 2750.8 839.5 2749.4 840.2 2755.0 841.0 2744.3 841.8 2761.4 842.5 2745.3 843.2 2743.0 844.0 2749.8 844.8 2743.4 845.5 2752.7 846.2 2745.1 847.0 2749.2 847.8 2757.2 848.5 2754.3 849.2 2731.5 850.0 2751.8 850.8 2736.8 851.5 2761.7 852.2 2771.0 853.0 2729.3 853.8 2764.2 854.5 2760.3 855.2 2751.3 856.0 2765.4 856.8 2745.6 857.5 2761.1 858.2 2761.0 859.0 2754.6 859.8 2757.1 860.5 2743.2 861.2 2744.0 862.0 2735.4 862.8 2742.3 863.5 2745.2 864.2 2751.6 865.0 2755.6 865.8 2744.4 866.5 2748.0 867.2 2773.0 868.0 2763.0 868.8 2745.8 869.5 2744.0 870.2 2746.4 871.0 2739.9 871.8 2764.0 872.5 2755.6 873.2 2758.8 874.0 2756.3 874.8 2732.5 875.5 2733.4 876.2 2744.3 877.0 2749.1 877.8 2742.2 878.5 2746.7 879.2 2739.4 880.0 2736.9 880.8 2739.1 881.5 2718.0 882.2 2738.7 883.0 2741.3 883.8 2750.7 884.5 2751.8 885.2 2753.3 886.0 2760.1 886.8 2756.9 887.5 2750.0 888.2 2759.1 889.0 2774.3 889.8 2765.9 890.5 2751.5 891.2 2760.2 892.0 2786.9 892.8 2766.7 893.5 2763.9 894.2 2758.9 895.0 2760.5 895.8 2754.2 896.5 2746.3 897.2 2751.4 898.0 2751.6 898.8 2750.9 899.5 2750.8 900.2 2749.5 901.0 2744.7 901.8 2752.6 902.5 2740.1 903.2 2735.7 904.0 2737.3 904.8 2741.1 905.5 2741.0 906.2 2759.1 907.0 2753.3 907.8 2726.1 908.5 2751.6 909.2 2747.6 910.0 2739.6 910.8 2735.5 911.5 2729.7 912.2 2720.1 913.0 2727.7 913.8 2742.4 914.5 2737.9 915.2 2731.4 916.0 2749.6 916.8 2745.6 917.5 2753.1 918.2 2757.9 919.0 2758.2 919.8 2752.3 920.5 2737.3 921.2 2754.3 922.0 2747.4 922.8 2745.4 923.5 2750.6 924.2 2746.6 925.0 2735.6 925.8 2741.3 926.5 2735.1 927.2 2749.2 928.0 2754.8 928.8 2753.1 929.5 2750.3 930.2 2761.4 931.0 2744.5 931.8 2754.5 932.5 2749.6 933.2 2742.8 934.0 2748.5 934.8 2760.3 935.5 2749.5 936.2 2754.9 937.0 2760.9 937.8 2760.6 938.5 2757.4 939.2 2760.2 940.0 2764.4 940.8 2743.4 941.5 2737.2 942.2 2764.6 943.0 2723.8 943.8 2749.6 944.5 2732.2 945.2 2747.6 946.0 2739.1 946.8 2713.3 947.5 2731.4 948.2 2752.0 949.0 2753.6 949.8 2736.1 950.5 2738.2 951.2 2753.3 952.0 2730.2 952.8 2743.0 953.5 2739.1 954.2 2758.3 955.0 2756.6 955.8 2777.1 956.5 2766.4 957.2 2768.9 958.0 2749.6 958.8 2748.8 959.5 2743.1 960.2 2760.6 961.0 2750.8 961.8 2749.7 962.5 2741.9 963.2 2735.4 964.0 2752.5 964.8 2754.3 965.5 2744.9 966.2 2707.8 967.0 2742.9 967.8 2738.5 968.5 2735.9 969.2 2740.8 970.0 2724.8 970.8 2733.8 971.5 2724.9 972.2 2733.6 973.0 2727.2 973.8 2729.6 974.5 2735.5 975.2 2731.7 976.0 2712.9 976.8 2719.7 977.5 2727.0 978.2 2725.0 979.0 2735.9 979.8 2722.1 980.5 2746.0 981.2 2716.3 982.0 2731.9 982.8 2730.1 983.5 2732.4 984.2 2730.5 985.0 2733.7 985.8 2737.4 986.5 2768.4 987.2 2723.2 988.0 2721.7 988.8 2727.3 989.5 2734.5 990.2 2719.9 991.0 2724.2 991.8 2707.8 992.5 2711.8 993.2 2728.5 994.0 2720.8 994.8 2733.6 995.5 2738.2 996.2 2731.9 997.0 2738.9 997.8 2739.9 998.5 2738.3 999.2 2722.8 1000.0 2719.9 1000.8 2739.6 1001.5 2720.8 1002.2 2736.6 1003.0 2743.0 1003.8 2728.3 1004.5 2735.6 1005.2 2723.1 1006.0 2704.5 1006.8 2726.0 1007.5 2711.3 1008.2 2718.2 1009.0 2725.5 1009.8 2712.5 1010.5 2720.7 1011.2 2717.1 1012.0 2742.4 1012.8 2725.8 1013.5 2707.7 1014.2 2706.1 1015.0 2717.8 1015.8 2718.7 1016.5 2692.0 1017.2 2694.3 1018.0 2703.5 1018.8 2691.4 1019.5 2704.5 1020.2 2730.4 1021.0 2719.9 1021.8 2726.7 1022.5 2714.6 1023.2 2717.4 1024.0 2713.1 1024.8 2710.0 1025.5 2721.2 1026.2 2718.4 1027.0 2720.1 1027.8 2710.9 1028.5 2737.9 1029.2 2718.3 1030.0 2719.0 1030.8 2724.0 1031.5 2710.4 1032.2 2704.6 1033.0 2705.9 1033.8 2718.7 1034.5 2708.8 1035.2 2674.0 1036.0 2696.9 1036.8 2689.6 1037.5 2706.1 1038.2 2697.4 1039.0 2699.4 1039.8 2672.1 1040.5 2705.6 1041.2 2700.8 1042.0 2695.5 1042.8 2692.7 1043.5 2704.4 1044.2 2714.9 1045.0 2695.7 1045.8 2698.2 1046.5 2692.2 1047.2 2674.1 1048.0 2686.7 1048.8 2688.7 1049.5 2673.3 1050.2 2685.4 1051.0 2673.3 1051.8 2677.4 1052.5 2666.2 1053.2 2675.0 1054.0 2670.1 1054.8 2680.7 1055.5 2668.0 1056.2 2652.8 1057.0 2668.6 1057.8 2653.1 1058.5 2651.5 1059.2 2664.2 1060.0 2655.4 1060.8 2662.6 1061.5 2687.1 1062.2 2657.4 1063.0 2666.7 1063.8 2694.1 1064.5 2668.9 1065.2 2664.5 1066.0 2664.3 1066.8 2665.2 1067.5 2669.6 1068.2 2663.2 1069.0 2672.5 1069.8 2660.6 1070.5 2663.8 1071.2 2647.8 1072.0 2656.5 1072.8 2654.5 1073.5 2643.6 1074.2 2653.6 1075.0 2662.1 1075.8 2649.4 1076.5 2646.5 1077.2 2662.5 1078.0 2664.3 1078.8 2640.8 1079.5 2651.1 1080.2 2651.1 1081.0 2665.3 1081.8 2647.9 1082.5 2664.2 1083.2 2642.3 1084.0 2657.7 1084.8 2633.4 1085.5 2647.9 1086.2 2625.2 1087.0 2644.0 1087.8 2626.4 1088.5 2636.3 1089.2 2647.9 1090.0 2631.2 1090.8 2636.6 1091.5 2634.4 1092.2 2638.9 1093.0 2628.6 1093.8 2640.4 1094.5 2629.1 1095.2 2612.9 1096.0 2610.4 1096.8 2610.6 1097.5 2612.2 1098.2 2603.6 1099.0 2607.1 1099.8 2603.1 1100.5 2599.3 1101.2 2603.3 1102.0 2595.9 1102.8 2601.0 1103.5 2590.9 1104.2 2594.1 1105.0 2605.4 1105.8 2603.2 1106.5 2599.1 1107.2 2601.9 1108.0 2595.3 1108.8 2611.5 1109.5 2587.0 1110.2 2588.0 1111.0 2559.3 1111.8 2602.5 1112.5 2568.1 1113.2 2583.0 1114.0 2586.1 1114.8 2596.4 1115.5 2582.1 1116.2 2589.7 1117.0 2588.0 1117.8 2578.6 1118.5 2629.9 1119.2 2595.9 1120.0 2585.8 1120.8 2575.4 1121.5 2572.5 1122.2 2574.4 1123.0 2574.5 1123.8 2612.7 1124.5 2594.4 1125.2 2575.1 1126.0 2572.0 1126.8 2578.7 1127.5 2576.5 1128.2 2571.8 1129.0 2587.7 1129.8 2589.6 1130.5 2587.5 1131.2 2589.0 1132.0 2567.4 1132.8 2589.7 1133.5 2584.1 1134.2 2575.3 1135.0 2576.1 1135.8 2591.7 1136.5 2575.7 1137.2 2564.2 1138.0 2568.3 1138.8 2561.6 1139.5 2551.3 1140.2 2540.5 1141.0 2557.3 1141.8 2581.2 1142.5 2585.1 1143.2 2564.9 1144.0 2564.7 1144.8 2571.0 1145.5 2546.8 1146.2 2563.8 1147.0 2550.1 1147.8 2552.2 1148.5 2560.7 1149.2 2551.4 1150.0 2546.5 1150.8 2548.1 1151.5 2546.7 1152.2 2541.6 1153.0 2557.7 1153.8 2566.1 1154.5 2550.8 1155.2 2569.1 1156.0 2543.0 1156.8 2565.2 1157.5 2562.7 1158.2 2553.8 1159.0 2556.1 1159.8 2545.2 1160.5 2549.1 1161.2 2543.1 1162.0 2539.5 1162.8 2542.2 1163.5 2533.7 1164.2 2545.9 1165.0 2528.9 1165.8 2531.7 1166.5 2527.3 1167.2 2511.9 1168.0 2537.6 1168.8 2545.7 1169.5 2554.2 1170.2 2544.8 1171.0 2557.5 1171.8 2565.3 1172.5 2555.2 1173.2 2557.7 1174.0 2554.2 1174.8 2552.9 1175.5 2546.2 1176.2 2564.6 1177.0 2555.2 1177.8 2571.8 1178.5 2556.8 1179.2 2566.4 1180.0 2543.5 1180.8 2559.2 1181.5 2564.1 1182.2 2539.6 1183.0 2527.0 1183.8 2565.4 1184.5 2552.1 1185.2 2538.4 1186.0 2536.5 1186.8 2545.1 1187.5 2529.7 1188.2 2524.9 1189.0 2535.8 1189.8 2554.0 1190.5 2557.9 1191.2 2548.8 1192.0 2571.7 1192.8 2558.3 1193.5 2547.5 1194.2 2562.8 1195.0 2546.4 1195.8 2548.5 1196.5 2552.5 1197.2 2551.1 1198.0 2552.2 1198.8 2544.4 1199.5 2530.0 1200.2 2504.2 1201.0 2540.0 1201.8 2537.8 1202.5 2545.1 1203.2 2545.5 1204.0 2557.6 1204.8 2544.3 1205.5 2536.5 1206.2 2548.3 1207.0 2548.9 1207.8 2542.8 1208.5 2552.3 1209.2 2537.9 1210.0 2531.7 1210.8 2549.3 1211.5 2560.1 1212.2 2532.8 1213.0 2550.8 1213.8 2539.7 1214.5 2532.6 1215.2 2528.3 1216.0 2543.0 1216.8 2539.0 1217.5 2556.3 1218.2 2537.8 1219.0 2554.4 1219.8 2543.2 1220.5 2537.7 1221.2 2546.6 1222.0 2526.1 1222.8 2563.9 1223.5 2548.0 1224.2 2556.5 1225.0 2529.6 1225.8 2518.3 1226.5 2536.2 1227.2 2550.0 1228.0 2534.6 1228.8 2514.0 1229.5 2539.9 1230.2 2540.6 1231.0 2549.3 1231.8 2542.7 1232.5 2553.0 1233.2 2544.6 1234.0 2548.7 1234.8 2530.5 1235.5 2545.1 1236.2 2560.5 1237.0 2538.7 1237.8 2523.6 1238.5 2561.7 1239.2 2528.3 1240.0 2555.5 1240.8 2538.1 1241.5 2526.1 1242.2 2538.2 1243.0 2546.1 1243.8 2556.6 1244.5 2545.3 1245.2 2569.9 1246.0 2533.9 1246.8 2570.7 1247.5 2545.7 1248.2 2549.6 1249.0 2545.3 1249.8 2539.4 1250.5 2549.5 1251.2 2543.6 1252.0 2543.2 1252.8 2509.7 1253.5 2529.3 1254.2 2550.0 1255.0 2549.9 1255.8 2546.4 1256.5 2550.8 1257.2 2551.7 1258.0 2560.1 1258.8 2578.9 1259.5 2556.0 1260.2 2539.4 1261.0 2557.1 1261.8 2538.8 1262.5 2546.9 1263.2 2535.3 1264.0 2531.0 1264.8 2534.7 1265.5 2533.7 1266.2 2547.2 1267.0 2536.0 1267.8 2546.1 1268.5 2544.7 1269.2 2552.6 1270.0 2552.7 1270.8 2547.1 1271.5 2552.3 1272.2 2553.8 1273.0 2544.5 1273.8 2554.8 1274.5 2578.0 1275.2 2560.7 1276.0 2565.1 1276.8 2554.7 1277.5 2545.9 1278.2 2557.7 1279.0 2538.3 1279.8 2569.0 1280.5 2551.8 1281.2 2545.4 1282.0 2530.8 1282.8 2530.1 1283.5 2565.6 1284.2 2554.3 1285.0 2541.0 1285.8 2545.5 1286.5 2543.0 1287.2 2518.4 1288.0 2541.3 1288.8 2555.0 1289.5 2544.5 1290.2 2537.5 1291.0 2544.1 1291.8 2531.9 1292.5 2546.1 1293.2 2548.2 1294.0 2541.0 1294.8 2556.8 1295.5 2565.4 1296.2 2538.3 1297.0 2544.2 1297.8 2582.5 1298.5 2538.4 1299.2 2541.5 1300.0 2554.6 1300.8 2523.9 1301.5 2536.0 1302.2 2503.4 1303.0 2535.7 1303.8 2544.1 1304.5 2529.0 1305.2 2526.3 1306.0 2521.8 1306.8 2547.6 1307.5 2531.4 1308.2 2525.8 1309.0 2551.4 1309.8 2569.4 1310.5 2532.9 1311.2 2554.3 1312.0 2524.4 1312.8 2547.0 1313.5 2562.6 1314.2 2560.6 1315.0 2563.9 1315.8 2521.4 1316.5 2546.7 1317.2 2555.6 1318.0 2549.1 1318.8 2524.0 1319.5 2547.7 1320.2 2548.0 1321.0 2498.6 1321.8 2506.2 1322.5 2563.3 1323.2 2550.2 1324.0 2518.2 1324.8 2526.2 1325.5 2523.8 1326.2 2538.1 1327.0 2521.7 1327.8 2523.0 1328.5 2523.1 1329.2 2527.9 1330.0 2539.7 1330.8 2535.8 1331.5 2525.0 1332.2 2545.9 1333.0 2529.8 1333.8 2538.0 1334.5 2537.5 1335.2 2554.6 1336.0 2529.9 1336.8 2534.7 1337.5 2540.2 1338.2 2540.4 1339.0 2537.7 1339.8 2532.1 1340.5 2543.6 1341.2 2538.3 1342.0 2533.8 1342.8 2529.4 1343.5 2533.6 1344.2 2544.6 1345.0 2542.7 1345.8 2532.9 1346.5 2536.1 1347.2 2510.0 1348.0 2532.3 1348.8 2536.5 1349.5 2516.7 1350.2 2562.6 1351.0 2545.1 1351.8 2527.5 1352.5 2535.8 1353.2 2543.1 1354.0 2553.0 1354.8 2550.3 1355.5 2536.6 1356.2 2517.2 1357.0 2536.7 1357.8 2556.7 1358.5 2558.7 1359.2 2546.2 1360.0 2558.4 1360.8 2569.5 1361.5 2537.8 1362.2 2560.2 1363.0 2550.7 1363.8 2549.8 1364.5 2535.2 1365.2 2557.3 1366.0 2532.3 1366.8 2547.9 1367.5 2520.5 1368.2 2534.7 1369.0 2537.3 1369.8 2557.3 1370.5 2541.8 1371.2 2534.1 1372.0 2527.9 1372.8 2529.5 1373.5 2532.8 1374.2 2537.8 1375.0 2541.7 1375.8 2535.8 1376.5 2525.2 1377.2 2518.2 1378.0 2521.4 1378.8 2524.8 1379.5 2538.2 1380.2 2519.4 1381.0 2529.0 1381.8 2520.0 1382.5 2519.5 1383.2 2528.4 1384.0 2534.7 1384.8 2521.2 1385.5 2520.4 1386.2 2543.5 1387.0 2539.2 1387.8 2551.6 1388.5 2535.9 1389.2 2522.7 1390.0 2503.3 1390.8 2548.4 1391.5 2517.8 1392.2 2531.4 1393.0 2531.1 1393.8 2546.3 1394.5 2507.2 1395.2 2514.8 1396.0 2533.9 1396.8 2529.5 1397.5 2488.5 1398.2 2527.0 1399.0 2500.1 1399.8 2523.4 1400.5 2536.3 1401.2 2477.7 1402.0 2509.3 1402.8 2516.1 1403.5 2516.3 1404.2 2529.7 1405.0 2549.3 1405.8 2505.5 1406.5 2531.3 1407.2 2550.4 1408.0 2526.4 1408.8 2533.3 1409.5 2523.3 1410.2 2499.6 1411.0 2522.6 1411.8 2506.5 1412.5 2521.0 1413.2 2533.3 1414.0 2511.6 1414.8 2529.8 1415.5 2521.0 1416.2 2522.2 1417.0 2531.8 1417.8 2560.8 1418.5 2557.6 1419.2 2553.0 1420.0 2553.0 1420.8 2541.2 1421.5 2547.2 1422.2 2552.6 1423.0 2521.6 1423.8 2553.7 1424.5 2553.3 1425.2 2530.5 1426.0 2529.9 1426.8 2530.9 1427.5 2527.5 1428.2 2526.3 1429.0 2505.6 1429.8 2511.8 1430.5 2515.6 1431.2 2510.0 1432.0 2525.5 1432.8 2517.0 1433.5 2529.1 1434.2 2509.0 1435.0 2490.7 1435.8 2528.4 1436.5 2508.5 1437.2 2507.3 1438.0 2509.8 1438.8 2482.4 1439.5 2486.2 1440.2 2512.1 1441.0 2499.2 1441.8 2494.5 1442.5 2522.5 1443.2 2505.2 1444.0 2493.8 1444.8 2523.5 1445.5 2498.7 1446.2 2505.2 1447.0 2506.2 1447.8 2507.4 1448.5 2513.5 1449.2 2521.0 1450.0 2513.8 1450.8 2497.5 1451.5 2506.3 1452.2 2512.0 1453.0 2526.0 1453.8 2508.7 1454.5 2502.9 1455.2 2512.4 1456.0 2492.3 1456.8 2496.7 1457.5 2504.7 1458.2 2515.5 1459.0 2510.6 1459.8 2520.0 1460.5 2518.2 1461.2 2487.1 1462.0 2492.8 1462.8 2530.3 1463.5 2512.8 1464.2 2508.9 1465.0 2495.4 1465.8 2504.3 1466.5 2477.2 1467.2 2502.8 1468.0 2519.7 1468.8 2491.0 1469.5 2456.8 1470.2 2496.6 1471.0 2494.3 1471.8 2485.4 1472.5 2499.9 1473.2 2486.6 1474.0 2473.8 1474.8 2482.8 1475.5 2502.4 1476.2 2492.2 1477.0 2507.4 1477.8 2503.1 1478.5 2489.6 1479.2 2494.3 1480.0 2496.7 1480.8 2513.1 1481.5 2506.0 1482.2 2503.5 1483.0 2507.0 1483.8 2494.5 1484.5 2521.5 1485.2 2504.0 1486.0 2490.2 1486.8 2503.0 1487.5 2497.1 1488.2 2488.5 1489.0 2495.7 1489.8 2494.2 1490.5 2502.2 1491.2 2510.9 1492.0 2510.3 1492.8 2511.0 1493.5 2509.5 1494.2 2504.6 1495.0 2489.5 1495.8 2498.2 1496.5 2488.2 1497.2 2509.6 1498.0 2468.9 1498.8 2493.0 1499.5 2487.7 1500.2 2493.7 1501.0 2504.9 1501.8 2485.5 1502.5 2513.9 1503.2 2477.8 1504.0 2495.6 1504.8 2484.7 1505.5 2505.4 1506.2 2518.7 1507.0 2506.9 1507.8 2512.9 1508.5 2516.6 1509.2 2509.4 1510.0 2516.5 1510.8 2503.3 1511.5 2504.2 1512.2 2518.8 1513.0 2513.1 1513.8 2497.7 1514.5 2483.2 1515.2 2493.8 1516.0 2492.1 1516.8 2480.1 1517.5 2487.0 1518.2 2495.5 1519.0 2490.2 1519.8 2487.5 1520.5 2492.5 1521.2 2495.3 1522.0 2488.3 1522.8 2504.7 1523.5 2500.0 1524.2 2498.0 1525.0 2505.7 1525.8 2505.6 1526.5 2491.2 1527.2 2504.8 1528.0 2489.0 1528.8 2490.9 1529.5 2498.5 1530.2 2475.8 1531.0 2485.8 1531.8 2496.5 1532.5 2482.1 1533.2 2478.7 1534.0 2514.6 1534.8 2494.3 1535.5 2480.3 1536.2 2481.4 1537.0 2488.3 1537.8 2476.2 1538.5 2483.0 1539.2 2484.8 1540.0 2485.0 1540.8 2469.3 1541.5 2471.7 1542.2 2479.7 1543.0 2482.5 1543.8 2465.1 1544.5 2458.5 1545.2 2492.4 1546.0 2484.7 1546.8 2496.6 1547.5 2505.7 1548.2 2466.2 1549.0 2474.4 1549.8 2498.5 1550.5 2485.7 1551.2 2491.8 1552.0 2487.4 1552.8 2486.7 1553.5 2491.2 1554.2 2493.4 1555.0 2474.0 1555.8 2496.0 1556.5 2483.8 1557.2 2490.2 1558.0 2473.9 1558.8 2480.3 1559.5 2485.0 1560.2 2472.3 1561.0 2471.9 1561.8 2467.6 1562.5 2491.6 1563.2 2498.9 1564.0 2497.8 1564.8 2510.4 1565.5 2487.8 1566.2 2493.6 1567.0 2499.5 1567.8 2497.0 1568.5 2513.6 1569.2 2509.4 1570.0 2491.8 1570.8 2491.4 1571.5 2456.8 1572.2 2488.6 1573.0 2521.7 1573.8 2480.2 1574.5 2473.7 1575.2 2519.4 1576.0 2466.0 1576.8 2479.4 1577.5 2468.1 1578.2 2479.8 1579.0 2484.7 1579.8 2515.1 1580.5 2504.7 1581.2 2496.6 1582.0 2504.7 1582.8 2506.8 1583.5 2511.2 1584.2 2510.6 1585.0 2513.4 1585.8 2497.6 1586.5 2488.4 1587.2 2509.3 1588.0 2514.8 1588.8 2526.6 1589.5 2502.3 1590.2 2506.2 1591.0 2522.6 1591.8 2499.4 1592.5 2499.5 1593.2 2502.2 1594.0 2502.1 1594.8 2481.9 1595.5 2498.8 1596.2 2524.7 1597.0 2514.6 1597.8 2524.8 1598.5 2517.9 1599.2 2511.5 1600.0 2499.3 1600.8 2504.5 1601.5 2521.8 1602.2 2509.4 1603.0 2516.7 1603.8 2497.3 1604.5 2544.1 1605.2 2516.1 1606.0 2527.5 1606.8 2504.6 1607.5 2520.3 1608.2 2514.6 1609.0 2500.0 1609.8 2505.7 1610.5 2540.7 1611.2 2513.4 1612.0 2517.9 1612.8 2506.0 1613.5 2515.9 1614.2 2525.6 1615.0 2511.8 1615.8 2499.1 1616.5 2525.0 1617.2 2505.2 1618.0 2499.4 1618.8 2502.7 1619.5 2517.2 1620.2 2516.9 1621.0 2474.3 1621.8 2509.3 1622.5 2532.6 1623.2 2501.4 1624.0 2514.4 1624.8 2489.7 1625.5 2513.4 1626.2 2523.3 1627.0 2503.2 1627.8 2527.3 1628.5 2522.7 1629.2 2515.2 1630.0 2530.8 1630.8 2519.0 1631.5 2533.6 1632.2 2533.8 1633.0 2536.3 1633.8 2524.5 1634.5 2530.4 1635.2 2531.6 1636.0 2524.3 1636.8 2562.1 1637.5 2538.4 1638.2 2542.7 1639.0 2511.6 1639.8 2532.6 1640.5 2533.6 1641.2 2538.1 1642.0 2544.7 1642.8 2530.7 1643.5 2544.4 1644.2 2538.5 1645.0 2534.0 1645.8 2528.3 1646.5 2544.1 1647.2 2525.1 1648.0 2530.2 1648.8 2525.1 1649.5 2540.8 1650.2 2539.4 1651.0 2539.1 1651.8 2526.5 1652.5 2549.3 1653.2 2537.4 1654.0 2560.0 1654.8 2560.9 1655.5 2533.5 1656.2 2549.3 1657.0 2530.1 1657.8 2514.7 1658.5 2527.5 1659.2 2521.6 1660.0 2528.8 1660.8 2513.0 1661.5 2532.1 1662.2 2513.2 1663.0 2507.1 1663.8 2518.1 1664.5 2498.1 1665.2 2502.4 1666.0 2514.1 1666.8 2521.6 1667.5 2517.0 1668.2 2519.9 1669.0 2539.2 1669.8 2534.8 1670.5 2538.3 1671.2 2558.4 1672.0 2528.9 1672.8 2514.6 1673.5 2525.5 1674.2 2540.1 1675.0 2522.6 1675.8 2525.1 1676.5 2525.3 1677.2 2532.7 1678.0 2509.5 1678.8 2533.2 1679.5 2559.6 1680.2 2543.2 1681.0 2535.2 1681.8 2530.6 1682.5 2525.8 1683.2 2506.0 1684.0 2520.0 1684.8 2524.1 1685.5 2517.1 1686.2 2524.6 1687.0 2519.6 1687.8 2538.6 1688.5 2538.1 1689.2 2533.1 1690.0 2523.6 1690.8 2540.3 1691.5 2543.0 1692.2 2554.7 1693.0 2553.3 1693.8 2542.3 1694.5 2544.8 1695.2 2542.0 1696.0 2554.1 1696.8 2554.0 1697.5 2555.3 1698.2 2540.8 1699.0 2545.9 1699.8 2545.3 1700.5 2532.0 1701.2 2531.5 1702.0 2531.2 1702.8 2530.8 1703.5 2543.4 1704.2 2525.7 1705.0 2541.8 1705.8 2551.6 1706.5 2565.6 1707.2 2554.1 1708.0 2543.2 1708.8 2546.6 1709.5 2545.3 1710.2 2524.5 1711.0 2554.5 1711.8 2547.9 1712.5 2542.0 1713.2 2555.6 1714.0 2532.6 1714.8 2568.5 1715.5 2539.0 1716.2 2542.7 1717.0 2529.5 1717.8 2557.9 1718.5 2537.3 1719.2 2522.2 1720.0 2528.3 1720.8 2538.7 1721.5 2523.2 1722.2 2509.7 1723.0 2531.6 1723.8 2519.7 1724.5 2506.0 1725.2 2518.2 1726.0 2536.1 1726.8 2544.4 1727.5 2533.1 1728.2 2537.0 1729.0 2541.1 1729.8 2562.6 1730.5 2526.5 1731.2 2563.7 1732.0 2549.7 1732.8 2539.3 1733.5 2549.9 1734.2 2527.7 1735.0 2547.6 1735.8 2535.5 1736.5 2525.9 1737.2 2534.1 1738.0 2546.3 1738.8 2523.3 1739.5 2534.3 1740.2 2550.5 1741.0 2551.1 1741.8 2561.3 1742.5 2543.3 1743.2 2551.7 1744.0 2552.9 1744.8 2540.1 1745.5 2538.5 1746.2 2531.0 1747.0 2539.8 1747.8 2533.6 1748.5 2540.1 1749.2 2529.4 1750.0 2534.2 1750.8 2494.8 1751.5 2529.0 1752.2 2538.1 1753.0 2531.6 1753.8 2546.4 1754.5 2527.5 1755.2 2527.1 1756.0 2539.2 1756.8 2530.2 1757.5 2519.4 1758.2 2531.9 1759.0 2546.3 1759.8 2533.3 1760.5 2517.8 1761.2 2519.8 1762.0 2529.3 1762.8 2543.8 1763.5 2566.2 1764.2 2543.3 1765.0 2550.6 1765.8 2543.9 1766.5 2552.3 1767.2 2533.0 1768.0 2533.2 1768.8 2559.1 1769.5 2548.5 1770.2 2537.7 1771.0 2552.5 1771.8 2551.9 1772.5 2565.0 1773.2 2559.1 1774.0 2553.9 1774.8 2543.3 1775.5 2541.7 1776.2 2545.9 1777.0 2549.0 1777.8 2545.4 1778.5 2544.4 1779.2 2533.5 1780.0 2534.7 1780.8 2538.7 1781.5 2560.6 1782.2 2541.3 1783.0 2558.1 1783.8 2533.9 1784.5 2531.9 1785.2 2517.0 1786.0 2553.7 1786.8 2555.1 1787.5 2539.2 1788.2 2558.6 1789.0 2550.8 1789.8 2552.6 1790.5 2553.6 1791.2 2535.6 1792.0 2526.6 1792.8 2538.4 1793.5 2542.3 1794.2 2537.8 1795.0 2548.5 1795.8 2543.8 1796.5 2552.7 1797.2 2551.9 1798.0 2548.1 1798.8 2544.9 1799.5 2546.1 1800.2 2535.9 1801.0 2555.6 1801.8 2537.8 1802.5 2547.3 1803.2 2545.0 1804.0 2546.0 1804.8 2541.3 1805.5 2544.4 1806.2 2543.5 1807.0 2542.5 1807.8 2523.8 1808.5 2531.0 1809.2 2512.9 1810.0 2535.8 1810.8 2540.1 1811.5 2536.2 1812.2 2525.8 1813.0 2533.9 1813.8 2527.7 1814.5 2528.2 1815.2 2530.7 1816.0 2549.6 1816.8 2542.7 1817.5 2557.4 1818.2 2552.9 1819.0 2521.1 1819.8 2517.1 1820.5 2526.4 1821.2 2547.6 1822.0 2535.0 1822.8 2525.5 1823.5 2561.1 1824.2 2535.4 1825.0 2538.3 1825.8 2535.6 1826.5 2532.6 1827.2 2518.6 1828.0 2541.6 1828.8 2533.6 1829.5 2542.6 1830.2 2558.8 1831.0 2530.2 1831.8 2527.9 1832.5 2529.7 1833.2 2549.2 1834.0 2527.3 1834.8 2533.6 1835.5 2527.5 1836.2 2540.2 1837.0 2515.4 1837.8 2531.4 1838.5 2545.9 1839.2 2515.6 1840.0 2530.8 1840.8 2522.9 1841.5 2523.0 1842.2 2544.2 1843.0 2534.3 1843.8 2549.0 1844.5 2544.7 1845.2 2568.5 1846.0 2558.2 1846.8 2554.5 1847.5 2536.5 1848.2 2543.1 1849.0 2530.4 1849.8 2544.1 1850.5 2548.4 1851.2 2511.0 1852.0 2551.6 1852.8 2549.9 1853.5 2543.4 1854.2 2547.1 1855.0 2527.9 1855.8 2547.3 1856.5 2540.1 1857.2 2536.0 1858.0 2520.2 1858.8 2535.4 1859.5 2516.6 1860.2 2548.8 1861.0 2533.9 1861.8 2523.2 1862.5 2510.5 1863.2 2525.1 1864.0 2504.4 1864.8 2501.6 1865.5 2528.9 1866.2 2519.6 1867.0 2523.8 1867.8 2523.4 1868.5 2539.6 1869.2 2533.3 1870.0 2528.6 1870.8 2517.3 1871.5 2539.9 1872.2 2556.5 1873.0 2530.1 1873.8 2517.9 1874.5 2542.0 1875.2 2553.1 1876.0 2544.4 1876.8 2554.4 1877.5 2550.2 1878.2 2544.7 1879.0 2562.2 1879.8 2548.3 1880.5 2538.4 1881.2 2533.9 1882.0 2526.7 1882.8 2522.6 1883.5 2528.8 1884.2 2525.3 1885.0 2523.7 1885.8 2514.0 1886.5 2526.4 1887.2 2522.4 1888.0 2526.5 1888.8 2514.9 1889.5 2545.8 1890.2 2534.7 1891.0 2492.0 1891.8 2514.9 1892.5 2524.0 1893.2 2515.0 1894.0 2557.7 1894.8 2528.3 1895.5 2530.9 1896.2 2547.7 1897.0 2528.5 1897.8 2541.6 1898.5 2541.5 1899.2 2532.6 1900.0 2538.3 1900.8 2551.5 1901.5 2528.4 1902.2 2524.6 1903.0 2530.8 1903.8 2530.0 1904.5 2518.6 1905.2 2545.2 1906.0 2531.1 1906.8 2523.8 1907.5 2523.5 1908.2 2519.8 1909.0 2500.9 1909.8 2510.5 1910.5 2509.4 1911.2 2517.7 1912.0 2519.7 1912.8 2528.6 1913.5 2531.8 1914.2 2528.4 1915.0 2510.7 1915.8 2526.1 1916.5 2483.7 1917.2 2530.8 1918.0 2533.5 1918.8 2510.9 1919.5 2500.6 1920.2 2529.6 1921.0 2527.7 1921.8 2531.5 1922.5 2508.0 1923.2 2505.0 1924.0 2498.9 1924.8 2498.7 1925.5 2511.6 1926.2 2523.7 1927.0 2515.2 1927.8 2525.3 1928.5 2506.0 1929.2 2520.2 1930.0 2517.1 1930.8 2539.6 1931.5 2516.7 1932.2 2493.1 1933.0 2506.0 1933.8 2502.2 1934.5 2521.4 1935.2 2510.4 1936.0 2507.2 1936.8 2503.3 1937.5 2504.5 1938.2 2514.9 1939.0 2521.0 1939.8 2525.7 1940.5 2509.6 1941.2 2499.2 1942.0 2498.1 1942.8 2488.5 1943.5 2479.2 1944.2 2482.7 1945.0 2495.2 1945.8 2505.1 1946.5 2504.6 1947.2 2497.1 1948.0 2489.3 1948.8 2479.4 1949.5 2500.4 1950.2 2488.0 1951.0 2483.0 1951.8 2503.0 1952.5 2521.9 1953.2 2506.3 1954.0 2521.0 1954.8 2513.8 1955.5 2516.4 1956.2 2503.9 1957.0 2491.4 1957.8 2486.3 1958.5 2497.6 1959.2 2513.2 1960.0 2502.7 1960.8 2510.8 1961.5 2517.3 1962.2 2498.8 1963.0 2508.5 1963.8 2497.6 1964.5 2498.7 1965.2 2476.8 1966.0 2500.8 1966.8 2499.9 1967.5 2496.9 1968.2 2502.6 1969.0 2504.2 1969.8 2513.4 1970.5 2495.4 1971.2 2514.1 1972.0 2502.9 1972.8 2510.9 1973.5 2512.1 1974.2 2511.3 1975.0 2517.9 1975.8 2504.1 1976.5 2512.5 1977.2 2511.7 1978.0 2516.7 1978.8 2501.9 1979.5 2505.8 1980.2 2510.6 1981.0 2491.8 1981.8 2497.3 1982.5 2504.4 1983.2 2503.7 1984.0 2512.0 1984.8 2506.7 1985.5 2517.3 1986.2 2503.7 1987.0 2500.3 1987.8 2504.7 1988.5 2517.6 1989.2 2491.6 1990.0 2498.9 1990.8 2520.7 1991.5 2502.4 1992.2 2497.2 1993.0 2491.1 1993.8 2483.6 1994.5 2508.5 1995.2 2513.4 1996.0 2482.9 1996.8 2486.3 1997.5 2486.6 1998.2 2498.7 1999.0 2482.1 1999.8 2505.3 2000.5 2493.4 2001.2 2500.9 2002.0 2507.1 2002.8 2496.8 2003.5 2488.1 2004.2 2494.4 2005.0 2504.2 2005.8 2500.8 2006.5 2499.0 2007.2 2503.4 2008.0 2503.0 2008.8 2464.9 2009.5 2497.2 2010.2 2512.1 2011.0 2509.3 2011.8 2484.4 2012.5 2480.1 2013.2 2500.3 2014.0 2485.5 2014.8 2493.5 2015.5 2486.3 2016.2 2484.0 2017.0 2492.9 2017.8 2500.1 2018.5 2489.2 2019.2 2505.1 2020.0 2483.4 2020.8 2484.3 2021.5 2487.8 2022.2 2478.6 2023.0 2482.0 2023.8 2477.7 2024.5 2479.1 2025.2 2486.7 2026.0 2478.1 2026.8 2498.6 2027.5 2504.2 2028.2 2494.3 2029.0 2486.6 2029.8 2493.4 2030.5 2484.4 2031.2 2438.8 2032.0 2477.7 2032.8 2486.7 2033.5 2489.4 2034.2 2481.0 2035.0 2463.9 2035.8 2479.2 2036.5 2479.8 2037.2 2493.2 2038.0 2486.4 2038.8 2466.1 2039.5 2493.5 2040.2 2485.8 2041.0 2479.2 2041.8 2495.1 2042.5 2496.8 2043.2 2469.1 2044.0 2472.7 2044.8 2471.1 2045.5 2492.1 2046.2 2477.3 2047.0 2487.6 2047.8 2482.8 2048.5 2462.2 2049.2 2476.2 2050.0 2492.4 2050.8 2463.8 2051.5 2465.9 2052.2 2480.6 2053.0 2508.1 2053.8 2505.8 2054.5 2460.8 2055.2 2473.8 2056.0 2484.5 2056.8 2473.7 2057.5 2487.9 2058.2 2490.5 2059.0 2484.6 2059.8 2497.4 2060.5 2492.7 2061.2 2474.5 2062.0 2489.1 2062.8 2477.8 2063.5 2488.6 2064.2 2467.3 2065.0 2476.1 2065.8 2471.3 2066.5 2453.8 2067.2 2436.4 2068.0 2454.3 2068.8 2450.2 2069.5 2442.9 2070.2 2474.0 2071.0 2465.9 2071.8 2478.9 2072.5 2506.7 2073.2 2468.5 2074.0 2460.0 2074.8 2472.1 2075.5 2458.5 2076.2 2463.4 2077.0 2436.7 2077.8 2447.3 2078.5 2466.9 2079.2 2462.1 2080.0 2453.8 2080.8 2477.1 2081.5 2460.9 2082.2 2457.8 2083.0 2466.3 2083.8 2464.8 2084.5 2462.1 2085.2 2446.0 2086.0 2482.5 2086.8 2468.7 2087.5 2466.2 2088.2 2471.9 2089.0 2472.9 2089.8 2471.4 2090.5 2489.5 2091.2 2476.7 2092.0 2484.1 2092.8 2462.2 2093.5 2471.9 2094.2 2482.0 2095.0 2453.7 2095.8 2441.1 2096.5 2447.9 2097.2 2454.7 2098.0 2449.8 2098.8 2438.3 2099.5 2471.0 2100.2 2474.1 2101.0 2471.4 2101.8 2458.3 2102.5 2451.4 2103.2 2460.2 2104.0 2472.0 2104.8 2460.9 2105.5 2473.8 2106.2 2469.4 2107.0 2463.4 2107.8 2437.7 2108.5 2454.3 2109.2 2453.0 2110.0 2464.5 2110.8 2464.3 2111.5 2459.8 2112.2 2465.3 2113.0 2451.5 2113.8 2455.0 2114.5 2464.4 2115.2 2460.9 2116.0 2473.1 2116.8 2470.5 2117.5 2457.7 2118.2 2448.2 2119.0 2441.6 2119.8 2447.9 2120.5 2450.9 2121.2 2443.7 2122.0 2438.4 2122.8 2450.7 2123.5 2460.2 2124.2 2464.7 2125.0 2489.2 2125.8 2454.6 2126.5 2465.5 2127.2 2449.5 2128.0 2442.9 2128.8 2441.7 2129.5 2460.8 2130.2 2444.3 2131.0 2442.6 2131.8 2439.6 2132.5 2437.5 2133.2 2447.2 2134.0 2439.2 2134.8 2435.4 2135.5 2439.7 2136.2 2457.9 2137.0 2431.2 2137.8 2442.5 2138.5 2439.5 2139.2 2445.5 2140.0 2435.1 2140.8 2457.1 2141.5 2443.3 2142.2 2454.5 2143.0 2440.4 2143.8 2442.8 2144.5 2438.5 2145.2 2469.8 2146.0 2457.4 2146.8 2465.8 2147.5 2465.0 2148.2 2454.9 2149.0 2462.6 2149.8 2451.0 2150.5 2451.7 2151.2 2447.2 2152.0 2461.3 2152.8 2458.9 2153.5 2450.0 2154.2 2451.4 2155.0 2446.3 2155.8 2436.3 2156.5 2450.6 2157.2 2426.6 2158.0 2441.6 2158.8 2454.6 2159.5 2446.0 2160.2 2453.4 2161.0 2433.6 2161.8 2442.1 2162.5 2443.7 2163.2 2408.8 2164.0 2437.0 2164.8 2420.5 2165.5 2417.3 2166.2 2442.0 2167.0 2442.9 2167.8 2429.6 2168.5 2439.5 2169.2 2438.1 2170.0 2420.7 2170.8 2425.2 2171.5 2433.5 2172.2 2411.9 2173.0 2431.1 2173.8 2439.0 2174.5 2416.9 2175.2 2416.5 2176.0 2416.5 2176.8 2414.8 2177.5 2422.0 2178.2 2429.6 2179.0 2447.4 2179.8 2423.3 2180.5 2433.5 2181.2 2437.2 2182.0 2425.8 2182.8 2425.6 2183.5 2420.6 2184.2 2425.3 2185.0 2431.2 2185.8 2440.0 2186.5 2412.4 2187.2 2419.3 2188.0 2447.8 2188.8 2431.5 2189.5 2426.1 2190.2 2402.5 2191.0 2420.0 2191.8 2419.7 2192.5 2402.3 2193.2 2413.0 2194.0 2410.8 2194.8 2413.6 2195.5 2413.2" stroke="#ff0000" stroke-width="5.0" fill="none" stroke-linejoin="round"/>
<line x1="1540.5" y1="654" x2="1542.5" y2="2582" stroke="#000" stroke-width="7" stroke-dasharray="24 27.5" stroke-linecap="round"/>
<line x1="1262.5" y1="922.5" x2="1196.5" y2="2593.5" stroke="#ff0000" stroke-width="7.5" stroke-dasharray="24 27.5" stroke-linecap="round"/>
<rect x="254.5" y="97.5" width="1944" height="2913" fill="none" stroke="#000" stroke-width="9"/>
<line x1="416.5" y1="2969.5" x2="416.5" y2="3008" stroke="#000" stroke-width="9" stroke-linecap="round"/>
<line x1="1064.1" y1="2969.5" x2="1064.1" y2="3008" stroke="#000" stroke-width="9" stroke-linecap="round"/>
<line x1="1711.7" y1="2969.5" x2="1711.7" y2="3008" stroke="#000" stroke-width="9" stroke-linecap="round"/>
<line x1="740.3" y1="2990" x2="740.3" y2="3008" stroke="#000" stroke-width="9" stroke-linecap="round"/>
<line x1="1387.9" y1="2990" x2="1387.9" y2="3008" stroke="#000" stroke-width="9" stroke-linecap="round"/>
<line x1="2035.5" y1="2990" x2="2035.5" y2="3008" stroke="#000" stroke-width="9" stroke-linecap="round"/>
<text x="0" y="0" font-size="103.59" font-family="'Liberation Serif', 'Times New Roman', serif" fill="#000" transform="matrix(0.9432 0 0 1 320.31 3128.79)" style="font-kerning:none" text-rendering="geometricPrecision">1100</text>
<text x="0" y="0" font-size="103.14" font-family="'Liberation Serif', 'Times New Roman', serif" fill="#000" transform="matrix(0.9473 0 0 1 968.21 3128.49)" style="font-kerning:none" text-rendering="geometricPrecision">1000</text>
<text x="0" y="0" font-size="103.73" font-family="'Liberation Serif', 'Times New Roman', serif" fill="#000" transform="matrix(0.9521 0 0 1 1638.62 3128.89)" style="font-kerning:none" text-rendering="geometricPrecision">900</text>
<text x="0" y="0" font-size="122.00" font-family="'Liberation Serif', 'Times New Roman', serif" fill="#000" transform="matrix(0.9645 0 0 1 757.71 3310.90)" style="font-kerning:none" text-rendering="geometricPrecision">Raman Shift, cm</text>
<text x="0" y="0" font-size="74.00" font-family="'Liberation Serif', 'Times New Roman', serif" fill="#000" transform="matrix(0.8687 0 0 1 1550.31 3246.90)" style="font-kerning:none" text-rendering="geometricPrecision">-1</text>
<text x="0" y="0" font-size="122.30" font-family="'Liberation Serif', 'Times New Roman', serif" fill="#000" transform="translate(183.1 2134.36) rotate(-90) scale(0.9821 1)" style="font-kerning:none" text-rendering="geometricPrecision">Relative Raman Intensity</text>
<text x="0" y="0" font-size="121.50" font-family="'Liberation Serif', 'Times New Roman', serif" fill="#000" transform="matrix(1.0312 0 0 1 278.09 221.70)" style="font-kerning:none" text-rendering="geometricPrecision">H</text>
<text x="0" y="0" font-size="73.50" font-family="'Liberation Serif', 'Times New Roman', serif" fill="#000" transform="matrix(1.0178 0 0 1 363.74 269.10)" style="font-kerning:none" text-rendering="geometricPrecision">K</text>
<text x="0" y="0" font-size="121.50" font-family="'Liberation Serif', 'Times New Roman', serif" fill="#000" transform="matrix(0.9751 0 0 1 414.67 221.70)" style="font-kerning:none" text-rendering="geometricPrecision">V</text>
<text x="0" y="0" font-size="73.50" font-family="'Liberation Serif', 'Times New Roman', serif" fill="#000" transform="matrix(1.0192 0 0 1 498.15 269.10)" style="font-kerning:none" text-rendering="geometricPrecision">X</text>
<text x="0" y="0" font-size="121.50" font-family="'Liberation Serif', 'Times New Roman', serif" fill="#000" transform="matrix(1.0132 0 0 1 547.95 221.70)" style="font-kerning:none" text-rendering="geometricPrecision">O</text>
<text x="0" y="0" font-size="73.50" font-family="'Liberation Serif', 'Times New Roman', serif" fill="#000" transform="matrix(0.9864 0 0 1 634.29 269.10)" style="font-kerning:none" text-rendering="geometricPrecision">Y</text>
<text x="0" y="0" font-size="73.50" font-family="'Liberation Serif', 'Times New Roman', serif" fill="#000" transform="matrix(1.0000 0 0 1 681.48 157.80)" style="font-kerning:none" text-rendering="geometricPrecision">Z-</text>
<text x="0" y="0" font-size="121.50" font-family="'Liberation Serif', 'Times New Roman', serif" fill="#000" transform="matrix(0.9804 0 0 1 748.90 221.70)" style="font-kerning:none" text-rendering="geometricPrecision">/TiO</text>
<text x="0" y="0" font-size="73.50" font-family="'Liberation Serif', 'Times New Roman', serif" fill="#000" transform="matrix(1.0487 0 0 1 969.51 269.10)" style="font-kerning:none" text-rendering="geometricPrecision">2</text>
<text x="0" y="0" font-size="121.50" font-family="'Liberation Serif', 'Times New Roman', serif" fill="#000" transform="matrix(0.9839 0 0 1 1032.17 221.70)" style="font-kerning:none" text-rendering="geometricPrecision">pastes</text>
<text x="0" y="0" font-size="121.50" font-family="'Liberation Serif', 'Times New Roman', serif" fill="#000" transform="matrix(0.9984 0 0 1 286.61 413.90)" style="font-kerning:none" text-rendering="geometricPrecision">T=</text>
<text x="0" y="0" font-size="121.50" font-family="'Liberation Serif', 'Times New Roman', serif" fill="#000" transform="matrix(0.9532 0 0 1 449.71 413.90)" style="font-kerning:none" text-rendering="geometricPrecision">25</text>
<text x="0" y="0" font-size="121.50" font-family="'Liberation Serif', 'Times New Roman', serif" fill="#000" transform="matrix(0.9794 0 0 1 598.51 413.90)" style="font-kerning:none" text-rendering="geometricPrecision">°C</text>
<text x="0" y="0" font-size="121.50" font-family="'Liberation Serif', 'Times New Roman', serif" fill="#000" transform="matrix(0.9709 0 0 1 284.64 559.60)" style="font-kerning:none" text-rendering="geometricPrecision">under</text>
<text x="0" y="0" font-size="121.50" font-family="'Liberation Serif', 'Times New Roman', serif" fill="#000" transform="matrix(1.0170 0 0 1 580.83 559.60)" style="font-kerning:none" text-rendering="geometricPrecision">O</text>
<text x="0" y="0" font-size="73.50" font-family="'Liberation Serif', 'Times New Roman', serif" fill="#000" transform="matrix(1.0385 0 0 1 665.35 606.50)" style="font-kerning:none" text-rendering="geometricPrecision">2</text>
<text x="0" y="0" font-size="106.00" font-family="'Liberation Sans', Arial, sans-serif" fill="#000" transform="matrix(0.9520 0 0 1 1423.63 419.90)" style="font-kerning:none" text-rendering="geometricPrecision">TiOV(OH)</text>
<text x="0" y="0" font-size="61.00" font-family="'Liberation Sans', Arial, sans-serif" fill="#000" transform="matrix(0.9968 0 0 1 1871.24 459.90)" style="font-kerning:none" text-rendering="geometricPrecision">2</text>
<text x="0" y="0" font-size="106.00" font-family="'Liberation Sans', Arial, sans-serif" fill="#000" transform="matrix(0.9481 0 0 1 1904.54 419.90)" style="font-kerning:none" text-rendering="geometricPrecision">O</text>
<text x="0" y="0" font-size="86.58" font-family="'Liberation Sans', Arial, sans-serif" fill="#000" transform="matrix(0.9437 0 0 1 1468.17 581.25)" style="font-kerning:none" text-rendering="geometricPrecision">926</text>
<text x="0" y="0" font-size="103.50" font-family="'Liberation Serif', 'Times New Roman', serif" fill="#000" transform="matrix(0.9563 0 0 1 1857.81 611.60)" style="font-kerning:none" text-rendering="geometricPrecision">pH=10</text>
<text x="0" y="0" font-size="103.50" font-family="'Liberation Serif', 'Times New Roman', serif" fill="#0000ff" transform="matrix(0.9592 0 0 1 1859.10 870.60)" style="font-kerning:none" text-rendering="geometricPrecision">pH=9</text>
<text x="0" y="0" font-size="103.50" font-family="'Liberation Serif', 'Times New Roman', serif" fill="#0000ff" transform="matrix(0.9506 0 0 1 1843.71 1197.60)" style="font-kerning:none" text-rendering="geometricPrecision">pH=8</text>
<text x="0" y="0" font-size="103.50" font-family="'Liberation Serif', 'Times New Roman', serif" fill="#0000ff" transform="matrix(0.9527 0 0 1 1848.51 1490.50)" style="font-kerning:none" text-rendering="geometricPrecision">pH=7</text>
<text x="0" y="0" font-size="103.50" font-family="'Liberation Serif', 'Times New Roman', serif" fill="#ff0000" transform="matrix(0.9570 0 0 1 1870.40 1772.70)" style="font-kerning:none" text-rendering="geometricPrecision">pH=6</text>
<text x="0" y="0" font-size="103.50" font-family="'Liberation Serif', 'Times New Roman', serif" fill="#ff0000" transform="matrix(0.9445 0 0 1 1874.82 2047.60)" style="font-kerning:none" text-rendering="geometricPrecision">pH=5</text>
<text x="0" y="0" font-size="103.50" font-family="'Liberation Serif', 'Times New Roman', serif" fill="#ff0000" transform="matrix(0.9454 0 0 1 1884.62 2405.70)" style="font-kerning:none" text-rendering="geometricPrecision">pH=4</text>
<text x="0" y="0" font-size="99.61" font-family="'Liberation Sans', Arial, sans-serif" fill="#000" transform="matrix(1.0257 0 0 1 323.46 915.18)" style="font-kerning:none" text-rendering="geometricPrecision">(a)</text>
<text x="0" y="0" font-size="99.61" font-family="'Liberation Sans', Arial, sans-serif" fill="#0000ff" transform="matrix(1.0248 0 0 1 305.67 1265.18)" style="font-kerning:none" text-rendering="geometricPrecision">(b)</text>
<text x="0" y="0" font-size="99.61" font-family="'Liberation Sans', Arial, sans-serif" fill="#0000ff" transform="matrix(1.0203 0 0 1 305.70 1615.18)" style="font-kerning:none" text-rendering="geometricPrecision">(c)</text>
<text x="0" y="0" font-size="99.72" font-family="'Liberation Sans', Arial, sans-serif" fill="#0000ff" transform="matrix(1.0128 0 0 1 307.84 1879.06)" style="font-kerning:none" text-rendering="geometricPrecision">(d)</text>
<text x="0" y="0" font-size="99.82" font-family="'Liberation Sans', Arial, sans-serif" fill="#ff0000" transform="matrix(1.0135 0 0 1 295.73 2182.13)" style="font-kerning:none" text-rendering="geometricPrecision">(e)</text>
<text x="0" y="0" font-size="85.66" font-family="'Liberation Sans', Arial, sans-serif" fill="#ff0000" transform="matrix(1.0424 0 0 1 311.36 2464.07)" style="font-kerning:none" text-rendering="geometricPrecision">(f)</text>
<text x="0" y="0" font-size="100.63" font-family="'Liberation Sans', Arial, sans-serif" fill="#ff0000" transform="matrix(1.0162 0 0 1 293.46 2771.92)" style="font-kerning:none" text-rendering="geometricPrecision">(g)</text>
<text x="0" y="0" font-size="86.44" font-family="'Liberation Sans', Arial, sans-serif" fill="#ff0000" transform="matrix(0.9422 0 0 1 1072.08 2746.26)" style="font-kerning:none" text-rendering="geometricPrecision">970-980</text>
<text x="0" y="0" font-size="103.00" font-family="'Liberation Sans', Arial, sans-serif" fill="#ff0000" transform="matrix(0.9840 0 0 1 985.41 2875.60)" style="font-kerning:none" text-rendering="geometricPrecision">(TiO)</text>
<text x="0" y="0" font-size="61.00" font-family="'Liberation Sans', Arial, sans-serif" fill="#ff0000" transform="matrix(1.0076 0 0 1 1214.91 2916.00)" style="font-kerning:none" text-rendering="geometricPrecision">2</text>
<text x="0" y="0" font-size="105.70" font-family="'Liberation Sans', Arial, sans-serif" fill="#ff0000" transform="matrix(0.9903 0 0 1 1246.44 2875.60)" style="font-kerning:none" text-rendering="geometricPrecision">V</text>
<text x="0" y="0" font-size="61.00" font-family="'Liberation Sans', Arial, sans-serif" fill="#ff0000" transform="matrix(0.9500 0 0 1 1314.47 2916.00)" style="font-kerning:none" text-rendering="geometricPrecision">4</text>
<text x="0" y="0" font-size="105.70" font-family="'Liberation Sans', Arial, sans-serif" fill="#ff0000" transform="matrix(0.9549 0 0 1 1347.12 2875.60)" style="font-kerning:none" text-rendering="geometricPrecision">O</text>
<text x="0" y="0" font-size="61.00" font-family="'Liberation Sans', Arial, sans-serif" fill="#ff0000" transform="matrix(0.9109 0 0 1 1427.47 2916.00)" style="font-kerning:none" text-rendering="geometricPrecision">10</text>
</svg>
</body></html>
